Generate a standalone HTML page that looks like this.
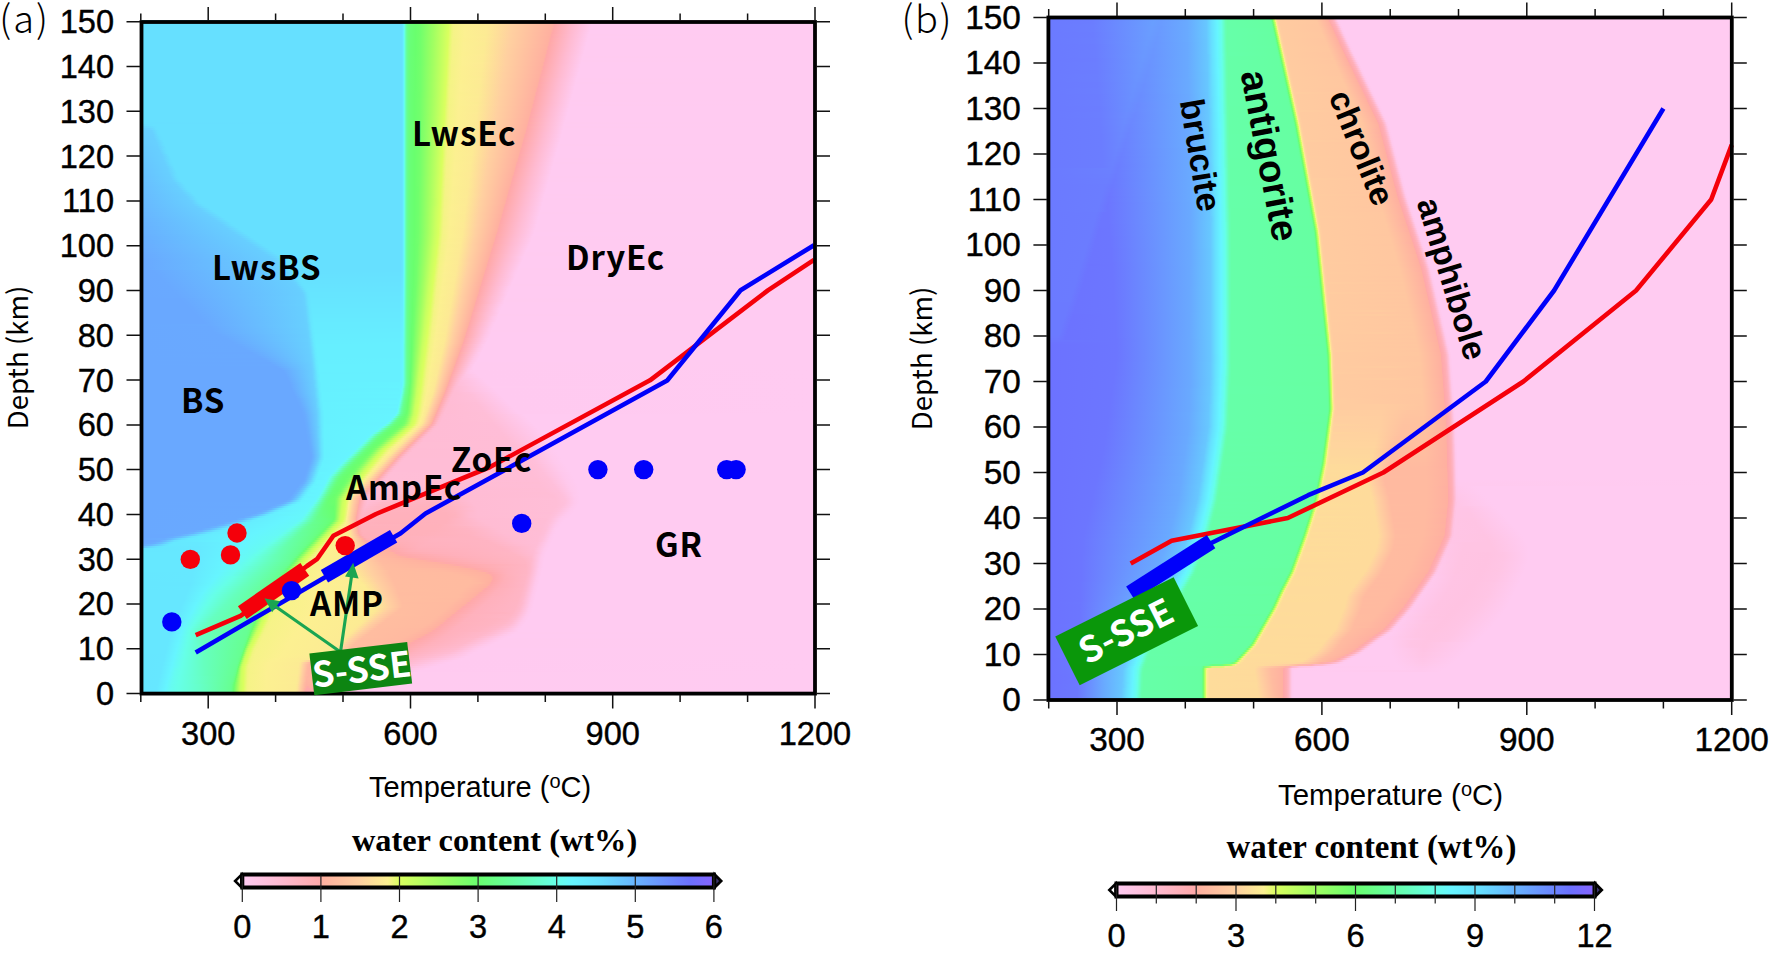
<!DOCTYPE html>
<html><head><meta charset="utf-8"><title>Water content phase diagrams</title>
<style>
html,body{margin:0;padding:0;background:#fff}
#w{position:relative;width:1770px;height:953px;overflow:hidden;background:#fff}
.f{position:absolute;overflow:hidden}
.f i{display:block;height:2px}
svg{position:absolute;left:0;top:0}
.tk{font:32.6px 'Liberation Sans','Noto Sans CJK JP',sans-serif;fill:#000;stroke:#000;stroke-width:.4px}
.tb{font-size:33.4px}
.lb{font:700 33px 'Noto Sans CJK JP','Liberation Sans',sans-serif;fill:#000;letter-spacing:.9px}
</style></head><body><div id="w">
<div class="f" style="left:140px;top:20px;width:676px;height:675px"><i style="background:linear-gradient(90deg,#66e0ff 0,#66e0ff 259.5px,#66e1ff 261.5px,#66e6ff 262.5px,#66f1ff 263.5px,#66ffe7 264.5px,#66ffc0 265.5px,#66ffa0 266.5px,#67ff8e 267.5px,#68ff83 268.5px,#69ff77 270.5px,#69ff6f 274.5px,#71ff6c 280.5px,#9fff62 293.5px,#d8ff5f 308.5px,#ddfe63 309.5px,#eaf877 311.5px,#f4f485 313.5px,#fcf091 325.5px,#fdeb94 347.5px,#ffd0a0 372.5px,#ffb0a0 413.5px,#ffa8a8 415.5px,#ffbad1 434.5px,#ffcbf1 452.5px,#ffcbf1 675.5px)"></i><i style="background:linear-gradient(90deg,#66e0ff 0,#66e0ff 259.5px,#66e1ff 261.5px,#66e6ff 262.5px,#66f1ff 263.5px,#66ffe7 264.5px,#66ffc0 265.5px,#66ffa0 266.5px,#67ff8e 267.5px,#68ff83 268.5px,#69ff77 270.5px,#69ff6e 275.5px,#71ff6c 280.5px,#9fff62 293.5px,#d8ff5f 308.5px,#ddfe64 309.5px,#ebf778 311.5px,#f4f485 313.5px,#fcf091 325.5px,#fdea94 347.5px,#ffd0a0 372.5px,#ffb1a0 412.5px,#ffa8a9 415.5px,#ffbbd1 434.5px,#ffcbf1 452.5px,#ffcbf1 675.5px)"></i><i style="background:linear-gradient(90deg,#66e0ff 0,#66e0ff 259.5px,#66e1ff 261.5px,#66e6ff 262.5px,#66f1ff 263.5px,#66ffe7 264.5px,#66ffc0 265.5px,#66ffa0 266.5px,#67ff8e 267.5px,#68ff83 268.5px,#69ff77 270.5px,#69ff6e 275.5px,#71ff6c 280.5px,#a0ff62 293.5px,#d8ff5f 308.5px,#defd65 309.5px,#f1f581 312.5px,#f4f386 313.5px,#fcf091 325.5px,#fdea94 347.5px,#ffd0a0 372.5px,#ffb0a0 412.5px,#ffa8a8 414.5px,#ffbad1 433.5px,#ffcbf1 451.5px,#ffcbf1 675.5px)"></i><i style="background:linear-gradient(90deg,#66e0ff 0,#66e0ff 259.5px,#66e1ff 261.5px,#66e6ff 262.5px,#66f1ff 263.5px,#66ffe7 264.5px,#66ffc0 265.5px,#66ffa0 266.5px,#67ff8e 267.5px,#68ff83 268.5px,#69ff77 270.5px,#69ff6e 275.5px,#71ff6c 280.5px,#a0ff62 293.5px,#d9ff5f 308.5px,#ecf77a 311.5px,#f5f386 313.5px,#fcf090 324.5px,#fceb93 346.5px,#ffd0a0 371.5px,#ffb1a0 411.5px,#ffa9a9 414.5px,#ffbbd2 433.5px,#ffcbf1 451.5px,#ffcbf1 675.5px)"></i><i style="background:linear-gradient(90deg,#66e0ff 0,#66e0ff 259.5px,#66e1ff 261.5px,#66e6ff 262.5px,#66f1ff 263.5px,#66ffe7 264.5px,#66ffc0 265.5px,#66ffa0 266.5px,#67ff8e 267.5px,#68ff83 268.5px,#69ff77 270.5px,#69ff6e 275.5px,#71ff6c 280.5px,#a0ff62 293.5px,#d9ff5f 308.5px,#edf77b 311.5px,#f5f386 313.5px,#fcf091 324.5px,#fdeb94 346.5px,#ffd0a0 371.5px,#ffb0a0 411.5px,#ffa8a8 413.5px,#ffbad1 432.5px,#ffcbf1 450.5px,#ffcbf1 675.5px)"></i><i style="background:linear-gradient(90deg,#66e0ff 0,#66e0ff 259.5px,#66e1ff 261.5px,#66e6ff 262.5px,#66f1ff 263.5px,#66ffe7 264.5px,#66ffc0 265.5px,#66ffa0 266.5px,#67ff8e 267.5px,#68ff83 268.5px,#69ff77 270.5px,#69ff6e 275.5px,#71ff6c 280.5px,#a0ff62 293.5px,#d9ff5f 308.5px,#edf67c 311.5px,#f5f387 313.5px,#fcf091 324.5px,#fdea94 346.5px,#ffd0a0 371.5px,#ffb1a0 410.5px,#ffa9a9 413.5px,#ffbad0 431.5px,#ffcbf1 450.5px,#ffcbf1 675.5px)"></i><i style="background:linear-gradient(90deg,#66e0ff 0,#66e0ff 259.5px,#66e1ff 261.5px,#66e6ff 262.5px,#66f1ff 263.5px,#66ffe7 264.5px,#66ffc0 265.5px,#66ffa0 266.5px,#67ff8e 267.5px,#68ff83 268.5px,#69ff77 270.5px,#69ff6e 275.5px,#71ff6c 280.5px,#a1ff62 293.5px,#daff5f 308.5px,#eef67c 311.5px,#f5f387 313.5px,#fcf091 324.5px,#fdea94 346.5px,#ffd0a0 370.5px,#ffb0a0 410.5px,#ffa8a8 412.5px,#ffbad1 431.5px,#ffcbf1 449.5px,#ffcbf1 675.5px)"></i><i style="background:linear-gradient(90deg,#66e0ff 0,#66e0ff 259.5px,#66e1ff 261.5px,#66e6ff 262.5px,#66f1ff 263.5px,#66ffe7 264.5px,#66ffc0 265.5px,#66ffa0 266.5px,#67ff8e 267.5px,#68ff83 268.5px,#69ff77 270.5px,#69ff6e 275.5px,#71ff6c 280.5px,#a1ff62 293.5px,#d7ff5f 307.5px,#daff60 308.5px,#eef67d 311.5px,#f5f387 313.5px,#fcf091 324.5px,#fceb93 345.5px,#ffd0a0 370.5px,#ffb1a0 409.5px,#ffa9a7 411.5px,#ffbad0 430.5px,#ffcbf0 448.5px,#ffcbf1 675.5px)"></i><i style="background:linear-gradient(90deg,#66e0ff 0,#66e0ff 259.5px,#66e1ff 261.5px,#66e6ff 262.5px,#66f1ff 263.5px,#66ffe7 264.5px,#66ffc0 265.5px,#66ffa0 266.5px,#67ff8e 267.5px,#68ff83 268.5px,#69ff77 270.5px,#69ff6e 275.5px,#72ff6c 280.5px,#a1ff62 293.5px,#d7ff5f 307.5px,#dbff61 308.5px,#eff67e 311.5px,#f5f387 313.5px,#fcf091 324.5px,#fdeb94 345.5px,#ffd0a0 370.5px,#ffb0a0 409.5px,#ffa8a9 411.5px,#ffbad1 430.5px,#ffcbf1 448.5px,#ffcbf1 675.5px)"></i><i style="background:linear-gradient(90deg,#66e0ff 0,#66e0ff 259.5px,#66e1ff 261.5px,#66e6ff 262.5px,#66f1ff 263.5px,#66ffe7 264.5px,#66ffc0 265.5px,#66ffa0 266.5px,#67ff8e 267.5px,#68ff83 268.5px,#69ff77 270.5px,#69ff6e 275.5px,#72ff6c 280.5px,#a1ff62 293.5px,#d7ff5f 307.5px,#dcfe62 308.5px,#eaf876 310.5px,#f3f484 312.5px,#fcf090 323.5px,#fdea94 345.5px,#ffd0a0 369.5px,#ffb1a0 408.5px,#ffa9a7 410.5px,#ffbad0 429.5px,#ffcbf0 447.5px,#ffcbf1 675.5px)"></i><i style="background:linear-gradient(90deg,#66e0ff 0,#66e0ff 259.5px,#66e1ff 261.5px,#66e6ff 262.5px,#66f1ff 263.5px,#66ffe7 264.5px,#66ffc0 265.5px,#66ffa0 266.5px,#67ff8e 267.5px,#68ff83 268.5px,#69ff77 270.5px,#69ff6e 275.5px,#72ff6c 280.5px,#a1ff62 293.5px,#d8ff5f 307.5px,#dcfe63 308.5px,#eaf877 310.5px,#f4f485 312.5px,#fcf090 323.5px,#fdea94 345.5px,#ffd0a0 369.5px,#ffb0a0 408.5px,#ffa8a9 410.5px,#ffbbd1 429.5px,#ffcbf1 447.5px,#ffcbf1 675.5px)"></i><i style="background:linear-gradient(90deg,#66e0ff 0,#66e0ff 259.5px,#66e1ff 261.5px,#66e6ff 262.5px,#66f1ff 263.5px,#66ffe7 264.5px,#66ffc0 265.5px,#66ffa0 266.5px,#67ff8e 267.5px,#68ff83 268.5px,#69ff77 270.5px,#69ff6e 275.5px,#72ff6c 280.5px,#a2ff62 293.5px,#d8ff5f 307.5px,#ddfe64 308.5px,#ebf878 310.5px,#f4f485 312.5px,#fcf091 323.5px,#fceb93 344.5px,#ffd0a0 369.5px,#ffb1a0 407.5px,#ffa9a7 409.5px,#ffbad0 428.5px,#ffcbf1 446.5px,#ffcbf1 675.5px)"></i><i style="background:linear-gradient(90deg,#66e0ff 0,#66e0ff 259.5px,#66e1ff 261.5px,#66e6ff 262.5px,#66f1ff 263.5px,#66ffe7 264.5px,#66ffc0 265.5px,#66ffa0 266.5px,#67ff8e 267.5px,#68ff83 268.5px,#69ff77 270.5px,#69ff6e 275.5px,#72ff6c 280.5px,#a2ff62 293.5px,#d8ff5f 307.5px,#defd65 308.5px,#f1f581 311.5px,#f4f386 312.5px,#fcf091 323.5px,#fceb93 344.5px,#ffd0a0 368.5px,#ffb0a0 407.5px,#ffa8a9 409.5px,#ffbbd1 428.5px,#ffcbf1 446.5px,#ffcbf1 675.5px)"></i><i style="background:linear-gradient(90deg,#66e0ff 0,#66e0ff 259.5px,#66e1ff 261.5px,#66e6ff 262.5px,#66f1ff 263.5px,#66ffe7 264.5px,#66ffc0 265.5px,#66ffa0 266.5px,#67ff8e 267.5px,#68ff83 268.5px,#69ff76 270.5px,#69ff6e 275.5px,#72ff6c 280.5px,#9eff62 292.5px,#d9ff5f 307.5px,#ecf77a 310.5px,#f5f386 312.5px,#fcf091 323.5px,#fdea94 344.5px,#ffd0a0 368.5px,#ffb1a0 406.5px,#ffa8a8 408.5px,#ffbad0 427.5px,#ffcbf1 445.5px,#ffcbf1 675.5px)"></i><i style="background:linear-gradient(90deg,#66e0ff 0,#66e0ff 259.5px,#66e1ff 261.5px,#66e6ff 262.5px,#66f1ff 263.5px,#66ffe7 264.5px,#66ffc0 265.5px,#66ffa0 266.5px,#67ff8e 267.5px,#68ff83 268.5px,#69ff76 270.5px,#69ff6e 275.5px,#72ff6c 280.5px,#9fff62 292.5px,#d9ff5f 307.5px,#edf77b 310.5px,#f5f386 312.5px,#fcf091 323.5px,#fdea94 344.5px,#ffcfa0 368.5px,#ffb0a0 406.5px,#ffa8a9 408.5px,#ffbbd1 427.5px,#ffcbf1 445.5px,#ffcbf1 675.5px)"></i><i style="background:linear-gradient(90deg,#66e0ff 0,#66e0ff 259.5px,#66e1ff 261.5px,#66e6ff 262.5px,#66f1ff 263.5px,#66ffe7 264.5px,#66ffc0 265.5px,#66ffa0 266.5px,#67ff8e 267.5px,#68ff83 268.5px,#69ff76 270.5px,#69ff6e 275.5px,#72ff6c 280.5px,#9fff62 292.5px,#d9ff5f 307.5px,#edf67c 310.5px,#f5f387 312.5px,#fcf091 323.5px,#fceb93 343.5px,#ffd0a0 367.5px,#ffb1a0 405.5px,#ffa8a8 407.5px,#ffbad0 426.5px,#ffcbf1 444.5px,#ffcbf1 675.5px)"></i><i style="background:linear-gradient(90deg,#66e0ff 0,#66e0ff 259.5px,#66e1ff 261.5px,#66e6ff 262.5px,#66f1ff 263.5px,#66ffe7 264.5px,#66ffc0 265.5px,#66ffa0 266.5px,#67ff8e 267.5px,#68ff83 268.5px,#69ff76 270.5px,#69ff6e 275.5px,#72ff6c 280.5px,#9fff62 292.5px,#daff5f 307.5px,#eef67c 310.5px,#f5f387 312.5px,#fcf090 322.5px,#fceb93 343.5px,#ffd0a0 367.5px,#ffb0a0 405.5px,#ffa8a9 407.5px,#ffbbd2 426.5px,#ffcbf1 444.5px,#ffcbf1 675.5px)"></i><i style="background:linear-gradient(90deg,#66e0ff 0,#66e0ff 259.5px,#66e1ff 261.5px,#66e6ff 262.5px,#66f1ff 263.5px,#66ffe7 264.5px,#66ffc0 265.5px,#66ffa0 266.5px,#67ff8e 267.5px,#68ff83 268.5px,#69ff76 270.5px,#69ff6e 275.5px,#72ff6c 280.5px,#9fff62 292.5px,#d6ff5f 306.5px,#daff5f 307.5px,#eef67d 310.5px,#f5f387 312.5px,#fcf090 322.5px,#fdeb94 343.5px,#ffd0a0 366.5px,#ffb1a0 404.5px,#ffa8a8 406.5px,#ffbad1 425.5px,#ffcbf1 443.5px,#ffcbf1 675.5px)"></i><i style="background:linear-gradient(90deg,#66e0ff 0,#66e0ff 259.5px,#66e1ff 261.5px,#66e6ff 262.5px,#66f1ff 263.5px,#66ffe7 264.5px,#66ffc0 265.5px,#66ffa0 266.5px,#67ff8e 267.5px,#68ff83 268.5px,#69ff76 270.5px,#6aff6e 275.5px,#72ff6c 280.5px,#9fff62 292.5px,#d7ff5f 306.5px,#dbff60 307.5px,#eff67e 310.5px,#f5f387 312.5px,#fcf091 322.5px,#fdea94 343.5px,#ffd0a0 366.5px,#ffb0a0 404.5px,#ffa8a9 406.5px,#ffbad0 424.5px,#ffcbf0 442.5px,#ffcbf1 675.5px)"></i><i style="background:linear-gradient(90deg,#66e0ff 0,#66e0ff 259.5px,#66e1ff 261.5px,#66e6ff 262.5px,#66f1ff 263.5px,#66ffe7 264.5px,#66ffc0 265.5px,#66ffa0 266.5px,#67ff8e 267.5px,#68ff83 268.5px,#69ff76 270.5px,#6aff6e 275.5px,#72ff6c 280.5px,#a0ff62 292.5px,#d7ff5f 306.5px,#dcfe61 307.5px,#eff67e 310.5px,#f6f387 312.5px,#fcf091 322.5px,#fdea94 343.5px,#ffd0a0 366.5px,#ffb1a0 403.5px,#ffa8a8 405.5px,#ffbad1 424.5px,#ffcbf1 442.5px,#ffcbf1 675.5px)"></i><i style="background:linear-gradient(90deg,#66e0ff 0,#66e0ff 259.5px,#66e1ff 261.5px,#66e6ff 262.5px,#66f1ff 263.5px,#66ffe7 264.5px,#66ffc0 265.5px,#66ffa0 266.5px,#67ff8e 267.5px,#68ff83 268.5px,#69ff76 270.5px,#6aff6e 275.5px,#72ff6c 280.5px,#a0ff62 292.5px,#d8ff5f 306.5px,#dcfe62 307.5px,#eaf877 309.5px,#f4f485 311.5px,#fcf091 322.5px,#fceb93 342.5px,#ffd0a0 365.5px,#ffb0a0 403.5px,#ffa8a9 405.5px,#ffbad0 423.5px,#ffcbf0 441.5px,#ffcbf1 675.5px)"></i><i style="background:linear-gradient(90deg,#66e0ff 0,#66e0ff 259.5px,#66e1ff 261.5px,#66e6ff 262.5px,#66f1ff 263.5px,#66ffe7 264.5px,#66ffc0 265.5px,#66ffa0 266.5px,#67ff8e 267.5px,#68ff83 268.5px,#69ff76 270.5px,#6aff6e 275.5px,#72ff6c 280.5px,#a0ff62 292.5px,#d8ff5f 306.5px,#ddfe63 307.5px,#ebf878 309.5px,#f4f485 311.5px,#fcf091 322.5px,#fdeb94 342.5px,#ffd0a0 365.5px,#ffb0a0 402.5px,#ffa8a8 404.5px,#ffbad1 423.5px,#ffcbf1 441.5px,#ffcbf1 675.5px)"></i><i style="background:linear-gradient(90deg,#66e0ff 0,#66e0ff 259.5px,#66e1ff 261.5px,#66e6ff 262.5px,#66f1ff 263.5px,#66ffe7 264.5px,#66ffc0 265.5px,#66ffa0 266.5px,#67ff8e 267.5px,#68ff83 268.5px,#69ff76 270.5px,#6aff6e 275.5px,#72ff6c 280.5px,#a0ff62 292.5px,#d8ff5f 306.5px,#defd65 307.5px,#f1f581 310.5px,#f4f386 311.5px,#fcf091 322.5px,#fdea94 342.5px,#ffd0a0 365.5px,#ffb0a0 402.5px,#ffa9a9 404.5px,#ffbad0 422.5px,#ffcbf1 440.5px,#ffcbf1 675.5px)"></i><i style="background:linear-gradient(90deg,#66e0ff 0,#66e0ff 259.5px,#66e1ff 261.5px,#66e6ff 262.5px,#66f1ff 263.5px,#66ffe7 264.5px,#66ffc0 265.5px,#66ffa0 266.5px,#67ff8e 267.5px,#68ff83 268.5px,#69ff76 270.5px,#6aff6e 275.5px,#73ff6c 280.5px,#a1ff62 292.5px,#d9ff5f 306.5px,#ecf77a 309.5px,#f4f386 311.5px,#fcf090 321.5px,#fdea94 342.5px,#ffd0a0 364.5px,#ffb0a0 401.5px,#ffa8a8 403.5px,#ffbbd1 422.5px,#ffcbf1 440.5px,#ffcbf1 675.5px)"></i><i style="background:linear-gradient(90deg,#66e0ff 0,#66e0ff 259.5px,#66e1ff 261.5px,#66e6ff 262.5px,#66f1ff 263.5px,#66ffe7 264.5px,#66ffc0 265.5px,#66ffa0 266.5px,#67ff8e 267.5px,#68ff83 268.5px,#69ff76 270.5px,#6aff6e 275.5px,#73ff6c 280.5px,#a1ff62 292.5px,#d9ff5f 306.5px,#edf77a 309.5px,#f5f386 311.5px,#fcf090 321.5px,#fceb93 341.5px,#ffd0a0 364.5px,#ffb1a0 400.5px,#ffb0a0 401.5px,#ffa9a9 403.5px,#ffbad0 421.5px,#ffcbf1 439.5px,#ffcbf1 675.5px)"></i><i style="background:linear-gradient(90deg,#66e0ff 0,#66e0ff 259.5px,#66e1ff 261.5px,#66e6ff 262.5px,#66f1ff 263.5px,#66ffe7 264.5px,#66ffc0 265.5px,#66ffa0 266.5px,#67ff8e 267.5px,#68ff83 268.5px,#69ff76 270.5px,#6aff6e 275.5px,#73ff6c 280.5px,#a1ff62 292.5px,#d9ff5f 306.5px,#edf67b 309.5px,#f5f387 311.5px,#fcf091 321.5px,#fdeb94 341.5px,#ffd0a0 364.5px,#ffb0a0 400.5px,#ffa8a8 402.5px,#ffbbd1 421.5px,#ffcbf1 439.5px,#ffcbf1 675.5px)"></i><i style="background:linear-gradient(90deg,#66e0ff 0,#66e0ff 259.5px,#66e1ff 261.5px,#66e6ff 262.5px,#66f1ff 263.5px,#66ffe7 264.5px,#66ffc0 265.5px,#66ffa0 266.5px,#67ff8e 267.5px,#68ff83 268.5px,#69ff76 270.5px,#6aff6e 275.5px,#73ff6c 280.5px,#a1ff62 292.5px,#daff5f 306.5px,#eef67c 309.5px,#f5f387 311.5px,#fcf091 321.5px,#fdea94 341.5px,#ffd0a0 363.5px,#ffb1a0 399.5px,#ffa9a9 402.5px,#ffbad0 420.5px,#ffcbf1 438.5px,#ffcbf1 675.5px)"></i><i style="background:linear-gradient(90deg,#66e0ff 0,#66e0ff 259.5px,#66e1ff 261.5px,#66e6ff 262.5px,#66f1ff 263.5px,#66ffe7 264.5px,#66ffc0 265.5px,#66ffa0 266.5px,#67ff8e 267.5px,#68ff83 268.5px,#69ff76 270.5px,#6aff6e 275.5px,#73ff6c 280.5px,#a2ff62 292.5px,#d6ff5f 305.5px,#daff5f 306.5px,#eef67d 309.5px,#f5f387 311.5px,#fcf091 321.5px,#fdea94 341.5px,#ffd0a0 363.5px,#ffb0a0 399.5px,#ffa8a9 401.5px,#ffbbd1 420.5px,#ffcbf1 438.5px,#ffcbf1 675.5px)"></i><i style="background:linear-gradient(90deg,#66e0ff 0,#66e0ff 259.5px,#66e1ff 261.5px,#66e6ff 262.5px,#66f1ff 263.5px,#66ffe7 264.5px,#66ffc0 265.5px,#66ffa0 266.5px,#67ff8e 267.5px,#68ff83 268.5px,#69ff76 270.5px,#6aff6e 275.5px,#73ff6c 280.5px,#a2ff62 292.5px,#d7ff5f 305.5px,#dbff60 306.5px,#eff67e 309.5px,#f5f387 311.5px,#fcf091 321.5px,#fceb93 340.5px,#ffd0a0 363.5px,#ffb1a0 398.5px,#ffafa1 399.5px,#ffa9a7 400.5px,#ffbad0 419.5px,#ffcbf1 437.5px,#ffcbf1 675.5px)"></i><i style="background:linear-gradient(90deg,#66e0ff 0,#66e0ff 259.5px,#66e1ff 261.5px,#66e6ff 262.5px,#66f1ff 263.5px,#66ffe7 264.5px,#66ffc0 265.5px,#66ffa0 266.5px,#67ff8e 267.5px,#68ff83 268.5px,#69ff76 270.5px,#6aff6e 275.5px,#73ff6c 280.5px,#a2ff62 292.5px,#d7ff5f 305.5px,#dcfe61 306.5px,#eff67e 309.5px,#f6f388 311.5px,#fcf091 321.5px,#fdeb94 340.5px,#ffd0a0 362.5px,#ffb0a0 398.5px,#ffa8a9 400.5px,#ffbad0 418.5px,#ffcbf0 436.5px,#ffcbf1 675.5px)"></i><i style="background:linear-gradient(90deg,#66e0ff 0,#66e0ff 259.5px,#66e1ff 261.5px,#66e6ff 262.5px,#66f1ff 263.5px,#66ffe7 264.5px,#66ffc0 265.5px,#66ffa0 266.5px,#67ff8e 267.5px,#68ff83 268.5px,#69ff76 270.5px,#6aff6e 275.5px,#73ff6c 280.5px,#9eff62 291.5px,#d7ff5f 305.5px,#dcfe62 306.5px,#eaf877 308.5px,#f4f485 310.5px,#fcf090 320.5px,#fdea94 340.5px,#ffd0a0 362.5px,#ffb1a0 397.5px,#ffafa1 398.5px,#ffa9a7 399.5px,#ffbad1 418.5px,#ffcbf1 436.5px,#ffcbf1 675.5px)"></i><i style="background:linear-gradient(90deg,#66e0ff 0,#66e0ff 259.5px,#66e1ff 261.5px,#66e6ff 262.5px,#66f1ff 263.5px,#66ffe7 264.5px,#66ffc0 265.5px,#66ffa0 266.5px,#67ff8e 267.5px,#68ff83 268.5px,#69ff76 270.5px,#6aff6e 275.5px,#73ff6c 280.5px,#9fff62 291.5px,#d8ff5f 305.5px,#ddfe63 306.5px,#ebf878 308.5px,#f4f485 310.5px,#fcf090 320.5px,#fdea94 340.5px,#ffd0a0 362.5px,#ffb0a0 397.5px,#ffa8a9 399.5px,#ffbad0 417.5px,#ffcbf0 435.5px,#ffcbf1 675.5px)"></i><i style="background:linear-gradient(90deg,#66e0ff 0,#66e0ff 259.5px,#66e1ff 261.5px,#66e6ff 262.5px,#66f1ff 263.5px,#66ffe7 264.5px,#66ffc0 265.5px,#66ffa0 266.5px,#67ff8e 267.5px,#68ff83 268.5px,#69ff76 270.5px,#6aff6e 275.5px,#73ff6c 280.5px,#9fff62 291.5px,#d8ff5f 305.5px,#f4f386 310.5px,#fcf091 320.5px,#fceb93 339.5px,#ffd0a0 361.5px,#ffb1a0 396.5px,#ffafa1 397.5px,#ffa9a8 398.5px,#ffbad1 417.5px,#ffcbf1 435.5px,#ffcbf1 675.5px)"></i><i style="background:linear-gradient(90deg,#66e0ff 0,#66e0ff 259.5px,#66e1ff 261.5px,#66e6ff 262.5px,#66f1ff 263.5px,#66ffe7 264.5px,#66ffc0 265.5px,#66ffa0 266.5px,#67ff8e 267.5px,#68ff83 268.5px,#69ff76 270.5px,#6aff6e 275.5px,#73ff6c 280.5px,#9fff62 291.5px,#d9ff5f 305.5px,#ecf779 308.5px,#f4f386 310.5px,#fcf091 320.5px,#fceb93 339.5px,#ffd0a0 361.5px,#ffb0a0 396.5px,#ffa8a9 398.5px,#ffbad0 416.5px,#ffcbf1 434.5px,#ffcbf1 675.5px)"></i><i style="background:linear-gradient(90deg,#66e0ff 0,#66e0ff 259.5px,#66e1ff 261.5px,#66e6ff 262.5px,#66f1ff 263.5px,#66ffe7 264.5px,#66ffc0 265.5px,#66ffa0 266.5px,#67ff8e 267.5px,#68ff83 268.5px,#69ff76 270.5px,#6aff6e 275.5px,#73ff6c 280.5px,#9fff62 291.5px,#d9ff5f 305.5px,#edf77a 308.5px,#f5f386 310.5px,#fcf091 320.5px,#fdea94 339.5px,#ffd0a0 361.5px,#ffb1a0 395.5px,#ffa8a8 397.5px,#ffbad1 416.5px,#ffcbf1 434.5px,#ffcbf1 675.5px)"></i><i style="background:linear-gradient(90deg,#66e0ff 0,#66e0ff 259.5px,#66e1ff 261.5px,#66e6ff 262.5px,#66f1ff 263.5px,#66ffe7 264.5px,#66ffc0 265.5px,#66ffa0 266.5px,#67ff8e 267.5px,#68ff83 268.5px,#69ff76 270.5px,#6aff6e 275.5px,#73ff6c 280.5px,#a0ff62 291.5px,#d9ff5f 305.5px,#edf77b 308.5px,#f5f387 310.5px,#fcf091 320.5px,#fdea94 339.5px,#ffd0a0 360.5px,#ffb0a0 395.5px,#ffa8a9 397.5px,#ffbad0 415.5px,#ffcbf1 433.5px,#ffcbf1 675.5px)"></i><i style="background:linear-gradient(90deg,#66e0ff 0,#66e0ff 259.5px,#66e1ff 261.5px,#66e6ff 262.5px,#66f1ff 263.5px,#66ffe7 264.5px,#66ffc0 265.5px,#66ffa0 266.5px,#67ff8e 267.5px,#68ff83 268.5px,#69ff76 270.5px,#69ff6f 274.5px,#70ff6c 279.5px,#a0ff62 291.5px,#daff5f 305.5px,#eef67c 308.5px,#f5f387 310.5px,#fbf090 319.5px,#fdea94 339.5px,#ffd0a0 360.5px,#ffb1a0 394.5px,#ffa8a8 396.5px,#ffbbd1 415.5px,#ffcbf1 433.5px,#ffcbf1 675.5px)"></i><i style="background:linear-gradient(90deg,#66e0ff 0,#66e0ff 259.5px,#66e1ff 261.5px,#66e6ff 262.5px,#66f1ff 263.5px,#66ffe7 264.5px,#66ffc0 265.5px,#66ffa0 266.5px,#67ff8e 267.5px,#68ff83 268.5px,#69ff76 270.5px,#69ff6f 274.5px,#70ff6c 279.5px,#a0ff62 291.5px,#daff5f 305.5px,#eef67d 308.5px,#f5f387 310.5px,#fcf090 319.5px,#fceb93 338.5px,#ffd0a0 360.5px,#ffb0a0 394.5px,#ffa8a9 396.5px,#ffbad0 414.5px,#ffcbf1 432.5px,#ffcbf1 675.5px)"></i><i style="background:linear-gradient(90deg,#66e0ff 0,#66e0ff 259.5px,#66e1ff 261.5px,#66e6ff 262.5px,#66f1ff 263.5px,#66ffe7 264.5px,#66ffc0 265.5px,#66ffa0 266.5px,#67ff8e 267.5px,#68ff83 268.5px,#69ff76 270.5px,#69ff6f 274.5px,#70ff6c 279.5px,#a0ff62 291.5px,#d7ff5f 304.5px,#dbff60 305.5px,#eff67d 308.5px,#f5f387 310.5px,#fcf091 319.5px,#fdeb94 338.5px,#ffd0a0 359.5px,#ffb1a0 393.5px,#ffa8a8 395.5px,#ffbbd1 414.5px,#ffcbf1 432.5px,#ffcbf1 675.5px)"></i><i style="background:linear-gradient(90deg,#66e0ff 0,#66e0ff 259.5px,#66e1ff 261.5px,#66e6ff 262.5px,#66f1ff 263.5px,#66ffe7 264.5px,#66ffc0 265.5px,#66ffa0 266.5px,#67ff8e 267.5px,#68ff83 268.5px,#69ff76 270.5px,#69ff6f 274.5px,#71ff6c 279.5px,#a1ff62 291.5px,#d7ff5f 304.5px,#dbfe61 305.5px,#e9f875 307.5px,#f3f484 309.5px,#fcf091 319.5px,#fdea94 338.5px,#ffd0a0 359.5px,#ffb0a0 393.5px,#ffa8a9 395.5px,#ffbad0 413.5px,#ffcbf1 431.5px,#ffcbf1 675.5px)"></i><i style="background:linear-gradient(90deg,#66e0ff 0,#66e0ff 259.5px,#66e1ff 261.5px,#66e6ff 262.5px,#66f1ff 263.5px,#66ffe7 264.5px,#66ffc0 265.5px,#66ffa0 266.5px,#67ff8e 267.5px,#68ff83 268.5px,#69ff76 270.5px,#69ff6e 274.5px,#71ff6c 279.5px,#a1ff62 291.5px,#d7ff5f 304.5px,#dcfe62 305.5px,#eaf876 307.5px,#f4f485 309.5px,#fcf091 319.5px,#fdea94 338.5px,#ffcfa0 359.5px,#ffb1a0 392.5px,#ffa8a8 394.5px,#ffbbd1 413.5px,#ffcbf0 430.5px,#ffcbf1 675.5px)"></i><i style="background:linear-gradient(90deg,#66e0ff 0,#66e0ff 259.5px,#66e1ff 261.5px,#66e6ff 262.5px,#66f1ff 263.5px,#66ffe7 264.5px,#66ffc0 265.5px,#66ffa0 266.5px,#67ff8e 267.5px,#68ff83 268.5px,#69ff76 270.5px,#69ff6e 274.5px,#71ff6c 279.5px,#a1ff62 291.5px,#d8ff5f 304.5px,#ddfe63 305.5px,#ebf877 307.5px,#f4f485 309.5px,#fcf091 319.5px,#fceb93 337.5px,#ffd0a0 358.5px,#ffb0a0 392.5px,#ffa9a9 394.5px,#ffbad0 412.5px,#ffcbf1 430.5px,#ffcbf1 675.5px)"></i><i style="background:linear-gradient(90deg,#66e0ff 0,#66e0ff 259.5px,#66e1ff 261.5px,#66e6ff 262.5px,#66f1ff 263.5px,#66ffe7 264.5px,#66ffc0 265.5px,#66ffa0 266.5px,#67ff8e 267.5px,#68ff83 268.5px,#69ff76 270.5px,#69ff6e 274.5px,#71ff6c 279.5px,#a1ff62 291.5px,#d8ff5f 304.5px,#ddfd64 305.5px,#ebf778 307.5px,#f4f385 309.5px,#fcf091 319.5px,#fdeb94 337.5px,#ffd0a0 358.5px,#ffb1a0 391.5px,#ffa8a8 393.5px,#ffbacf 411.5px,#ffcbf0 429.5px,#ffcbf1 675.5px)"></i><i style="background:linear-gradient(90deg,#66e0ff 0,#66e0ff 259.5px,#66e1ff 261.5px,#66e6ff 262.5px,#66f1ff 263.5px,#66ffe7 264.5px,#66ffc0 265.5px,#66ffa0 266.5px,#67ff8e 267.5px,#68ff83 268.5px,#69ff76 270.5px,#69ff6e 274.5px,#71ff6c 279.5px,#a2ff62 291.5px,#d8ff5f 304.5px,#f1f581 308.5px,#f4f386 309.5px,#fcf090 318.5px,#fdea94 337.5px,#ffcfa0 358.5px,#ffb0a0 391.5px,#ffa9a9 393.5px,#ffbad1 411.5px,#ffcbf1 429.5px,#ffcbf1 675.5px)"></i><i style="background:linear-gradient(90deg,#66e0ff 0,#66e0ff 259.5px,#66e1ff 261.5px,#66e6ff 262.5px,#66f1ff 263.5px,#66ffe7 264.5px,#66ffc0 265.5px,#66ffa0 266.5px,#67ff8e 267.5px,#68ff83 268.5px,#69ff76 270.5px,#69ff6e 274.5px,#71ff6c 279.5px,#a2ff62 291.5px,#d9ff5f 304.5px,#ecf77a 307.5px,#f5f386 309.5px,#fcf090 318.5px,#fdea94 337.5px,#ffd0a0 357.5px,#ffb1a0 390.5px,#ffa8a8 392.5px,#ffbad0 410.5px,#ffcbf1 428.5px,#ffcbf1 675.5px)"></i><i style="background:linear-gradient(90deg,#66e0ff 0,#66e0ff 259.5px,#66e1ff 261.5px,#66e6ff 262.5px,#66f1ff 263.5px,#66ffe7 264.5px,#66ffc0 265.5px,#66ffa0 266.5px,#67ff8e 267.5px,#68ff83 268.5px,#69ff76 270.5px,#69ff6e 274.5px,#71ff6c 279.5px,#a2ff62 291.5px,#d9ff5f 304.5px,#edf77b 307.5px,#f5f387 309.5px,#fcf091 318.5px,#fceb93 336.5px,#ffd0a0 357.5px,#ffb0a0 390.5px,#ffa9a7 391.5px,#ffa9a9 392.5px,#ffbad1 410.5px,#ffcbf1 428.5px,#ffcbf1 675.5px)"></i><i style="background:linear-gradient(90deg,#66e0ff 0,#66e0ff 259.5px,#66e1ff 261.5px,#66e6ff 262.5px,#66f1ff 263.5px,#66ffe7 264.5px,#66ffc0 265.5px,#66ffa0 266.5px,#67ff8e 267.5px,#68ff83 268.5px,#69ff76 270.5px,#69ff6e 274.5px,#71ff6c 279.5px,#a2ff62 291.5px,#daff5f 304.5px,#eef67c 307.5px,#f5f387 309.5px,#fcf091 318.5px,#fdeb94 336.5px,#ffcfa0 357.5px,#ffb1a0 389.5px,#ffa8a9 391.5px,#ffbad0 409.5px,#ffcbf1 427.5px,#ffcbf1 675.5px)"></i><i style="background:linear-gradient(90deg,#66e0ff 0,#66e0ff 259.5px,#66e1ff 261.5px,#66e6ff 262.5px,#66f1ff 263.5px,#66ffe7 264.5px,#66ffc0 265.5px,#66ffa0 266.5px,#67ff8e 267.5px,#68ff83 268.5px,#69ff76 270.5px,#69ff6e 274.5px,#71ff6c 279.5px,#9eff62 290.5px,#daff5f 304.5px,#eef67d 307.5px,#f5f387 309.5px,#fcf091 318.5px,#fdea94 336.5px,#ffd0a0 356.5px,#ffb1a0 388.5px,#ffb0a0 389.5px,#ffa9a7 390.5px,#ffbad1 409.5px,#ffcbf1 427.5px,#ffcbf1 675.5px)"></i><i style="background:linear-gradient(90deg,#66e0ff 0,#66e0ff 259.5px,#66e1ff 261.5px,#66e6ff 262.5px,#66f1ff 263.5px,#66ffe7 264.5px,#66ffc0 265.5px,#66ffa0 266.5px,#67ff8e 267.5px,#68ff83 268.5px,#69ff76 270.5px,#69ff6e 274.5px,#71ff6c 279.5px,#9fff62 290.5px,#d7ff5f 303.5px,#dbff60 304.5px,#eff67d 307.5px,#f5f387 309.5px,#fcf091 318.5px,#fdea94 336.5px,#ffd0a0 356.5px,#ffb1a0 388.5px,#ffa8a9 390.5px,#ffbad0 408.5px,#ffcbf1 426.5px,#ffcbf1 675.5px)"></i><i style="background:linear-gradient(90deg,#66e0ff 0,#66e0ff 259.5px,#66e1ff 261.5px,#66e6ff 262.5px,#66f1ff 263.5px,#66ffe7 264.5px,#66ffc0 265.5px,#66ffa0 266.5px,#67ff8e 267.5px,#68ff83 268.5px,#69ff76 270.5px,#69ff6e 274.5px,#71ff6c 279.5px,#9fff62 290.5px,#d7ff5f 303.5px,#dbfe61 304.5px,#eff67e 307.5px,#f6f388 309.5px,#fcf091 318.5px,#fdea94 336.5px,#ffd0a0 355.5px,#ffb1a0 387.5px,#ffb0a1 388.5px,#ffa9a7 389.5px,#ffbbd1 408.5px,#ffcbf1 426.5px,#ffcbf1 675.5px)"></i><i style="background:linear-gradient(90deg,#66e0ff 0,#66e0ff 259.5px,#66e1ff 261.5px,#66e6ff 262.5px,#66f1ff 263.5px,#66ffe7 264.5px,#66ffc0 265.5px,#66ffa0 266.5px,#67ff8e 267.5px,#68ff83 268.5px,#69ff76 270.5px,#69ff6e 274.5px,#71ff6c 279.5px,#9fff62 290.5px,#d7ff5f 303.5px,#dcfe62 304.5px,#eaf876 306.5px,#f4f485 308.5px,#fcf090 317.5px,#fdeb94 335.5px,#ffd0a0 355.5px,#ffb0a0 387.5px,#ffa8a9 389.5px,#ffbad0 407.5px,#ffcbf1 425.5px,#ffcbf1 675.5px)"></i><i style="background:linear-gradient(90deg,#66dfff 0,#66e0ff 259.5px,#66e1ff 261.5px,#66e6ff 262.5px,#66f1ff 263.5px,#66ffe7 264.5px,#66ffc0 265.5px,#66ffa0 266.5px,#67ff8e 267.5px,#68ff83 268.5px,#69ff76 270.5px,#69ff6e 274.5px,#71ff6c 279.5px,#9fff62 290.5px,#d8ff5f 303.5px,#ddfe63 304.5px,#eaf877 306.5px,#f4f485 308.5px,#fcf090 317.5px,#fdea94 335.5px,#ffd0a0 355.5px,#ffb1a0 386.5px,#ffafa1 387.5px,#ffa9a7 388.5px,#ffbbd1 407.5px,#ffcbf0 424.5px,#ffcbf1 675.5px)"></i><i style="background:linear-gradient(90deg,#66d9ff 0,#66e0ff 13.5px,#66e0ff 259.5px,#66e1ff 261.5px,#66e6ff 262.5px,#66f1ff 263.5px,#66ffe7 264.5px,#66ffc0 265.5px,#66ffa0 266.5px,#67ff8e 267.5px,#68ff83 268.5px,#69ff76 270.5px,#6aff6e 275.5px,#71ff6c 279.5px,#a0ff62 290.5px,#d8ff5f 303.5px,#ddfe64 304.5px,#ebf778 306.5px,#f4f385 308.5px,#fcf091 317.5px,#fdea94 335.5px,#ffd0a0 354.5px,#ffb0a0 386.5px,#ffa8a9 388.5px,#ffbad0 406.5px,#ffcbf1 424.5px,#ffcbf1 675.5px)"></i><i style="background:linear-gradient(90deg,#67d1ff 0,#66e0ff 17.5px,#66e0ff 259.5px,#66e1ff 261.5px,#66e6ff 262.5px,#66f1ff 263.5px,#66ffe7 264.5px,#66ffc0 265.5px,#66ffa0 266.5px,#67ff8e 267.5px,#68ff83 268.5px,#69ff76 270.5px,#6aff6e 275.5px,#72ff6c 279.5px,#a0ff62 290.5px,#d8ff5f 303.5px,#f1f581 307.5px,#f4f386 308.5px,#fcf091 317.5px,#fdea94 335.5px,#ffd0a0 354.5px,#ffb1a0 385.5px,#ffafa1 386.5px,#ffa9a8 387.5px,#ffbbd1 406.5px,#ffcbf0 423.5px,#ffcbf1 675.5px)"></i><i style="background:linear-gradient(90deg,#67cfff 0,#67d2ff 9.5px,#66dfff 16.5px,#66e0ff 19.5px,#66e0ff 259.5px,#66e1ff 261.5px,#66e6ff 262.5px,#66f1ff 263.5px,#66ffe7 264.5px,#66ffc0 265.5px,#66ffa0 266.5px,#67ff8e 267.5px,#68ff83 268.5px,#69ff76 270.5px,#69ff6e 274.5px,#72ff6c 279.5px,#a0ff62 290.5px,#d9ff5f 303.5px,#ecf77a 306.5px,#f5f386 308.5px,#fcf091 317.5px,#fceb93 334.5px,#ffd0a0 354.5px,#ffb0a0 385.5px,#ffa8a9 387.5px,#ffbad0 405.5px,#ffcbf1 423.5px,#ffcbf1 675.5px)"></i><i style="background:linear-gradient(90deg,#67cfff 0,#67d0ff 11.5px,#66deff 17.5px,#66e0ff 20.5px,#66e0ff 259.5px,#66e1ff 261.5px,#66e6ff 262.5px,#66f1ff 263.5px,#66ffe7 264.5px,#66ffc0 265.5px,#66ffa0 266.5px,#67ff8e 267.5px,#68ff83 268.5px,#69ff76 270.5px,#69ff6e 274.5px,#72ff6c 279.5px,#a0ff62 290.5px,#d9ff5f 303.5px,#edf77b 306.5px,#f5f387 308.5px,#fcf091 317.5px,#fdea94 334.5px,#ffd0a0 353.5px,#ffb1a0 384.5px,#ffafa1 385.5px,#ffa8a8 386.5px,#ffbacf 404.5px,#ffcbf1 422.5px,#ffcbf1 675.5px)"></i><i style="background:linear-gradient(90deg,#67ceff 0,#67d0ff 12.5px,#6df 17.5px,#66e0ff 20.5px,#66e0ff 259.5px,#66e1ff 261.5px,#66e6ff 262.5px,#66f1ff 263.5px,#66ffe7 264.5px,#66ffc0 265.5px,#66ffa0 266.5px,#67ff8e 267.5px,#68ff83 268.5px,#69ff76 270.5px,#69ff6e 274.5px,#72ff6c 279.5px,#a1ff62 290.5px,#d9ff5f 303.5px,#eef67c 306.5px,#f5f387 308.5px,#fbf090 316.5px,#fdea94 334.5px,#ffd0a0 353.5px,#ffb0a0 384.5px,#ffa9a9 386.5px,#ffbad1 404.5px,#ffcbf1 422.5px,#ffcbf1 675.5px)"></i><i style="background:linear-gradient(90deg,#67cdff 0,#67d0ff 13.5px,#6df 18.5px,#66e0ff 21.5px,#66e0ff 259.5px,#66e1ff 261.5px,#66e6ff 262.5px,#66f1ff 263.5px,#66ffe7 264.5px,#66ffc0 265.5px,#66ffa0 266.5px,#67ff8e 267.5px,#68ff83 268.5px,#69ff76 270.5px,#69ff6e 274.5px,#72ff6c 279.5px,#a1ff62 290.5px,#daff5f 303.5px,#eef67c 306.5px,#f5f387 308.5px,#fcf090 316.5px,#fdea94 334.5px,#ffd0a0 353.5px,#ffb1a0 383.5px,#ffa8a8 385.5px,#ffbad0 403.5px,#ffcbf1 421.5px,#ffcbf1 675.5px)"></i><i style="background:linear-gradient(90deg,#67cdff 0,#67cfff 13.5px,#6df 19.5px,#66e0ff 22.5px,#66e0ff 259.5px,#66e1ff 261.5px,#66e6ff 262.5px,#66f1ff 263.5px,#66ffe7 264.5px,#66ffc0 265.5px,#66ffa0 266.5px,#67ff8e 267.5px,#68ff83 268.5px,#69ff76 270.5px,#69ff6e 274.5px,#72ff6c 279.5px,#a1ff62 290.5px,#d7ff5f 302.5px,#daff60 303.5px,#eff67d 306.5px,#f5f387 308.5px,#fcf090 316.5px,#fceb93 333.5px,#ffd0a0 352.5px,#ffb0a0 383.5px,#ffaaa6 384.5px,#ffa9a9 385.5px,#ffbad1 403.5px,#ffcbf1 421.5px,#ffcbf1 675.5px)"></i><i style="background:linear-gradient(90deg,#67ccff 0,#67cfff 14.5px,#66deff 20.5px,#66e0ff 23.5px,#66e0ff 259.5px,#66e1ff 261.5px,#66e6ff 262.5px,#66f1ff 263.5px,#66ffe7 264.5px,#66ffc0 265.5px,#66ffa0 266.5px,#67ff8e 267.5px,#68ff83 268.5px,#69ff76 270.5px,#69ff6e 274.5px,#72ff6c 279.5px,#a2ff62 290.5px,#d7ff5f 302.5px,#dbff61 303.5px,#e9f875 305.5px,#f3f484 307.5px,#fcf091 316.5px,#fdea94 333.5px,#ffd0a0 352.5px,#ffb1a0 382.5px,#ffa8a9 384.5px,#ffbad0 402.5px,#ffcbf1 420.5px,#ffcbf1 675.5px)"></i><i style="background:linear-gradient(90deg,#67cbff 0,#67d0ff 15.5px,#66e0ff 23.5px,#66e0ff 259.5px,#66e1ff 261.5px,#66e6ff 262.5px,#66f1ff 263.5px,#66ffe7 264.5px,#66ffc0 265.5px,#66ffa0 266.5px,#67ff8e 267.5px,#68ff83 268.5px,#69ff76 270.5px,#69ff6e 274.5px,#72ff6c 279.5px,#a2ff62 290.5px,#d7ff5f 302.5px,#dcfe62 303.5px,#eaf876 305.5px,#f4f485 307.5px,#fcf091 316.5px,#fdea94 333.5px,#ffcfa0 352.5px,#ffb1a0 381.5px,#ffb0a1 382.5px,#ffa9a7 383.5px,#ffbbd1 402.5px,#ffcbf1 420.5px,#ffcbf1 675.5px)"></i><i style="background:linear-gradient(90deg,#67cbff 0,#67d0ff 16.5px,#66e0ff 24.5px,#66e0ff 259.5px,#66e1ff 261.5px,#66e6ff 262.5px,#66f1ff 263.5px,#66ffe7 264.5px,#66ffc0 265.5px,#66ffa0 266.5px,#67ff8e 267.5px,#68ff83 268.5px,#69ff76 270.5px,#69ff6e 274.5px,#72ff6c 279.5px,#a2ff62 290.5px,#d8ff5f 302.5px,#ddfe63 303.5px,#eaf877 305.5px,#f4f485 307.5px,#fcf091 316.5px,#fdea94 333.5px,#ffd0a0 351.5px,#ffb0a0 381.5px,#ffa8a9 383.5px,#ffbad0 401.5px,#ffcbf1 419.5px,#ffcbf1 675.5px)"></i><i style="background:linear-gradient(90deg,#67caff 0,#67d0ff 17.5px,#66dcff 22.5px,#66e0ff 25.5px,#66e0ff 259.5px,#66e1ff 261.5px,#66e6ff 262.5px,#66f1ff 263.5px,#66ffe7 264.5px,#66ffc0 265.5px,#66ffa0 266.5px,#67ff8e 267.5px,#68ff83 268.5px,#69ff76 270.5px,#69ff6e 274.5px,#72ff6c 279.5px,#a2ff62 290.5px,#d8ff5f 302.5px,#ddfe64 303.5px,#ebf878 305.5px,#f4f385 307.5px,#fcf091 316.5px,#fceb93 332.5px,#ffd0a0 351.5px,#ffb1a0 380.5px,#ffafa1 381.5px,#ffa8a8 382.5px,#ffbbd1 401.5px,#ffcbf0 418.5px,#ffcbf1 675.5px)"></i><i style="background:linear-gradient(90deg,#67c9ff 0,#67cfff 17.5px,#66e0ff 26.5px,#66e0ff 259.5px,#66e1ff 261.5px,#66e6ff 262.5px,#66f1ff 263.5px,#66ffe7 264.5px,#66ffc0 265.5px,#66ffa0 266.5px,#67ff8e 267.5px,#68ff83 268.5px,#69ff76 270.5px,#69ff6e 274.5px,#72ff6c 279.5px,#9eff62 289.5px,#d8ff5f 302.5px,#defd65 303.5px,#f1f581 306.5px,#f4f386 307.5px,#fbf090 315.5px,#fdeb94 332.5px,#ffcfa0 351.5px,#ffb0a0 380.5px,#ffa9a9 382.5px,#ffbad1 400.5px,#ffcbf1 418.5px,#ffcbf1 675.5px)"></i><i style="background:linear-gradient(90deg,#67c9ff 0,#67cfff 18.5px,#6df 24.5px,#66e0ff 27.5px,#66e0ff 259.5px,#66e1ff 261.5px,#66e6ff 262.5px,#66f1ff 263.5px,#66ffe7 264.5px,#66ffc0 265.5px,#66ffa0 266.5px,#67ff8e 267.5px,#68ff83 268.5px,#69ff76 270.5px,#69ff6e 274.5px,#72ff6c 279.5px,#9eff62 289.5px,#d9ff5f 302.5px,#ecf77a 305.5px,#f5f386 307.5px,#fcf090 315.5px,#fdea94 332.5px,#ffd0a0 350.5px,#ffb1a0 379.5px,#ffa8a8 381.5px,#ffbad0 399.5px,#ffcbf1 417.5px,#ffcbf1 675.5px)"></i><i style="background:linear-gradient(90deg,#67c8ff 0,#67cfff 19.5px,#6df 25.5px,#66e0ff 28.5px,#66e0ff 259.5px,#66e1ff 261.5px,#66e6ff 262.5px,#66f1ff 263.5px,#66ffe7 264.5px,#66ffc0 265.5px,#66ffa0 266.5px,#67ff8e 267.5px,#68ff83 268.5px,#69ff76 270.5px,#69ff6e 274.5px,#72ff6c 279.5px,#9fff62 289.5px,#d9ff5f 302.5px,#edf77b 305.5px,#f5f387 307.5px,#fcf090 315.5px,#fdea94 332.5px,#ffd0a0 350.5px,#ffb0a0 379.5px,#ffa9a7 380.5px,#ffa9a9 381.5px,#ffbad1 399.5px,#ffcbf1 417.5px,#ffcbf1 675.5px)"></i><i style="background:linear-gradient(90deg,#67c7ff 0,#67cfff 20.5px,#66deff 26.5px,#66e0ff 29.5px,#66e0ff 259.5px,#66e1ff 261.5px,#66e6ff 262.5px,#66f1ff 263.5px,#66ffe7 264.5px,#66ffc0 265.5px,#66ffa0 266.5px,#67ff8e 267.5px,#68ff83 268.5px,#69ff76 270.5px,#69ff6e 274.5px,#72ff6c 279.5px,#9fff62 289.5px,#d9ff5f 302.5px,#edf67c 305.5px,#f5f387 307.5px,#fcf091 315.5px,#fdea94 332.5px,#ffd0a0 349.5px,#ffb1a0 378.5px,#ffa8a9 380.5px,#ffbad0 398.5px,#ffcbf1 416.5px,#ffcbf1 675.5px)"></i><i style="background:linear-gradient(90deg,#67c7ff 0,#67cfff 21.5px,#66e0ff 29.5px,#66e0ff 259.5px,#66e1ff 261.5px,#66e6ff 262.5px,#66f1ff 263.5px,#66ffe7 264.5px,#66ffc0 265.5px,#66ffa0 266.5px,#67ff8e 267.5px,#68ff83 268.5px,#69ff76 270.5px,#69ff6e 274.5px,#73ff6c 279.5px,#9fff62 289.5px,#daff5f 302.5px,#eef67c 305.5px,#f5f387 307.5px,#fcf091 315.5px,#fdeb94 331.5px,#ffd0a0 349.5px,#ffb1a0 377.5px,#ffb0a0 378.5px,#ffa9a7 379.5px,#ffbbd1 398.5px,#ffcbf1 416.5px,#ffcbf1 675.5px)"></i><i style="background:linear-gradient(90deg,#67c6ff 0,#67cfff 22.5px,#66e0ff 30.5px,#66e0ff 259.5px,#66e1ff 261.5px,#66e6ff 262.5px,#66f1ff 263.5px,#66ffe7 264.5px,#66ffc0 265.5px,#66ffa0 266.5px,#67ff8e 267.5px,#68ff83 268.5px,#69ff76 270.5px,#69ff6e 274.5px,#73ff6c 279.5px,#a0ff62 289.5px,#d6ff5f 301.5px,#daff5f 302.5px,#eef67d 305.5px,#f5f387 307.5px,#fcf091 315.5px,#fdea94 331.5px,#ffd0a0 349.5px,#ffb1a0 377.5px,#ffa8a9 379.5px,#ffbad0 397.5px,#ffcbf1 415.5px,#ffcbf1 675.5px)"></i><i style="background:linear-gradient(90deg,#67c5ff 0,#67cfff 22.5px,#66e0ff 31.5px,#66e0ff 259.5px,#66e1ff 261.5px,#66e6ff 262.5px,#66f1ff 263.5px,#66ffe7 264.5px,#66ffc0 265.5px,#66ffa0 266.5px,#67ff8e 267.5px,#68ff83 268.5px,#69ff76 270.5px,#69ff6e 274.5px,#73ff6c 279.5px,#a0ff62 289.5px,#d7ff5f 301.5px,#dbff60 302.5px,#e9f875 304.5px,#f3f484 306.5px,#fcf091 315.5px,#fdea94 331.5px,#ffd0a0 348.5px,#ffb1a0 376.5px,#ffafa1 377.5px,#ffa8a8 378.5px,#ffbbd1 397.5px,#ffcbf0 414.5px,#ffcbf1 675.5px)"></i><i style="background:linear-gradient(90deg,#67c5ff 0,#67cfff 23.5px,#6df 29.5px,#66e0ff 32.5px,#66e0ff 259.5px,#66e1ff 261.5px,#66e6ff 262.5px,#66f1ff 263.5px,#66ffe7 264.5px,#66ffc0 265.5px,#66ffa0 266.5px,#67ff8e 267.5px,#68ff83 268.5px,#69ff76 270.5px,#69ff6e 274.5px,#73ff6c 279.5px,#a0ff62 289.5px,#d7ff5f 301.5px,#dcfe61 302.5px,#eaf876 304.5px,#f4f485 306.5px,#fbf090 314.5px,#fdea94 331.5px,#ffd0a0 348.5px,#ffb0a0 376.5px,#ffa9a9 378.5px,#ffbad0 396.5px,#ffcbf1 414.5px,#ffcbf1 675.5px)"></i><i style="background:linear-gradient(90deg,#67c4ff 0,#67cfff 24.5px,#6df 30.5px,#66e0ff 33.5px,#66e0ff 259.5px,#66e1ff 261.5px,#66e6ff 262.5px,#66f1ff 263.5px,#66ffe7 264.5px,#66ffc0 265.5px,#66ffa0 266.5px,#67ff8e 267.5px,#68ff83 268.5px,#69ff76 270.5px,#69ff6e 274.5px,#73ff6c 279.5px,#a0ff62 289.5px,#d8ff5f 301.5px,#dcfe62 302.5px,#eaf877 304.5px,#f4f485 306.5px,#fcf090 314.5px,#fdeb94 330.5px,#ffcfa0 348.5px,#ffb1a0 375.5px,#ffa8a8 377.5px,#ffbad0 395.5px,#ffcbf0 413.5px,#ffcbf1 675.5px)"></i><i style="background:linear-gradient(90deg,#67c3ff 0,#67cfff 25.5px,#6df 31.5px,#66e0ff 34.5px,#66e0ff 259.5px,#66e1ff 261.5px,#66e6ff 262.5px,#66f1ff 263.5px,#66ffe7 264.5px,#66ffc0 265.5px,#66ffa0 266.5px,#67ff8e 267.5px,#68ff83 268.5px,#69ff76 270.5px,#69ff6e 274.5px,#73ff6c 279.5px,#a1ff62 289.5px,#d8ff5f 301.5px,#ddfe64 302.5px,#ebf878 304.5px,#f4f385 306.5px,#fcf091 314.5px,#fdea94 330.5px,#ffd0a0 347.5px,#ffb0a0 375.5px,#ffa9a7 376.5px,#ffa9aa 377.5px,#ffbad1 395.5px,#ffcbf1 413.5px,#ffcbf1 675.5px)"></i><i style="background:linear-gradient(90deg,#67c3ff 0,#67cfff 26.5px,#66e0ff 34.5px,#66e0ff 259.5px,#66e1ff 261.5px,#66e6ff 262.5px,#66f1ff 263.5px,#66ffe7 264.5px,#66ffc0 265.5px,#66ffa0 266.5px,#67ff8e 267.5px,#68ff83 268.5px,#69ff76 270.5px,#69ff6e 274.5px,#73ff6c 279.5px,#a1ff62 289.5px,#d8ff5f 301.5px,#defd65 302.5px,#f1f581 305.5px,#f4f386 306.5px,#fcf091 314.5px,#fdea94 330.5px,#ffd0a0 347.5px,#ffb1a0 374.5px,#ffa8a9 376.5px,#ffbad0 394.5px,#ffcbf1 412.5px,#ffcbf1 675.5px)"></i><i style="background:linear-gradient(90deg,#67c2ff 0,#67cfff 27.5px,#66e0ff 35.5px,#66e0ff 259.5px,#66e1ff 261.5px,#66e6ff 262.5px,#66f1ff 263.5px,#66ffe7 264.5px,#66ffc0 265.5px,#66ffa0 266.5px,#67ff8e 267.5px,#68ff83 268.5px,#69ff76 270.5px,#69ff6e 274.5px,#73ff6c 279.5px,#a1ff62 289.5px,#d9ff5f 301.5px,#ecf77a 304.5px,#f5f386 306.5px,#fcf091 314.5px,#fdea94 330.5px,#ffcfa0 347.5px,#ffb0a0 374.5px,#ffa9a7 375.5px,#ffbbd1 394.5px,#ffcbf1 412.5px,#ffcbf1 675.5px)"></i><i style="background:linear-gradient(90deg,#67c1ff 0,#67cfff 27.5px,#66e0ff 36.5px,#66e0ff 259.5px,#66e1ff 261.5px,#66e6ff 262.5px,#66f1ff 263.5px,#66ffe7 264.5px,#66ffc0 265.5px,#66ffa0 266.5px,#67ff8e 267.5px,#68ff83 268.5px,#69ff76 270.5px,#69ff6e 274.5px,#73ff6c 279.5px,#a2ff62 289.5px,#d9ff5f 301.5px,#edf77b 304.5px,#f5f387 306.5px,#fcf091 314.5px,#fceb93 329.5px,#ffd0a0 346.5px,#ffb1a0 373.5px,#ffa8a9 375.5px,#ffbad0 393.5px,#ffcbf1 411.5px,#ffcbf1 675.5px)"></i><i style="background:linear-gradient(90deg,#67c1ff 0,#67cfff 28.5px,#66e0ff 37.5px,#66e0ff 259.5px,#66e1ff 261.5px,#66e6ff 262.5px,#66f1ff 263.5px,#66ffe7 264.5px,#66ffc0 265.5px,#66ffa0 266.5px,#67ff8e 267.5px,#68ff83 268.5px,#69ff76 270.5px,#69ff6e 274.5px,#73ff6c 279.5px,#a2ff62 289.5px,#d9ff5f 301.5px,#edf67b 304.5px,#f5f387 306.5px,#fbf090 313.5px,#fdea94 329.5px,#ffd0a0 346.5px,#ffb1a0 372.5px,#ffafa1 373.5px,#ffa8a8 374.5px,#ffbbd1 393.5px,#ffcbf1 411.5px,#ffcbf1 675.5px)"></i><i style="background:linear-gradient(90deg,#67c0ff 0,#67cfff 29.5px,#6df 35.5px,#66e0ff 38.5px,#66e0ff 259.5px,#66e1ff 261.5px,#66e6ff 262.5px,#66f1ff 263.5px,#66ffe7 264.5px,#66ffc0 265.5px,#66ffa0 266.5px,#67ff8e 267.5px,#68ff83 268.5px,#69ff76 270.5px,#69ff6e 274.5px,#73ff6c 279.5px,#a2ff62 289.5px,#daff5f 301.5px,#f3f483 305.5px,#f7f289 307.5px,#fbf090 313.5px,#fdea94 329.5px,#ffd1a0 345.5px,#ffb0a0 372.5px,#ffa9a9 374.5px,#ffbad0 392.5px,#ffcbf1 410.5px,#ffcbf1 675.5px)"></i><i style="background:linear-gradient(90deg,#67bfff 0,#67cfff 30.5px,#6df 36.5px,#66e0ff 39.5px,#66e0ff 259.5px,#66e1ff 261.5px,#66e6ff 262.5px,#66f1ff 263.5px,#66ffe7 264.5px,#66ffc0 265.5px,#66ffa0 266.5px,#67ff8e 267.5px,#68ff83 268.5px,#69ff76 270.5px,#69ff6e 274.5px,#74ff6c 279.5px,#a3ff62 289.5px,#d6ff5f 300.5px,#daff5f 301.5px,#eef67d 304.5px,#f6f387 306.5px,#fcf090 313.5px,#fdea94 329.5px,#ffd0a0 345.5px,#ffb1a0 371.5px,#ffa8a8 373.5px,#ffbad0 391.5px,#ffcbf0 409.5px,#ffcbf1 675.5px)"></i><i style="background:linear-gradient(90deg,#68bfff 0,#67cfff 31.5px,#6df 37.5px,#66e0ff 40.5px,#66e0ff 259.5px,#66e1ff 261.5px,#66e6ff 262.5px,#66f1ff 263.5px,#66ffe7 264.5px,#66ffc0 265.5px,#66ffa0 266.5px,#67ff8e 267.5px,#68ff83 268.5px,#69ff76 270.5px,#69ff6e 274.5px,#74ff6c 279.5px,#a3ff62 289.5px,#d7ff5f 300.5px,#dbff60 301.5px,#f3f484 305.5px,#fcf091 313.5px,#fceb93 328.5px,#ffd0a0 345.5px,#ffb0a0 371.5px,#ffa9a7 372.5px,#ffa9aa 373.5px,#ffbad1 391.5px,#ffcbf1 409.5px,#ffcbf1 675.5px)"></i><i style="background:linear-gradient(90deg,#68beff 0,#67cfff 32.5px,#66deff 39.5px,#66e0ff 42.5px,#66e0ff 259.5px,#66e1ff 261.5px,#66e6ff 262.5px,#66f1ff 263.5px,#66ffe7 264.5px,#66ffc0 265.5px,#66ffa0 266.5px,#67ff8e 267.5px,#68ff83 268.5px,#69ff76 270.5px,#69ff6e 274.5px,#74ff6c 279.5px,#9eff62 288.5px,#d7ff5f 300.5px,#dcfe61 301.5px,#e9f876 303.5px,#f4f485 305.5px,#fcf091 313.5px,#fdea94 328.5px,#ffd0a0 344.5px,#ffb1a0 370.5px,#ffa8a9 372.5px,#ffbad0 390.5px,#ffcbf0 408.5px,#ffcbf1 675.5px)"></i><i style="background:linear-gradient(90deg,#68bdff 0,#67cfff 34.5px,#66e0ff 43.5px,#66e0ff 259.5px,#66e1ff 261.5px,#66e6ff 262.5px,#66f1ff 263.5px,#66ffe7 264.5px,#66ffc0 265.5px,#66ffa0 266.5px,#67ff8e 267.5px,#68ff83 268.5px,#69ff76 270.5px,#69ff6e 274.5px,#74ff6c 279.5px,#9eff62 288.5px,#d7ff5f 300.5px,#dcfe62 301.5px,#eaf877 303.5px,#f4f485 305.5px,#fcf091 313.5px,#fdea94 328.5px,#ffd0a0 344.5px,#ffb0a0 370.5px,#ffa9a7 371.5px,#ffbad1 390.5px,#ffcbf1 408.5px,#ffcbf1 675.5px)"></i><i style="background:linear-gradient(90deg,#68bdff 0,#67ceff 35.5px,#66e0ff 45.5px,#66e0ff 259.5px,#66e1ff 261.5px,#66e6ff 262.5px,#66f1ff 263.5px,#66ffe7 264.5px,#66ffc0 265.5px,#66ffa0 266.5px,#67ff8e 267.5px,#68ff83 268.5px,#69ff76 270.5px,#69ff6e 274.5px,#74ff6c 279.5px,#9fff62 288.5px,#d8ff5f 300.5px,#ddfe63 301.5px,#ebf878 303.5px,#f4f385 305.5px,#fcf091 313.5px,#fdea94 328.5px,#ffcfa0 344.5px,#ffb1a0 369.5px,#ffa8a9 371.5px,#ffbad0 389.5px,#ffcbf1 407.5px,#ffcbf1 675.5px)"></i><i style="background:linear-gradient(90deg,#68bcff 0,#67ceff 37.5px,#6df 44.5px,#66e0ff 47.5px,#66e0ff 259.5px,#66e1ff 261.5px,#66e6ff 262.5px,#66f1ff 263.5px,#66ffe7 264.5px,#66ffc0 265.5px,#66ffa0 266.5px,#67ff8e 267.5px,#68ff83 268.5px,#69ff76 270.5px,#69ff6e 274.5px,#70ff6c 278.5px,#9fff62 288.5px,#d8ff5f 300.5px,#f4f386 305.5px,#fbf090 312.5px,#fdea94 328.5px,#ffd0a0 343.5px,#ffb1a0 368.5px,#ffafa1 369.5px,#ffa8a8 370.5px,#ffbbd1 389.5px,#ffcbf1 407.5px,#ffcbf1 675.5px)"></i><i style="background:linear-gradient(90deg,#68bcff 0,#67cfff 39.5px,#66deff 46.5px,#66e0ff 49.5px,#66e0ff 259.5px,#66e1ff 261.5px,#66e6ff 262.5px,#66f1ff 263.5px,#66ffe7 264.5px,#66ffc0 265.5px,#66ffa0 266.5px,#67ff8e 267.5px,#68ff83 268.5px,#69ff76 270.5px,#69ff6e 274.5px,#70ff6c 278.5px,#9fff62 288.5px,#d9ff5f 300.5px,#f1f581 304.5px,#f5f386 305.5px,#fbf090 312.5px,#fdea94 327.5px,#ffd0a0 343.5px,#ffb0a0 368.5px,#ffa9a9 370.5px,#ffbad0 388.5px,#ffcbf1 406.5px,#ffcbf1 675.5px)"></i><i style="background:linear-gradient(90deg,#68bbff 0,#67cfff 41.5px,#66deff 48.5px,#66e0ff 51.5px,#66e0ff 259.5px,#66e1ff 261.5px,#66e6ff 262.5px,#66f1ff 263.5px,#66ffe7 264.5px,#66ffc0 265.5px,#66ffa0 266.5px,#67ff8e 267.5px,#68ff83 268.5px,#69ff76 270.5px,#69ff6e 274.5px,#70ff6c 278.5px,#a0ff62 288.5px,#c9ff60 296.5px,#d9ff5f 300.5px,#edf77a 303.5px,#f5f387 305.5px,#fcf090 312.5px,#fdea94 327.5px,#ffcfa0 343.5px,#ffb1a0 367.5px,#ffa8a9 369.5px,#ffbbd1 388.5px,#ffcbf1 406.5px,#ffcbf1 675.5px)"></i><i style="background:linear-gradient(90deg,#68bbff 0,#67ceff 42.5px,#66e0ff 52.5px,#66e0ff 259.5px,#66e1ff 261.5px,#66e6ff 262.5px,#66f1ff 263.5px,#66ffe7 264.5px,#66ffc0 265.5px,#66ffa0 266.5px,#67ff8e 267.5px,#68ff83 268.5px,#69ff76 270.5px,#69ff6e 274.5px,#71ff6c 278.5px,#a0ff62 288.5px,#c9ff60 296.5px,#d9ff5f 300.5px,#edf77b 303.5px,#f5f387 305.5px,#fcf091 312.5px,#fdea94 327.5px,#ffd0a0 342.5px,#ffb0a0 367.5px,#ffa9a7 368.5px,#ffa9aa 369.5px,#ffbad1 387.5px,#ffcbf1 405.5px,#ffcbf1 675.5px)"></i><i style="background:linear-gradient(90deg,#68baff 0,#67ceff 44.5px,#66e0ff 54.5px,#66e0ff 259.5px,#66e1ff 261.5px,#66e6ff 262.5px,#66f1ff 263.5px,#66ffe7 264.5px,#66ffc0 265.5px,#66ffa0 266.5px,#67ff8e 267.5px,#68ff83 268.5px,#69ff76 270.5px,#69ff6e 274.5px,#71ff6c 278.5px,#a0ff62 288.5px,#c9ff60 296.5px,#daff5f 300.5px,#f3f483 304.5px,#f7f289 306.5px,#fcf091 312.5px,#fdea94 327.5px,#ffd0a0 342.5px,#ffb1a0 366.5px,#ffa8a9 368.5px,#ffbad0 386.5px,#ffcbf0 404.5px,#ffcbf1 675.5px)"></i><i style="background:linear-gradient(90deg,#68baff 0,#67ceff 46.5px,#66e0ff 56.5px,#66e0ff 259.5px,#66e1ff 261.5px,#66e6ff 262.5px,#66f1ff 263.5px,#66ffe7 264.5px,#66ffc0 265.5px,#66ffa0 266.5px,#67ff8e 267.5px,#68ff83 268.5px,#69ff76 270.5px,#69ff6e 274.5px,#71ff6c 278.5px,#a1ff62 288.5px,#caff60 296.5px,#daff5f 300.5px,#f3f484 304.5px,#fcf091 312.5px,#fdeb94 326.5px,#ffd1a0 341.5px,#ffb0a0 366.5px,#ffa9a7 367.5px,#ffbad1 386.5px,#ffcbf1 404.5px,#ffcbf1 675.5px)"></i><i style="background:linear-gradient(90deg,#68b9ff 0,#67cfff 48.5px,#6df 55.5px,#66e0ff 58.5px,#66e0ff 259.5px,#66e1ff 261.5px,#66e6ff 262.5px,#66f1ff 263.5px,#66ffe7 264.5px,#66ffc0 265.5px,#66ffa0 266.5px,#67ff8e 267.5px,#68ff83 268.5px,#69ff76 270.5px,#69ff6e 274.5px,#71ff6c 278.5px,#a1ff62 288.5px,#d7ff5f 299.5px,#dbff60 300.5px,#f3f484 304.5px,#fcf091 312.5px,#fdea94 326.5px,#ffd0a0 341.5px,#ffb1a0 365.5px,#ffa8a9 367.5px,#ffbad0 385.5px,#ffcbf0 403.5px,#ffcbf1 675.5px)"></i><i style="background:linear-gradient(90deg,#68b8ff 0,#67ceff 49.5px,#67d1ff 52.5px,#66deff 57.5px,#66e0ff 60.5px,#66e0ff 259.5px,#66e1ff 261.5px,#66e6ff 262.5px,#66f1ff 263.5px,#66ffe7 264.5px,#66ffc0 265.5px,#66ffa0 266.5px,#67ff8e 267.5px,#68ff83 268.5px,#69ff76 270.5px,#69ff6e 274.5px,#71ff6c 278.5px,#a1ff62 288.5px,#d7ff5f 299.5px,#dbfe61 300.5px,#e9f876 302.5px,#f3f484 304.5px,#fbf090 311.5px,#fdea94 326.5px,#ffcfa0 341.5px,#ffb1a0 364.5px,#ffafa1 365.5px,#ffa8a8 366.5px,#ffbbd1 385.5px,#ffcbf1 403.5px,#ffcbf1 675.5px)"></i><i style="background:linear-gradient(90deg,#68b8ff 0,#67ceff 51.5px,#66deff 59.5px,#66e0ff 62.5px,#66e0ff 259.5px,#66e1ff 261.5px,#66e6ff 262.5px,#66f1ff 263.5px,#66ffe7 264.5px,#66ffc0 265.5px,#66ffa0 266.5px,#67ff8e 267.5px,#68ff83 268.5px,#69ff76 270.5px,#69ff6e 274.5px,#71ff6c 278.5px,#a2ff62 288.5px,#d7ff5f 299.5px,#dcfe62 300.5px,#eaf876 302.5px,#f4f485 304.5px,#fbf090 311.5px,#fdea94 326.5px,#ffd0a0 340.5px,#ffb1a0 364.5px,#ffa9a9 366.5px,#ffbad0 384.5px,#ffcbf1 402.5px,#ffcbf1 675.5px)"></i><i style="background:linear-gradient(90deg,#68b7ff 0,#67ceff 53.5px,#66deff 62.5px,#66e0ff 65.5px,#66e0ff 259.5px,#66e1ff 261.5px,#66e6ff 262.5px,#66f1ff 263.5px,#66ffe7 264.5px,#66ffc0 265.5px,#66ffa0 266.5px,#67ff8e 267.5px,#68ff83 268.5px,#69ff76 270.5px,#69ff6e 274.5px,#71ff6c 278.5px,#a2ff62 288.5px,#d8ff5f 299.5px,#ddfe63 300.5px,#ebf877 302.5px,#f4f385 304.5px,#fcf090 311.5px,#fdeb94 325.5px,#ffd0a0 340.5px,#ffb1a0 363.5px,#ffaea2 364.5px,#ffa8a9 365.5px,#ffbbd1 384.5px,#ffcbf1 402.5px,#ffcbf1 675.5px)"></i><i style="background:linear-gradient(90deg,#68b7ff 0,#67ceff 56.5px,#6df 64.5px,#66e0ff 68.5px,#66e0ff 259.5px,#66e1ff 261.5px,#66e6ff 262.5px,#66f1ff 263.5px,#66ffe7 264.5px,#66ffc0 265.5px,#66ffa0 266.5px,#67ff8e 267.5px,#68ff83 268.5px,#69ff76 270.5px,#69ff6e 274.5px,#71ff6c 278.5px,#a2ff62 288.5px,#c7ff60 295.5px,#d8ff5f 299.5px,#defd64 300.5px,#ebf778 302.5px,#f4f386 304.5px,#fcf091 311.5px,#fdea94 325.5px,#ffcfa0 340.5px,#ffb0a0 363.5px,#ffa9a7 364.5px,#ffa9aa 365.5px,#ffbad1 383.5px,#ffcbf1 401.5px,#ffcbf1 675.5px)"></i><i style="background:linear-gradient(90deg,#68b6ff 0,#67ceff 59.5px,#66e0ff 70.5px,#66e0ff 259.5px,#66e1ff 261.5px,#66e6ff 262.5px,#66f1ff 263.5px,#66ffe7 264.5px,#66ffc0 265.5px,#66ffa0 266.5px,#67ff8e 267.5px,#68ff83 268.5px,#69ff76 270.5px,#69ff6e 274.5px,#71ff6c 278.5px,#a3ff62 288.5px,#c8ff60 295.5px,#d9ff5f 299.5px,#f1f581 303.5px,#f5f386 304.5px,#fcf091 311.5px,#fdea94 325.5px,#ffd0a0 339.5px,#ffb1a0 362.5px,#ffa8a9 364.5px,#ffbad0 382.5px,#ffcbf1 401.5px,#ffcbf1 675.5px)"></i><i style="background:linear-gradient(90deg,#68b6ff 0,#67ceff 61.5px,#66e0ff 73.5px,#66e0ff 259.5px,#66e1ff 261.5px,#66e6ff 262.5px,#66f1ff 263.5px,#66ffe7 264.5px,#66ffc0 265.5px,#66ffa0 266.5px,#67ff8e 267.5px,#68ff83 268.5px,#69ff76 270.5px,#69ff6e 274.5px,#71ff6c 278.5px,#a3ff62 288.5px,#c8ff60 295.5px,#d9ff5f 299.5px,#edf77a 302.5px,#f5f387 304.5px,#fcf091 311.5px,#fdea94 325.5px,#ffd0a0 339.5px,#ffb0a0 362.5px,#ffa9a7 363.5px,#ffbad1 382.5px,#ffcbf1 400.5px,#ffcbf1 675.5px)"></i><i style="background:linear-gradient(90deg,#68b5ff 0,#67ceff 64.5px,#66e0ff 76.5px,#66e0ff 259.5px,#66e1ff 261.5px,#66e6ff 262.5px,#66f1ff 263.5px,#66ffe7 264.5px,#66ffc0 265.5px,#66ffa0 266.5px,#67ff8e 267.5px,#68ff83 268.5px,#69ff76 270.5px,#69ff6e 274.5px,#71ff6c 278.5px,#9eff62 287.5px,#c9ff60 295.5px,#d9ff5f 299.5px,#edf77b 302.5px,#f5f387 304.5px,#fbf090 310.5px,#fdeb94 324.5px,#ffcfa0 339.5px,#ffb1a0 361.5px,#ffa9a9 363.5px,#ffbad0 381.5px,#ffcbf0 399.5px,#ffcbf1 675.5px)"></i><i style="background:linear-gradient(90deg,#68b5ff 0,#67ceff 67.5px,#66e0ff 79.5px,#66e0ff 259.5px,#66e1ff 261.5px,#66e6ff 262.5px,#66f1ff 263.5px,#66ffe7 264.5px,#66ffc0 265.5px,#66ffa0 266.5px,#67ff8e 267.5px,#68ff83 268.5px,#69ff76 270.5px,#69ff6e 274.5px,#71ff6c 278.5px,#9eff62 287.5px,#c9ff60 295.5px,#daff5f 299.5px,#f3f483 303.5px,#f7f289 305.5px,#fbf090 310.5px,#fdea94 324.5px,#ffd0a0 338.5px,#ffb1a0 360.5px,#ffafa1 361.5px,#ffa8a8 362.5px,#ffbbd1 381.5px,#ffcbf1 399.5px,#ffcbf1 675.5px)"></i><i style="background:linear-gradient(90deg,#68b4ff 0,#67ceff 70.5px,#66e0ff 82.5px,#66e0ff 259.5px,#66e1ff 261.5px,#66e6ff 262.5px,#66f1ff 263.5px,#66ffe7 264.5px,#66ffc0 265.5px,#66ffa0 266.5px,#67ff8e 267.5px,#68ff83 268.5px,#69ff76 270.5px,#69ff6e 274.5px,#72ff6c 278.5px,#9fff62 287.5px,#caff60 295.5px,#daff5f 299.5px,#f3f484 303.5px,#fbf090 310.5px,#fdea94 324.5px,#ffd0a0 338.5px,#ffb1a0 360.5px,#ffa9a9 362.5px,#ffbad0 380.5px,#ffcbf1 398.5px,#ffcbf1 675.5px)"></i><i style="background:linear-gradient(90deg,#68b3ff 0,#67ceff 73.5px,#66e0ff 85.5px,#66e0ff 259.5px,#66e1ff 261.5px,#66e6ff 262.5px,#66f1ff 263.5px,#66ffe7 264.5px,#66ffc0 265.5px,#66ffa0 266.5px,#67ff8e 267.5px,#68ff83 268.5px,#69ff76 270.5px,#69ff6e 274.5px,#72ff6c 278.5px,#9fff62 287.5px,#caff60 295.5px,#d7ff5f 298.5px,#dbff60 299.5px,#f3f484 303.5px,#fcf090 310.5px,#fdea94 324.5px,#ffd1a0 337.5px,#ffb1a0 359.5px,#ffafa1 360.5px,#ffa8a9 361.5px,#ffbbd1 380.5px,#ffcbf1 398.5px,#ffcbf1 675.5px)"></i><i style="background:linear-gradient(90deg,#68b3ff 0,#67ceff 76.5px,#66e0ff 88.5px,#66e0ff 259.5px,#66e1ff 261.5px,#66e6ff 262.5px,#66f1ff 263.5px,#66ffe7 264.5px,#66ffc0 265.5px,#66ffa0 266.5px,#67ff8e 267.5px,#68ff83 268.5px,#69ff76 270.5px,#69ff6e 274.5px,#72ff6c 278.5px,#9fff62 287.5px,#caff60 295.5px,#d7ff5f 298.5px,#dbfe61 299.5px,#e9f875 301.5px,#f3f484 303.5px,#fcf091 310.5px,#fceb93 323.5px,#ffd0a0 337.5px,#ffb0a0 359.5px,#ffa9a7 360.5px,#ffa9aa 361.5px,#ffbad0 379.5px,#ffcbf1 397.5px,#ffcbf1 675.5px)"></i><i style="background:linear-gradient(90deg,#68b2ff 0,#67ceff 79.5px,#66e0ff 91.5px,#66e0ff 259.5px,#66e1ff 261.5px,#66e6ff 262.5px,#66f1ff 263.5px,#66ffe7 264.5px,#66ffc0 265.5px,#66ffa0 266.5px,#67ff8e 267.5px,#68ff83 268.5px,#69ff76 270.5px,#69ff6e 274.5px,#72ff6c 278.5px,#9fff62 287.5px,#cbff60 295.5px,#d7ff5f 298.5px,#dcfe62 299.5px,#eaf876 301.5px,#f4f485 303.5px,#fcf091 310.5px,#fdea94 323.5px,#ffcfa0 337.5px,#ffb1a0 358.5px,#ffa8a9 360.5px,#ffbad0 378.5px,#ffcbf1 397.5px,#ffcbf1 675.5px)"></i><i style="background:linear-gradient(90deg,#68b2ff 0,#67ceff 82.5px,#66deff 91.5px,#66e0ff 94.5px,#66e0ff 259.5px,#66e1ff 261.5px,#66e6ff 262.5px,#66f1ff 263.5px,#66ffe7 264.5px,#66ffc0 265.5px,#66ffa0 266.5px,#67ff8e 267.5px,#68ff83 268.5px,#69ff76 270.5px,#69ff6e 274.5px,#72ff6c 278.5px,#a0ff62 287.5px,#cbff60 295.5px,#d8ff5f 298.5px,#ddfe63 299.5px,#eaf877 301.5px,#f4f485 303.5px,#fcf091 310.5px,#fdea94 323.5px,#ffd1a0 336.5px,#ffb0a0 358.5px,#ffa9a8 359.5px,#ffbad1 378.5px,#ffcbf1 396.5px,#ffcbf1 675.5px)"></i><i style="background:linear-gradient(90deg,#68b1ff 0,#67ceff 84.5px,#66e0ff 96.5px,#66e0ff 259.5px,#66e1ff 261.5px,#66e6ff 262.5px,#66f1ff 263.5px,#66ffe7 264.5px,#66ffc0 265.5px,#66ffa0 266.5px,#67ff8e 267.5px,#68ff83 268.5px,#69ff76 270.5px,#69ff6e 274.5px,#72ff6c 278.5px,#a0ff62 287.5px,#c7ff60 294.5px,#d8ff5f 298.5px,#ddfe64 299.5px,#ebf778 301.5px,#f4f386 303.5px,#fbf090 309.5px,#fdea94 323.5px,#ffd0a0 336.5px,#ffb1a0 357.5px,#ffa9a9 359.5px,#ffbad0 377.5px,#ffcbf1 396.5px,#ffcbf1 675.5px)"></i><i style="background:linear-gradient(90deg,#68b1ff 0,#67ceff 87.5px,#66e0ff 99.5px,#66e0ff 259.5px,#66e1ff 261.5px,#66e6ff 262.5px,#66f1ff 263.5px,#66ffe7 264.5px,#66ffc0 265.5px,#66ffa0 266.5px,#67ff8e 267.5px,#68ff83 268.5px,#69ff76 270.5px,#69ff6e 274.5px,#72ff6c 278.5px,#a0ff62 287.5px,#c7ff60 294.5px,#d8ff5f 298.5px,#f1f581 302.5px,#f5f386 303.5px,#fbf090 309.5px,#fde994 323.5px,#ffcfa0 336.5px,#ffb2a0 356.5px,#ffafa1 357.5px,#ffa8a8 358.5px,#ffbbd1 377.5px,#ffcbf1 395.5px,#ffcbf1 675.5px)"></i><i style="background:linear-gradient(90deg,#68b0ff 0,#67ceff 90.5px,#66e0ff 102.5px,#66e0ff 259.5px,#66e1ff 261.5px,#66e6ff 262.5px,#66f1ff 263.5px,#66ffe7 264.5px,#66ffc0 265.5px,#66ffa0 266.5px,#67ff8e 267.5px,#68ff83 268.5px,#69ff76 270.5px,#69ff6e 274.5px,#72ff6c 278.5px,#a1ff62 287.5px,#c8ff60 294.5px,#d9ff5f 298.5px,#ecf77a 301.5px,#f5f387 303.5px,#fcf090 309.5px,#fdea94 322.5px,#ffd0a0 335.5px,#ffb1a0 356.5px,#ffa9a9 358.5px,#ffbad0 376.5px,#ffcbf0 394.5px,#ffcbf1 675.5px)"></i><i style="background:linear-gradient(90deg,#68b0ff 0,#67ceff 93.5px,#66e0ff 105.5px,#66e0ff 259.5px,#66e1ff 261.5px,#66e6ff 262.5px,#66f1ff 263.5px,#66ffe7 264.5px,#66ffc0 265.5px,#66ffa0 266.5px,#67ff8e 267.5px,#68ff83 268.5px,#69ff76 270.5px,#69ff6e 274.5px,#72ff6c 278.5px,#a1ff62 287.5px,#c8ff60 294.5px,#d9ff5f 298.5px,#edf77b 301.5px,#f5f387 303.5px,#fcf090 309.5px,#fdea94 322.5px,#ffd0a0 335.5px,#ffb1a0 355.5px,#ffafa1 356.5px,#ffa8a9 357.5px,#ffbbd1 376.5px,#ffcbf1 394.5px,#ffcbf1 675.5px)"></i><i style="background:linear-gradient(90deg,#68afff 0,#67ceff 96.5px,#66e0ff 108.5px,#66e0ff 259.5px,#66e1ff 261.5px,#66e6ff 262.5px,#66f1ff 263.5px,#66ffe7 264.5px,#66ffc0 265.5px,#66ffa0 266.5px,#67ff8e 267.5px,#68ff83 268.5px,#69ff76 270.5px,#69ff6e 274.5px,#73ff6c 278.5px,#a2ff62 287.5px,#c9ff60 294.5px,#daff5f 298.5px,#f3f483 302.5px,#fcf091 309.5px,#fdea94 322.5px,#ffcfa0 335.5px,#ffb0a0 355.5px,#ffa9a7 356.5px,#ffbad1 375.5px,#ffcbf1 393.5px,#ffcbf1 675.5px)"></i><i style="background:linear-gradient(90deg,#68aeff 0,#67ceff 99.5px,#66e0ff 111.5px,#66e0ff 259.5px,#66e1ff 261.5px,#66e6ff 262.5px,#66f1ff 263.5px,#66ffe7 264.5px,#66ffc0 265.5px,#66ffa0 266.5px,#67ff8e 267.5px,#68ff83 268.5px,#69ff76 270.5px,#69ff6e 274.5px,#73ff6c 278.5px,#a3ff62 287.5px,#caff60 294.5px,#d7ff5f 297.5px,#dbff61 298.5px,#e9f875 300.5px,#f3f484 302.5px,#fcf091 309.5px,#fdeb94 321.5px,#ffd0a0 334.5px,#ffb1a0 354.5px,#ffa8a9 356.5px,#ffbad0 374.5px,#ffcbf0 392.5px,#ffcbf1 675.5px)"></i><i style="background:linear-gradient(90deg,#68aeff 0,#67ceff 102.5px,#66e0ff 114.5px,#66e0ff 259.5px,#66e1ff 261.5px,#66e6ff 262.5px,#66f1ff 263.5px,#66ffe7 264.5px,#66ffc0 265.5px,#66ffa0 266.5px,#67ff8e 267.5px,#68ff83 268.5px,#69ff76 270.5px,#6aff6e 274.5px,#73ff6c 278.5px,#9eff62 286.5px,#cbff60 294.5px,#d8ff5f 297.5px,#ddfe63 298.5px,#eaf877 300.5px,#f4f385 302.5px,#fbf090 308.5px,#fdea94 321.5px,#ffcfa0 334.5px,#ffb0a0 354.5px,#ffa8a8 355.5px,#ffbad0 373.5px,#ffcbf0 391.5px,#ffcbf1 675.5px)"></i><i style="background:linear-gradient(90deg,#68adff 0,#67ceff 105.5px,#66e0ff 117.5px,#66e0ff 259.5px,#66e1ff 261.5px,#66e6ff 262.5px,#66f1ff 263.5px,#66ffe7 264.5px,#66ffc0 265.5px,#66ffa0 266.5px,#67ff8e 267.5px,#68ff83 268.5px,#69ff76 270.5px,#6aff6e 274.5px,#74ff6c 278.5px,#9fff62 286.5px,#c7ff60 293.5px,#d9ff5f 297.5px,#f1f581 301.5px,#f5f386 302.5px,#fcf090 308.5px,#fdea94 321.5px,#ffd0a0 333.5px,#ffb1a0 353.5px,#ffa9aa 355.5px,#ffbbd1 373.5px,#ffcbf1 391.5px,#ffcbf1 675.5px)"></i><i style="background:linear-gradient(90deg,#68adff 0,#67ceff 108.5px,#66e0ff 120.5px,#66e0ff 259.5px,#66e1ff 261.5px,#66e6ff 262.5px,#66f1ff 263.5px,#66ffe7 264.5px,#66ffc0 265.5px,#66ffa0 266.5px,#67ff8e 267.5px,#68ff83 268.5px,#69ff76 270.5px,#6aff6e 274.5px,#74ff6c 278.5px,#a0ff62 286.5px,#c8ff60 293.5px,#d9ff5f 297.5px,#f2f483 301.5px,#f7f28a 303.5px,#fcf091 308.5px,#fdeb94 320.5px,#ffcfa0 333.5px,#ffb1a0 352.5px,#ffaea2 353.5px,#ffa8a9 354.5px,#ffbad1 372.5px,#ffcbf1 390.5px,#ffcbf1 675.5px)"></i><i style="background:linear-gradient(90deg,#69acff 0,#67ceff 111.5px,#66e0ff 123.5px,#66e0ff 259.5px,#66e1ff 261.5px,#66e6ff 262.5px,#66f1ff 263.5px,#66ffe7 264.5px,#66ffc0 265.5px,#66ffa0 266.5px,#67ff8e 267.5px,#68ff83 268.5px,#69ff76 270.5px,#69ff6f 273.5px,#70ff6c 277.5px,#a1ff62 286.5px,#c9ff60 293.5px,#d7ff5f 296.5px,#daff60 297.5px,#f3f484 301.5px,#fbf090 307.5px,#fdea94 320.5px,#ffd0a0 332.5px,#ffb0a0 352.5px,#ffa9a7 353.5px,#ffbad0 371.5px,#ffcbf1 389.5px,#ffcbf1 675.5px)"></i><i style="background:linear-gradient(90deg,#69acff 0,#67ceff 114.5px,#66e0ff 126.5px,#66e0ff 259.5px,#66e1ff 261.5px,#66e6ff 262.5px,#66f1ff 263.5px,#66ffe7 264.5px,#66ffc0 265.5px,#66ffa0 266.5px,#67ff8e 267.5px,#68ff83 268.5px,#69ff76 270.5px,#6aff6e 274.5px,#71ff6c 277.5px,#a2ff62 286.5px,#cbff60 293.5px,#d7ff5f 296.5px,#dcfe62 297.5px,#eaf876 299.5px,#f4f485 301.5px,#fbf090 307.5px,#fdea94 320.5px,#ffd0a0 332.5px,#ffb1a0 351.5px,#ffa9a9 353.5px,#ffbad0 370.5px,#ffcbf1 388.5px,#ffcbf1 675.5px)"></i><i style="background:linear-gradient(90deg,#69abff 0,#67ceff 117.5px,#66e0ff 129.5px,#66e0ff 259.5px,#66e1ff 261.5px,#66e6ff 262.5px,#66f1ff 263.5px,#66ffe7 264.5px,#66ffc0 265.5px,#66ffa0 266.5px,#67ff8e 267.5px,#68ff83 268.5px,#69ff76 270.5px,#6aff6e 274.5px,#71ff6c 277.5px,#a3ff62 286.5px,#ccff60 293.5px,#d8ff5f 296.5px,#defd64 297.5px,#ebf778 299.5px,#f4f386 301.5px,#fcf091 307.5px,#fdeb94 319.5px,#ffd1a0 331.5px,#ffb2a0 350.5px,#ffafa1 351.5px,#ffa8a8 352.5px,#ffbbd1 370.5px,#ffcbf1 387.5px,#ffcbf1 675.5px)"></i><i style="background:linear-gradient(90deg,#69abff 0,#67ceff 120.5px,#66e0ff 132.5px,#66e0ff 259.5px,#66e1ff 261.5px,#66e6ff 262.5px,#66f1ff 263.5px,#66ffe7 264.5px,#66ffc0 265.5px,#66ffa0 266.5px,#67ff8e 267.5px,#68ff83 268.5px,#69ff76 270.5px,#6aff6e 274.5px,#72ff6c 277.5px,#9eff62 285.5px,#c8ff60 292.5px,#d9ff5f 296.5px,#edf77b 299.5px,#f5f387 301.5px,#fcf091 307.5px,#fdea94 319.5px,#ffd0a0 331.5px,#ffb1a0 350.5px,#ffaaa6 351.5px,#ffa9aa 352.5px,#ffbad1 369.5px,#ffcbf1 386.5px,#ffcbf1 675.5px)"></i><i style="background:linear-gradient(90deg,#69aaff 0,#67ceff 123.5px,#66e0ff 135.5px,#66e0ff 259.5px,#66e1ff 261.5px,#66e6ff 262.5px,#66f1ff 263.5px,#66ffe7 264.5px,#66ffc0 265.5px,#66ffa0 266.5px,#67ff8e 267.5px,#68ff83 268.5px,#69ff76 270.5px,#6aff6e 274.5px,#72ff6c 277.5px,#9fff62 285.5px,#c9ff60 292.5px,#daff5f 296.5px,#f3f483 300.5px,#fbf090 306.5px,#fde994 319.5px,#ffcfa0 331.5px,#ffb1a0 349.5px,#ffa8a9 351.5px,#ffbad0 368.5px,#ffcbf0 385.5px,#ffcbf1 675.5px)"></i><i style="background:linear-gradient(90deg,#69a9ff 0,#67ceff 126.5px,#66e0ff 138.5px,#66e0ff 259.5px,#66e1ff 261.5px,#66e6ff 262.5px,#66f1ff 263.5px,#66ffe7 264.5px,#66ffc0 265.5px,#66ffa0 266.5px,#67ff8e 267.5px,#68ff83 268.5px,#69ff76 270.5px,#6aff6e 274.5px,#72ff6c 277.5px,#a0ff62 285.5px,#caff60 292.5px,#d7ff5f 295.5px,#dbfe61 296.5px,#e9f875 298.5px,#f4f485 300.5px,#fbf090 306.5px,#fdea94 318.5px,#ffd0a0 330.5px,#ffb0a0 349.5px,#ffa9a8 350.5px,#ffbad0 367.5px,#ffcbf0 384.5px,#ffcbf1 675.5px)"></i><i style="background:linear-gradient(90deg,#69a9ff 0,#67ceff 129.5px,#66e0ff 141.5px,#66e0ff 259.5px,#66e1ff 261.5px,#66e6ff 262.5px,#66f1ff 263.5px,#66ffe7 264.5px,#66ffc0 265.5px,#66ffa0 266.5px,#67ff8e 267.5px,#68ff83 268.5px,#69ff76 270.5px,#6aff6e 274.5px,#73ff6c 277.5px,#a1ff62 285.5px,#cbff60 292.5px,#d8ff5f 295.5px,#ddfe63 296.5px,#ebf877 298.5px,#f4f386 300.5px,#fcf091 306.5px,#fdea94 318.5px,#ffcfa0 330.5px,#ffb1a0 348.5px,#ffa9a9 350.5px,#ffbbd1 367.5px,#ffc9ee 381.5px,#ffcbf1 384.5px,#ffcbf1 675.5px)"></i><i style="background:linear-gradient(90deg,#69a8ff 0,#67ceff 132.5px,#66e0ff 143.5px,#66e0ff 259.5px,#66e1ff 261.5px,#66e6ff 262.5px,#66f1ff 263.5px,#66ffe7 264.5px,#66ffc0 265.5px,#66ffa0 266.5px,#67ff8e 267.5px,#68ff83 268.5px,#69ff76 270.5px,#6aff6e 274.5px,#73ff6c 277.5px,#a2ff62 285.5px,#c7ff60 291.5px,#d9ff5f 295.5px,#ecf77a 298.5px,#f5f387 300.5px,#fcf091 306.5px,#fde994 318.5px,#ffd0a0 329.5px,#ffb2a0 347.5px,#ffafa1 348.5px,#ffa8a9 349.5px,#ffbad1 366.5px,#ffcbf1 383.5px,#ffcbf1 675.5px)"></i><i style="background:linear-gradient(90deg,#69a8ff 0,#67cfff 135.5px,#66e0ff 145.5px,#66e0ff 260.5px,#66e6ff 262.5px,#66f1ff 263.5px,#66ffe7 264.5px,#66ffc0 265.5px,#66ffa0 266.5px,#67ff8e 267.5px,#68ff83 268.5px,#69ff76 270.5px,#69ff6e 273.5px,#74ff6c 277.5px,#a3ff62 285.5px,#c8ff60 291.5px,#d9ff5f 295.5px,#f2f483 299.5px,#fbf090 305.5px,#fdea94 317.5px,#ffcfa0 329.5px,#ffb1a0 347.5px,#ffa9a7 348.5px,#ffbad0 365.5px,#ffcbf1 382.5px,#ffcbf1 675.5px)"></i><i style="background:linear-gradient(90deg,#69a8ff 0,#67ceff 136.5px,#66e0ff 147.5px,#66e0ff 260.5px,#66e6ff 262.5px,#66f1ff 263.5px,#66ffe7 264.5px,#66ffc0 265.5px,#66ffa0 266.5px,#67ff8e 267.5px,#68ff83 268.5px,#69ff76 270.5px,#69ff6e 273.5px,#74ff6c 277.5px,#9eff63 284.5px,#c9ff60 291.5px,#d7ff5f 294.5px,#daff60 295.5px,#f3f484 299.5px,#fcf090 305.5px,#fdea94 317.5px,#ffd1a0 328.5px,#ffb1a0 346.5px,#ffa9a9 348.5px,#ffbad0 364.5px,#ffcbf1 381.5px,#ffcbf1 675.5px)"></i><i style="background:linear-gradient(90deg,#69a8ff 0,#67cfff 138.5px,#66e0ff 148.5px,#66e0ff 260.5px,#66e6ff 262.5px,#66f1ff 263.5px,#66ffe7 264.5px,#66ffc0 265.5px,#66ffa0 266.5px,#67ff8e 267.5px,#68ff83 268.5px,#69ff76 270.5px,#69ff6e 273.5px,#75ff6b 277.5px,#9fff62 284.5px,#c5ff60 290.5px,#d7ff5f 294.5px,#dcfe62 295.5px,#eaf876 297.5px,#f4f485 299.5px,#fcf091 305.5px,#fde994 317.5px,#ffd0a0 328.5px,#ffb0a0 346.5px,#ffa8a8 347.5px,#ffbbd1 364.5px,#ffcbf1 380.5px,#ffcbf1 675.5px)"></i><i style="background:linear-gradient(90deg,#69a8ff 0,#67ceff 139.5px,#67d0ff 142.5px,#6df 147.5px,#66e0ff 150.5px,#66e0ff 260.5px,#66e6ff 262.5px,#66f1ff 263.5px,#66ffe7 264.5px,#66ffc0 265.5px,#66ffa0 266.5px,#67ff8e 267.5px,#68ff83 268.5px,#69ff76 270.5px,#69ff6e 273.5px,#71ff6c 276.5px,#a0ff62 284.5px,#c6ff60 290.5px,#d8ff5f 294.5px,#f5f386 299.5px,#fbf090 304.5px,#fdea94 316.5px,#ffd1a0 327.5px,#ffb1a0 345.5px,#ffa9aa 347.5px,#ffbad1 363.5px,#ffcbf1 379.5px,#ffcbf1 675.5px)"></i><i style="background:linear-gradient(90deg,#69a8ff 0,#67ceff 141.5px,#66e0ff 152.5px,#66e0ff 260.5px,#66e6ff 262.5px,#66f1ff 263.5px,#66ffe7 264.5px,#66ffc0 265.5px,#66ffa0 266.5px,#67ff8e 267.5px,#68ff83 268.5px,#69ff76 270.5px,#69ff6e 273.5px,#71ff6c 276.5px,#a1ff62 284.5px,#c7ff60 290.5px,#d9ff5f 294.5px,#f2f482 298.5px,#f7f28a 300.5px,#fbf090 304.5px,#fdea94 316.5px,#ffd0a0 327.5px,#ffb2a0 344.5px,#ffafa1 345.5px,#ffa8a9 346.5px,#ffbad0 362.5px,#ffcbf0 378.5px,#ffcbf1 675.5px)"></i><i style="background:linear-gradient(90deg,#69a8ff 0,#69a9ff 14.5px,#67cfff 143.5px,#66e0ff 153.5px,#66e0ff 260.5px,#66e6ff 262.5px,#66f1ff 263.5px,#66ffe7 264.5px,#66ffc0 265.5px,#66ffa0 266.5px,#67ff8e 267.5px,#68ff83 268.5px,#69ff76 270.5px,#69ff6e 273.5px,#72ff6c 276.5px,#a2ff62 284.5px,#c8ff60 290.5px,#daff5f 294.5px,#f3f484 298.5px,#fcf090 304.5px,#fde994 316.5px,#ffcfa0 327.5px,#ffb1a0 344.5px,#ffa9a7 345.5px,#ffbbd2 362.5px,#ffc9ee 375.5px,#ffcbf1 378.5px,#ffcbf1 675.5px)"></i><i style="background:linear-gradient(90deg,#69a8ff 0,#69a9ff 16.5px,#67ceff 144.5px,#67d1ff 147.5px,#66e0ff 154.5px,#66e1ff 260.5px,#66e7ff 262.5px,#66f1ff 263.5px,#66ffe7 264.5px,#66ffc0 265.5px,#66ffa0 266.5px,#67ff8d 267.5px,#68ff83 268.5px,#69ff76 270.5px,#69ff6e 273.5px,#72ff6c 276.5px,#a3ff62 284.5px,#caff60 290.5px,#d7ff5f 293.5px,#dbfe61 294.5px,#e9f875 296.5px,#f4f485 298.5px,#fcf091 304.5px,#fdea94 315.5px,#ffd0a0 326.5px,#ffb1a0 343.5px,#ffa9a9 345.5px,#ffbbd1 361.5px,#ffc9ee 374.5px,#ffcbf1 377.5px,#ffcbf1 675.5px)"></i><i style="background:linear-gradient(90deg,#69a8ff 0,#69a9ff 18.5px,#67cfff 146.5px,#66e1ff 156.5px,#66e1ff 260.5px,#66e7ff 262.5px,#66f2ff 263.5px,#66ffe6 264.5px,#66ffbf 265.5px,#66ffa0 266.5px,#67ff8d 267.5px,#68ff83 268.5px,#69ff76 270.5px,#69ff6e 273.5px,#72ff6c 276.5px,#9dff63 283.5px,#c5ff60 289.5px,#d8ff5f 293.5px,#ddfe63 294.5px,#ebf878 296.5px,#f4f386 298.5px,#fbf090 303.5px,#fdea94 315.5px,#ffcfa0 326.5px,#ffb0a0 343.5px,#ffa8a9 344.5px,#ffbad1 360.5px,#ffc9ed 373.5px,#ffcbf1 376.5px,#ffcbf1 675.5px)"></i><i style="background:linear-gradient(90deg,#69a8ff 0,#69a9ff 19.5px,#67ceff 147.5px,#67d1ff 150.5px,#66dfff 155.5px,#66e1ff 158.5px,#66e2ff 260.5px,#66e7ff 262.5px,#66f2ff 263.5px,#66ffe6 264.5px,#66ffbf 265.5px,#66ffa0 266.5px,#67ff8d 267.5px,#68ff83 268.5px,#69ff76 270.5px,#6aff6e 273.5px,#73ff6c 276.5px,#9eff62 283.5px,#c6ff60 289.5px,#d9ff5f 293.5px,#ecf77a 296.5px,#f5f387 298.5px,#fbf090 303.5px,#fde994 315.5px,#ffd0a0 325.5px,#ffb1a0 342.5px,#ffaaa6 343.5px,#ffa9aa 344.5px,#ffbad0 359.5px,#ffcbf1 375.5px,#ffcbf1 675.5px)"></i><i style="background:linear-gradient(90deg,#69a8ff 0,#69a9ff 21.5px,#67cfff 149.5px,#67d2ff 152.5px,#66deff 156.5px,#66e2ff 159.5px,#66e2ff 260.5px,#66e8ff 262.5px,#66f2ff 263.5px,#66ffe5 264.5px,#66ffbf 265.5px,#66ffa0 266.5px,#67ff8d 267.5px,#68ff83 268.5px,#69ff76 270.5px,#6aff6e 273.5px,#73ff6c 276.5px,#9fff62 283.5px,#c8ff60 289.5px,#daff5f 293.5px,#f3f483 297.5px,#fcf090 303.5px,#fdea94 314.5px,#ffcfa0 325.5px,#ffb2a0 341.5px,#ffaea2 342.5px,#ffa8a9 343.5px,#ffbbd2 359.5px,#ffcbf1 374.5px,#ffcbf1 675.5px)"></i><i style="background:linear-gradient(90deg,#69a8ff 0,#69a9ff 23.5px,#67ceff 150.5px,#67d1ff 153.5px,#66dfff 158.5px,#66e2ff 161.5px,#66e2ff 260.5px,#66e8ff 262.5px,#66f2ff 263.5px,#66ffe5 264.5px,#66ffbf 265.5px,#66ffa0 266.5px,#67ff8d 267.5px,#68ff83 268.5px,#69ff76 270.5px,#6aff6e 273.5px,#74ff6c 276.5px,#a0ff62 283.5px,#c9ff60 289.5px,#d7ff5f 292.5px,#dbff60 293.5px,#f3f484 297.5px,#fcf091 303.5px,#fdea94 314.5px,#ffd1a0 324.5px,#ffb1a0 341.5px,#ffa9a8 342.5px,#ffbbd1 358.5px,#ffcbf1 373.5px,#ffcbf1 675.5px)"></i><i style="background:linear-gradient(90deg,#69a8ff 0,#69a9ff 25.5px,#67ceff 152.5px,#67d1ff 155.5px,#66deff 159.5px,#66e2ff 162.5px,#66e3ff 260.5px,#66e8ff 262.5px,#66f3ff 263.5px,#66ffe4 264.5px,#66ffbe 265.5px,#66ffa0 266.5px,#67ff8d 267.5px,#68ff83 268.5px,#69ff76 270.5px,#6aff6e 273.5px,#74ff6b 276.5px,#a2ff62 283.5px,#caff60 289.5px,#d7ff5f 292.5px,#dcfe62 293.5px,#eaf877 295.5px,#f4f485 297.5px,#fbf090 302.5px,#fde994 314.5px,#ffd0a0 324.5px,#ffb1a0 340.5px,#ffa9aa 342.5px,#ffbad1 357.5px,#ffcbf1 372.5px,#ffcbf1 675.5px)"></i><i style="background:linear-gradient(90deg,#69a8ff 0,#69a9ff 27.5px,#67ceff 153.5px,#67d0ff 156.5px,#66e0ff 161.5px,#66e3ff 164.5px,#66e3ff 260.5px,#66e9ff 262.5px,#66f3ff 263.5px,#66ffe4 264.5px,#66ffbe 265.5px,#66ff9f 266.5px,#67ff8d 267.5px,#68ff83 268.5px,#69ff76 270.5px,#6aff6e 273.5px,#75ff6b 276.5px,#a3ff62 283.5px,#c5ff60 288.5px,#d8ff5f 292.5px,#f5f386 297.5px,#fbf090 302.5px,#fdea94 313.5px,#ffd1a0 323.5px,#ffb0a1 340.5px,#ffa8a9 341.5px,#ffbad0 356.5px,#ffcbf0 371.5px,#ffcbf1 675.5px)"></i><i style="background:linear-gradient(90deg,#69a8ff 0,#69a9ff 29.5px,#67ceff 155.5px,#67d1ff 158.5px,#66e1ff 163.5px,#66e3ff 166.5px,#66e4ff 260.5px,#66e9ff 262.5px,#66f3ff 263.5px,#66ffe3 264.5px,#66ffbe 265.5px,#66ff9f 266.5px,#67ff8d 267.5px,#68ff83 268.5px,#69ff76 270.5px,#6aff6e 273.5px,#70ff6c 275.5px,#9dff63 282.5px,#c7ff60 288.5px,#d9ff5f 292.5px,#f2f482 296.5px,#f7f28a 298.5px,#fcf091 302.5px,#fdea94 313.5px,#ffd0a0 323.5px,#ffb1a0 339.5px,#ffa9a7 340.5px,#ffbad0 355.5px,#ffc9ee 368.5px,#ffcbf1 371.5px,#ffcbf1 675.5px)"></i><i style="background:linear-gradient(90deg,#69a8ff 0,#69a9ff 31.5px,#67ceff 156.5px,#67d0ff 159.5px,#66e0ff 164.5px,#66e4ff 167.5px,#66e4ff 260.5px,#66eaff 262.5px,#66f4ff 263.5px,#66ffe3 264.5px,#66ffbe 265.5px,#66ff9f 266.5px,#67ff8d 267.5px,#68ff7c 269.5px,#69ff6f 272.5px,#71ff6c 275.5px,#9eff62 282.5px,#c8ff60 288.5px,#d6ff5f 291.5px,#daff5f 292.5px,#f3f484 296.5px,#fcf091 302.5px,#fde994 313.5px,#ffcfa0 323.5px,#ffb2a0 338.5px,#ffa9a9 340.5px,#ffbbd1 355.5px,#ffc9ed 367.5px,#ffcbf1 370.5px,#ffcbf1 675.5px)"></i><i style="background:linear-gradient(90deg,#69a8ff 0,#69a9ff 33.5px,#67ceff 158.5px,#67d1ff 161.5px,#66e2ff 166.5px,#66e4ff 169.5px,#66e4ff 260.5px,#66eaff 262.5px,#66f4ff 263.5px,#66ffe2 264.5px,#66ffbd 265.5px,#66ff9f 266.5px,#67ff8d 267.5px,#68ff7c 269.5px,#69ff6f 272.5px,#71ff6c 275.5px,#9fff62 282.5px,#c9ff60 288.5px,#d7ff5f 291.5px,#dbfe61 292.5px,#e9f876 294.5px,#f4f485 296.5px,#fbf090 301.5px,#fdea94 312.5px,#ffd0a0 322.5px,#ffb0a0 338.5px,#ffa8a8 339.5px,#ffbad1 354.5px,#ffc9ed 366.5px,#ffcbf1 369.5px,#ffcbf1 675.5px)"></i><i style="background:linear-gradient(90deg,#69a8ff 0,#69a9ff 35.5px,#67ceff 159.5px,#67d0ff 162.5px,#66e2ff 167.5px,#66e5ff 170.5px,#66e5ff 260.5px,#66eaff 262.5px,#66f4ff 263.5px,#66ffe2 264.5px,#66ffbd 265.5px,#66ff9f 266.5px,#67ff8d 267.5px,#68ff7c 269.5px,#69ff6f 272.5px,#72ff6c 275.5px,#a0ff62 282.5px,#c4ff60 287.5px,#d8ff5f 291.5px,#ddfe64 292.5px,#ebf878 294.5px,#f4f386 296.5px,#fbf090 301.5px,#fdea94 312.5px,#ffcfa0 322.5px,#ffb1a0 337.5px,#ffa9aa 339.5px,#ffbad0 353.5px,#ffc9ed 365.5px,#ffcbf1 368.5px,#ffcbf1 675.5px)"></i><i style="background:linear-gradient(90deg,#69a8ff 0,#69a9ff 37.5px,#67ceff 160.5px,#67d1ff 163.5px,#66e1ff 167.5px,#66e5ff 170.5px,#66e5ff 260.5px,#66ebff 262.5px,#66f5ff 263.5px,#66ffe1 264.5px,#66ffbd 265.5px,#66ff9f 266.5px,#67ff8d 267.5px,#68ff7c 269.5px,#69ff6f 272.5px,#72ff6c 275.5px,#a1ff62 282.5px,#c6ff60 287.5px,#d9ff5f 291.5px,#ecf77a 294.5px,#f5f387 296.5px,#fcf091 301.5px,#fde994 312.5px,#ffd0a0 321.5px,#ffb2a0 336.5px,#ffafa1 337.5px,#ffa8a9 338.5px,#ffbbd2 353.5px,#ffcbf1 367.5px,#ffcbf1 675.5px)"></i><i style="background:linear-gradient(90deg,#69a8ff 0,#69a9ff 39.5px,#67cfff 161.5px,#67d0ff 163.5px,#66e0ff 167.5px,#66e5ff 170.5px,#66e6ff 260.5px,#66ebff 262.5px,#66f5ff 263.5px,#66ffe1 264.5px,#66ffbc 265.5px,#66ff9f 266.5px,#67ff8d 267.5px,#68ff83 268.5px,#69ff76 270.5px,#6bff6e 273.5px,#73ff6c 275.5px,#a3ff62 282.5px,#c7ff60 287.5px,#daff5f 291.5px,#f3f483 295.5px,#fbf08f 300.5px,#fdea94 311.5px,#ffcfa0 321.5px,#ffb1a0 336.5px,#ffa9a7 337.5px,#ffbbd2 352.5px,#ffcbf1 366.5px,#ffcbf1 675.5px)"></i><i style="background:linear-gradient(90deg,#69a8ff 0,#69a8ff 40.5px,#67cfff 161.5px,#67d2ff 164.5px,#66e3ff 168.5px,#66e6ff 171.5px,#66e6ff 260.5px,#66ebff 262.5px,#66f5ff 263.5px,#66ffe1 264.5px,#66ffbc 265.5px,#66ff9f 266.5px,#67ff8d 267.5px,#68ff7c 269.5px,#69ff6f 272.5px,#74ff6c 275.5px,#9dff63 281.5px,#c8ff60 287.5px,#d7ff5f 290.5px,#dbff60 291.5px,#f3f484 295.5px,#fbf090 300.5px,#fde994 311.5px,#ffd1a0 320.5px,#ffb2a0 335.5px,#ffa9aa 337.5px,#ffbad1 351.5px,#ffcbf0 365.5px,#ffcbf1 675.5px)"></i><i style="background:linear-gradient(90deg,#69a8ff 0,#69a8ff 42.5px,#67ceff 161.5px,#67d2ff 164.5px,#66e2ff 168.5px,#66e6ff 171.5px,#66e6ff 259.5px,#66ecff 262.5px,#66f5fe 263.5px,#66ffe0 264.5px,#66ffbc 265.5px,#66ff9f 266.5px,#67ff8d 267.5px,#69ff76 270.5px,#69ff6f 272.5px,#74ff6c 275.5px,#9eff62 281.5px,#caff60 287.5px,#d8ff5f 290.5px,#dcfe62 291.5px,#eaf877 293.5px,#f4f385 295.5px,#fcf090 300.5px,#fde994 311.5px,#ffd0a0 320.5px,#ffb0a0 335.5px,#ffa8a9 336.5px,#ffbad0 350.5px,#ffcbf0 364.5px,#ffcbf1 675.5px)"></i><i style="background:linear-gradient(90deg,#69a8ff 0,#69a8ff 44.5px,#67ceff 161.5px,#67d1ff 164.5px,#66e2ff 168.5px,#66e6ff 171.5px,#66e7ff 259.5px,#66ecff 262.5px,#66f6fd 263.5px,#66ffe0 264.5px,#66ffbc 265.5px,#66ff9f 266.5px,#67ff8d 267.5px,#69ff76 270.5px,#69ff6e 272.5px,#75ff6b 275.5px,#9fff62 281.5px,#c4ff60 286.5px,#d8ff5f 290.5px,#f5f386 295.5px,#fcf091 300.5px,#fdea94 310.5px,#ffcfa0 320.5px,#ffb1a0 334.5px,#ffaaa6 335.5px,#ffa9aa 336.5px,#ffc5e6 358.5px,#ffcbf1 364.5px,#ffcbf1 675.5px)"></i><i style="background:linear-gradient(90deg,#69a8ff 0,#69a8ff 46.5px,#67cfff 162.5px,#67d1ff 164.5px,#66e1ff 168.5px,#66e7ff 171.5px,#66e7ff 259.5px,#66ecff 262.5px,#66f6fd 263.5px,#66ffdf 264.5px,#6fb 265.5px,#66ff9e 266.5px,#67ff8d 267.5px,#69ff76 270.5px,#69ff6e 272.5px,#75ff6b 275.5px,#a0ff62 281.5px,#c6ff60 286.5px,#d9ff5f 290.5px,#f2f483 294.5px,#fbf090 299.5px,#fde994 310.5px,#ffd0a0 319.5px,#ffb2a0 333.5px,#ffafa1 334.5px,#ffa9a9 335.5px,#ffbbd2 349.5px,#ffc9ed 360.5px,#ffcbf1 363.5px,#ffcbf1 675.5px)"></i><i style="background:linear-gradient(90deg,#69a8ff 0,#69a8ff 48.5px,#67ceff 162.5px,#67d2ff 165.5px,#66e4ff 169.5px,#66e7ff 172.5px,#66e7ff 259.5px,#66edff 262.5px,#66f6fc 263.5px,#66ffdf 264.5px,#6fb 265.5px,#67ff9e 266.5px,#67ff8d 267.5px,#68ff7c 269.5px,#69ff6e 272.5px,#70ff6c 274.5px,#a1ff62 281.5px,#c7ff60 286.5px,#d6ff5f 289.5px,#daff5f 290.5px,#f3f484 294.5px,#fbf090 299.5px,#fde994 310.5px,#ffcfa0 319.5px,#ffb1a0 333.5px,#ffa9a8 334.5px,#ffbbd1 348.5px,#ffc9ed 359.5px,#ffcbf1 362.5px,#ffcbf1 675.5px)"></i><i style="background:linear-gradient(90deg,#69a8ff 0,#69a8ff 50.5px,#67ceff 162.5px,#67d2ff 165.5px,#66e3ff 169.5px,#66e8ff 172.5px,#66e8ff 259.5px,#66edff 262.5px,#66f7fc 263.5px,#66ffde 264.5px,#6fb 265.5px,#67ff9e 266.5px,#67ff8d 267.5px,#68ff7c 269.5px,#69ff6e 272.5px,#71ff6c 274.5px,#a3ff62 281.5px,#c9ff60 286.5px,#d7ff5f 289.5px,#dcfe61 290.5px,#eaf876 292.5px,#f4f485 294.5px,#fcf090 299.5px,#fdea94 309.5px,#ffd0a0 318.5px,#ffb2a0 332.5px,#ffa9aa 334.5px,#ffbad0 347.5px,#ffc9ed 358.5px,#ffcbf1 361.5px,#ffcbf1 675.5px)"></i><i style="background:linear-gradient(90deg,#69a8ff 0,#69a8ff 52.5px,#67ceff 162.5px,#67d1ff 165.5px,#66e3ff 169.5px,#66e8ff 172.5px,#66e8ff 259.5px,#6ef 262.5px,#66f7fb 263.5px,#66ffde 264.5px,#6fb 265.5px,#67ff9e 266.5px,#67ff8d 267.5px,#68ff7c 269.5px,#69ff6e 272.5px,#71ff6c 274.5px,#9cff63 280.5px,#c3ff60 285.5px,#d8ff5f 289.5px,#ddfe64 290.5px,#ebf778 292.5px,#f5f386 294.5px,#fcf091 299.5px,#fde994 309.5px,#ffcfa0 318.5px,#ffb0a0 332.5px,#ffa8a9 333.5px,#ffbbd2 347.5px,#ffc9ec 357.5px,#ffcbf1 360.5px,#ffcbf1 675.5px)"></i><i style="background:linear-gradient(90deg,#69a8ff 0,#69a8ff 54.5px,#67ceff 162.5px,#67d1ff 165.5px,#66e2ff 169.5px,#66e8ff 172.5px,#66e9ff 259.5px,#6ef 262.5px,#66f7fa 263.5px,#6fd 264.5px,#66ffba 265.5px,#67ff9e 266.5px,#67ff8d 267.5px,#68ff7c 269.5px,#69ff6e 272.5px,#72ff6c 274.5px,#9dff63 280.5px,#c5ff60 285.5px,#d9ff5f 289.5px,#f2f582 293.5px,#fbf090 298.5px,#fde995 309.5px,#ffd1a0 317.5px,#ffb1a0 331.5px,#ffaaa7 332.5px,#ffbbd2 346.5px,#ffcbf1 359.5px,#ffcbf1 675.5px)"></i><i style="background:linear-gradient(90deg,#69a8ff 0,#69a8ff 56.5px,#67ceff 162.5px,#67d0ff 165.5px,#66e5ff 170.5px,#66e9ff 173.5px,#66e9ff 259.5px,#6ef 262.5px,#66f7fa 263.5px,#6fd 264.5px,#66ffba 265.5px,#67ff9e 266.5px,#67ff8d 267.5px,#68ff7c 269.5px,#6aff6e 272.5px,#72ff6c 274.5px,#9fff62 280.5px,#c6ff60 285.5px,#daff5f 289.5px,#f3f483 293.5px,#fbf090 298.5px,#fdea94 308.5px,#ffcfa0 317.5px,#ffb2a0 330.5px,#ffaea2 331.5px,#ffa9aa 332.5px,#ffbbd1 345.5px,#ffcbf0 358.5px,#ffcbf1 675.5px)"></i><i style="background:linear-gradient(90deg,#69a8ff 0,#69a8ff 58.5px,#67ceff 163.5px,#67d2ff 166.5px,#66e5ff 170.5px,#66e9ff 173.5px,#66e9ff 259.5px,#66efff 262.5px,#66f8f9 263.5px,#66ffdc 264.5px,#66ffba 265.5px,#67ff9e 266.5px,#67ff8d 267.5px,#68ff7c 269.5px,#6aff6e 272.5px,#73ff6c 274.5px,#a0ff62 280.5px,#c8ff60 285.5px,#d7ff5f 288.5px,#dbff60 289.5px,#f4f485 293.5px,#fcf091 298.5px,#fde994 308.5px,#ffd1a0 316.5px,#ffb1a0 330.5px,#ffa8a8 331.5px,#ffc7e9 353.5px,#ffcbf1 358.5px,#ffcbf1 675.5px)"></i><i style="background:linear-gradient(90deg,#69a8ff 0,#69a8ff 60.5px,#67ceff 163.5px,#67d1ff 166.5px,#66e4ff 170.5px,#66eaff 173.5px,#66eaff 259.5px,#66efff 262.5px,#66f8f9 263.5px,#66ffdc 264.5px,#66ffb9 265.5px,#67ff9e 266.5px,#67ff8d 267.5px,#68ff7c 269.5px,#6aff6e 272.5px,#74ff6c 274.5px,#a1ff62 280.5px,#c9ff60 285.5px,#d8ff5f 288.5px,#dcfe63 289.5px,#eaf877 291.5px,#f4f386 293.5px,#fcf091 298.5px,#fde895 308.5px,#ffd0a0 316.5px,#ffb2a0 329.5px,#ffa9aa 331.5px,#ffc6e8 352.5px,#ffcbf1 357.5px,#ffcbf1 675.5px)"></i><i style="background:linear-gradient(90deg,#69a8ff 0,#69a8ff 62.5px,#67ceff 163.5px,#67d1ff 166.5px,#66e4ff 170.5px,#66eaff 173.5px,#66eaff 259.5px,#66efff 262.5px,#66f8f8 263.5px,#66ffdb 264.5px,#66ffb9 265.5px,#67ff9e 266.5px,#67ff8d 267.5px,#68ff7c 269.5px,#6aff6e 272.5px,#74ff6c 274.5px,#a3ff62 280.5px,#c4ff60 284.5px,#d8ff5f 288.5px,#f5f387 293.5px,#fbf090 297.5px,#fdea94 307.5px,#ffcfa0 316.5px,#ffb0a1 329.5px,#ffa9a9 330.5px,#ffc5e5 350.5px,#ffcbf1 356.5px,#ffcbf1 675.5px)"></i><i style="background:linear-gradient(90deg,#69a8ff 0,#69a8ff 64.5px,#67ceff 163.5px,#67d0ff 166.5px,#66e6ff 171.5px,#66ebff 174.5px,#66ebff 259.5px,#66f0ff 262.5px,#66f8f7 263.5px,#66ffdb 264.5px,#66ffb9 265.5px,#67ff9e 266.5px,#67ff8d 267.5px,#68ff7c 269.5px,#6aff6e 272.5px,#75ff6b 274.5px,#9cff63 279.5px,#c5ff60 284.5px,#d9ff5f 288.5px,#f2f483 292.5px,#fbf090 297.5px,#fde994 307.5px,#ffd0a0 315.5px,#ffb1a0 328.5px,#ffa9a7 329.5px,#ffbbd1 342.5px,#ffc9ed 352.5px,#ffcbf1 355.5px,#ffcbf1 675.5px)"></i><i style="background:linear-gradient(90deg,#69a8ff 0,#69aaff 69.5px,#67cfff 165.5px,#67d2ff 167.5px,#66e6ff 171.5px,#66ebff 174.5px,#66ebff 259.5px,#66f0ff 262.5px,#66f9f7 263.5px,#66ffda 264.5px,#66ffb9 265.5px,#67ff9d 266.5px,#67ff8d 267.5px,#68ff7c 269.5px,#69ff71 271.5px,#6fff6d 273.5px,#9dff63 279.5px,#c7ff60 284.5px,#d6ff5f 287.5px,#daff5f 288.5px,#f3f484 292.5px,#fcf091 297.5px,#fde895 307.5px,#ffcfa0 315.5px,#ffb2a0 327.5px,#ffaea2 328.5px,#ffa9aa 329.5px,#ffbad0 341.5px,#ffc9ec 351.5px,#ffcbf1 354.5px,#ffcbf1 675.5px)"></i><i style="background:linear-gradient(90deg,#69a8ff 0,#69a9ff 70.5px,#67cfff 165.5px,#67d2ff 167.5px,#66e9ff 172.5px,#66ebff 174.5px,#66ebff 259.5px,#66f1ff 262.5px,#66f9f6 263.5px,#66ffda 264.5px,#66ffb8 265.5px,#67ff9d 266.5px,#67ff8d 267.5px,#68ff7c 269.5px,#69ff70 271.5px,#70ff6d 273.5px,#9eff62 279.5px,#c8ff60 284.5px,#d7ff5f 287.5px,#dcfe62 288.5px,#eaf876 290.5px,#f4f485 292.5px,#fbf18f 296.5px,#fdea94 306.5px,#ffd0a0 314.5px,#ffb1a0 327.5px,#ffa8a9 328.5px,#ffbbd3 341.5px,#ffc8ec 350.5px,#ffcbf1 353.5px,#ffcbf1 675.5px)"></i><i style="background:linear-gradient(90deg,#69a8ff 0,#69a9ff 72.5px,#67ceff 165.5px,#67d1ff 167.5px,#66e5ff 171.5px,#66ebff 174.5px,#66ecff 259.5px,#66f1ff 262.5px,#66f9f6 263.5px,#66ffd9 264.5px,#66ffb8 265.5px,#67ff9d 266.5px,#67ff8d 267.5px,#68ff7b 269.5px,#69ff70 271.5px,#70ff6c 273.5px,#a0ff62 279.5px,#caff60 284.5px,#d8ff5f 287.5px,#ddfe64 288.5px,#ebf778 290.5px,#f5f386 292.5px,#fbf090 296.5px,#fde994 306.5px,#ffcfa0 314.5px,#ffb2a0 326.5px,#ffaaa6 327.5px,#ffa9ab 328.5px,#ffbbd2 340.5px,#ffc8ec 349.5px,#ffcbf1 352.5px,#ffcbf1 675.5px)"></i><i style="background:linear-gradient(90deg,#69a8ff 0,#69a9ff 72.5px,#67cfff 166.5px,#67d3ff 168.5px,#66e8ff 172.5px,#66ecff 174.5px,#66ecff 259.5px,#66f1ff 262.5px,#66f9f5 263.5px,#66ffd9 264.5px,#66ffb8 265.5px,#67ff9d 266.5px,#67ff8d 267.5px,#68ff7b 269.5px,#69ff70 271.5px,#71ff6c 273.5px,#a1ff62 279.5px,#c4ff60 283.5px,#d9ff5f 287.5px,#f2f482 291.5px,#fbf090 296.5px,#fde895 306.5px,#ffd1a0 313.5px,#ffb3a0 325.5px,#ffafa1 326.5px,#ffa9aa 327.5px,#ffbbd1 339.5px,#ffc8eb 348.5px,#ffcbf0 351.5px,#ffcbf1 675.5px)"></i><i style="background:linear-gradient(90deg,#69a8ff 0,#69a9ff 75.5px,#67cfff 166.5px,#67d2ff 168.5px,#66e7ff 172.5px,#66ecff 175.5px,#66edff 259.5px,#66f2ff 262.5px,#66faf4 263.5px,#66ffd8 264.5px,#66ffb8 265.5px,#67ff9d 266.5px,#67ff8d 267.5px,#68ff7b 269.5px,#69ff70 271.5px,#71ff6c 273.5px,#a3ff62 279.5px,#c6ff60 283.5px,#daff5f 287.5px,#f3f484 291.5px,#fcf091 296.5px,#fdea94 305.5px,#ffcfa0 313.5px,#ffb1a0 325.5px,#ffa9a8 326.5px,#ffc6e8 346.5px,#ffcbf1 351.5px,#ffcbf1 675.5px)"></i><i style="background:linear-gradient(90deg,#69a8ff 0,#69a9ff 79.5px,#67ceff 166.5px,#67d2ff 168.5px,#66eaff 173.5px,#66edff 175.5px,#66edff 259.5px,#66f2ff 262.5px,#66faf4 263.5px,#66ffd8 264.5px,#66ffb7 265.5px,#67ff9d 266.5px,#67ff8d 267.5px,#68ff7b 269.5px,#69ff70 271.5px,#72ff6c 273.5px,#a4ff62 279.5px,#c7ff60 283.5px,#d7ff5f 286.5px,#dbff61 287.5px,#f4f485 291.5px,#fbf08f 295.5px,#fde994 305.5px,#ffd19f 312.5px,#ffb2a0 324.5px,#ffa9aa 326.5px,#ffc6e8 345.5px,#ffcbf1 350.5px,#ffcbf1 675.5px)"></i><i style="background:linear-gradient(90deg,#69a8ff 0,#69a9ff 83.5px,#67ceff 166.5px,#67d1ff 168.5px,#66e6ff 172.5px,#66edff 175.5px,#66edff 259.5px,#66f2ff 262.5px,#66faf3 263.5px,#66ffd7 264.5px,#66ffb7 265.5px,#67ff9d 266.5px,#67ff8d 267.5px,#68ff7b 269.5px,#69ff70 271.5px,#73ff6c 273.5px,#9dff63 278.5px,#c9ff60 283.5px,#d8ff5f 286.5px,#ddfe63 287.5px,#eaf877 289.5px,#f4f386 291.5px,#fbf090 295.5px,#fde895 305.5px,#ffd0a0 312.5px,#ffb0a0 324.5px,#ffa8a9 325.5px,#ffc6e7 344.5px,#ffcbf1 349.5px,#ffcbf1 675.5px)"></i><i style="background:linear-gradient(90deg,#69a8ff 0,#69a9ff 86.5px,#67cfff 167.5px,#67d4ff 169.5px,#66e9ff 173.5px,#66edff 175.5px,#6ef 259.5px,#66f3ff 262.5px,#66faf3 263.5px,#66ffd7 264.5px,#66ffb7 265.5px,#67ff9d 266.5px,#67ff8d 267.5px,#68ff7b 269.5px,#69ff6f 271.5px,#74ff6c 273.5px,#9eff62 278.5px,#c3ff60 282.5px,#d0ff60 284.5px,#d8ff5f 286.5px,#f1f581 290.5px,#f7f28a 292.5px,#fcf090 295.5px,#fdea94 304.5px,#ffcfa0 312.5px,#ffb2a0 323.5px,#ffaaa6 324.5px,#ffbbd1 336.5px,#ffc9ec 345.5px,#ffcbf1 348.5px,#ffcbf1 675.5px)"></i><i style="background:linear-gradient(90deg,#69a8ff 0,#69a9ff 90.5px,#67cfff 167.5px,#67d3ff 169.5px,#66e9ff 173.5px,#6ef 176.5px,#6ef 259.5px,#66f3ff 262.5px,#66fbf2 263.5px,#66ffd7 264.5px,#66ffb6 265.5px,#67ff9d 266.5px,#67ff8d 267.5px,#68ff7b 269.5px,#69ff6f 271.5px,#6eff6d 272.5px,#a0ff62 278.5px,#c4ff60 282.5px,#d9ff5f 286.5px,#f3f483 290.5px,#fbf18f 294.5px,#fde994 304.5px,#ffd0a0 311.5px,#ffb3a0 322.5px,#ffaea2 323.5px,#ffa9aa 324.5px,#ffc5e6 342.5px,#ffcbf1 347.5px,#ffcbf1 675.5px)"></i><i style="background:linear-gradient(90deg,#69a8ff 0,#69a9ff 93.5px,#67ceff 167.5px,#67d2ff 169.5px,#66ebff 174.5px,#6ef 176.5px,#66efff 259.5px,#66f3ff 262.5px,#66fbf1 263.5px,#66ffd6 264.5px,#66ffb6 265.5px,#67ff9d 266.5px,#67ff8d 267.5px,#68ff7b 269.5px,#69ff6f 271.5px,#6eff6d 272.5px,#a1ff62 278.5px,#c6ff60 282.5px,#d7ff5f 285.5px,#daff60 286.5px,#f3f484 290.5px,#fbf090 294.5px,#fdea94 303.5px,#ffcfa0 311.5px,#ffb1a0 322.5px,#ffa8a9 323.5px,#ffc5e6 341.5px,#ffcbf1 346.5px,#ffcbf1 675.5px)"></i><i style="background:linear-gradient(90deg,#69a8ff 0,#69a9ff 97.5px,#67ceff 167.5px,#67d1ff 169.5px,#66e7ff 173.5px,#66efff 176.5px,#66efff 259.5px,#66f4ff 262.5px,#66fbf1 263.5px,#66ffb6 265.5px,#67ff9c 266.5px,#67ff8d 267.5px,#68ff7b 269.5px,#69ff6f 271.5px,#6fff6d 272.5px,#a3ff62 278.5px,#c8ff60 282.5px,#d7ff5f 285.5px,#dcfe62 286.5px,#eaf877 288.5px,#f4f386 290.5px,#fbf090 294.5px,#fde994 303.5px,#ffd0a0 310.5px,#ffb1a0 321.5px,#ffaaa7 322.5px,#ffbcd3 334.5px,#ffc9ec 342.5px,#ffcbf1 345.5px,#ffcbf1 675.5px)"></i><i style="background:linear-gradient(90deg,#69a8ff 0,#69a9ff 101.5px,#67cfff 168.5px,#67d4ff 170.5px,#66eaff 174.5px,#66efff 176.5px,#66efff 259.5px,#66f4ff 262.5px,#66fbf1 263.5px,#66ffb6 265.5px,#67ff9c 266.5px,#67ff8d 267.5px,#68ff7b 269.5px,#69ff6e 271.5px,#6fff6d 272.5px,#9bff63 277.5px,#c2ff60 281.5px,#d0ff60 283.5px,#d8ff5f 285.5px,#f5f387 290.5px,#fcf091 294.5px,#fde895 303.5px,#ffd19f 309.5px,#ffb2a0 320.5px,#ffa9ab 322.5px,#ffc5e6 339.5px,#ffcbf1 344.5px,#ffcbf1 675.5px)"></i><i style="background:linear-gradient(90deg,#69a8ff 0,#69a9ff 104.5px,#67ceff 168.5px,#67d3ff 170.5px,#66e9ff 174.5px,#66efff 177.5px,#66efff 259.5px,#66f4ff 262.5px,#66fbf1 263.5px,#66ffb6 265.5px,#67ff9c 266.5px,#67ff8d 267.5px,#68ff7b 269.5px,#69ff6e 271.5px,#70ff6c 272.5px,#9dff63 277.5px,#c4ff60 281.5px,#d1ff5f 283.5px,#d9ff5f 285.5px,#f3f483 289.5px,#fbf08f 293.5px,#fde994 302.5px,#ffcfa0 309.5px,#ffafa1 320.5px,#ffa9aa 321.5px,#ffc6e6 338.5px,#ffcbf1 343.5px,#ffcbf1 675.5px)"></i><i style="background:linear-gradient(90deg,#69a8ff 0,#69a9ff 108.5px,#67ceff 168.5px,#67d2ff 170.5px,#66ecff 175.5px,#66efff 177.5px,#66efff 259.5px,#66f4ff 262.5px,#66fbf0 263.5px,#66ffb6 265.5px,#67ff9c 266.5px,#67ff8d 267.5px,#68ff7b 269.5px,#6aff6e 271.5px,#71ff6c 272.5px,#9fff62 277.5px,#c6ff60 281.5px,#d7ff5f 284.5px,#daff60 285.5px,#f3f484 289.5px,#fbf090 293.5px,#fde895 302.5px,#ffd1a0 308.5px,#ffb1a0 319.5px,#ffa8a9 320.5px,#ffc6e6 337.5px,#ffcbf1 342.5px,#ffcbf1 675.5px)"></i><i style="background:linear-gradient(90deg,#69a8ff 0,#69a8ff 111.5px,#67ceff 168.5px,#67d1ff 170.5px,#66e7ff 174.5px,#66efff 177.5px,#66efff 259.5px,#66f4ff 262.5px,#66fbf0 263.5px,#66ffb6 265.5px,#67ff9c 266.5px,#67ff8d 267.5px,#68ff7b 269.5px,#6aff6e 271.5px,#a1ff62 277.5px,#c7ff60 281.5px,#d7ff5f 284.5px,#dcfe62 285.5px,#eaf877 287.5px,#f4f386 289.5px,#fcf091 293.5px,#fdea94 301.5px,#ffcfa0 308.5px,#ffb2a0 318.5px,#ffaaa6 319.5px,#ffc4e3 335.5px,#ffc9ed 338.5px,#ffcbf1 341.5px,#ffcbf1 675.5px)"></i><i style="background:linear-gradient(90deg,#69a8ff 0,#69a9ff 115.5px,#67ceff 169.5px,#67d4ff 171.5px,#66eaff 175.5px,#66efff 177.5px,#66efff 259.5px,#66f4ff 262.5px,#66fbf0 263.5px,#66ffb6 265.5px,#67ff9c 266.5px,#67ff8d 267.5px,#69ff74 270.5px,#6bff6e 271.5px,#73ff6c 272.5px,#a3ff62 277.5px,#c9ff60 281.5px,#d8ff5f 284.5px,#defd65 285.5px,#f1f581 288.5px,#fbf18f 292.5px,#fde895 301.5px,#ffd1a0 307.5px,#ffb3a0 317.5px,#ffada3 318.5px,#ffa9ab 319.5px,#ffc6e7 335.5px,#ffcbf1 340.5px,#ffcbf1 675.5px)"></i><i style="background:linear-gradient(90deg,#69a8ff 0,#69a9ff 119.5px,#67ceff 169.5px,#67d3ff 171.5px,#66eaff 175.5px,#66efff 178.5px,#66efff 259.5px,#66f4ff 262.5px,#66fbf0 263.5px,#66ffb6 265.5px,#67ff9c 266.5px,#67ff8d 267.5px,#69ff74 270.5px,#6bff6e 271.5px,#74ff6c 272.5px,#a5ff62 277.5px,#cbff60 281.5px,#d9ff5f 284.5px,#f3f483 288.5px,#fbf090 292.5px,#fdea94 300.5px,#ffcfa0 307.5px,#ffb0a0 317.5px,#ffa9aa 318.5px,#ffc6e7 334.5px,#ffcbf1 339.5px,#ffcbf1 675.5px)"></i><i style="background:linear-gradient(90deg,#69a8ff 0,#69a8ff 122.5px,#67ceff 169.5px,#67d2ff 171.5px,#66ecff 176.5px,#66efff 178.5px,#66f0ff 259.5px,#66f4ff 262.5px,#66fcf0 263.5px,#66ffb6 265.5px,#67ff9c 266.5px,#67ff8d 267.5px,#69ff73 270.5px,#6cff6d 271.5px,#75ff6b 272.5px,#9cff63 276.5px,#c5ff60 280.5px,#d7ff5f 283.5px,#daff60 284.5px,#f4f485 288.5px,#fcf091 292.5px,#fde994 300.5px,#ffd0a0 306.5px,#ffb1a0 316.5px,#ffa9a8 317.5px,#ffc6e7 333.5px,#ffcbf1 338.5px,#ffcbf1 675.5px)"></i><i style="background:linear-gradient(90deg,#69a8ff 0,#69a9ff 126.5px,#67cfff 170.5px,#66d6ff 172.5px,#66e7ff 175.5px,#66efff 178.5px,#66f0ff 259.5px,#66f4ff 262.5px,#66fcf0 263.5px,#66ffb6 265.5px,#67ff9c 266.5px,#67ff8d 267.5px,#69ff73 270.5px,#6dff6d 271.5px,#76ff6b 272.5px,#9eff62 276.5px,#c7ff60 280.5px,#d7ff5f 283.5px,#dcfe62 284.5px,#eaf877 286.5px,#f4f386 288.5px,#fbf18f 291.5px,#fdea94 299.5px,#ffcfa0 306.5px,#ffb2a0 315.5px,#ffaba5 316.5px,#ffaaab 317.5px,#ffc6e7 332.5px,#ffcbf1 337.5px,#ffcbf1 675.5px)"></i><i style="background:linear-gradient(90deg,#69a8ff 0,#69a8ff 129.5px,#67ceff 170.5px,#67d4ff 172.5px,#66ebff 176.5px,#66efff 178.5px,#66f0ff 259.5px,#66f4ff 262.5px,#66fcf0 263.5px,#66ffb5 265.5px,#67ff9c 266.5px,#67ff8d 267.5px,#69ff73 270.5px,#6dff6d 271.5px,#a0ff62 276.5px,#c9ff60 280.5px,#d8ff5f 283.5px,#defd65 284.5px,#f1f581 287.5px,#fbf090 291.5px,#fde994 299.5px,#ffd0a0 305.5px,#ffb3a0 314.5px,#ffafa2 315.5px,#ffa9aa 316.5px,#ffc4e3 330.5px,#ffcbf0 335.5px,#ffcbf1 675.5px)"></i><i style="background:linear-gradient(90deg,#69a8ff 0,#69a9ff 133.5px,#67cdff 170.5px,#67d3ff 172.5px,#66eaff 176.5px,#66f0ff 179.5px,#66f0ff 259.5px,#66f5ff 262.5px,#66fcf0 263.5px,#66ffb5 265.5px,#67ff9c 266.5px,#67ff8d 267.5px,#69ff72 270.5px,#6eff6d 271.5px,#a2ff62 276.5px,#c2ff60 279.5px,#d1ff5f 281.5px,#d9ff5f 283.5px,#f3f483 287.5px,#fcf090 291.5px,#fde795 299.5px,#ffcea0 305.5px,#ffb1a0 314.5px,#ffa9a9 315.5px,#ffc6e7 330.5px,#ffcbf0 334.5px,#ffcbf1 675.5px)"></i><i style="background:linear-gradient(90deg,#69a8ff 0,#69a8ff 136.5px,#67cdff 170.5px,#67d2ff 172.5px,#66e9ff 176.5px,#66f0ff 179.5px,#66f0ff 259.5px,#66f5ff 262.5px,#66fcf0 263.5px,#66ffb5 265.5px,#67ff9c 266.5px,#67ff8c 267.5px,#69ff72 270.5px,#6fff6d 271.5px,#99ff63 275.5px,#c4ff60 279.5px,#d6ff5f 282.5px,#daff60 283.5px,#f4f485 287.5px,#fbf18f 290.5px,#fde994 298.5px,#ffd0a0 304.5px,#ffb2a0 313.5px,#ffa9a7 314.5px,#ffc4e3 328.5px,#ffcbf0 333.5px,#ffcbf1 675.5px)"></i><i style="background:linear-gradient(90deg,#69a8ff 0,#69a8ff 140.5px,#67ceff 171.5px,#66d6ff 173.5px,#66e8ff 176.5px,#66f0ff 179.5px,#66f0ff 259.5px,#66f5ff 262.5px,#66fcef 263.5px,#66ffb5 265.5px,#67ff9c 266.5px,#67ff8c 267.5px,#69ff71 270.5px,#70ff6d 271.5px,#9bff63 275.5px,#c6ff60 279.5px,#d7ff5f 282.5px,#dcfe62 283.5px,#eaf877 285.5px,#f4f386 287.5px,#fbf090 290.5px,#fde895 298.5px,#ffd29f 303.5px,#ffb3a0 312.5px,#ffaaab 314.5px,#ffc6e7 328.5px,#ffcbf0 333.5px,#ffcbf1 675.5px)"></i><i style="background:linear-gradient(90deg,#69a8ff 0,#69a8ff 143.5px,#67cdff 171.5px,#67d4ff 173.5px,#66ebff 177.5px,#66f0ff 179.5px,#66f0ff 259.5px,#66f5ff 262.5px,#66fcef 263.5px,#66ffb5 265.5px,#67ff9c 266.5px,#67ff8c 267.5px,#69ff71 270.5px,#71ff6c 271.5px,#9dff63 275.5px,#c9ff60 279.5px,#d8ff5f 282.5px,#defd65 283.5px,#f1f581 286.5px,#fcf090 290.5px,#fde994 297.5px,#ffcfa0 303.5px,#ffb0a1 312.5px,#ffa9aa 313.5px,#ffc6e7 327.5px,#ffc9ee 330.5px,#ffcaf0 334.5px,#ffcbf1 675.5px)"></i><i style="background:linear-gradient(90deg,#69a8ff 0,#69a8ff 144.5px,#67cdff 171.5px,#67d3ff 173.5px,#66eaff 177.5px,#66efff 179.5px,#66f0ff 259.5px,#66f5ff 262.5px,#66fcef 263.5px,#66ffb5 265.5px,#67ff9c 266.5px,#67ff8c 267.5px,#69ff70 270.5px,#9fff62 275.5px,#c2ff60 278.5px,#d1ff5f 280.5px,#d9ff5f 282.5px,#f3f483 286.5px,#faf18f 289.5px,#fde895 297.5px,#ffd19f 302.5px,#ffb1a0 311.5px,#ffa9a9 312.5px,#ffc6e6 326.5px,#ffc8ec 329.5px,#ffcaf0 336.5px,#ffcbf1 675.5px)"></i><i style="background:linear-gradient(90deg,#69a8ff 0,#69a8ff 145.5px,#67ceff 172.5px,#66e9ff 177.5px,#66f0ff 180.5px,#66f0ff 259.5px,#66f5ff 262.5px,#66fcef 263.5px,#66ffb5 265.5px,#67ff9c 266.5px,#67ff8c 267.5px,#69ff70 270.5px,#a1ff62 275.5px,#c4ff60 278.5px,#d6ff5f 281.5px,#daff60 282.5px,#f4f485 286.5px,#fbf08f 289.5px,#fdea94 296.5px,#ffcfa0 302.5px,#ffb2a0 310.5px,#ffaaa6 311.5px,#ffb9ce 319.5px,#ffc5e5 325.5px,#ffcaf0 338.5px,#ffcbf1 675.5px)"></i><i style="background:linear-gradient(90deg,#69a8ff 0,#69a8ff 146.5px,#67ceff 172.5px,#66e8ff 177.5px,#66f0ff 180.5px,#66f0ff 259.5px,#66f5ff 262.5px,#66fcef 263.5px,#66ffb5 265.5px,#67ff9c 266.5px,#67ff8c 267.5px,#69ff6f 270.5px,#a4ff62 275.5px,#c6ff60 278.5px,#d7ff5f 281.5px,#dcfe62 282.5px,#f5f386 286.5px,#fbf090 289.5px,#fde895 296.5px,#ffd1a0 301.5px,#ffb3a0 309.5px,#ffada3 310.5px,#ffaaab 311.5px,#ffbbd2 319.5px,#ffc3e1 323.5px,#ffc6e8 328.5px,#ffcaf0 340.5px,#ffcbf1 675.5px)"></i><i style="background:linear-gradient(90deg,#69a8ff 0,#69a8ff 147.5px,#67cdff 172.5px,#66ecff 178.5px,#66f0ff 180.5px,#66f0ff 259.5px,#66f5ff 262.5px,#66fcef 263.5px,#66ffb5 265.5px,#67ff9c 266.5px,#67ff8c 267.5px,#69ff6f 270.5px,#9aff63 274.5px,#beff60 277.5px,#cfff60 279.5px,#d8ff5f 281.5px,#defd65 282.5px,#f1f582 285.5px,#fcf091 289.5px,#fde795 296.5px,#ffcfa0 301.5px,#ffb1a0 309.5px,#ffa9aa 310.5px,#ffbbd2 318.5px,#ffc2e0 322.5px,#ffcaf0 343.5px,#ffcbf1 675.5px)"></i><i style="background:linear-gradient(90deg,#69a8ff 0,#69a8ff 148.5px,#67cdff 172.5px,#67d3ff 174.5px,#66ebff 178.5px,#66f0ff 180.5px,#66f0ff 259.5px,#66f5ff 262.5px,#66fcef 263.5px,#66ffb5 265.5px,#67ff9c 266.5px,#67ff8c 267.5px,#69ff6e 270.5px,#9cff63 274.5px,#c1ff60 277.5px,#d1ff5f 279.5px,#d9ff5f 281.5px,#f3f483 285.5px,#fbf18f 288.5px,#fde994 295.5px,#ffd0a0 300.5px,#ffb2a0 308.5px,#ffa8a9 309.5px,#ffbbd1 317.5px,#ffc0dc 320.5px,#ffcaf0 345.5px,#ffcbf1 675.5px)"></i><i style="background:linear-gradient(90deg,#69a8ff 0,#69a8ff 149.5px,#67ccff 172.5px,#67d2ff 174.5px,#66eaff 178.5px,#66f0ff 181.5px,#66f2ff 261.5px,#66f6fe 262.5px,#66fded 263.5px,#66ffb3 265.5px,#67ff9b 266.5px,#67ff8c 267.5px,#6bff6e 270.5px,#9eff62 274.5px,#c3ff60 277.5px,#d6ff5f 280.5px,#daff60 281.5px,#f4f485 285.5px,#fbf090 288.5px,#fde795 295.5px,#ffcea0 300.5px,#ffb3a0 307.5px,#ffaba5 308.5px,#ffaaad 309.5px,#ffbbd1 316.5px,#ffbfda 319.5px,#ffcaf0 347.5px,#ffcbf1 675.5px)"></i><i style="background:linear-gradient(90deg,#69a8ff 0,#69a8ff 150.5px,#67ceff 173.5px,#66e9ff 178.5px,#66f0ff 181.5px,#66f2ff 261.5px,#66f7fb 262.5px,#66ffe8 263.5px,#66ffad 265.5px,#67ff97 266.5px,#69ff75 269.5px,#6eff6d 270.5px,#a1ff62 274.5px,#c5ff60 277.5px,#d7ff5f 280.5px,#dcfe62 281.5px,#f5f386 285.5px,#fcf091 288.5px,#fde994 294.5px,#ffd0a0 299.5px,#ffb4a0 306.5px,#ffafa2 307.5px,#ffa9ab 308.5px,#ffbad0 315.5px,#ffbfd9 318.5px,#ffcaf0 349.5px,#ffcbf1 675.5px)"></i><i style="background:linear-gradient(90deg,#69a8ff 0,#69a8ff 150.5px,#67cdff 173.5px,#66e8ff 178.5px,#66f0ff 181.5px,#66f3ff 261.5px,#66f9f7 262.5px,#66ffe0 263.5px,#66ffa6 265.5px,#67ff93 266.5px,#69ff73 269.5px,#70ff6c 270.5px,#96ff64 273.5px,#c8ff60 277.5px,#d8ff5f 280.5px,#defd65 281.5px,#f2f582 284.5px,#fbf18f 287.5px,#fde795 294.5px,#ffcea0 299.5px,#ffb1a0 306.5px,#ffa9aa 307.5px,#ffbad0 314.5px,#ffbdd6 316.5px,#ffcbf0 352.5px,#ffcbf1 675.5px)"></i><i style="background:linear-gradient(90deg,#69a8ff 0,#69a8ff 151.5px,#67cdff 173.5px,#67d4ff 175.5px,#66ecff 179.5px,#66f0ff 181.5px,#66f1ff 258.5px,#66f5ff 261.5px,#66fbf0 262.5px,#66ff9f 265.5px,#67ff8e 266.5px,#69ff71 269.5px,#72ff6c 270.5px,#99ff64 273.5px,#c0ff60 276.5px,#d1ff5f 278.5px,#d9ff5f 280.5px,#f3f483 284.5px,#fbf090 287.5px,#fde994 293.5px,#ffd0a0 298.5px,#ffb3a0 305.5px,#ffa9a8 306.5px,#ffbacf 313.5px,#ffbdd5 315.5px,#ffcaf0 354.5px,#ffcbf1 675.5px)"></i><i style="background:linear-gradient(90deg,#69a8ff 0,#69a8ff 152.5px,#67ccff 173.5px,#67d3ff 175.5px,#66ebff 179.5px,#66f0ff 181.5px,#66f2ff 260.5px,#66f6fc 261.5px,#66feea 262.5px,#66ffb0 264.5px,#67ff99 265.5px,#68ff8b 266.5px,#69ff6e 269.5px,#9bff63 273.5px,#c2ff60 276.5px,#ccff60 277.5px,#d6ff5f 279.5px,#daff60 280.5px,#f4f485 284.5px,#fcf091 287.5px,#fde895 293.5px,#ffd29f 297.5px,#ffb4a0 304.5px,#ffaca4 305.5px,#ffaaad 306.5px,#ffb9cf 312.5px,#ffbcd5 314.5px,#ffcaf0 356.5px,#ffcbf1 675.5px)"></i><i style="background:linear-gradient(90deg,#69a8ff 0,#69a8ff 153.5px,#67ceff 174.5px,#66eaff 179.5px,#66f1ff 182.5px,#66f3ff 260.5px,#66f8f7 261.5px,#66ffe2 262.5px,#66ffa7 264.5px,#67ff94 265.5px,#69ff76 268.5px,#6bff6e 269.5px,#76ff6b 270.5px,#9dff63 273.5px,#c5ff60 276.5px,#d7ff5f 279.5px,#dcfe62 280.5px,#f0f580 283.5px,#faf18f 286.5px,#fde994 292.5px,#ffcfa0 297.5px,#ffafa1 304.5px,#ffaaab 305.5px,#ffb9ce 311.5px,#ffbcd4 313.5px,#ffbfdb 329.5px,#ffcaf0 358.5px,#ffcbf1 675.5px)"></i><i style="background:linear-gradient(90deg,#69a8ff 0,#69a8ff 154.5px,#67cdff 174.5px,#66e9ff 179.5px,#66f1ff 182.5px,#66f2ff 259.5px,#66f5fe 260.5px,#66fcf0 261.5px,#66ff9f 264.5px,#67ff8e 265.5px,#69ff73 268.5px,#6dff6d 269.5px,#79ff6b 270.5px,#a1ff62 273.5px,#c7ff60 276.5px,#d9ff5f 279.5px,#f2f482 283.5px,#fbf090 286.5px,#fde795 292.5px,#ffd0a0 296.5px,#ffb1a0 303.5px,#ffa9aa 304.5px,#ffb9ce 310.5px,#ffbcd4 312.5px,#ffbfda 331.5px,#ffcaf0 360.5px,#ffcbf1 675.5px)"></i><i style="background:linear-gradient(90deg,#69a8ff 0,#69a8ff 155.5px,#67ccff 174.5px,#66e8ff 179.5px,#66f1ff 182.5px,#66f3ff 259.5px,#66f7fa 260.5px,#66ffe7 261.5px,#66ffad 263.5px,#67ff98 264.5px,#68ff8a 265.5px,#69ff71 268.5px,#7cff6a 270.5px,#a4ff62 273.5px,#caff60 276.5px,#daff5f 279.5px,#eef67d 282.5px,#faf18e 285.5px,#fde895 291.5px,#ffd29f 295.5px,#ffb2a0 302.5px,#ffa9a9 303.5px,#ffb9cd 309.5px,#ffbcd4 311.5px,#ffbfda 332.5px,#ffcaf0 362.5px,#ffcbf1 675.5px)"></i><i style="background:linear-gradient(90deg,#69a8ff 0,#69a8ff 155.5px,#69acff 159.5px,#67ccff 174.5px,#67d3ff 176.5px,#66ecff 180.5px,#66f1ff 182.5px,#66f1ff 256.5px,#66f5ff 259.5px,#66faf3 260.5px,#66ffdc 261.5px,#66ffa4 263.5px,#67ff92 264.5px,#68ff86 265.5px,#69ff6e 268.5px,#7eff69 270.5px,#c3ff60 275.5px,#ccff60 276.5px,#d7ff5f 278.5px,#dcfe61 279.5px,#f0f57f 282.5px,#fbf08f 285.5px,#fde994 290.5px,#ffcea0 295.5px,#ffb3a0 301.5px,#ffaaa7 302.5px,#ffb9cd 308.5px,#ffbcd4 310.5px,#ffbfda 334.5px,#ffcaf0 364.5px,#ffcbf1 675.5px)"></i><i style="background:linear-gradient(90deg,#69a8ff 0,#69a8ff 156.5px,#69abff 159.5px,#67cbff 174.5px,#67d2ff 176.5px,#66ebff 180.5px,#66f0ff 182.5px,#66f3ff 258.5px,#66f7fc 259.5px,#66feea 260.5px,#66ffb3 262.5px,#67ff9c 263.5px,#67ff8d 264.5px,#68ff83 265.5px,#6bff6d 268.5px,#81ff69 270.5px,#9dff63 272.5px,#c6ff60 275.5px,#d8ff5f 278.5px,#defd65 279.5px,#f2f582 282.5px,#fcf091 285.5px,#fde695 290.5px,#ffcfa0 294.5px,#ffb4a0 300.5px,#ffaca4 301.5px,#ffabae 302.5px,#ffb8cc 307.5px,#ffbcd5 310.5px,#ffbfd9 335.5px,#ffcaf0 366.5px,#ffcbf1 675.5px)"></i><i style="background:linear-gradient(90deg,#69a8ff 0,#69a8ff 157.5px,#69abff 160.5px,#67cdff 175.5px,#66eaff 180.5px,#66f1ff 183.5px,#66f4ff 258.5px,#66f9f6 259.5px,#66ffe0 260.5px,#66ffa8 262.5px,#67ff95 263.5px,#68ff80 265.5px,#69ff71 267.5px,#6eff6d 268.5px,#84ff68 270.5px,#a1ff62 272.5px,#c9ff60 275.5px,#d9ff5f 278.5px,#f3f484 282.5px,#fbf18f 284.5px,#fde895 289.5px,#ffd1a0 293.5px,#ffb5a0 299.5px,#ffada4 300.5px,#ffaaad 301.5px,#ffb8cc 306.5px,#ffbcd5 309.5px,#ffbed8 336.5px,#ffcaf0 368.5px,#ffcbf1 675.5px)"></i><i style="background:linear-gradient(90deg,#69a8ff 0,#69a8ff 158.5px,#69acff 161.5px,#67ccff 175.5px,#66e9ff 180.5px,#66f1ff 183.5px,#66f2ff 257.5px,#66f6fd 258.5px,#66fcee 259.5px,#66ffa0 262.5px,#67ff8f 263.5px,#68ff85 264.5px,#69ff6f 267.5px,#70ff6d 268.5px,#87ff67 270.5px,#c1ff60 274.5px,#ccff60 275.5px,#d7ff5f 277.5px,#dbff60 278.5px,#eff67f 281.5px,#fcf091 284.5px,#fde994 288.5px,#ffd29f 292.5px,#ffafa1 299.5px,#ffaaac 300.5px,#ffb8cc 305.5px,#ffbcd4 308.5px,#ffbed8 338.5px,#ffcaf0 370.5px,#ffcbf1 675.5px)"></i><i style="background:linear-gradient(90deg,#69a8ff 0,#69a8ff 159.5px,#69acff 162.5px,#67cbff 175.5px,#66e8ff 180.5px,#66f1ff 183.5px,#66f4ff 257.5px,#66f8f8 258.5px,#66ffe5 259.5px,#66ffad 261.5px,#67ff98 262.5px,#68ff82 264.5px,#6aff6e 267.5px,#72ff6c 268.5px,#8bff67 270.5px,#c5ff60 274.5px,#ceff60 275.5px,#d8ff5f 277.5px,#ddfe64 278.5px,#f1f581 281.5px,#faf18e 283.5px,#fde696 288.5px,#ffcea0 292.5px,#ffb1a0 298.5px,#ffa9ab 299.5px,#ffb8cb 304.5px,#ffbcd4 307.5px,#ffbed8 340.5px,#ffcaf0 372.5px,#ffcbf1 675.5px)"></i><i style="background:linear-gradient(90deg,#69a8ff 0,#69a8ff 160.5px,#69acff 163.5px,#67cbff 175.5px,#67d3ff 177.5px,#66ebff 181.5px,#66f1ff 183.5px,#66f2ff 256.5px,#66f5fe 257.5px,#66fbf1 258.5px,#66ffa4 261.5px,#67ff93 262.5px,#68ff7f 264.5px,#6cff6d 267.5px,#74ff6c 268.5px,#9dff63 271.5px,#c8ff60 274.5px,#d9ff5f 277.5px,#f3f484 281.5px,#fbf090 283.5px,#fde795 287.5px,#ffcfa0 291.5px,#ffb2a0 297.5px,#ffa9aa 298.5px,#ffb8cb 303.5px,#ffbcd4 306.5px,#ffbed8 341.5px,#ffcaf0 374.5px,#ffcbf1 675.5px)"></i><i style="background:linear-gradient(90deg,#69a8ff 0,#69a8ff 161.5px,#68adff 164.5px,#67cdff 176.5px,#66eaff 181.5px,#66f1ff 184.5px,#66f3ff 256.5px,#66f7fa 257.5px,#66fee9 258.5px,#66ffb3 260.5px,#67ff9c 261.5px,#68ff83 263.5px,#69ff70 266.5px,#6dff6d 267.5px,#83ff68 269.5px,#bfff60 273.5px,#cbff60 274.5px,#d6ff5f 276.5px,#daff60 277.5px,#f5f386 281.5px,#fcf091 283.5px,#fde497 287.5px,#ffd1a0 290.5px,#ffb3a0 296.5px,#ffaaa8 297.5px,#ffb7ca 302.5px,#ffbcd4 305.5px,#ffbed8 343.5px,#ffcaf0 376.5px,#ffcbf1 675.5px)"></i><i style="background:linear-gradient(90deg,#69a8ff 0,#69a8ff 161.5px,#69abff 164.5px,#67ccff 176.5px,#66e9ff 181.5px,#66f1ff 184.5px,#66f3ff 255.5px,#66f6fd 256.5px,#66fbf1 257.5px,#66ffdb 258.5px,#66ffa7 260.5px,#67ff94 261.5px,#68ff80 263.5px,#69ff6e 266.5px,#70ff6d 267.5px,#87ff68 269.5px,#c3ff60 273.5px,#cdff60 274.5px,#d8ff5f 276.5px,#ddfe63 277.5px,#f1f581 280.5px,#fbf08f 282.5px,#fde596 286.5px,#ffd29f 289.5px,#ffb4a0 295.5px,#ffaca5 296.5px,#ffabae 297.5px,#ffb7ca 301.5px,#ffbcd4 304.5px,#ffbed7 344.5px,#ffcaf0 378.5px,#ffcbf1 675.5px)"></i><i style="background:linear-gradient(90deg,#69a8ff 0,#69a8ff 162.5px,#69acff 165.5px,#67cbff 176.5px,#66e9ff 181.5px,#66f1ff 184.5px,#66f4ff 254.5px,#66f8f9 255.5px,#66fdeb 256.5px,#66ffa6 259.5px,#67ff95 260.5px,#68ff80 262.5px,#69ff6f 265.5px,#74ff6c 267.5px,#9dff63 270.5px,#c8ff60 273.5px,#d9ff5f 276.5px,#f4f485 280.5px,#fcf091 282.5px,#fde795 285.5px,#ffcea0 289.5px,#ffb5a0 294.5px,#ffaca4 295.5px,#ffaaad 296.5px,#ffbacf 301.5px,#ffbcd5 304.5px,#ffbed7 346.5px,#ffcbf1 384.5px,#ffcbf1 675.5px)"></i><i style="background:linear-gradient(90deg,#69a8ff 0,#69a8ff 162.5px,#69abff 165.5px,#67cbff 176.5px,#66e8ff 181.5px,#66f1ff 184.5px,#66f4ff 252.5px,#66f7fa 253.5px,#66fced 254.5px,#67ff9a 258.5px,#67ff8d 259.5px,#68ff7c 261.5px,#69ff6f 264.5px,#72ff6c 266.5px,#89ff67 268.5px,#c4ff60 272.5px,#cdff60 273.5px,#d8ff5f 275.5px,#ddfe63 276.5px,#f1f581 279.5px,#fbf090 281.5px,#fde895 284.5px,#ffcfa0 288.5px,#ffafa2 294.5px,#ffaaac 295.5px,#ffb9cf 300.5px,#ffbcd5 303.5px,#ffbed7 347.5px,#ffcbf1 386.5px,#ffcbf1 675.5px)"></i><i style="background:linear-gradient(90deg,#69a8ff 0,#69a8ff 163.5px,#68adff 166.5px,#67cbff 176.5px,#66e8ff 181.5px,#66f1ff 184.5px,#66f4ff 250.5px,#66f7fa 251.5px,#66fcee 252.5px,#67ff9d 256.5px,#67ff8f 257.5px,#68ff7d 259.5px,#69ff6e 263.5px,#71ff6c 265.5px,#85ff68 267.5px,#bfff60 271.5px,#caff60 272.5px,#d6ff5f 274.5px,#daff60 275.5px,#faf18e 280.5px,#fdea94 283.5px,#ffd1a0 287.5px,#ffb1a0 293.5px,#ffaaab 294.5px,#ffb9ce 299.5px,#ffbcd5 302.5px,#ffbed7 349.5px,#ffcbf1 388.5px,#ffcbf1 675.5px)"></i><i style="background:linear-gradient(90deg,#69a8ff 0,#69a8ff 163.5px,#69acff 166.5px,#67caff 176.5px,#66e8ff 181.5px,#66f1ff 184.5px,#66f4ff 248.5px,#66f7fa 249.5px,#66fcef 250.5px,#66ff9f 254.5px,#67ff91 255.5px,#68ff7e 257.5px,#69ff71 260.5px,#70ff6d 264.5px,#81ff69 266.5px,#c6ff60 271.5px,#d8ff5f 274.5px,#defd65 275.5px,#f3f483 278.5px,#fcf091 280.5px,#fde696 283.5px,#ffd39f 286.5px,#ffb2a0 292.5px,#ffa9aa 293.5px,#ffb9ce 298.5px,#ffbcd5 301.5px,#ffbed7 351.5px,#ffcbf1 390.5px,#ffcbf1 675.5px)"></i><i style="background:linear-gradient(90deg,#69a8ff 0,#69a8ff 164.5px,#68aeff 167.5px,#67caff 176.5px,#66e8ff 181.5px,#66f1ff 184.5px,#66f3ff 245.5px,#66f8f9 247.5px,#66fcee 248.5px,#66ffde 249.5px,#66ffa1 252.5px,#68ff88 254.5px,#68ff7a 256.5px,#6aff6e 261.5px,#76ff6b 264.5px,#8cff66 266.5px,#c3ff60 270.5px,#ccff60 271.5px,#d7ff5f 273.5px,#dcfe62 274.5px,#f1f580 277.5px,#fbf090 279.5px,#fde795 282.5px,#ffcda0 286.5px,#ffb3a0 291.5px,#ffa9aa 292.5px,#ffb9ce 297.5px,#ffbcd5 300.5px,#ffbdd7 352.5px,#ffcbf1 392.5px,#ffcbf1 675.5px)"></i><i style="background:linear-gradient(90deg,#69a8ff 0,#69a8ff 164.5px,#68adff 167.5px,#67caff 176.5px,#66e7ff 181.5px,#66f2ff 184.5px,#66f3ff 242.5px,#66f7fb 244.5px,#66faf3 245.5px,#66ffd6 247.5px,#66ff9f 250.5px,#68ff87 252.5px,#68ff79 254.5px,#6aff6e 259.5px,#73ff6c 262.5px,#84ff68 264.5px,#c4ff60 269.5px,#d8ff5f 272.5px,#ddfe64 273.5px,#f2f582 276.5px,#fbef90 278.5px,#fde596 281.5px,#ffd19f 284.5px,#ffb6a0 289.5px,#ffaaad 291.5px,#ffbacf 296.5px,#ffbcd5 299.5px,#ffbdd7 354.5px,#ffcbf1 394.5px,#ffcbf1 675.5px)"></i><i style="background:linear-gradient(90deg,#69a8ff 0,#69a8ff 164.5px,#69acff 167.5px,#67c9ff 176.5px,#67d2ff 178.5px,#66e7ff 181.5px,#66f2ff 184.5px,#66f4ff 240.5px,#66f9f5 242.5px,#66fdea 243.5px,#67ff98 248.5px,#68ff7c 251.5px,#69ff71 254.5px,#6bff6e 257.5px,#76ff6b 260.5px,#87ff67 262.5px,#c3ff60 267.5px,#d8ff5f 270.5px,#ddfd64 271.5px,#f1f581 274.5px,#fbf090 276.5px,#fde596 279.5px,#ffd19f 282.5px,#ffb6a0 287.5px,#ffaaad 289.5px,#ffbacf 294.5px,#ffbcd5 297.5px,#ffbdd7 356.5px,#ffcbf1 396.5px,#ffcbf1 675.5px)"></i><i style="background:linear-gradient(90deg,#69a8ff 0,#69a8ff 165.5px,#68aeff 168.5px,#67c9ff 176.5px,#66ecff 182.5px,#66f2ff 184.5px,#66f4ff 237.5px,#66f9f6 239.5px,#66fcec 240.5px,#67ff9d 245.5px,#68ff87 247.5px,#68ff7a 249.5px,#6aff6e 254.5px,#72ff6c 257.5px,#8bff66 260.5px,#c6ff60 265.5px,#d4ff5f 267.5px,#dffd66 269.5px,#f2f483 272.5px,#fbef91 274.5px,#fde497 277.5px,#ffd19f 280.5px,#ffb6a0 285.5px,#ffabae 287.5px,#ffbacf 292.5px,#ffbcd5 295.5px,#ffbdd7 358.5px,#ffcbf1 398.5px,#ffcbf1 675.5px)"></i><i style="background:linear-gradient(90deg,#69a8ff 0,#69a8ff 165.5px,#68adff 168.5px,#67c8ff 176.5px,#66ebff 182.5px,#66f1ff 184.5px,#66f4ff 234.5px,#66f8f8 236.5px,#66fcef 237.5px,#66fee2 238.5px,#66ffa2 242.5px,#68ff8b 244.5px,#68ff7c 246.5px,#69ff71 249.5px,#6bff6e 252.5px,#75ff6b 255.5px,#85ff68 257.5px,#beff60 262.5px,#d5ff5f 265.5px,#e0fc68 267.5px,#f3f484 270.5px,#fcef91 272.5px,#fde497 275.5px,#ffd19f 278.5px,#ffb5a0 283.5px,#ffabae 285.5px,#ffbacf 290.5px,#ffbcd5 293.5px,#ffbdd7 359.5px,#ffcbf1 400.5px,#ffcbf1 675.5px)"></i><i style="background:linear-gradient(90deg,#69a8ff 0,#69a8ff 165.5px,#69acff 168.5px,#67c8ff 176.5px,#66ebff 182.5px,#66f1ff 184.5px,#66f4ff 231.5px,#66f8f9 233.5px,#66fbf1 234.5px,#66ffd7 236.5px,#67ff9a 240.5px,#68ff86 242.5px,#68ff79 244.5px,#69ff70 247.5px,#6bff6d 250.5px,#77ff6b 253.5px,#89ff67 255.5px,#c1ff60 260.5px,#d6ff5f 263.5px,#dbfe62 264.5px,#f5f386 268.5px,#fcef92 270.5px,#fde397 273.5px,#ffd09f 276.5px,#ffb5a0 281.5px,#ffabaf 283.5px,#ffbad0 288.5px,#ffbcd5 291.5px,#ffbdd7 361.5px,#ffcbf1 401.5px,#ffcbf1 675.5px)"></i><i style="background:linear-gradient(90deg,#69a8ff 0,#69a8ff 166.5px,#68aeff 169.5px,#67c7ff 176.5px,#66ebff 182.5px,#66f1ff 184.5px,#66f4ff 229.5px,#66f6fc 230.5px,#66fdeb 232.5px,#66ff9f 237.5px,#68ff8a 239.5px,#68ff7c 241.5px,#69ff74 243.5px,#6aff6e 247.5px,#73ff6c 250.5px,#82ff68 252.5px,#c4ff60 258.5px,#d7ff5f 261.5px,#ddfe64 262.5px,#f6f388 266.5px,#fcee92 268.5px,#fde397 271.5px,#ffd09f 274.5px,#ffb5a0 279.5px,#ffabaf 281.5px,#ffb8cb 285.5px,#ffbbd3 287.5px,#ffbcd5 289.5px,#ffbdd7 363.5px,#ffcbf1 403.5px,#ffcbf1 675.5px)"></i><i style="background:linear-gradient(90deg,#69a8ff 0,#69a8ff 166.5px,#68adff 169.5px,#67c7ff 176.5px,#66ebff 182.5px,#66f1ff 184.5px,#66f4ff 227.5px,#66f9f5 229.5px,#66ffdb 231.5px,#67ff9d 235.5px,#68ff88 237.5px,#68ff7a 239.5px,#69ff73 241.5px,#6bff6e 245.5px,#76ff6b 248.5px,#86ff68 250.5px,#bdff60 255.5px,#d4ff5f 258.5px,#defd65 260.5px,#f2f582 263.5px,#fbf08f 265.5px,#fde397 269.5px,#ffcf9f 272.5px,#ffb4a0 277.5px,#ffaea6 278.5px,#ffabb0 279.5px,#ffb8cb 283.5px,#ffbbd3 285.5px,#ffbcd5 287.5px,#ffbdd6 364.5px,#ffcbf1 405.5px,#ffcbf1 675.5px)"></i><i style="background:linear-gradient(90deg,#69a8ff 0,#69a8ff 166.5px,#69acff 169.5px,#67c6ff 176.5px,#67d0ff 178.5px,#66e5ff 181.5px,#66f1ff 184.5px,#66f4ff 225.5px,#66faf5 227.5px,#66ffdb 229.5px,#67ff9c 233.5px,#68ff88 235.5px,#68ff7a 237.5px,#6aff6e 242.5px,#72ff6c 245.5px,#89ff67 248.5px,#c0ff60 253.5px,#d5ff5f 256.5px,#e1fc69 258.5px,#f3f484 261.5px,#fbf090 263.5px,#fde297 267.5px,#ffcfa0 270.5px,#ffb4a0 275.5px,#ffaea6 276.5px,#ffacb0 277.5px,#ffb8cc 281.5px,#ffbcd3 283.5px,#ffbcd5 285.5px,#ffbdd6 366.5px,#ffcbf1 406.5px,#ffcbf1 675.5px)"></i><i style="background:linear-gradient(90deg,#69a8ff 0,#69a8ff 167.5px,#68aeff 170.5px,#67caff 177.5px,#66e5ff 181.5px,#66f1ff 184.5px,#66f4ff 223.5px,#66faf5 225.5px,#66ffdb 227.5px,#67ff9c 231.5px,#68ff88 233.5px,#68ff7a 235.5px,#69ff73 237.5px,#6aff6e 240.5px,#73ff6c 243.5px,#82ff68 245.5px,#c3ff60 251.5px,#d7ff5f 254.5px,#dcfe63 255.5px,#eff67f 258.5px,#fcef91 261.5px,#fde298 265.5px,#ffcfa0 268.5px,#ffb3a0 273.5px,#ffada6 274.5px,#ffacb0 275.5px,#ffb8cc 279.5px,#ffbcd5 283.5px,#ffbdd6 368.5px,#ffcbf1 408.5px,#ffcbf1 675.5px)"></i><i style="background:linear-gradient(90deg,#69a8ff 0,#69a8ff 167.5px,#68adff 170.5px,#67c5ff 176.5px,#67cfff 178.5px,#66e4ff 181.5px,#66f1ff 184.5px,#66f4ff 221.5px,#66faf4 223.5px,#66ffdb 225.5px,#67ff9c 229.5px,#68ff88 231.5px,#68ff7a 233.5px,#69ff73 235.5px,#6aff6e 238.5px,#75ff6b 241.5px,#86ff68 243.5px,#bdff61 248.5px,#d3ff5f 251.5px,#defd65 253.5px,#f1f581 256.5px,#faf18e 258.5px,#fde795 262.5px,#ffcea0 266.5px,#ffb3a0 271.5px,#ffada7 272.5px,#ffacb1 273.5px,#ffb8cd 277.5px,#ffbdd5 281.5px,#ffbdd6 370.5px,#ffcbf1 410.5px,#ffcbf1 675.5px)"></i><i style="background:linear-gradient(90deg,#69a8ff 0,#69a8ff 168.5px,#68b0ff 171.5px,#67c9ff 177.5px,#66e4ff 181.5px,#66f1ff 184.5px,#66f4ff 219.5px,#66faf4 221.5px,#66ffda 223.5px,#67ff9c 227.5px,#68ff88 229.5px,#68ff7a 231.5px,#69ff72 233.5px,#6bff6e 236.5px,#77ff6b 239.5px,#89ff67 241.5px,#c0ff60 246.5px,#d5ff5f 249.5px,#e0fc68 251.5px,#f3f483 254.5px,#fbf08f 256.5px,#fde696 260.5px,#ffcea0 264.5px,#ffb2a1 269.5px,#ffada7 270.5px,#ffacb1 271.5px,#ffb9cd 275.5px,#ffbdd5 279.5px,#ffbdd6 371.5px,#ffbfdb 382.5px,#ffc9ed 402.5px,#ffcbf1 411.5px,#ffcbf1 675.5px)"></i><i style="background:linear-gradient(90deg,#69a8ff 0,#69a8ff 168.5px,#68aeff 171.5px,#67c4ff 176.5px,#67ceff 178.5px,#66e4ff 181.5px,#66f1ff 184.5px,#66f4ff 217.5px,#66faf4 219.5px,#66ffda 221.5px,#67ff9c 225.5px,#68ff88 227.5px,#68ff7a 229.5px,#6aff6e 233.5px,#73ff6c 236.5px,#82ff69 238.5px,#c3ff60 244.5px,#d7ff5f 247.5px,#dcfe63 248.5px,#eff67e 251.5px,#fbf090 254.5px,#fde696 258.5px,#ffcea0 262.5px,#ffb1a2 267.5px,#ffaca8 268.5px,#ffb9cd 273.5px,#ffbdd5 277.5px,#ffbdd6 373.5px,#ffbfdb 384.5px,#ffcbf1 412.5px,#ffcbf1 675.5px)"></i><i style="background:linear-gradient(90deg,#69a8ff 0,#69a8ff 168.5px,#68adff 171.5px,#67c3ff 176.5px,#67cdff 178.5px,#66e3ff 181.5px,#66f1ff 184.5px,#66f4ff 215.5px,#66faf4 217.5px,#66ffda 219.5px,#67ff9c 223.5px,#68ff88 225.5px,#68ff7a 227.5px,#6aff6e 231.5px,#74ff6c 234.5px,#84ff68 236.5px,#c6ff60 242.5px,#d8ff5f 245.5px,#f9f18d 251.5px,#fde696 256.5px,#ffcda0 260.5px,#ffb8a0 264.5px,#ffabaa 266.5px,#ffb9ce 271.5px,#ffbcd5 274.5px,#ffbdd6 375.5px,#ffc0db 386.5px,#ffc9ed 405.5px,#ffcbf1 414.5px,#ffcbf1 675.5px)"></i><i style="background:linear-gradient(90deg,#69a8ff 0,#69a8ff 169.5px,#68b0ff 172.5px,#67c7ff 177.5px,#66e3ff 181.5px,#66f1ff 184.5px,#66f5fe 213.5px,#66faf3 215.5px,#66ffda 217.5px,#67ff9c 221.5px,#68ff88 223.5px,#68ff7a 225.5px,#6aff6e 229.5px,#74ff6c 232.5px,#84ff68 234.5px,#c6ff60 240.5px,#d8ff5f 243.5px,#ddfe64 244.5px,#f1f580 247.5px,#f9f18d 249.5px,#fde596 254.5px,#ffcda0 258.5px,#ffb7a0 262.5px,#ffaaab 264.5px,#ffb9ce 269.5px,#ffbdd5 272.5px,#ffbdd6 376.5px,#ffbfda 387.5px,#ffc9ec 406.5px,#ffcbf1 415.5px,#ffcbf1 675.5px)"></i><i style="background:linear-gradient(90deg,#69a8ff 0,#69a8ff 169.5px,#69abff 171.5px,#68bdff 175.5px,#67ccff 178.5px,#66e2ff 181.5px,#66f1ff 184.5px,#66f4ff 210.5px,#66f7fb 212.5px,#66faf3 213.5px,#66ffd9 215.5px,#67ff9c 219.5px,#68ff88 221.5px,#68ff7a 223.5px,#69ff6e 227.5px,#72ff6c 230.5px,#82ff69 232.5px,#c4ff60 238.5px,#d7ff5f 241.5px,#dcfe62 242.5px,#eff67e 245.5px,#fcf090 248.5px,#fde596 252.5px,#ffcca0 256.5px,#ffb7a0 260.5px,#ffaaac 262.5px,#ffb9ce 267.5px,#ffbdd5 270.5px,#ffbdd6 378.5px,#ffbfdb 389.5px,#ffc9ed 408.5px,#ffcbf1 417.5px,#ffcbf1 675.5px)"></i><i style="background:linear-gradient(90deg,#69a8ff 0,#69a8ff 169.5px,#69aaff 171.5px,#68b2ff 173.5px,#67cbff 178.5px,#66e2ff 181.5px,#66f1ff 184.5px,#66f4ff 208.5px,#66f7fa 210.5px,#66fbf2 211.5px,#66ffd8 213.5px,#67ff9c 217.5px,#68ff88 219.5px,#68ff7a 221.5px,#69ff6e 225.5px,#71ff6c 228.5px,#80ff69 230.5px,#c1ff60 236.5px,#d5ff5f 239.5px,#dafe61 240.5px,#f3f484 244.5px,#fbf090 246.5px,#fde596 250.5px,#ffcca0 254.5px,#ffb7a0 258.5px,#ffaaac 260.5px,#ffb9cf 265.5px,#ffbdd5 268.5px,#ffbdd6 379.5px,#ffbfda 390.5px,#ffc9ec 409.5px,#ffcbf1 418.5px,#ffcbf1 675.5px)"></i><i style="background:linear-gradient(90deg,#69a8ff 0,#69a8ff 169.5px,#69aaff 171.5px,#68b2ff 173.5px,#67ccff 178.5px,#66e3ff 181.5px,#66f1ff 184.5px,#66f4ff 206.5px,#66f7f9 208.5px,#66fbf1 209.5px,#66fee6 210.5px,#67ff9c 215.5px,#68ff88 217.5px,#68ff7a 219.5px,#69ff72 221.5px,#6bff6e 224.5px,#76ff6b 227.5px,#88ff67 229.5px,#c8ff60 235.5px,#d8ff5f 238.5px,#f2f482 242.5px,#fbf08f 244.5px,#fde596 248.5px,#ffcca0 252.5px,#ffb7a0 256.5px,#ffaaac 258.5px,#ffb9cf 263.5px,#ffbdd5 266.5px,#ffbdd6 381.5px,#ffbfda 391.5px,#ffc9ed 411.5px,#ffcbf1 420.5px,#ffcbf1 675.5px)"></i><i style="background:linear-gradient(90deg,#69a8ff 0,#69a8ff 169.5px,#69abff 171.5px,#68b4ff 173.5px,#67c9ff 177.5px,#66e5ff 181.5px,#66f2ff 184.5px,#66f4ff 204.5px,#66f8f9 206.5px,#66fbf1 207.5px,#67ff9c 213.5px,#68ff88 215.5px,#68ff7a 217.5px,#69ff73 219.5px,#6aff6e 222.5px,#75ff6b 225.5px,#85ff68 227.5px,#c5ff60 233.5px,#d7ff5f 236.5px,#dcfe63 237.5px,#f0f580 240.5px,#faf18e 242.5px,#fde696 246.5px,#ffcda0 250.5px,#ffb1a2 255.5px,#ffabaa 256.5px,#ffb9ce 261.5px,#ffbdd6 264.5px,#ffbdd6 382.5px,#ffbfda 393.5px,#ffc9ed 412.5px,#ffcbf1 421.5px,#ffcbf1 675.5px)"></i><i style="background:linear-gradient(90deg,#69a8ff 0,#69a8ff 168.5px,#69aaff 170.5px,#68b2ff 172.5px,#67cdff 177.5px,#66e4ff 180.5px,#66f1ff 183.5px,#66f4ff 202.5px,#66f8f8 204.5px,#66fcf0 205.5px,#67ff9c 211.5px,#68ff88 213.5px,#68ff7a 215.5px,#69ff73 217.5px,#6aff6e 220.5px,#74ff6c 223.5px,#83ff68 225.5px,#c3ff60 231.5px,#d6ff5f 234.5px,#dbfe61 235.5px,#f4f385 239.5px,#fcef91 241.5px,#fde795 244.5px,#ffcea0 248.5px,#ffb3a0 253.5px,#ffada7 254.5px,#ffacb1 255.5px,#ffb9cd 259.5px,#ffbcd4 261.5px,#ffbdd6 263.5px,#ffbdd6 383.5px,#ffbfda 394.5px,#ffc9ec 413.5px,#ffcbf1 422.5px,#ffcbf1 675.5px)"></i><i style="background:linear-gradient(90deg,#69a8ff 0,#69a8ff 168.5px,#69acff 170.5px,#68b5ff 172.5px,#67cbff 176.5px,#66e2ff 179.5px,#66f1ff 182.5px,#66f4ff 200.5px,#66f6fd 201.5px,#66fcef 203.5px,#67ff9b 209.5px,#68ff88 211.5px,#68ff7a 213.5px,#6aff6e 218.5px,#72ff6c 221.5px,#81ff69 223.5px,#c0ff60 229.5px,#d5ff5f 232.5px,#d9ff60 233.5px,#dffd67 234.5px,#f3f483 237.5px,#fbf090 239.5px,#fde297 243.5px,#ffcfa0 246.5px,#ffb4a0 251.5px,#ffada6 252.5px,#ffacb0 253.5px,#ffb8cc 257.5px,#ffbcd4 259.5px,#ffbdd6 261.5px,#ffbdd6 384.5px,#ffbfda 395.5px,#ffc9ed 415.5px,#ffcbf1 424.5px,#ffcbf1 675.5px)"></i><i style="background:linear-gradient(90deg,#69a8ff 0,#69a8ff 167.5px,#69abff 169.5px,#68b4ff 171.5px,#67c9ff 175.5px,#66e6ff 179.5px,#66f2ff 182.5px,#66f4ff 198.5px,#66f6fd 199.5px,#66fcf0 201.5px,#67ff9c 207.5px,#68ff88 209.5px,#68ff7b 211.5px,#69ff71 214.5px,#71ff6c 219.5px,#88ff67 222.5px,#c6ff60 228.5px,#d8ff5f 231.5px,#ddfe63 232.5px,#f1f581 235.5px,#fbf08f 237.5px,#fde397 241.5px,#ffd09f 244.5px,#ffb5a0 249.5px,#ffabaf 251.5px,#ffbad0 256.5px,#ffbdd6 259.5px,#ffbdd6 386.5px,#ffbfda 397.5px,#ffc9ec 416.5px,#ffcbf1 425.5px,#ffcbf1 675.5px)"></i><i style="background:linear-gradient(90deg,#69a8ff 0,#69a8ff 166.5px,#69aaff 168.5px,#68b2ff 170.5px,#67c8ff 174.5px,#66e5ff 178.5px,#66f2ff 181.5px,#66f4ff 196.5px,#66f6fd 197.5px,#66fbf0 199.5px,#67ff9e 205.5px,#68ff89 207.5px,#68ff7b 209.5px,#69ff71 212.5px,#6bff6e 215.5px,#75ff6b 218.5px,#85ff68 220.5px,#c4ff60 226.5px,#d6ff5f 229.5px,#dbfe62 230.5px,#f5f386 234.5px,#fcef92 236.5px,#fde497 239.5px,#ffd19f 242.5px,#ffb5a0 247.5px,#ffabae 249.5px,#ffbad0 254.5px,#ffbdd6 257.5px,#ffbdd6 387.5px,#ffbfda 398.5px,#ffc9ed 418.5px,#ffcbf1 427.5px,#ffcbf1 675.5px)"></i><i style="background:linear-gradient(90deg,#69a8ff 0,#69a8ff 166.5px,#69acff 168.5px,#68b5ff 170.5px,#67ccff 174.5px,#66e3ff 177.5px,#66f1ff 180.5px,#66f4ff 194.5px,#66f8f9 196.5px,#66fbf1 197.5px,#66ffd9 199.5px,#66ffac 202.5px,#67ff94 204.5px,#68ff83 206.5px,#69ff77 208.5px,#6aff6e 213.5px,#73ff6c 216.5px,#82ff69 218.5px,#c0ff60 224.5px,#d5ff5f 227.5px,#d9ff60 228.5px,#dffd67 229.5px,#f3f484 232.5px,#fcef91 234.5px,#fde596 237.5px,#ffd29f 240.5px,#ffb6a0 245.5px,#ffaaad 247.5px,#ffb9cf 252.5px,#ffbdd6 255.5px,#ffbdd6 388.5px,#ffbfda 400.5px,#ffc9ed 419.5px,#ffcbf1 428.5px,#ffcbf1 675.5px)"></i><i style="background:linear-gradient(90deg,#69a8ff 0,#69a8ff 165.5px,#69abff 167.5px,#68b4ff 169.5px,#67caff 173.5px,#66e1ff 176.5px,#66f1ff 179.5px,#66f4ff 192.5px,#66f7fa 194.5px,#66fbf2 195.5px,#66ffda 197.5px,#66ffae 200.5px,#67ff96 202.5px,#68ff84 204.5px,#68ff78 206.5px,#6aff6e 211.5px,#71ff6c 214.5px,#7fff69 216.5px,#c6ff60 223.5px,#d7ff5f 226.5px,#ddfe63 227.5px,#f1f581 230.5px,#fbf090 232.5px,#fde696 235.5px,#ffd29f 238.5px,#ffb7a0 243.5px,#ffaaab 245.5px,#ffb9ce 250.5px,#ffbdd7 253.5px,#ffbdd6 390.5px,#ffbfda 401.5px,#ffc9ec 420.5px,#ffcbf1 429.5px,#ffcbf1 675.5px)"></i><i style="background:linear-gradient(90deg,#69a8ff 0,#69a8ff 164.5px,#69aaff 166.5px,#68b2ff 168.5px,#66f0ff 178.5px,#66f4ff 180.5px,#66f4ff 190.5px,#66f7fa 192.5px,#66faf3 193.5px,#66ffdc 195.5px,#66ffb0 198.5px,#67ff97 200.5px,#68ff85 202.5px,#68ff79 204.5px,#6aff6e 209.5px,#75ff6b 213.5px,#85ff68 215.5px,#c3ff60 221.5px,#d6ff5f 224.5px,#dbfe61 225.5px,#faf08e 230.5px,#fde696 233.5px,#ffcda0 237.5px,#ffb1a1 242.5px,#ffaba9 243.5px,#ffb9cd 248.5px,#ffbdd5 250.5px,#ffbed7 252.5px,#ffbdd6 391.5px,#ffbfda 403.5px,#ffc8ec 421.5px,#ffcbf1 431.5px,#ffcbf1 675.5px)"></i><i style="background:linear-gradient(90deg,#69a8ff 0,#69a8ff 164.5px,#69acff 166.5px,#68b6ff 168.5px,#67cdff 172.5px,#66e4ff 175.5px,#66f2ff 178.5px,#66f4ff 188.5px,#66f7fb 190.5px,#66faf4 191.5px,#6fd 193.5px,#67ff99 198.5px,#68ff86 200.5px,#68ff79 202.5px,#69ff6e 207.5px,#73ff6c 211.5px,#82ff68 213.5px,#c0ff60 219.5px,#d4ff5f 222.5px,#d9ff5f 223.5px,#dffd66 224.5px,#f9f18d 228.5px,#fcee92 229.5px,#fde298 232.5px,#ffcea0 235.5px,#ffb3a0 240.5px,#ffada6 241.5px,#ffacb0 242.5px,#ffb8cc 246.5px,#ffbcd5 248.5px,#ffbed7 250.5px,#ffbdd6 392.5px,#ffbfda 404.5px,#ffc8ec 422.5px,#ffcbf1 432.5px,#ffcbf1 675.5px)"></i><i style="background:linear-gradient(90deg,#69a8ff 0,#69a8ff 163.5px,#69abff 165.5px,#68b4ff 167.5px,#67cbff 171.5px,#66e2ff 174.5px,#66f1ff 177.5px,#66f5ff 187.5px,#66f6fd 188.5px,#66fdee 190.5px,#67ff9c 196.5px,#68ff88 198.5px,#68ff7b 200.5px,#69ff71 203.5px,#6aff6e 206.5px,#71ff6c 209.5px,#7fff69 211.5px,#c6ff60 218.5px,#d7ff5f 221.5px,#dcfe63 222.5px,#f7f28a 226.5px,#fcef91 227.5px,#fde397 230.5px,#ffcfa0 233.5px,#ffb4a0 238.5px,#ffada6 239.5px,#ffabaf 240.5px,#ffbad0 245.5px,#ffbed7 248.5px,#ffbdd6 394.5px,#ffbfda 406.5px,#ffc8ec 423.5px,#ffcbf1 433.5px,#ffcbf1 675.5px)"></i><i style="background:linear-gradient(90deg,#69a8ff 0,#69a8ff 162.5px,#69aaff 164.5px,#68b2ff 166.5px,#67c9ff 170.5px,#66e1ff 173.5px,#66f0ff 176.5px,#66f5ff 186.5px,#66f6fc 187.5px,#66feeb 189.5px,#67ff98 195.5px,#68ff86 197.5px,#68ff79 199.5px,#69ff6e 204.5px,#73ff6c 208.5px,#83ff68 210.5px,#c2ff60 216.5px,#d5ff5f 219.5px,#daff60 220.5px,#e0fc68 221.5px,#fbf08f 225.5px,#fde397 228.5px,#ffd09f 231.5px,#ffb5a0 236.5px,#ffabae 238.5px,#ffbacf 243.5px,#ffbed7 246.5px,#ffbdd5 395.5px,#ffbfda 408.5px,#ffc8ec 424.5px,#ffcbf1 434.5px,#ffcbf1 675.5px)"></i><i style="background:linear-gradient(90deg,#69a8ff 0,#69a8ff 161.5px,#69aaff 163.5px,#68b1ff 165.5px,#66f0ff 175.5px,#66f4ff 177.5px,#66f5ff 185.5px,#66f7fb 186.5px,#66feea 188.5px,#67ff97 194.5px,#68ff84 196.5px,#68ff78 198.5px,#69ff72 200.5px,#6bff6e 204.5px,#75ff6b 207.5px,#87ff68 209.5px,#c6ff60 215.5px,#d7ff5f 218.5px,#ddfe63 219.5px,#f9f18d 223.5px,#fcee92 224.5px,#ffd19f 229.5px,#ffb5a0 234.5px,#ffaaad 236.5px,#ffb9ce 241.5px,#ffbdd6 243.5px,#ffbed8 245.5px,#ffbcd5 269.5px,#ffbdd6 397.5px,#ffbfda 410.5px,#ffc9ec 426.5px,#ffcbf1 435.5px,#ffcbf1 675.5px)"></i><i style="background:linear-gradient(90deg,#69a8ff 0,#69a8ff 160.5px,#69abff 162.5px,#68b2ff 164.5px,#67caff 168.5px,#66e1ff 171.5px,#66f0ff 174.5px,#66f4ff 176.5px,#66f5ff 184.5px,#66f7fb 185.5px,#66fee9 187.5px,#66ffae 191.5px,#67ff95 193.5px,#68ff83 195.5px,#69ff77 197.5px,#6aff6e 202.5px,#72ff6c 205.5px,#80ff69 207.5px,#c2ff60 213.5px,#d5ff5f 216.5px,#daff60 217.5px,#e0fc68 218.5px,#fcef91 222.5px,#ffd29f 227.5px,#ffb6a0 232.5px,#ffaaac 234.5px,#ffbbd2 240.5px,#ffbed8 243.5px,#ffbcd4 271.5px,#ffbdd5 398.5px,#ffbfda 411.5px,#ffc9ec 427.5px,#ffcbf1 436.5px,#ffcbf1 675.5px)"></i><i style="background:linear-gradient(90deg,#69a8ff 0,#69a8ff 158.5px,#68b0ff 162.5px,#67c6ff 166.5px,#66e4ff 170.5px,#66f2ff 173.5px,#66f5fe 183.5px,#66f7fa 184.5px,#66fee8 186.5px,#66ffac 190.5px,#67ff94 192.5px,#68ff82 194.5px,#69ff77 196.5px,#6aff6e 201.5px,#73ff6c 204.5px,#84ff68 206.5px,#c6ff60 212.5px,#d8ff5f 215.5px,#ddfe63 216.5px,#faf08f 220.5px,#ffd29f 225.5px,#ffb7a0 230.5px,#ffafa3 231.5px,#ffa9ab 232.5px,#ffbbd1 238.5px,#ffbed8 241.5px,#ffbcd4 274.5px,#ffbdd6 400.5px,#ffbfda 413.5px,#ffc9ec 428.5px,#ffcbf1 437.5px,#ffcbf1 675.5px)"></i><i style="background:linear-gradient(90deg,#69a8ff 0,#69a8ff 157.5px,#68b3ff 161.5px,#67caff 165.5px,#66e1ff 168.5px,#66f0ff 171.5px,#66f4ff 173.5px,#66f5ff 181.5px,#66f7fa 183.5px,#66fbf2 184.5px,#66ffe7 185.5px,#67ff9d 190.5px,#68ff89 192.5px,#68ff7b 194.5px,#69ff73 196.5px,#6bff6e 200.5px,#76ff6b 203.5px,#88ff67 205.5px,#c1ff60 210.5px,#d6ff5f 213.5px,#daff61 214.5px,#e1fc69 215.5px,#f9f18c 218.5px,#fced93 219.5px,#ffcda0 224.5px,#ffb2a0 229.5px,#ffaca8 230.5px,#ffbad1 236.5px,#ffbed8 239.5px,#ffbbd3 275.5px,#ffbdd6 402.5px,#ffbfdb 415.5px,#ffc9ec 429.5px,#ffcbf1 438.5px,#ffcbf1 675.5px)"></i><i style="background:linear-gradient(90deg,#69a8ff 0,#69a8ff 155.5px,#68b1ff 159.5px,#67c7ff 163.5px,#66e4ff 167.5px,#66f2ff 170.5px,#66f5ff 180.5px,#66f7fa 182.5px,#66fbf1 183.5px,#66ffe5 184.5px,#67ff9c 189.5px,#68ff88 191.5px,#68ff7a 193.5px,#69ff73 195.5px,#6aff6e 198.5px,#72ff6c 201.5px,#82ff69 203.5px,#c6ff60 209.5px,#d8ff5f 212.5px,#ddfe64 213.5px,#fcee92 217.5px,#ffcea0 222.5px,#ffb3a0 227.5px,#ffada6 228.5px,#ffabb0 229.5px,#ffbad0 234.5px,#ffbed8 237.5px,#ffbbd1 276.5px,#ffbdd5 403.5px,#ffbfda 416.5px,#ffc9ec 430.5px,#ffcbf1 438.5px,#ffcbf1 675.5px)"></i><i style="background:linear-gradient(90deg,#69a8ff 0,#69a8ff 154.5px,#68b3ff 158.5px,#67caff 162.5px,#66e1ff 165.5px,#66f0ff 168.5px,#66f5ff 171.5px,#66f5ff 179.5px,#66f8f9 181.5px,#66fbf1 182.5px,#66ffe4 183.5px,#67ff9a 188.5px,#68ff87 190.5px,#68ff79 192.5px,#69ff72 194.5px,#6aff6e 197.5px,#74ff6c 200.5px,#86ff68 202.5px,#c1ff60 207.5px,#d6ff5f 210.5px,#dbfe61 211.5px,#e1fc6a 212.5px,#faef8f 215.5px,#fdea94 216.5px,#ffcfa0 220.5px,#ffb4a0 225.5px,#ffada6 226.5px,#ffabaf 227.5px,#ffb9cf 232.5px,#ffbed8 235.5px,#ffbad0 277.5px,#ffbcd5 325.5px,#ffbdd6 405.5px,#ffbfdb 418.5px,#ffc9ec 431.5px,#ffcbf1 439.5px,#ffcbf1 675.5px)"></i><i style="background:linear-gradient(90deg,#69a8ff 0,#69a8ff 152.5px,#68b1ff 156.5px,#67c7ff 160.5px,#66e4ff 164.5px,#66f2ff 167.5px,#66f5ff 178.5px,#66f8f8 180.5px,#66fcf0 181.5px,#66ffe3 182.5px,#67ff99 187.5px,#68ff86 189.5px,#68ff79 191.5px,#6bff6e 196.5px,#76ff6b 199.5px,#a3ff62 203.5px,#c6ff60 206.5px,#d8ff5f 209.5px,#defd65 210.5px,#f8f18c 213.5px,#fceb93 214.5px,#ffd09f 218.5px,#ffb5a0 223.5px,#ffabae 225.5px,#ffbbd2 231.5px,#ffbed8 234.5px,#ffb9cd 277.5px,#ffbcd5 326.5px,#ffbdd5 406.5px,#ffbfda 419.5px,#ffc9ed 433.5px,#ffcbf1 440.5px,#ffcbf1 675.5px)"></i><i style="background:linear-gradient(90deg,#69a8ff 0,#69a8ff 151.5px,#68b4ff 155.5px,#67caff 159.5px,#66e1ff 162.5px,#66f0ff 165.5px,#66f5ff 168.5px,#66f5ff 177.5px,#66f8f8 179.5px,#66fcef 180.5px,#67ff97 186.5px,#68ff85 188.5px,#68ff78 190.5px,#69ff6e 194.5px,#72ff6c 197.5px,#83ff68 199.5px,#c1ff60 204.5px,#d6ff5f 207.5px,#dbfe61 208.5px,#e2fb6b 209.5px,#f6f289 211.5px,#fced93 212.5px,#ffd19f 216.5px,#ffb6a0 221.5px,#ffaaad 223.5px,#ffbbd2 229.5px,#ffbed7 232.5px,#ffb8cb 267.5px,#ffb8cb 290.5px,#ffbcd4 327.5px,#ffbdd6 412.5px,#ffc0dc 422.5px,#ffc9ed 433.5px,#ffcbf1 439.5px,#ffcbf1 675.5px)"></i><i style="background:linear-gradient(90deg,#69a8ff 0,#69a8ff 149.5px,#68b1ff 153.5px,#67c7ff 157.5px,#66e4ff 161.5px,#66f2ff 164.5px,#66f5fe 176.5px,#66f9f7 178.5px,#66fded 179.5px,#67ff96 185.5px,#68ff83 187.5px,#69ff77 189.5px,#6aff6e 193.5px,#73ff6c 196.5px,#86ff68 198.5px,#c5ff60 203.5px,#d8ff5f 206.5px,#ddfe64 207.5px,#e6fa70 208.5px,#fbef90 210.5px,#ffd29f 214.5px,#ffb1a1 220.5px,#ffa9ab 221.5px,#ffbad1 227.5px,#ffbed7 230.5px,#ffb7c9 266.5px,#ffb6c8 290.5px,#ffbcd4 328.5px,#ffbdd6 413.5px,#ffc0dc 423.5px,#ffc9ed 434.5px,#ffcbf1 440.5px,#ffcbf1 675.5px)"></i><i style="background:linear-gradient(90deg,#69a8ff 0,#69a8ff 147.5px,#69acff 150.5px,#68b4ff 152.5px,#67cbff 156.5px,#66e2ff 159.5px,#66f1ff 162.5px,#66f5ff 165.5px,#66f5ff 174.5px,#66f7fa 176.5px,#66feea 178.5px,#66ffa0 183.5px,#68ff82 186.5px,#69ff73 189.5px,#6dff6d 194.5px,#71ff6c 195.5px,#83ff68 197.5px,#c5ff60 202.5px,#d7ff5f 205.5px,#dcfe63 206.5px,#edf77b 208.5px,#fbf08f 209.5px,#fde994 210.5px,#ffd29f 213.5px,#ffb1a0 219.5px,#ffaaac 220.5px,#ffbbd1 226.5px,#ffbdd6 228.5px,#ffb6c6 264.5px,#ffb5c5 290.5px,#ffbcd4 330.5px,#ffbed7 415.5px,#ffc0dc 424.5px,#ffc9ee 435.5px,#ffcbf1 440.5px,#ffcbf1 675.5px)"></i><i style="background:linear-gradient(90deg,#69a8ff 0,#69a8ff 143.5px,#69abff 146.5px,#68b3ff 149.5px,#66e3ff 157.5px,#66f2ff 161.5px,#66f5fe 173.5px,#66f8f8 175.5px,#66fcf0 176.5px,#67ff9e 182.5px,#68ff82 185.5px,#69ff74 188.5px,#6dff6d 194.5px,#7bff6a 196.5px,#a2ff62 199.5px,#c8ff60 202.5px,#d9ff5f 205.5px,#e7f972 207.5px,#fcee92 209.5px,#ffcfa0 213.5px,#ffb4a0 218.5px,#ffa9a8 219.5px,#ffbacf 225.5px,#ffbdd5 227.5px,#ffb5c4 262.5px,#ffb4c2 291.5px,#ffb5c4 303.5px,#ffbcd4 331.5px,#ffbed7 416.5px,#ffc1dd 425.5px,#ffc9ed 434.5px,#ffcbf1 439.5px,#ffcbf1 675.5px)"></i><i style="background:linear-gradient(90deg,#69a8ff 0,#69a9ff 139.5px,#69acff 142.5px,#68b5ff 145.5px,#66e2ff 153.5px,#66f0ff 157.5px,#66f4ff 161.5px,#66f5fe 171.5px,#66f7fa 173.5px,#66fdeb 175.5px,#67ff9d 181.5px,#68ff83 184.5px,#69ff76 187.5px,#6dff6d 194.5px,#7cff6a 196.5px,#c0ff60 201.5px,#cbff60 202.5px,#d6ff5f 204.5px,#daff5f 205.5px,#eaf877 207.5px,#f7f289 208.5px,#fceb93 209.5px,#ffcda0 213.5px,#ffb2a0 218.5px,#ffa9ab 219.5px,#ffb8cb 224.5px,#ffbcd4 227.5px,#ffb7c9 241.5px,#ffb4c2 260.5px,#ffb3c0 293.5px,#ffb4c3 305.5px,#ffbcd4 333.5px,#ffbed7 416.5px,#ffc0dc 424.5px,#ffc9ed 434.5px,#ffcbf1 439.5px,#ffcbf1 675.5px)"></i><i style="background:linear-gradient(90deg,#69a8ff 0,#69a9ff 134.5px,#68b3ff 140.5px,#67c1ff 143.5px,#66e5ff 149.5px,#66efff 152.5px,#66f4ff 156.5px,#66f6fd 170.5px,#66f8f7 172.5px,#66fcf0 173.5px,#66ffa7 179.5px,#67ff93 181.5px,#68ff84 183.5px,#68ff78 186.5px,#6cff6d 194.5px,#7dff6a 196.5px,#c3ff60 201.5px,#cdff60 202.5px,#d7ff5f 204.5px,#dcfe62 205.5px,#edf77b 207.5px,#faf18f 208.5px,#fde994 209.5px,#ffd19f 212.5px,#ffada3 218.5px,#ffaaae 219.5px,#ffb6c8 223.5px,#ffbbd2 226.5px,#ffb6c7 240.5px,#ffb3c1 256.5px,#ffb2be 294.5px,#ffb4c2 307.5px,#ffbcd4 334.5px,#ffbed7 416.5px,#ffc0dc 423.5px,#ffc9ed 433.5px,#ffcbf1 438.5px,#ffcbf1 675.5px)"></i><i style="background:linear-gradient(90deg,#69a8ff 0,#69a8ff 129.5px,#68b2ff 135.5px,#67c0ff 138.5px,#66e3ff 144.5px,#66f0ff 148.5px,#66f3ff 152.5px,#66f6fd 168.5px,#66f8f9 170.5px,#66fdec 172.5px,#66ffa5 178.5px,#68ff85 182.5px,#68ff7a 185.5px,#69ff6e 193.5px,#73ff6c 195.5px,#7fff69 196.5px,#c6ff60 201.5px,#d8ff5f 204.5px,#defd65 205.5px,#e6fa70 206.5px,#fcef91 208.5px,#ffcfa0 212.5px,#ffb3a0 217.5px,#ffa9a9 218.5px,#ffb7ca 223.5px,#ffbad0 225.5px,#ffb5c5 238.5px,#ffb3c0 252.5px,#ffb1bd 296.5px,#ffb3c0 308.5px,#ffbcd4 336.5px,#ffbed7 415.5px,#ffc0db 421.5px,#ffc9ed 432.5px,#ffcbf1 437.5px,#ffcbf1 675.5px)"></i><i style="background:linear-gradient(90deg,#69a8ff 0,#69a9ff 125.5px,#69acff 128.5px,#68b5ff 131.5px,#66e1ff 139.5px,#6ef 143.5px,#66f3ff 148.5px,#66f6fd 166.5px,#66f7fa 168.5px,#66fcf0 170.5px,#66ffa4 177.5px,#68ff86 181.5px,#68ff7c 184.5px,#69ff6f 193.5px,#74ff6c 195.5px,#9eff62 198.5px,#c9ff60 201.5px,#d9ff5f 204.5px,#e8f974 206.5px,#fced93 208.5px,#ffcda0 212.5px,#ffb1a0 217.5px,#ffaaac 218.5px,#ffb6c6 222.5px,#ffb9cd 224.5px,#ffb2bf 249.5px,#ffb1bc 297.5px,#ffb3c0 310.5px,#ffbad0 328.5px,#ffbcd4 337.5px,#ffbed7 413.5px,#ffc0db 419.5px,#ffc9ed 430.5px,#ffcbf1 436.5px,#ffcbf1 675.5px)"></i><i style="background:linear-gradient(90deg,#69a8ff 0,#69a9ff 120.5px,#68b4ff 126.5px,#66e4ff 135.5px,#66efff 139.5px,#66f6fc 165.5px,#66f8f8 167.5px,#66fdec 169.5px,#66ffa4 176.5px,#68ff88 180.5px,#68ff7f 183.5px,#69ff70 193.5px,#6cff6d 194.5px,#75ff6b 195.5px,#a1ff62 198.5px,#c0ff60 200.5px,#cbff60 201.5px,#d7ff5f 203.5px,#dbff60 204.5px,#ebf778 206.5px,#f8f28c 207.5px,#fdea94 208.5px,#ffd29f 211.5px,#ffb5a0 216.5px,#ffaaa6 217.5px,#ffb4c3 221.5px,#ffb8cb 224.5px,#ffb4c2 235.5px,#ffb2be 247.5px,#ffb1bc 299.5px,#ffb3bf 312.5px,#ffbcd4 337.5px,#ffbed7 412.5px,#ffc0dc 418.5px,#ffc9ee 429.5px,#ffcbf1 434.5px,#ffcbf1 675.5px)"></i><i style="background:linear-gradient(90deg,#69a8ff 0,#69a9ff 115.5px,#68b3ff 121.5px,#67c0ff 124.5px,#66e2ff 130.5px,#6ef 134.5px,#66f2ff 139.5px,#66f6fc 163.5px,#66f8f9 165.5px,#66fcf0 167.5px,#66ffa3 175.5px,#68ff89 179.5px,#68ff81 182.5px,#69ff71 193.5px,#6cff6d 194.5px,#77ff6b 195.5px,#a5ff62 198.5px,#c3ff60 200.5px,#cdff60 201.5px,#d8ff5f 203.5px,#ddfe63 204.5px,#e4fb6e 205.5px,#eef67c 206.5px,#fcf090 207.5px,#ffcfa0 211.5px,#ffb2a0 216.5px,#ffa9aa 217.5px,#ffb5c4 221.5px,#ffb7c9 223.5px,#ffb3c0 234.5px,#ffb1bd 246.5px,#ffb1bc 305.5px,#ffb3c0 315.5px,#ffbad0 330.5px,#ffbcd4 338.5px,#ffbdd7 410.5px,#ffc0dc 416.5px,#ffc9ee 427.5px,#ffcbf1 433.5px,#ffcbf1 675.5px)"></i><i style="background:linear-gradient(90deg,#69a8ff 0,#69a9ff 109.5px,#68b4ff 116.5px,#66e5ff 126.5px,#66efff 130.5px,#66f7fb 162.5px,#66f8f7 164.5px,#66fdec 166.5px,#66ffa3 174.5px,#68ff8b 178.5px,#68ff85 180.5px,#69ff71 193.5px,#6cff6d 194.5px,#78ff6b 195.5px,#a8ff62 198.5px,#c6ff60 200.5px,#cfff60 201.5px,#d9ff5f 203.5px,#e6f971 205.5px,#fcee92 207.5px,#ffcea0 211.5px,#ffafa1 216.5px,#ffaaad 217.5px,#ffb3c1 220.5px,#ffb6c6 222.5px,#ffb1bc 244.5px,#ffb1bc 306.5px,#ffb3bf 315.5px,#ffbad0 330.5px,#ffbcd4 338.5px,#ffbed7 409.5px,#ffc0db 414.5px,#ffc9ee 425.5px,#ffcbf1 431.5px,#ffcbf1 675.5px)"></i><i style="background:linear-gradient(90deg,#69a8ff 0,#69a9ff 103.5px,#68b5ff 110.5px,#66e4ff 120.5px,#6ef 125.5px,#66f5ff 148.5px,#66f7fb 160.5px,#66f8f8 162.5px,#66fcef 164.5px,#66ffa3 173.5px,#67ff8c 177.5px,#69ff71 193.5px,#6dff6d 194.5px,#7aff6a 195.5px,#bcff61 199.5px,#c9ff60 200.5px,#daff5f 203.5px,#e9f876 205.5px,#f6f388 206.5px,#fceb93 207.5px,#ffd29f 210.5px,#ffb4a0 215.5px,#ffa8a9 216.5px,#ffb4c2 220.5px,#ffb5c5 222.5px,#ffb1bc 242.5px,#ffb1bc 307.5px,#ffb3c0 316.5px,#ffbad0 330.5px,#ffbcd3 337.5px,#ffbed7 408.5px,#ffc0dc 413.5px,#ffc9ed 422.5px,#ffcbf1 429.5px,#ffcbf1 675.5px)"></i><i style="background:linear-gradient(90deg,#69a8ff 0,#69a9ff 96.5px,#68b5ff 103.5px,#66e5ff 114.5px,#66edff 118.5px,#66f5ff 145.5px,#66f7fa 159.5px,#66f9f6 161.5px,#66feeb 163.5px,#6fa 171.5px,#67ff8e 176.5px,#68ff78 191.5px,#69ff70 193.5px,#71ff6c 194.5px,#7fff69 195.5px,#a0ff62 197.5px,#c1ff60 199.5px,#ccff60 200.5px,#d7ff5f 202.5px,#dcfe62 203.5px,#edf77b 205.5px,#faf18e 206.5px,#fdea94 207.5px,#ffd1a0 210.5px,#ffb3a0 215.5px,#ffa9aa 216.5px,#ffb2be 219.5px,#ffb4c3 221.5px,#ffb1bb 241.5px,#ffb1bc 307.5px,#ffbbd3 338.5px,#ffbdd6 406.5px,#ffc0db 411.5px,#ffc9ed 420.5px,#ffcbf1 426.5px,#ffcbf1 675.5px)"></i><i style="background:linear-gradient(90deg,#69a8ff 0,#69a9ff 89.5px,#68b4ff 96.5px,#67c2ff 100.5px,#66e2ff 107.5px,#66edff 112.5px,#66f5ff 141.5px,#66f7fa 156.5px,#66faf4 159.5px,#66feea 161.5px,#66ffa6 170.5px,#67ff91 174.5px,#68ff8a 177.5px,#68ff7a 189.5px,#6aff70 192.5px,#73ff6c 193.5px,#80ff69 194.5px,#c0ff60 198.5px,#cbff60 199.5px,#d7ff5f 201.5px,#ddfe63 202.5px,#fcef91 206.5px,#ffd29f 210.5px,#ffb4a0 215.5px,#ffa8a9 216.5px,#ffb1bc 219.5px,#ffb3c0 221.5px,#ffb1bb 240.5px,#ffb1bc 306.5px,#ffbcd3 342.5px,#ffbdd6 405.5px,#ffc0db 410.5px,#ffc9ee 419.5px,#ffcbf1 424.5px,#ffcbf1 675.5px)"></i><i style="background:linear-gradient(90deg,#69a8ff 0,#69a9ff 82.5px,#68b6ff 90.5px,#66e3ff 101.5px,#66edff 106.5px,#66f5ff 137.5px,#66f7f9 153.5px,#66faf4 156.5px,#66fdec 158.5px,#66ffa6 168.5px,#67ff93 172.5px,#68ff7c 187.5px,#6aff70 190.5px,#71ff6c 191.5px,#7eff69 192.5px,#bcff61 196.5px,#c8ff60 197.5px,#d6ff5f 199.5px,#dbfe62 200.5px,#fbf18f 205.5px,#fde497 208.5px,#ffcea0 211.5px,#ffafa1 216.5px,#ffaaad 217.5px,#ffb0ba 219.5px,#ffb2bf 221.5px,#ffb0bb 240.5px,#ffb1bc 305.5px,#ffbcd3 346.5px,#ffbdd6 404.5px,#ffc0db 409.5px,#ffc9ed 417.5px,#ffcbf1 422.5px,#ffcbf1 675.5px)"></i><i style="background:linear-gradient(90deg,#69a8ff 0,#69a9ff 75.5px,#68b5ff 83.5px,#66e4ff 95.5px,#66edff 100.5px,#66f5ff 133.5px,#66f8f8 151.5px,#66fbf2 154.5px,#66fee8 156.5px,#66ffab 165.5px,#67ff97 169.5px,#67ff8f 172.5px,#68ff7d 185.5px,#69ff71 188.5px,#70ff6c 189.5px,#7dff6a 190.5px,#bbff61 194.5px,#c7ff60 195.5px,#d5ff5f 197.5px,#dbfe62 198.5px,#eef67c 201.5px,#fbf090 204.5px,#fde696 208.5px,#ffd0a0 211.5px,#ffb2a0 216.5px,#ffa9ab 217.5px,#ffafb7 219.5px,#ffb2bd 221.5px,#ffb1bb 300.5px,#ffbcd3 349.5px,#ffbdd6 402.5px,#ffbfd9 407.5px,#ffc8ec 415.5px,#ffcbf1 420.5px,#ffcbf1 675.5px)"></i><i style="background:linear-gradient(90deg,#69a8ff 0,#69a9ff 68.5px,#68b5ff 76.5px,#66e2ff 88.5px,#66ecff 93.5px,#66f5ff 129.5px,#66f8f8 148.5px,#66fbf2 151.5px,#66feea 153.5px,#66ffab 163.5px,#67ff98 167.5px,#68ff7f 183.5px,#69ff72 186.5px,#6fff6d 187.5px,#7cff6a 188.5px,#baff61 192.5px,#c6ff60 193.5px,#d5ff5f 195.5px,#dafe61 196.5px,#f2f483 200.5px,#fcf090 203.5px,#fde895 208.5px,#ffcca0 212.5px,#ffb5a0 216.5px,#ffaaa7 217.5px,#ffb0ba 220.5px,#ffb1bc 222.5px,#ffb1bb 298.5px,#ffb5c4 325.5px,#ffbcd3 353.5px,#ffbdd6 402.5px,#ffbfdb 407.5px,#ffc9ee 415.5px,#ffcbf1 419.5px,#ffcbf1 675.5px)"></i><i style="background:linear-gradient(90deg,#69a8ff 0,#69a9ff 61.5px,#68b5ff 69.5px,#66e3ff 82.5px,#66ecff 87.5px,#66f5ff 125.5px,#66f8f7 145.5px,#66feeb 150.5px,#6fa 161.5px,#67ff9d 164.5px,#67ff93 168.5px,#68ff80 181.5px,#69ff73 184.5px,#6eff6d 185.5px,#7bff6a 186.5px,#c5ff60 191.5px,#d4ff5f 193.5px,#d9ff60 194.5px,#e0fd67 195.5px,#f1f581 198.5px,#fcf091 202.5px,#fde994 208.5px,#ffcfa0 212.5px,#ffb1a0 217.5px,#ffaaac 218.5px,#ffafb8 220.5px,#ffb1bb 222.5px,#ffb1bb 296.5px,#ffb4c3 327.5px,#ffbcd3 357.5px,#ffbdd5 401.5px,#ffbfda 406.5px,#ffcaee 414.5px,#ffcbf1 418.5px,#ffcbf1 675.5px)"></i><i style="background:linear-gradient(90deg,#69a8ff 0,#69aaff 54.5px,#68b4ff 61.5px,#66e3ff 75.5px,#66ecff 81.5px,#66f5ff 120.5px,#66f9f6 143.5px,#66fee8 148.5px,#66ffaf 158.5px,#67ff9d 162.5px,#68ff81 179.5px,#69ff74 182.5px,#6eff6d 183.5px,#7aff6a 184.5px,#a9ff62 187.5px,#c4ff60 189.5px,#d4ff5f 191.5px,#d9ff60 192.5px,#f1f580 196.5px,#f7f28a 198.5px,#fcf091 201.5px,#fdea94 208.5px,#fde198 210.5px,#ffd1a0 212.5px,#ffb3a0 217.5px,#ffa9aa 218.5px,#ffb0b9 221.5px,#ffb1bb 223.5px,#ffb1bb 293.5px,#ffb4c3 330.5px,#ffbcd3 361.5px,#ffbdd5 400.5px,#ffbfda 405.5px,#ffc9ec 412.5px,#ffcbf1 416.5px,#ffcbf1 675.5px)"></i><i style="background:linear-gradient(90deg,#69a8ff 0,#69aaff 46.5px,#68b3ff 53.5px,#66e2ff 67.5px,#66ebff 73.5px,#66f5ff 116.5px,#66f9f6 140.5px,#66fee9 145.5px,#66ffaf 156.5px,#66ff9e 160.5px,#68ff83 177.5px,#69ff75 180.5px,#6eff6e 181.5px,#79ff6a 182.5px,#a7ff62 185.5px,#c3ff60 187.5px,#d8ff5f 190.5px,#f0f580 194.5px,#f6f289 196.5px,#fcf091 200.5px,#fceb93 208.5px,#fde397 210.5px,#ffcda0 213.5px,#ffada3 218.5px,#ffadb4 220.5px,#ffb0bb 223.5px,#ffb1bb 285.5px,#ffb4c2 331.5px,#ffbcd3 363.5px,#ffbdd6 400.5px,#ffbfda 404.5px,#ffc9ee 412.5px,#ffcbf1 416.5px,#ffcbf1 675.5px)"></i><i style="background:linear-gradient(90deg,#69a8ff 0,#69a8ff 32.5px,#69acff 40.5px,#68b9ff 47.5px,#66e4ff 60.5px,#66ebff 66.5px,#66f5ff 111.5px,#66f9f6 137.5px,#66feeb 142.5px,#66ffa3 157.5px,#68ff84 175.5px,#69ff76 178.5px,#6dff6f 179.5px,#79ff6b 180.5px,#a6ff62 183.5px,#c2ff60 185.5px,#d8ff5f 188.5px,#ddfe64 189.5px,#f0f57f 192.5px,#f6f388 194.5px,#fcf091 199.5px,#fde994 209.5px,#ffd0a0 213.5px,#ffb4a0 218.5px,#ffada5 219.5px,#ffabaf 220.5px,#ffafb8 222.5px,#ffb0ba 225.5px,#ffb1bb 280.5px,#ffb3c1 329.5px,#ffbbd3 366.5px,#ffbdd6 399.5px,#ffbfda 403.5px,#ffc8ec 410.5px,#ffcbf1 414.5px,#ffcbf1 675.5px)"></i><i style="background:linear-gradient(90deg,#69a8ff 0,#69a8ff 24.5px,#68adff 32.5px,#68bbff 39.5px,#66e2ff 51.5px,#66eaff 58.5px,#66f5ff 109.5px,#66faf4 135.5px,#66fee8 140.5px,#66ffa4 155.5px,#68ff85 173.5px,#69ff77 176.5px,#6dff6f 177.5px,#78ff6b 178.5px,#c1ff60 183.5px,#d7ff5f 186.5px,#ddfe63 187.5px,#eff67e 190.5px,#f7f28a 193.5px,#fcf091 198.5px,#fdea94 209.5px,#ffcfa0 214.5px,#ffb1a2 220.5px,#ffabaf 222.5px,#ffafb7 224.5px,#ffb0ba 227.5px,#ffb3c1 333.5px,#ffbbd2 368.5px,#ffbdd6 398.5px,#ffc0dc 403.5px,#ffc9ee 410.5px,#ffcbf1 414.5px,#ffcbf1 675.5px)"></i><i style="background:linear-gradient(90deg,#69a8ff 0,#69acff 24.5px,#68b9ff 30.5px,#66deff 41.5px,#66e8ff 48.5px,#66f5ff 107.5px,#66faf4 132.5px,#66fee9 137.5px,#66ffa5 153.5px,#68ff87 171.5px,#69ff78 174.5px,#6cff70 175.5px,#77ff6b 176.5px,#c0ff60 181.5px,#caff60 182.5px,#d7ff5f 184.5px,#dcfe63 185.5px,#eff67d 188.5px,#f7f28a 191.5px,#fcf091 197.5px,#fdea94 209.5px,#ffcea0 215.5px,#ffb2a0 222.5px,#ffaaad 224.5px,#ffaeb5 226.5px,#ffb0b9 229.5px,#ffafb7 243.5px,#ffb3c0 296.5px,#ffb3c1 337.5px,#ffbbd2 371.5px,#ffbdd6 397.5px,#ffc0db 402.5px,#ffc9ee 409.5px,#ffcbf1 413.5px,#ffcbf1 675.5px)"></i><i style="background:linear-gradient(90deg,#69a8ff 0,#69a8ff 14.5px,#69acff 19.5px,#68bcff 25.5px,#66e1ff 34.5px,#66e8ff 39.5px,#66f5ff 105.5px,#66faf4 129.5px,#66feea 134.5px,#66ffa9 150.5px,#68ff88 169.5px,#68ff79 172.5px,#6cff70 173.5px,#76ff6b 174.5px,#93ff65 176.5px,#bfff60 179.5px,#c9ff60 180.5px,#d6ff5f 182.5px,#dcfe62 183.5px,#f2f483 187.5px,#f7f289 189.5px,#fcf091 195.5px,#fdea94 209.5px,#ffcea0 216.5px,#ffb3a0 224.5px,#ffaaac 226.5px,#ffaeb6 229.5px,#ffafb8 231.5px,#ffaeb5 243.5px,#ffb3c0 291.5px,#ffb4c3 347.5px,#ffbbd2 373.5px,#ffbdd6 397.5px,#ffc0db 401.5px,#ffc9ed 408.5px,#ffcbf1 412.5px,#ffcbf1 675.5px)"></i><i style="background:linear-gradient(90deg,#69a8ff 0,#69aaff 10.5px,#68afff 15.5px,#67c0ff 21.5px,#66e1ff 29.5px,#66e8ff 33.5px,#66e9ff 58.5px,#66f5ff 103.5px,#66faf4 126.5px,#66ffe7 132.5px,#6fa 148.5px,#68ff89 167.5px,#68ff7a 170.5px,#6bff71 171.5px,#75ff6b 172.5px,#92ff65 174.5px,#bdff60 177.5px,#c8ff60 178.5px,#d6ff5f 180.5px,#dbfe62 181.5px,#edf67c 184.5px,#f6f389 187.5px,#fcf091 194.5px,#fdeb94 209.5px,#ffd19f 216.5px,#ffb3a0 226.5px,#ffa9aa 228.5px,#ffaeb5 232.5px,#ffadb2 243.5px,#ffb2bf 287.5px,#ffb4c3 351.5px,#ffbbd1 375.5px,#ffbdd7 397.5px,#ffc9ed 407.5px,#ffcbf1 411.5px,#ffcbf1 675.5px)"></i><i style="background:linear-gradient(90deg,#69a9ff 0,#68b8ff 11.5px,#66e2ff 25.5px,#66e8ff 29.5px,#66e9ff 57.5px,#66f5ff 101.5px,#66faf3 123.5px,#66fee8 129.5px,#66ffac 146.5px,#68ff8b 165.5px,#68ff7b 168.5px,#6bff71 169.5px,#74ff6c 170.5px,#91ff65 172.5px,#bcff61 175.5px,#c7ff60 176.5px,#d5ff5f 178.5px,#dafe61 179.5px,#f1f581 183.5px,#f7f28a 186.5px,#fcf091 193.5px,#fdeb94 209.5px,#ffd1a0 217.5px,#ffb4a0 228.5px,#ffaaad 231.5px,#ffacb2 234.5px,#ffabaf 244.5px,#ffb2be 283.5px,#ffb4c3 355.5px,#ffbad0 377.5px,#ffbdd6 396.5px,#ffc9ed 406.5px,#ffcbf1 410.5px,#ffcbf1 675.5px)"></i><i style="background:linear-gradient(90deg,#68b7ff 0,#67d4ff 9.5px,#66e2ff 17.5px,#66e7ff 24.5px,#66e8ff 57.5px,#66f5ff 99.5px,#66faf3 120.5px,#66fee9 126.5px,#66ffad 144.5px,#67ff8c 163.5px,#68ff7c 166.5px,#6aff72 167.5px,#73ff6c 168.5px,#90ff65 170.5px,#bbff61 173.5px,#d5ff5f 176.5px,#daff61 177.5px,#f1f581 181.5px,#f7f28a 184.5px,#fcf091 192.5px,#fceb93 209.5px,#ffd0a0 218.5px,#ffb2a0 231.5px,#ffa9ab 233.5px,#ffabae 235.5px,#ffaaac 245.5px,#ffb1bd 280.5px,#ffb4c3 359.5px,#ffbdd6 395.5px,#ffc9ed 405.5px,#ffcbf1 409.5px,#ffcbf1 675.5px)"></i><i style="background:linear-gradient(90deg,#66d9ff 0,#66e3ff 4.5px,#66e6ff 9.5px,#66e8ff 56.5px,#66f5ff 97.5px,#66faf2 118.5px,#66ffe7 124.5px,#66ffaf 142.5px,#67ff8d 161.5px,#68ff7d 164.5px,#6aff73 165.5px,#72ff6c 166.5px,#baff61 171.5px,#d4ff5f 174.5px,#d9ff60 175.5px,#dffd66 176.5px,#f0f580 179.5px,#f7f289 182.5px,#fcf091 191.5px,#fceb93 209.5px,#ffd0a0 219.5px,#ffb2a0 233.5px,#ffa9a9 236.5px,#ffaca5 243.5px,#ffa8a9 247.5px,#ffb0bb 278.5px,#ffb4c3 363.5px,#ffbdd5 394.5px,#ffc9ed 404.5px,#ffcbf1 408.5px,#ffcbf1 675.5px)"></i><i style="background:linear-gradient(90deg,#66e7ff 0,#66e8ff 56.5px,#66f5ff 95.5px,#66faf3 115.5px,#66ffe8 121.5px,#66ffb1 140.5px,#67ff8f 159.5px,#68ff7e 162.5px,#69ff73 163.5px,#71ff6c 164.5px,#b9ff61 169.5px,#d3ff5f 172.5px,#d8ff5f 173.5px,#defd65 174.5px,#f0f57f 177.5px,#f7f28a 181.5px,#fcf091 190.5px,#fceb93 209.5px,#ffd0a0 220.5px,#ffb3a0 235.5px,#ffb1a0 247.5px,#ffa8a9 252.5px,#ffaeb5 268.5px,#ffb0b9 281.5px,#ffb4c4 367.5px,#ffbcd4 393.5px,#ffc9ec 403.5px,#ffcbf1 407.5px,#ffcbf1 675.5px)"></i><i style="background:linear-gradient(90deg,#66e8ff 0,#66e8ff 55.5px,#66f5ff 93.5px,#66faf3 112.5px,#66feea 118.5px,#66ffb3 138.5px,#67ff90 157.5px,#68ff7f 160.5px,#69ff74 161.5px,#71ff6c 162.5px,#9cff63 165.5px,#c3ff60 168.5px,#d8ff5f 171.5px,#ddfd64 172.5px,#f0f67f 175.5px,#f5f387 177.5px,#f7f28a 179.5px,#fcf091 188.5px,#fceb93 209.5px,#ffd0a0 221.5px,#ffb5a0 236.5px,#ffb1a0 252.5px,#ffa8a9 256.5px,#ffacb1 268.5px,#ffafb9 293.5px,#ffb5c4 371.5px,#ffbbd3 392.5px,#ffbfda 396.5px,#ffc8ec 402.5px,#ffcbf1 406.5px,#ffcbf1 675.5px)"></i><i style="background:linear-gradient(90deg,#66e8ff 0,#66e8ff 55.5px,#66f5ff 92.5px,#66faf2 110.5px,#66ffe8 116.5px,#66ffb6 135.5px,#67ff91 155.5px,#68ff88 157.5px,#69ff75 159.5px,#70ff6d 160.5px,#9aff63 163.5px,#c2ff60 166.5px,#d7ff5f 169.5px,#ddfe64 170.5px,#eaf876 172.5px,#f3f483 174.5px,#f7f28a 178.5px,#fcf091 187.5px,#fceb93 209.5px,#ffcfa0 222.5px,#ffb8a0 236.5px,#ffb1a0 255.5px,#ffa9a9 260.5px,#ffb0bb 313.5px,#ffb5c4 375.5px,#ffbbd2 392.5px,#ffc8eb 401.5px,#ffcbf1 405.5px,#ffcbf1 675.5px)"></i><i style="background:linear-gradient(90deg,#66e8ff 0,#66e8ff 55.5px,#66f5ff 90.5px,#66faf3 107.5px,#66feea 113.5px,#66ffb8 133.5px,#67ff93 153.5px,#68ff8a 155.5px,#69ff77 157.5px,#6eff6e 158.5px,#98ff64 161.5px,#c1ff60 164.5px,#d7ff5f 167.5px,#dcfe63 168.5px,#f2f483 172.5px,#f7f28a 176.5px,#fcf091 186.5px,#fceb93 209.5px,#ffcfa0 223.5px,#ffbaa0 237.5px,#ffb1a0 259.5px,#ffa9a9 269.5px,#ffb0bb 324.5px,#ffb5c4 379.5px,#ffbacf 391.5px,#ffc9ec 401.5px,#ffcbf1 405.5px,#ffcbf1 675.5px)"></i><i style="background:linear-gradient(90deg,#66e8ff 0,#66e8ff 54.5px,#66f5ff 88.5px,#66faf3 105.5px,#66ffe7 112.5px,#66ffbd 130.5px,#67ff95 151.5px,#67ff8d 153.5px,#68ff7a 155.5px,#6cff70 156.5px,#95ff64 159.5px,#beff60 162.5px,#d6ff5f 165.5px,#dbfe61 166.5px,#edf67b 169.5px,#f4f386 171.5px,#fcf090 184.5px,#fceb93 209.5px,#ffcfa0 224.5px,#ffbba0 238.5px,#ffb1a0 270.5px,#ffa9a9 282.5px,#ffb0ba 331.5px,#ffb5c4 382.5px,#ffb9ce 391.5px,#ffc8eb 400.5px,#ffcbf1 404.5px,#ffcbf1 675.5px)"></i><i style="background:linear-gradient(90deg,#66e8ff 0,#66e8ff 54.5px,#66f5ff 87.5px,#66faf4 102.5px,#66ffe7 110.5px,#66ffbe 128.5px,#67ff96 149.5px,#67ff8f 151.5px,#68ff7e 153.5px,#6aff72 154.5px,#74ff6c 155.5px,#91ff65 157.5px,#bbff61 160.5px,#c6ff60 161.5px,#d4ff5f 163.5px,#d9ff60 164.5px,#f1f580 168.5px,#f5f387 170.5px,#fcf090 183.5px,#fceb93 210.5px,#ffcfa0 225.5px,#ffbba0 240.5px,#ffb1a0 283.5px,#ffa9a9 294.5px,#ffb0b9 336.5px,#ffb5c4 384.5px,#ffb9cd 391.5px,#ffc8ec 400.5px,#ffcbf1 404.5px,#ffcbf1 675.5px)"></i><i style="background:linear-gradient(90deg,#66e8ff 0,#66e8ff 54.5px,#66f5ff 85.5px,#66faf3 100.5px,#66ffe6 108.5px,#66ffbe 126.5px,#67ff94 148.5px,#68ff8b 150.5px,#69ff75 152.5px,#70ff6d 153.5px,#9bff63 156.5px,#c3ff60 159.5px,#d8ff5f 162.5px,#ddfe64 163.5px,#eff67f 166.5px,#f5f387 168.5px,#fcf091 183.5px,#fceb93 210.5px,#ffcfa0 226.5px,#ffbba0 242.5px,#ffb1a0 295.5px,#ffa9a9 306.5px,#ffafb8 341.5px,#ffb5c4 385.5px,#ffb8cb 390.5px,#ffc7ea 399.5px,#ffcbf1 403.5px,#ffcbf1 675.5px)"></i><i style="background:linear-gradient(90deg,#66e8ff 0,#66e8ff 54.5px,#66f5ff 84.5px,#66faf4 97.5px,#66ffe6 106.5px,#66ffbe 124.5px,#67ff95 146.5px,#67ff8d 148.5px,#68ff79 150.5px,#6dff6f 151.5px,#97ff64 154.5px,#c0ff60 157.5px,#d7ff5f 160.5px,#dcfe62 161.5px,#eef67d 164.5px,#f5f386 166.5px,#fcf091 182.5px,#fdeb94 211.5px,#ffcfa0 227.5px,#ffbca0 243.5px,#ffb1a0 307.5px,#ffa9a9 317.5px,#ffb4c3 385.5px,#ffb8cb 390.5px,#ffc8eb 399.5px,#ffcbf1 403.5px,#ffcbf1 675.5px)"></i><i style="background:linear-gradient(90deg,#66e8ff 0,#66e8ff 53.5px,#66f5fe 84.5px,#66fdee 100.5px,#66ffbe 122.5px,#67ff95 144.5px,#67ff8e 146.5px,#68ff7c 148.5px,#6bff71 149.5px,#93ff65 152.5px,#bdff61 155.5px,#d5ff5f 158.5px,#dafe61 159.5px,#edf77b 162.5px,#f5f387 165.5px,#fcf091 181.5px,#fceb93 211.5px,#ffcfa0 228.5px,#ffbca0 245.5px,#ffb1a0 317.5px,#ffa9a9 326.5px,#ffb2bd 366.5px,#ffb4c3 385.5px,#ffb8cb 390.5px,#ffc8ec 399.5px,#ffcbf1 403.5px,#ffcbf1 675.5px)"></i><i style="background:linear-gradient(90deg,#66e8ff 0,#66e8ff 53.5px,#66f5fe 82.5px,#66fbf2 95.5px,#66feea 100.5px,#66ffbe 120.5px,#67ff96 142.5px,#67ff90 144.5px,#68ff7f 146.5px,#69ff73 147.5px,#72ff6c 148.5px,#8fff66 150.5px,#c5ff60 154.5px,#d8ff5f 157.5px,#f0f57f 161.5px,#f5f387 163.5px,#fcf091 180.5px,#fceb93 211.5px,#ffcfa0 229.5px,#ffbca0 246.5px,#ffb8a0 297.5px,#ffb1a0 327.5px,#ffa9a9 336.5px,#ffb1bd 367.5px,#ffb5c4 386.5px,#ffb8cc 390.5px,#ffc8ea 398.5px,#ffcbf1 402.5px,#ffcbf1 675.5px)"></i><i style="background:linear-gradient(90deg,#66e8ff 0,#66e8ff 53.5px,#66f6fe 81.5px,#66fcef 95.5px,#66ffbe 118.5px,#67ff96 140.5px,#67ff8b 143.5px,#69ff77 145.5px,#6eff6d 146.5px,#99ff63 149.5px,#c2ff60 152.5px,#d7ff5f 155.5px,#ddfe63 156.5px,#eaf876 158.5px,#f3f483 160.5px,#f6f289 163.5px,#fcf091 179.5px,#fceb93 211.5px,#ffd0a0 230.5px,#ffbca0 249.5px,#ffb9a0 303.5px,#ffb1a0 336.5px,#ffa9a9 344.5px,#ffb1bc 367.5px,#ffb5c5 386.5px,#ffb9ce 390.5px,#ffc8ec 398.5px,#ffcbf1 402.5px,#ffcbf1 675.5px)"></i><i style="background:linear-gradient(90deg,#66e7ff 0,#66e8ff 52.5px,#66f5fe 79.5px,#66fcee 93.5px,#66ffbd 116.5px,#67ff95 139.5px,#67ff8d 141.5px,#68ff7a 143.5px,#6cff70 144.5px,#95ff64 147.5px,#bfff60 150.5px,#d6ff5f 153.5px,#dbfe62 154.5px,#eef67c 157.5px,#f4f386 159.5px,#fcf091 178.5px,#fceb93 213.5px,#ffd0a0 231.5px,#ffbca0 249.5px,#ffbaa0 310.5px,#ffb1a0 344.5px,#ffa8a9 349.5px,#ffb1bc 367.5px,#ffb5c5 386.5px,#ffb8cc 389.5px,#ffc7ea 397.5px,#ffcbf1 401.5px,#ffcbf1 675.5px)"></i><i style="background:linear-gradient(90deg,#66e7ff 0,#66e8ff 52.5px,#66f5ff 77.5px,#66fcee 91.5px,#66ffbd 114.5px,#67ff95 137.5px,#67ff8f 139.5px,#68ff7d 141.5px,#6aff72 142.5px,#74ff6c 143.5px,#91ff65 145.5px,#bcff61 148.5px,#c7ff60 149.5px,#d5ff5f 151.5px,#d9ff60 152.5px,#ecf77a 155.5px,#f5f387 158.5px,#fcf091 178.5px,#fceb93 214.5px,#ffd0a0 232.5px,#ffbca0 250.5px,#ffbaa0 317.5px,#ffb1a0 348.5px,#ffa8a9 352.5px,#ffb1bb 367.5px,#ffb6c6 386.5px,#ffb9ce 389.5px,#ffc8eb 397.5px,#ffcbf1 401.5px,#ffcbf1 675.5px)"></i><i style="background:linear-gradient(90deg,#66e7ff 0,#66e8ff 52.5px,#66f5fe 76.5px,#66ffe6 93.5px,#66ffbd 112.5px,#67ff96 135.5px,#68ff8a 138.5px,#69ff74 140.5px,#70ff6c 141.5px,#9cff63 144.5px,#c4ff60 147.5px,#d8ff5f 150.5px,#defd64 151.5px,#f0f57f 154.5px,#f5f386 156.5px,#fcf091 177.5px,#fceb93 216.5px,#ffd1a0 233.5px,#ffbca0 251.5px,#ffbaa0 325.5px,#ffb1a0 350.5px,#ffa8a9 353.5px,#ffb0b9 365.5px,#ffb5c6 385.5px,#ffbacf 389.5px,#ffc7ea 396.5px,#ffcbf1 400.5px,#ffcbf1 675.5px)"></i><i style="background:linear-gradient(90deg,#66e7ff 0,#66e8ff 51.5px,#66f5fe 74.5px,#66ffe6 91.5px,#66ffbd 110.5px,#67ff94 134.5px,#67ff8c 136.5px,#68ff78 138.5px,#6eff6e 139.5px,#98ff64 142.5px,#c1ff60 145.5px,#d7ff5f 148.5px,#dcfe63 149.5px,#eef67d 152.5px,#f4f386 154.5px,#fcf091 177.5px,#fdeb94 218.5px,#ffd0a0 235.5px,#ffbca0 252.5px,#ffbaa0 330.5px,#ffb0a0 351.5px,#ffa8a9 353.5px,#ffafb8 364.5px,#ffb6c6 385.5px,#ffb9ce 388.5px,#ffc8eb 396.5px,#ffcbf1 400.5px,#ffcbf1 675.5px)"></i><i style="background:linear-gradient(90deg,#66e7ff 0,#66e8ff 51.5px,#66f5ff 72.5px,#66ffe7 88.5px,#66ffbd 108.5px,#67ff95 132.5px,#67ff8e 134.5px,#68ff7c 136.5px,#6cff71 137.5px,#94ff65 140.5px,#beff60 143.5px,#d5ff5f 146.5px,#dafe61 147.5px,#f1f581 151.5px,#f5f387 153.5px,#fcf091 176.5px,#fceb93 219.5px,#ffd0a0 236.5px,#ffbca0 253.5px,#ffbba0 330.5px,#ffb1a0 350.5px,#ffa8a8 352.5px,#ffb0b9 364.5px,#ffb5c6 384.5px,#ffbad0 388.5px,#ffc7ea 395.5px,#ffcbf1 399.5px,#ffcbf1 675.5px)"></i><i style="background:linear-gradient(90deg,#66e7ff 0,#66e7ff 50.5px,#66f5fe 71.5px,#66ffe7 86.5px,#66ffbd 106.5px,#67ff95 130.5px,#67ff8f 132.5px,#68ff7f 134.5px,#6aff73 135.5px,#73ff6c 136.5px,#90ff66 138.5px,#baff61 141.5px,#c6ff60 142.5px,#d4ff5f 144.5px,#d9ff60 145.5px,#f0f580 149.5px,#f5f387 151.5px,#fcf091 176.5px,#fceb93 221.5px,#ffd1a0 237.5px,#ffbca0 254.5px,#ffbba0 329.5px,#ffb8a0 340.5px,#ffb0a0 349.5px,#ffa8a9 351.5px,#ffafb8 362.5px,#ffb6c7 384.5px,#ffb9ce 387.5px,#ffc8ec 395.5px,#ffcbf1 399.5px,#ffcbf1 675.5px)"></i><i style="background:linear-gradient(90deg,#66e7ff 0,#66e7ff 49.5px,#66f5fe 69.5px,#66ffe7 84.5px,#66ffbd 104.5px,#67ff94 129.5px,#68ff8b 131.5px,#69ff76 133.5px,#6fff6d 134.5px,#9aff63 137.5px,#c3ff60 140.5px,#d7ff5f 143.5px,#ddfe63 144.5px,#eff67e 147.5px,#f5f386 149.5px,#fcf091 175.5px,#fdeb94 223.5px,#ffd0a0 239.5px,#ffbca0 255.5px,#ffbba0 328.5px,#ffb1a0 347.5px,#ffa9aa 350.5px,#ffafb9 361.5px,#ffb5c6 383.5px,#ffbad0 387.5px,#ffc7ea 394.5px,#ffcbf1 398.5px,#ffcbf1 675.5px)"></i><i style="background:linear-gradient(90deg,#66e7ff 0,#66e8ff 49.5px,#66f5ff 67.5px,#66ffe6 82.5px,#66ffbd 102.5px,#67ff94 127.5px,#67ff8d 129.5px,#68ff7a 131.5px,#6dff6f 132.5px,#96ff64 135.5px,#c0ff60 138.5px,#d6ff5f 141.5px,#dbfe62 142.5px,#f2f482 146.5px,#f5f387 148.5px,#fcf091 175.5px,#fceb93 224.5px,#ffd0a0 240.5px,#ffbca0 256.5px,#ffbba0 326.5px,#ffb1a0 345.5px,#ffa9aa 348.5px,#ffafb8 359.5px,#ffb5c5 382.5px,#ffb9ce 386.5px,#ffc8ec 394.5px,#ffcbf1 398.5px,#ffcbf1 675.5px)"></i><i style="background:linear-gradient(90deg,#66e7ff 0,#66e8ff 48.5px,#66f5ff 65.5px,#66ffe6 80.5px,#66ffbd 100.5px,#67ff95 125.5px,#67ff8e 127.5px,#68ff7d 129.5px,#6bff72 130.5px,#75ff6b 131.5px,#92ff65 133.5px,#bcff61 136.5px,#d5ff5f 139.5px,#daff60 140.5px,#ecf77a 143.5px,#f5f387 146.5px,#fcf091 174.5px,#fceb93 226.5px,#ffd0a0 241.5px,#ffbca0 257.5px,#ffbba0 323.5px,#ffb1a0 342.5px,#ffa8a9 345.5px,#ffb0b9 358.5px,#ffb6c6 382.5px,#ffbad0 386.5px,#ffc7ea 393.5px,#ffcbf1 397.5px,#ffcbf1 675.5px)"></i><i style="background:linear-gradient(90deg,#66e7ff 0,#66e7ff 47.5px,#66f5fe 64.5px,#66ffe8 77.5px,#66ffbd 98.5px,#67ff93 124.5px,#68ff8a 126.5px,#69ff74 128.5px,#71ff6c 129.5px,#9cff63 132.5px,#c4ff60 135.5px,#d8ff5f 138.5px,#defd65 139.5px,#ebf878 141.5px,#f3f484 143.5px,#f6f388 147.5px,#fcf091 175.5px,#fceb93 226.5px,#fde895 230.5px,#ffd1a0 242.5px,#ffbda0 257.5px,#ffbba0 322.5px,#ffb1a0 340.5px,#ffa9a9 343.5px,#ffb0ba 356.5px,#ffb5c5 381.5px,#ffb9ce 385.5px,#ffc8ec 393.5px,#ffcbf1 397.5px,#ffcbf1 675.5px)"></i><i style="background:linear-gradient(90deg,#66e7ff 0,#66e7ff 46.5px,#66f5ff 62.5px,#66ffe8 75.5px,#66ffbd 96.5px,#67ff95 122.5px,#67ff8e 124.5px,#68ff7b 126.5px,#6bff6f 127.5px,#95ff64 130.5px,#c0ff60 133.5px,#caff60 134.5px,#d6ff5f 136.5px,#dbfe61 137.5px,#f2f482 141.5px,#f6f388 145.5px,#fcf091 174.5px,#fceb93 228.5px,#ffd1a0 243.5px,#ffbca0 258.5px,#ffbba0 319.5px,#ffb1a0 337.5px,#ffa9a8 340.5px,#ffb0ba 354.5px,#ffb5c5 380.5px,#ffb9cd 384.5px,#ffc7ea 392.5px,#ffcbf1 396.5px,#ffcbf1 675.5px)"></i><i style="background:linear-gradient(90deg,#66e7ff 0,#66e7ff 45.5px,#66f5fe 61.5px,#66ffe6 74.5px,#66ffbd 94.5px,#67ff95 121.5px,#67ff8e 123.5px,#68ff7b 125.5px,#6bff6e 126.5px,#96ff64 129.5px,#c1ff60 132.5px,#cbff60 133.5px,#d7ff5f 135.5px,#dbfe61 136.5px,#e9f875 138.5px,#f3f483 140.5px,#f6f388 143.5px,#fcf091 174.5px,#fceb93 229.5px,#ffd1a0 244.5px,#ffbca0 259.5px,#ffbba0 317.5px,#ffb1a0 335.5px,#ffa9a9 338.5px,#ffb0ba 352.5px,#ffb5c6 380.5px,#ffb9ce 384.5px,#ffc8ec 392.5px,#ffcbf1 396.5px,#ffcbf1 675.5px)"></i><i style="background:linear-gradient(90deg,#66e7ff 0,#66e7ff 44.5px,#66f5fe 60.5px,#66ffe8 72.5px,#66ffbe 92.5px,#67ff93 121.5px,#68ff88 123.5px,#68ff7d 124.5px,#6aff70 125.5px,#95ff65 128.5px,#c0ff60 131.5px,#cbff60 132.5px,#d6ff5f 134.5px,#dbfe61 135.5px,#f2f483 139.5px,#f6f388 142.5px,#fcf091 174.5px,#fceb93 230.5px,#ffd1a0 245.5px,#ffbda0 259.5px,#ffbba0 318.5px,#ffb2a0 332.5px,#ffa9aa 336.5px,#ffb1bc 352.5px,#ffb5c5 379.5px,#ffb9cd 383.5px,#ffc7ea 391.5px,#ffcbf1 395.5px,#ffcbf1 675.5px)"></i><i style="background:linear-gradient(90deg,#66e7ff 0,#66e7ff 44.5px,#66f5fe 59.5px,#66ffe7 71.5px,#66ffbe 90.5px,#67ff93 120.5px,#68ff8a 122.5px,#69ff71 124.5px,#74ff6c 125.5px,#a2ff62 128.5px,#bfff60 130.5px,#caff60 131.5px,#d6ff5f 133.5px,#daff60 134.5px,#f2f482 138.5px,#f6f388 141.5px,#fcf091 174.5px,#fceb93 231.5px,#fde994 234.5px,#ffd1a0 246.5px,#ffbda0 260.5px,#ffbaa0 316.5px,#ffb1a0 330.5px,#ffa9a9 333.5px,#ffb1bc 350.5px,#ffb5c5 378.5px,#ffb9cf 383.5px,#ffc8ec 391.5px,#ffcbf1 395.5px,#ffcbf1 675.5px)"></i><i style="background:linear-gradient(90deg,#66e7ff 0,#66e7ff 43.5px,#66f5fe 58.5px,#66ffe8 69.5px,#66ffbe 88.5px,#67ff93 119.5px,#67ff8b 121.5px,#69ff74 123.5px,#72ff6c 124.5px,#9fff62 127.5px,#bdff60 129.5px,#c8ff60 130.5px,#d6ff5f 132.5px,#daff60 133.5px,#f2f582 137.5px,#f6f388 140.5px,#fcf091 173.5px,#fceb93 233.5px,#ffd1a0 247.5px,#ffbda0 261.5px,#ffbba0 313.5px,#ffb0a0 328.5px,#ffa9aa 331.5px,#ffb1bd 348.5px,#ffb5c4 377.5px,#ffb8cb 381.5px,#ffc7ea 390.5px,#ffcbf1 394.5px,#ffcbf1 675.5px)"></i><i style="background:linear-gradient(90deg,#66e7ff 0,#66e7ff 42.5px,#66f5ff 56.5px,#66ffe7 68.5px,#66ffbf 86.5px,#67ff94 118.5px,#67ff8c 120.5px,#69ff76 122.5px,#6fff6d 123.5px,#9dff63 126.5px,#c7ff60 129.5px,#d9ff5f 132.5px,#f1f581 136.5px,#f6f388 139.5px,#fcf091 173.5px,#fceb93 234.5px,#ffd1a0 248.5px,#ffbca0 262.5px,#ffbaa0 311.5px,#ffb1a0 325.5px,#ffa8a9 328.5px,#ffb1bc 345.5px,#ffb5c5 377.5px,#ffb9cf 382.5px,#ffc8ec 390.5px,#ffcbf1 394.5px,#ffcbf1 675.5px)"></i><i style="background:linear-gradient(90deg,#66e7ff 0,#66e7ff 41.5px,#66f5ff 55.5px,#66ffe9 66.5px,#66ffbf 84.5px,#67ff94 117.5px,#67ff8e 119.5px,#68ff79 121.5px,#6dff6d 122.5px,#9bff63 125.5px,#c6ff60 128.5px,#d9ff5f 131.5px,#f1f581 135.5px,#f6f388 138.5px,#fcf091 173.5px,#fceb93 235.5px,#ffd0a0 249.5px,#ffbda0 262.5px,#ffbaa0 309.5px,#ffb0a0 323.5px,#ffa9aa 326.5px,#ffb1bd 343.5px,#ffb5c5 376.5px,#ffb9ce 381.5px,#ffc8ea 389.5px,#ffcbf1 393.5px,#ffcbf1 675.5px)"></i><i style="background:linear-gradient(90deg,#66e7ff 0,#66e7ff 40.5px,#66f5ff 54.5px,#66ffe8 65.5px,#66ffc0 82.5px,#67ff92 117.5px,#68ff87 119.5px,#68ff7b 120.5px,#6bff6e 121.5px,#99ff64 124.5px,#c5ff60 127.5px,#ceff60 128.5px,#d8ff5f 130.5px,#f1f580 134.5px,#f6f388 137.5px,#fcf091 173.5px,#fceb93 235.5px,#ffd1a0 249.5px,#ffbda0 262.5px,#ffbaa0 307.5px,#ffb1a0 320.5px,#ffa8a9 323.5px,#ffb1bd 341.5px,#ffb5c5 375.5px,#ffb9cd 380.5px,#ffc8ec 389.5px,#ffcbf1 393.5px,#ffcbf1 675.5px)"></i><i style="background:linear-gradient(90deg,#66e7ff 0,#66e7ff 40.5px,#66f5ff 53.5px,#66ffe7 64.5px,#66ffc0 80.5px,#67ff93 116.5px,#68ff89 118.5px,#68ff7e 119.5px,#6aff70 120.5px,#97ff64 123.5px,#c4ff60 126.5px,#cdff60 127.5px,#d8ff5f 129.5px,#ddfe64 130.5px,#f0f57f 133.5px,#f6f388 136.5px,#fcf091 172.5px,#fceb93 234.5px,#ffd0a0 248.5px,#ffbda0 260.5px,#ffbaa0 305.5px,#ffb1a0 318.5px,#ffa9aa 321.5px,#ffb1bd 339.5px,#ffb5c5 374.5px,#ffb8cd 379.5px,#ffc8eb 388.5px,#ffcbf1 392.5px,#ffcbf1 675.5px)"></i><i style="background:linear-gradient(90deg,#66e7ff 0,#66e7ff 39.5px,#66f5ff 52.5px,#66ffe8 62.5px,#66ffbf 79.5px,#67ff93 115.5px,#68ff8a 117.5px,#69ff72 119.5px,#95ff64 122.5px,#c2ff60 125.5px,#ccff60 126.5px,#d7ff5f 128.5px,#dcfe63 129.5px,#eaf877 131.5px,#f3f484 133.5px,#f6f388 136.5px,#fcf091 170.5px,#fceb93 231.5px,#fde795 235.5px,#ffcfa0 246.5px,#ffbda0 258.5px,#ffbaa0 303.5px,#ffb1a0 315.5px,#ffa8a9 318.5px,#ffb1bd 336.5px,#ffb5c5 373.5px,#ffbacf 379.5px,#ffc9ed 388.5px,#ffcbf1 392.5px,#ffcbf1 675.5px)"></i><i style="background:linear-gradient(90deg,#66e7ff 0,#66e7ff 38.5px,#66f5ff 51.5px,#66ffe8 61.5px,#66ffbf 77.5px,#67ff93 114.5px,#67ff8c 116.5px,#69ff74 118.5px,#72ff6c 119.5px,#92ff65 121.5px,#c1ff60 124.5px,#cbff60 125.5px,#d7ff5f 127.5px,#dcfe61 128.5px,#e9f876 130.5px,#f3f484 132.5px,#f6f388 135.5px,#fcf091 169.5px,#fceb93 229.5px,#fde795 233.5px,#ffd0a0 243.5px,#ffbda0 255.5px,#ffbaa0 300.5px,#ffb1a0 313.5px,#ffa9a9 316.5px,#ffb1bd 334.5px,#ffb3c1 364.5px,#ffb5c5 372.5px,#ffbad0 378.5px,#ffc9ec 387.5px,#ffcbf1 391.5px,#ffcbf1 675.5px)"></i><i style="background:linear-gradient(90deg,#66e7ff 0,#66e7ff 37.5px,#66f5fe 50.5px,#66ffe6 60.5px,#66ffc0 75.5px,#67ff93 113.5px,#67ff8d 115.5px,#69ff77 117.5px,#70ff6d 118.5px,#a0ff62 121.5px,#bfff60 123.5px,#caff60 124.5px,#d7ff5f 126.5px,#dbfe61 127.5px,#e9f975 129.5px,#f3f483 131.5px,#f6f388 134.5px,#fcf091 168.5px,#fceb93 227.5px,#fde695 231.5px,#ffcfa0 241.5px,#ffbea0 252.5px,#ffbaa0 298.5px,#ffb1a0 310.5px,#ffa9a8 313.5px,#ffaeb6 323.5px,#ffb2bd 332.5px,#ffb5c5 370.5px,#ffb9ce 376.5px,#ffc9ec 386.5px,#ffcbf1 390.5px,#ffcbf1 675.5px)"></i><i style="background:linear-gradient(90deg,#66e7ff 0,#66e7ff 36.5px,#66f5fe 49.5px,#66ffe8 58.5px,#66ffc0 73.5px,#67ff92 113.5px,#68ff86 115.5px,#68ff79 116.5px,#6dff6d 117.5px,#9eff63 120.5px,#beff60 122.5px,#c9ff60 123.5px,#d6ff5f 125.5px,#daff60 126.5px,#f2f483 130.5px,#f6f388 133.5px,#fcf091 166.5px,#fceb93 225.5px,#fde696 229.5px,#ffd1a0 238.5px,#ffbda0 250.5px,#ffbaa0 295.5px,#ffb1a0 308.5px,#ffa9a9 311.5px,#ffb1bd 329.5px,#ffb6c6 369.5px,#ffbacf 375.5px,#ffc9ed 385.5px,#ffcbf1 389.5px,#ffcbf1 675.5px)"></i><i style="background:linear-gradient(90deg,#66e7ff 0,#66e7ff 36.5px,#66f5fe 48.5px,#66ffe7 57.5px,#66ffc2 70.5px,#67ff94 111.5px,#67ff8f 113.5px,#68ff7c 115.5px,#6bff6e 116.5px,#9cff63 119.5px,#c8ff60 122.5px,#d6ff5f 124.5px,#daff60 125.5px,#f2f482 129.5px,#f6f388 132.5px,#fcf091 165.5px,#fceb93 223.5px,#fde696 227.5px,#ffd0a0 236.5px,#ffbda0 247.5px,#ffbaa0 293.5px,#ffb2a0 305.5px,#ffa9a8 308.5px,#ffb1bd 326.5px,#ffb4c2 358.5px,#ffb6c7 368.5px,#ffbcd3 375.5px,#ffc8eb 383.5px,#ffcbf1 388.5px,#ffcbf1 675.5px)"></i><i style="background:linear-gradient(90deg,#66e7ff 0,#66e7ff 35.5px,#66f5fe 47.5px,#66ffe9 55.5px,#66ffc1 69.5px,#67ff93 111.5px,#68ff89 113.5px,#68ff7e 114.5px,#6aff70 115.5px,#99ff63 118.5px,#c7ff60 121.5px,#d9ff5f 124.5px,#f1f581 128.5px,#f6f388 131.5px,#fcf091 164.5px,#fceb93 221.5px,#fde596 225.5px,#ffcfa0 234.5px,#ffbda0 245.5px,#ffbaa0 290.5px,#ffb1a0 303.5px,#ffa9a9 306.5px,#ffb1bd 324.5px,#ffb4c2 355.5px,#ffb6c8 366.5px,#ffbad0 372.5px,#ffc7ea 381.5px,#ffcbf1 386.5px,#ffcbf1 675.5px)"></i><i style="background:linear-gradient(90deg,#66e7ff 0,#66e7ff 34.5px,#66f4ff 45.5px,#66ffe8 54.5px,#66ffcb 63.5px,#66ffbf 68.5px,#67ff93 110.5px,#68ff8b 112.5px,#69ff72 114.5px,#75ff6b 115.5px,#97ff64 117.5px,#c6ff60 120.5px,#cfff60 121.5px,#d9ff5f 123.5px,#f1f581 127.5px,#f6f388 130.5px,#fcf091 162.5px,#fceb93 219.5px,#fde795 222.5px,#ffd0a0 231.5px,#ffbda0 242.5px,#ffbaa0 288.5px,#ffb0a0 301.5px,#ffa9aa 304.5px,#ffb2bd 322.5px,#ffb4c2 352.5px,#ffb7c8 364.5px,#ffbbd2 371.5px,#ffc8eb 380.5px,#ffcbf1 385.5px,#ffcbf1 675.5px)"></i><i style="background:linear-gradient(90deg,#66e7ff 0,#66e7ff 33.5px,#66f4ff 44.5px,#66ffe7 53.5px,#6fc 61.5px,#66ffc0 66.5px,#67ff93 109.5px,#67ff8c 111.5px,#69ff75 113.5px,#73ff6c 114.5px,#95ff64 116.5px,#c4ff60 119.5px,#ceff60 120.5px,#d8ff5f 122.5px,#f1f580 126.5px,#f6f388 129.5px,#fcf091 161.5px,#fceb93 216.5px,#fde795 220.5px,#ffcfa0 229.5px,#ffbda0 239.5px,#ffbaa0 285.5px,#ffb1a0 298.5px,#ffa9a9 301.5px,#ffb1bd 319.5px,#ffb4c2 348.5px,#ffb7c9 361.5px,#ffbbd3 369.5px,#ffc8ec 379.5px,#ffcbf1 383.5px,#ffcbf1 675.5px)"></i><i style="background:linear-gradient(90deg,#66e7ff 0,#66e7ff 32.5px,#66f5ff 43.5px,#66ffe9 51.5px,#66ffc2 63.5px,#67ff93 108.5px,#67ff8d 110.5px,#69ff77 112.5px,#70ff6c 113.5px,#a3ff62 116.5px,#c3ff60 118.5px,#cdff60 119.5px,#d8ff5f 121.5px,#ddfe64 122.5px,#f0f580 125.5px,#f6f388 128.5px,#fcf091 160.5px,#fceb93 214.5px,#fde696 218.5px,#ffd19f 226.5px,#ffbda0 237.5px,#ffbaa0 282.5px,#ffb1a0 295.5px,#ffa9aa 299.5px,#ffb1bd 316.5px,#ffb4c3 345.5px,#ffb7ca 358.5px,#ffbdd5 367.5px,#ffc9ed 378.5px,#ffcbf1 382.5px,#ffcbf1 675.5px)"></i><i style="background:linear-gradient(90deg,#66e7ff 0,#66e7ff 32.5px,#66f5ff 42.5px,#66ffe8 50.5px,#66ffcb 58.5px,#66ffc1 62.5px,#67ff93 107.5px,#67ff8e 109.5px,#68ff7a 111.5px,#6dff6d 112.5px,#a1ff62 115.5px,#c1ff60 117.5px,#ccff60 118.5px,#d8ff5f 120.5px,#ddfe63 121.5px,#eaf877 123.5px,#f3f484 125.5px,#f6f388 128.5px,#fcf091 158.5px,#fceb93 212.5px,#fde696 216.5px,#ffd0a0 224.5px,#ffbda0 234.5px,#ffb9a0 279.5px,#ffb0a0 293.5px,#ffa9a9 296.5px,#ffb1bd 314.5px,#ffb4c3 341.5px,#ffb7ca 354.5px,#ffbcd5 363.5px,#ffc9ed 376.5px,#ffcbf1 380.5px,#ffcbf1 675.5px)"></i><i style="background:linear-gradient(90deg,#66e7ff 0,#66e7ff 31.5px,#66f4ff 41.5px,#66ffe8 49.5px,#66ffcb 57.5px,#66ffc1 61.5px,#67ff92 107.5px,#68ff89 109.5px,#68ff7d 110.5px,#6bff6f 111.5px,#9fff62 114.5px,#c0ff60 116.5px,#ccff60 117.5px,#d7ff5f 119.5px,#dcfe63 120.5px,#eaf877 122.5px,#f3f484 124.5px,#f6f388 127.5px,#fcf091 157.5px,#fceb93 210.5px,#fde596 214.5px,#ffcfa0 222.5px,#ffbda0 231.5px,#ffb9a0 276.5px,#ffb0a1 290.5px,#ffa9a9 293.5px,#ffb1bd 311.5px,#ffb4c3 338.5px,#ffb7ca 350.5px,#ffcbf1 378.5px,#ffcbf1 675.5px)"></i><i style="background:linear-gradient(90deg,#66e7ff 0,#66e7ff 30.5px,#66f5fe 41.5px,#66ffe6 49.5px,#66ffca 57.5px,#66ffbf 62.5px,#67ff93 106.5px,#67ff8c 108.5px,#68ff81 109.5px,#69ff71 110.5px,#9eff63 113.5px,#c0ff60 115.5px,#ccff60 116.5px,#d8ff5f 118.5px,#ddfe63 119.5px,#eaf877 121.5px,#f3f484 123.5px,#f6f388 126.5px,#fcf091 155.5px,#fceb93 208.5px,#fde596 212.5px,#ffd0a0 219.5px,#ffbda0 229.5px,#ffb9a0 272.5px,#ffb1a0 286.5px,#ffa9a9 290.5px,#ffb1bc 308.5px,#ffb7ca 345.5px,#ffbcd4 354.5px,#ffc8ea 368.5px,#ffcbf0 375.5px,#ffcbf1 675.5px)"></i><i style="background:linear-gradient(90deg,#66e7ff 0,#66e7ff 29.5px,#66f5ff 40.5px,#66ffe8 48.5px,#66ffcb 57.5px,#66ffbf 62.5px,#67ff92 106.5px,#68ff85 108.5px,#69ff76 109.5px,#74ff6c 110.5px,#9cff63 112.5px,#c0ff60 114.5px,#ccff60 115.5px,#d8ff5f 117.5px,#ddfe64 118.5px,#f0f57f 121.5px,#f5f387 123.5px,#f6f388 125.5px,#fcf091 154.5px,#fceb93 206.5px,#fde795 209.5px,#ffcfa0 217.5px,#ffbda0 226.5px,#ffb9a0 268.5px,#ffb0a0 283.5px,#ffa9a8 286.5px,#ffb1bc 305.5px,#ffb7ca 341.5px,#ffbcd4 350.5px,#ffc8ea 364.5px,#ffcbf1 372.5px,#ffcbf1 675.5px)"></i><i style="background:linear-gradient(90deg,#66e7ff 0,#66e7ff 29.5px,#66f4ff 39.5px,#66ffe7 48.5px,#66ffc1 61.5px,#67ff92 105.5px,#68ff88 107.5px,#68ff7a 108.5px,#70ff6c 109.5px,#9aff63 111.5px,#c0ff60 113.5px,#ccff60 114.5px,#d8ff5f 116.5px,#ddfd64 117.5px,#f0f580 120.5px,#f6f388 123.5px,#fcf091 153.5px,#fceb93 204.5px,#fde795 207.5px,#ffd19f 214.5px,#ffbea0 223.5px,#ffb9a0 265.5px,#ffb1a0 279.5px,#ffa9a9 283.5px,#ffb1bd 303.5px,#ffb7ca 337.5px,#ffc8eb 360.5px,#ffcbf1 368.5px,#ffcbf1 675.5px)"></i><i style="background:linear-gradient(90deg,#66e7ff 0,#66e7ff 28.5px,#66f5ff 39.5px,#66ffe9 47.5px,#66ffc1 61.5px,#67ff93 104.5px,#68ff8b 106.5px,#68ff7e 107.5px,#6cff6e 108.5px,#98ff64 110.5px,#bfff60 112.5px,#ccff60 113.5px,#d8ff5f 115.5px,#defd65 116.5px,#f0f580 119.5px,#f6f388 122.5px,#fcf091 151.5px,#fceb93 201.5px,#fde696 205.5px,#ffd0a0 212.5px,#ffbda0 221.5px,#ffb9a0 261.5px,#ffb1a0 275.5px,#ffa8a9 279.5px,#ffb1bc 299.5px,#ffb8cb 333.5px,#ffc8eb 356.5px,#ffcbf0 363.5px,#ffcbf1 675.5px)"></i><i style="background:linear-gradient(90deg,#66e7ff 0,#66e7ff 28.5px,#66f4ff 38.5px,#66ffe8 47.5px,#66ffc1 61.5px,#67ff94 103.5px,#67ff8d 105.5px,#68ff82 106.5px,#6aff71 107.5px,#95ff64 109.5px,#bfff60 111.5px,#ccff60 112.5px,#d8ff5f 114.5px,#f1f580 118.5px,#f6f388 121.5px,#fcf091 150.5px,#fceb93 199.5px,#fde696 203.5px,#ffcea0 210.5px,#ffbda0 218.5px,#ffb9a0 258.5px,#ffb1a0 271.5px,#ffa9a9 275.5px,#ffb1bc 296.5px,#ffb8cb 329.5px,#ffc7ea 351.5px,#ffcbf0 359.5px,#ffcbf1 675.5px)"></i><i style="background:linear-gradient(90deg,#66e7ff 0,#66e7ff 27.5px,#66f5ff 38.5px,#66ffe6 47.5px,#66ffc0 62.5px,#67ff93 103.5px,#67ff8f 104.5px,#68ff86 105.5px,#69ff75 106.5px,#79ff6b 107.5px,#92ff65 108.5px,#beff60 110.5px,#ccff60 111.5px,#d8ff5f 113.5px,#f1f580 117.5px,#f6f388 120.5px,#fcf091 148.5px,#fceb93 198.5px,#fde696 201.5px,#ffd19f 207.5px,#ffbea0 215.5px,#ffb9a0 254.5px,#ffb1a0 267.5px,#ffa9aa 272.5px,#ffb1bc 292.5px,#ffb8cb 325.5px,#ffc7ea 347.5px,#ffcbf0 355.5px,#ffcbf1 675.5px)"></i><i style="background:linear-gradient(90deg,#66e7ff 0,#66e7ff 27.5px,#66f5ff 37.5px,#66ffe8 46.5px,#66ffc0 62.5px,#67ff93 102.5px,#68ff89 104.5px,#68ff7a 105.5px,#74ff6c 106.5px,#a8ff62 108.5px,#beff60 109.5px,#ccff60 110.5px,#d9ff5f 112.5px,#f1f581 116.5px,#f6f388 119.5px,#fcf091 147.5px,#fceb93 196.5px,#fde795 199.5px,#ffd19f 205.5px,#ffbda0 213.5px,#ffb9a0 251.5px,#ffb1a0 264.5px,#ffa9aa 268.5px,#ffb1bc 288.5px,#ffb8cc 321.5px,#ffc8ea 343.5px,#ffcbf0 351.5px,#ffcbf1 675.5px)"></i><i style="background:linear-gradient(90deg,#66e7ff 0,#66e7ff 26.5px,#66f5fe 37.5px,#66ffe7 46.5px,#66ffc0 62.5px,#67ff94 101.5px,#67ff8c 103.5px,#68ff7f 104.5px,#6fff6d 105.5px,#a6ff62 107.5px,#bdff60 108.5px,#ccff60 109.5px,#d9ff5f 111.5px,#f1f581 115.5px,#f6f388 118.5px,#fcf091 146.5px,#fceb93 195.5px,#fde596 198.5px,#ffcfa0 204.5px,#ffbda0 211.5px,#ffb8a0 248.5px,#ffb1a0 260.5px,#ffa9a9 264.5px,#ffb2bd 285.5px,#ffb9cd 318.5px,#ffc8eb 339.5px,#ffcbf0 347.5px,#ffcbf1 675.5px)"></i><i style="background:linear-gradient(90deg,#66e7ff 0,#66e7ff 26.5px,#66f5ff 36.5px,#66ffe8 45.5px,#66ffc0 62.5px,#67ff94 100.5px,#67ff8e 102.5px,#68ff83 103.5px,#6bff70 104.5px,#a3ff62 106.5px,#bcff61 107.5px,#ccff60 108.5px,#d9ff5f 110.5px,#f1f581 114.5px,#f6f388 117.5px,#fcf091 145.5px,#fceb93 193.5px,#fde795 196.5px,#ffd0a0 202.5px,#ffbda0 209.5px,#ffb8a0 244.5px,#ffb1a0 256.5px,#ffa9a9 260.5px,#ffb2be 281.5px,#ffbad0 316.5px,#ffc8eb 335.5px,#ffcbf1 343.5px,#ffcbf1 675.5px)"></i><i style="background:linear-gradient(90deg,#66e7ff 0,#66e7ff 25.5px,#66f5fe 36.5px,#66ffe7 45.5px,#66ffc0 62.5px,#67ff93 100.5px,#67ff90 101.5px,#68ff88 102.5px,#69ff75 103.5px,#7eff69 104.5px,#b8ff61 106.5px,#caff60 107.5px,#d8ff5f 109.5px,#f1f581 113.5px,#f6f388 116.5px,#fcf091 144.5px,#fceb93 192.5px,#fde596 195.5px,#ffd19f 200.5px,#ffbea0 207.5px,#ffb8a0 241.5px,#ffb1a0 252.5px,#ffa9a9 256.5px,#ffb2be 277.5px,#ffbbd2 313.5px,#ffc8eb 331.5px,#ffcbf0 338.5px,#ffcbf1 675.5px)"></i><i style="background:linear-gradient(90deg,#66e7ff 0,#66e7ff 25.5px,#66f5ff 35.5px,#66ffe9 44.5px,#66ffbe 63.5px,#67ff94 99.5px,#67ff8b 101.5px,#68ff7c 102.5px,#74ff6c 103.5px,#b1ff61 105.5px,#c6ff60 106.5px,#d2ff5f 107.5px,#d7ff5f 108.5px,#ddfe63 109.5px,#f0f57f 112.5px,#f6f388 115.5px,#fcf091 143.5px,#fceb93 190.5px,#fde795 193.5px,#ffcea0 199.5px,#ffbea0 205.5px,#ffbaa0 232.5px,#ffb1a0 248.5px,#ffa9a9 252.5px,#ffb2bf 273.5px,#ffbcd4 309.5px,#ffc8eb 327.5px,#ffcbf0 334.5px,#ffcbf1 675.5px)"></i><i style="background:linear-gradient(90deg,#66e6ff 0,#66e7ff 24.5px,#66f4ff 34.5px,#66ffe8 44.5px,#66ffbf 63.5px,#67ff93 99.5px,#67ff8e 100.5px,#68ff83 101.5px,#6cff6e 102.5px,#89ff67 103.5px,#a8ff62 104.5px,#c1ff60 105.5px,#cfff60 106.5px,#d6ff5f 107.5px,#dbff60 108.5px,#f3f483 112.5px,#f6f388 114.5px,#fcf091 141.5px,#fdea94 189.5px,#fde496 192.5px,#ffcfa0 197.5px,#ffbea0 203.5px,#ffb9a0 229.5px,#ffb1a0 244.5px,#ffa9a9 248.5px,#ffb2bf 268.5px,#ffbcd4 301.5px,#ffcbf0 330.5px,#ffcbf1 675.5px)"></i><i style="background:linear-gradient(90deg,#66e6ff 0,#66e7ff 24.5px,#66f5ff 34.5px,#66ffe7 44.5px,#66ffbf 63.5px,#67ff94 98.5px,#67ff90 99.5px,#68ff88 100.5px,#69ff75 101.5px,#7fff69 102.5px,#bbff61 104.5px,#ccff60 105.5px,#d9ff5f 107.5px,#f2f582 111.5px,#f6f388 114.5px,#fcf091 140.5px,#fdea94 180.5px,#fee099 188.5px,#ffcda0 194.5px,#ffbea0 201.5px,#ffb9a0 225.5px,#ffb1a0 240.5px,#ffa9a9 244.5px,#ffb3c1 265.5px,#ffbcd4 294.5px,#ffcbf0 326.5px,#ffcbf1 675.5px)"></i><i style="background:linear-gradient(90deg,#66e6ff 0,#66e7ff 23.5px,#66f4ff 33.5px,#66ffe8 43.5px,#66ffbf 63.5px,#67ff94 97.5px,#67ff8c 99.5px,#68ff7c 100.5px,#75ff6b 101.5px,#b3ff61 103.5px,#c8ff60 104.5px,#d2ff5f 105.5px,#d8ff5f 106.5px,#ddfd64 107.5px,#f0f580 110.5px,#f6f388 113.5px,#fcf091 136.5px,#fdea94 167.5px,#fde297 174.5px,#ffcba0 185.5px,#ffc1a0 192.5px,#ffbca0 199.5px,#ffb8a0 223.5px,#ffb1a0 236.5px,#ffa9a9 240.5px,#ffb4c3 263.5px,#ffcbf0 321.5px,#ffcbf1 675.5px)"></i><i style="background:linear-gradient(90deg,#66e6ff 0,#66e7ff 23.5px,#66f5fe 33.5px,#66ffe7 43.5px,#66ffbf 63.5px,#67ff93 97.5px,#67ff8e 98.5px,#68ff83 99.5px,#6dff6e 100.5px,#aaff61 102.5px,#c2ff60 103.5px,#d0ff60 104.5px,#d6ff5f 105.5px,#dbfe61 106.5px,#e9f875 108.5px,#f3f484 110.5px,#f6f389 113.5px,#fcf091 131.5px,#fcec93 159.5px,#fde596 163.5px,#ffcb9f 171.5px,#ffc1a0 178.5px,#ffb9a0 216.5px,#ffb1a0 231.5px,#ffa9aa 236.5px,#ffb5c6 261.5px,#ffc7ea 303.5px,#ffcaf0 314.5px,#ffcbf1 675.5px)"></i><i style="background:linear-gradient(90deg,#66e6ff 0,#66e7ff 22.5px,#66f5ff 32.5px,#66ffe8 42.5px,#66ffbf 63.5px,#67ff94 96.5px,#67ff91 97.5px,#68ff88 98.5px,#69ff74 99.5px,#80ff69 100.5px,#a1ff62 101.5px,#bcff61 102.5px,#cdff60 103.5px,#d5ff5f 104.5px,#daff5f 105.5px,#f2f482 109.5px,#f6f388 111.5px,#fcf091 128.5px,#fceb93 158.5px,#fde696 160.5px,#ffcf9f 164.5px,#ffbca0 168.5px,#ffb7a0 171.5px,#ffbca0 183.5px,#ffbba0 204.5px,#ffb0a1 228.5px,#ffa9aa 232.5px,#ffb5c5 256.5px,#ffc7e9 295.5px,#ffcaf0 307.5px,#ffcbf1 675.5px)"></i><i style="background:linear-gradient(90deg,#66e6ff 0,#66e7ff 22.5px,#66f5fe 32.5px,#66ffe8 42.5px,#66ffbf 63.5px,#67ff94 95.5px,#67ff8c 97.5px,#68ff7c 98.5px,#76ff6b 99.5px,#b5ff61 101.5px,#c9ff60 102.5px,#d8ff5f 104.5px,#f1f581 108.5px,#f6f387 110.5px,#fcf091 127.5px,#fceb93 158.5px,#fde497 160.5px,#ffcfa0 163.5px,#ffbaa0 167.5px,#ffb4a0 169.5px,#ffbba0 179.5px,#ffbca0 193.5px,#ffb9a0 209.5px,#ffb1a0 223.5px,#ffa9aa 228.5px,#ffc5e6 284.5px,#ffcaf0 300.5px,#ffcbf1 675.5px)"></i><i style="background:linear-gradient(90deg,#66e6ff 0,#66e7ff 21.5px,#66f5ff 31.5px,#66ffe9 41.5px,#66ffbf 63.5px,#67ff93 95.5px,#67ff8f 96.5px,#68ff84 97.5px,#6bff6f 98.5px,#89ff67 99.5px,#a9ff62 100.5px,#c2ff60 101.5px,#d0ff60 102.5px,#d6ff5f 103.5px,#dbff60 104.5px,#e9f875 106.5px,#f3f484 108.5px,#f6f388 110.5px,#fcf091 127.5px,#fdea94 158.5px,#fde297 160.5px,#ffcea0 163.5px,#ffb8a0 167.5px,#ffb4a0 169.5px,#ffbba0 178.5px,#ffbca0 189.5px,#ffb9a0 205.5px,#ffb1a0 219.5px,#ffa9aa 224.5px,#ffc5e5 276.5px,#ffcaf0 293.5px,#ffcbf1 675.5px)"></i><i style="background:linear-gradient(90deg,#66e6ff 0,#66e7ff 21.5px,#66f6fe 31.5px,#66fbf2 35.5px,#66ffe8 41.5px,#66ffbe 64.5px,#67ff94 94.5px,#68ff8a 96.5px,#68ff7a 97.5px,#78ff6b 98.5px,#96ff64 99.5px,#b3ff61 100.5px,#c7ff60 101.5px,#d7ff5f 103.5px,#ddfe63 104.5px,#f0f57f 107.5px,#f6f388 110.5px,#fcf091 127.5px,#fceb93 157.5px,#fde696 159.5px,#ffd29f 162.5px,#ffb7a0 167.5px,#ffb4a0 169.5px,#ffbaa0 177.5px,#ffbba0 187.5px,#ffb9a0 202.5px,#ffb1a0 215.5px,#ffa9aa 220.5px,#ffc6e7 272.5px,#ffcaf0 286.5px,#ffcbf1 675.5px)"></i><i style="background:linear-gradient(90deg,#66e6ff 0,#66e7ff 20.5px,#66f5ff 30.5px,#66fbf1 35.5px,#66ffe7 41.5px,#66ffbe 64.5px,#67ff95 93.5px,#67ff8e 95.5px,#68ff83 96.5px,#6aff6f 97.5px,#a0ff62 99.5px,#b9ff61 100.5px,#caff60 101.5px,#d8ff5f 103.5px,#ddfe64 104.5px,#f0f580 107.5px,#f6f388 110.5px,#fcf091 127.5px,#fceb93 157.5px,#fde596 159.5px,#ffd0a0 162.5px,#ffbaa0 166.5px,#ffb4a0 168.5px,#ffbaa0 176.5px,#ffbba0 185.5px,#ffb1a0 211.5px,#ffa8a9 215.5px,#ffc6e8 267.5px,#ffcaf0 279.5px,#ffcbf1 675.5px)"></i><i style="background:linear-gradient(90deg,#66e6ff 0,#66e7ff 20.5px,#66f4ff 29.5px,#66fbf2 34.5px,#66ffe8 40.5px,#66ffbe 64.5px,#67ff94 93.5px,#68ff89 95.5px,#68ff79 96.5px,#74ff6c 97.5px,#bdff60 100.5px,#ccff60 101.5px,#d8ff5f 103.5px,#defd64 104.5px,#f1f580 107.5px,#f5f387 109.5px,#fcf091 126.5px,#fceb93 157.5px,#fde497 159.5px,#ffcea0 162.5px,#ffb8a0 166.5px,#ffb4a0 168.5px,#ffbba0 183.5px,#ffb1a0 207.5px,#ffa9a9 211.5px,#ffc7e8 262.5px,#ffcbf0 273.5px,#ffcbf1 675.5px)"></i><i style="background:linear-gradient(90deg,#66e6ff 0,#66e7ff 19.5px,#66f5ff 29.5px,#66fbf1 34.5px,#66ffe7 40.5px,#66ffbc 65.5px,#67ff95 92.5px,#67ff8d 94.5px,#68ff82 95.5px,#6aff70 96.5px,#96ff64 98.5px,#c0ff60 100.5px,#cdff60 101.5px,#d8ff5f 103.5px,#f1f581 107.5px,#f6f388 109.5px,#fcf091 126.5px,#fdea94 157.5px,#fde297 159.5px,#ffcda0 162.5px,#ffbca0 165.5px,#ffb4a0 168.5px,#ffbaa0 181.5px,#ffb1a0 203.5px,#ffa9a9 207.5px,#ffc7e9 257.5px,#ffcbf0 268.5px,#ffcbf1 675.5px)"></i><i style="background:linear-gradient(90deg,#66e6ff 0,#66e7ff 19.5px,#66f4ff 28.5px,#66fbf2 33.5px,#66ffe8 39.5px,#67ff93 92.5px,#68ff87 94.5px,#68ff79 95.5px,#72ff6c 96.5px,#9cff63 98.5px,#c3ff60 100.5px,#ceff60 101.5px,#d9ff5f 103.5px,#f1f581 107.5px,#f6f388 109.5px,#fcf091 126.5px,#fceb93 156.5px,#fde695 158.5px,#ffd19f 161.5px,#ffbaa0 165.5px,#ffb4a0 167.5px,#ffb9a0 179.5px,#ffb1a0 198.5px,#ffa9aa 203.5px,#ffc6e8 251.5px,#ffcbf0 262.5px,#ffcbf1 675.5px)"></i><i style="background:linear-gradient(90deg,#66e6ff 0,#66e7ff 18.5px,#66f5fe 28.5px,#66fbf1 33.5px,#66ffe8 39.5px,#67ff94 91.5px,#67ff8c 93.5px,#68ff80 94.5px,#69ff70 95.5px,#a2ff62 98.5px,#c5ff60 100.5px,#cfff60 101.5px,#d9ff5f 103.5px,#f2f582 107.5px,#f6f388 109.5px,#fcf091 126.5px,#fceb93 156.5px,#fde596 158.5px,#ffcfa0 161.5px,#ffb5a0 166.5px,#ffb7a0 183.5px,#ffb1a0 194.5px,#ffa9a9 198.5px,#ffb5c4 221.5px,#ffc6e8 246.5px,#ffcbf0 257.5px,#ffcbf1 675.5px)"></i><i style="background:linear-gradient(90deg,#66e6ff 0,#66e7ff 18.5px,#66f5ff 27.5px,#66fbf1 32.5px,#66ffe7 39.5px,#67ff95 90.5px,#67ff8f 92.5px,#68ff86 93.5px,#68ff78 94.5px,#70ff6c 95.5px,#a7ff62 98.5px,#c7ff60 100.5px,#d0ff60 101.5px,#d9ff5f 103.5px,#f2f482 107.5px,#f6f388 109.5px,#fcf091 126.5px,#fceb93 156.5px,#fde497 158.5px,#ffcea0 161.5px,#ffb3a0 166.5px,#ffb7a0 176.5px,#ffb1a0 189.5px,#ffa9aa 194.5px,#ffb4c2 215.5px,#ffc6e8 241.5px,#ffcbf0 252.5px,#ffcbf1 675.5px)"></i><i style="background:linear-gradient(90deg,#66e6ff 0,#66e7ff 17.5px,#66f5fe 27.5px,#66fbf2 31.5px,#66ffe8 38.5px,#67ff94 90.5px,#68ff8a 92.5px,#69ff70 94.5px,#9aff63 97.5px,#c8ff60 100.5px,#daff5f 103.5px,#f2f483 107.5px,#f6f388 109.5px,#fcf091 126.5px,#fcec93 155.5px,#fde895 157.5px,#ffd39f 160.5px,#ffbaa0 164.5px,#ffb2a0 166.5px,#ffb5a0 174.5px,#ffb1a0 184.5px,#ffa9a9 189.5px,#ffb3c1 210.5px,#ffc7e8 236.5px,#ffcbf0 247.5px,#ffcbf1 675.5px)"></i><i style="background:linear-gradient(90deg,#66e6ff 0,#66e7ff 17.5px,#66f5ff 26.5px,#66fbf1 31.5px,#66ffe7 38.5px,#66ffca 58.5px,#67ff95 89.5px,#67ff8e 91.5px,#68ff78 93.5px,#6eff6d 94.5px,#9eff62 97.5px,#c9ff60 100.5px,#daff5f 103.5px,#eef67c 106.5px,#f2f483 107.5px,#f6f388 109.5px,#fcf091 126.5px,#fceb93 155.5px,#fde695 157.5px,#ffd0a0 160.5px,#ffb8a0 164.5px,#ffb1a0 166.5px,#ffb1a0 179.5px,#ffa9a9 184.5px,#ffb3c0 205.5px,#ffc7e8 231.5px,#ffcbf0 242.5px,#ffcbf1 675.5px)"></i><i style="background:linear-gradient(90deg,#66e6ff 0,#66e7ff 16.5px,#66f5fe 26.5px,#66fbf0 31.5px,#66ffe8 37.5px,#66ffc8 59.5px,#67ff94 89.5px,#67ff8c 91.5px,#69ff75 93.5px,#72ff6c 94.5px,#a0ff62 97.5px,#bfff60 99.5px,#caff60 100.5px,#daff5f 103.5px,#eef67d 106.5px,#f3f483 107.5px,#f6f388 109.5px,#fcf091 126.5px,#fceb93 155.5px,#fde596 157.5px,#ffcea0 160.5px,#ffb2a0 165.5px,#ffaaa6 167.5px,#ffb1a0 170.5px,#ffb0a1 174.5px,#ffa8a9 179.5px,#ffacb0 187.5px,#ffb3c1 201.5px,#ffc6e7 225.5px,#ffcbf0 236.5px,#ffcbf1 675.5px)"></i><i style="background:linear-gradient(90deg,#66e6ff 0,#66e7ff 16.5px,#66f5ff 25.5px,#66fbf2 30.5px,#66ffe8 37.5px,#66ffc8 59.5px,#67ff94 89.5px,#67ff8b 91.5px,#69ff72 93.5px,#74ff6c 94.5px,#a2ff62 97.5px,#c0ff60 99.5px,#cbff60 100.5px,#d6ff5f 102.5px,#dbff60 103.5px,#e9f974 105.5px,#f3f484 107.5px,#f6f388 109.5px,#fcf091 125.5px,#fceb93 155.5px,#fde497 157.5px,#ffcda0 160.5px,#ffb4a0 164.5px,#ffa9a9 166.5px,#ffa9aa 174.5px,#ffafb7 190.5px,#ffc5e6 219.5px,#ffcbf0 231.5px,#ffcbf1 675.5px)"></i><i style="background:linear-gradient(90deg,#66e6ff 0,#66e6ff 15.5px,#66f5ff 25.5px,#66fbf1 30.5px,#66ffe8 37.5px,#66ffc8 59.5px,#67ff94 89.5px,#68ff8a 91.5px,#69ff70 93.5px,#a4ff62 97.5px,#c1ff60 99.5px,#cbff60 100.5px,#d7ff5f 102.5px,#dbff60 103.5px,#e9f875 105.5px,#f3f484 107.5px,#f6f388 109.5px,#fcf091 125.5px,#fdeb94 155.5px,#fde298 157.5px,#ffd29f 159.5px,#ffb2a0 164.5px,#ffa9a9 165.5px,#ffb1bb 190.5px,#ffc5e5 213.5px,#ffcbf0 226.5px,#ffcbf1 675.5px)"></i><i style="background:linear-gradient(90deg,#66e6ff 0,#66e7ff 15.5px,#66f6fe 25.5px,#66fbf0 30.5px,#66ffe7 37.5px,#66ffc8 59.5px,#67ff95 88.5px,#67ff8f 90.5px,#68ff7c 92.5px,#69ff6e 93.5px,#96ff64 96.5px,#c2ff60 99.5px,#ccff60 100.5px,#d7ff5f 102.5px,#dbfe61 103.5px,#eff67e 106.5px,#f6f388 109.5px,#fcf091 125.5px,#fdea94 155.5px,#fde098 157.5px,#ffd0a0 159.5px,#ffb6a0 163.5px,#ffaea2 164.5px,#ffaaac 165.5px,#ffb2bf 190.5px,#ffb6c6 195.5px,#ffc4e4 208.5px,#ffcbf0 221.5px,#ffcbf1 675.5px)"></i><i style="background:linear-gradient(90deg,#66e6ff 0,#66e7ff 15.5px,#66f4ff 24.5px,#66fbf2 29.5px,#66ffe8 36.5px,#66ffc8 59.5px,#67ff95 88.5px,#67ff8f 90.5px,#68ff7b 92.5px,#6bff6e 93.5px,#a6ff62 97.5px,#c2ff60 99.5px,#ccff60 100.5px,#d7ff5f 102.5px,#dcfe62 103.5px,#eff67e 106.5px,#f6f388 109.5px,#fcf091 125.5px,#fceb93 154.5px,#fedf99 157.5px,#ffcea0 159.5px,#ffb4a0 163.5px,#ffa8a8 164.5px,#ffacb0 166.5px,#ffadb3 174.5px,#ffb3c2 191.5px,#ffc5e5 206.5px,#ffcbf0 218.5px,#ffcbf1 675.5px)"></i></div>
<div class="f" style="left:1047px;top:16px;width:686px;height:685px"><i style="background:linear-gradient(90deg,#6b7aff 0,#6b7eff 45.5px,#699fff 107.5px,#6a9cff 115.5px,#69a9ff 139.5px,#67c8ff 159.5px,#66e1ff 164.5px,#66f3ff 169.5px,#66f6fe 170.5px,#66fcee 173.5px,#66ffe6 174.5px,#66ffb2 178.5px,#66ffa8 180.5px,#66ffa2 221.5px,#66ffa0 222.5px,#67ff95 223.5px,#69ff76 224.5px,#8dff66 225.5px,#bcff61 226.5px,#e9f974 227.5px,#fde397 228.5px,#ffd49e 229.5px,#ffcba0 231.5px,#ffc6a0 268.5px,#ffb1a0 279.5px,#ffaaa6 280.5px,#ffadb3 283.5px,#ffb4c2 285.5px,#ffc6e7 288.5px,#ffc9ee 289.5px,#ffcbf1 291.5px,#ffcbf1 685.5px)"></i><i style="background:linear-gradient(90deg,#6b7aff 0,#6b7eff 45.5px,#699fff 107.5px,#6a9cff 115.5px,#69a9ff 139.5px,#67c7ff 159.5px,#66e0ff 164.5px,#66f3ff 169.5px,#66f6fe 170.5px,#66fcef 173.5px,#66ffe6 174.5px,#66ffb3 178.5px,#66ffa8 180.5px,#66ffa2 221.5px,#66ffa1 222.5px,#67ff9b 223.5px,#68ff85 224.5px,#7aff6a 225.5px,#a9ff62 226.5px,#d4ff5f 227.5px,#fdea94 228.5px,#fed99c 229.5px,#ffcfa0 230.5px,#ffcba0 232.5px,#ffc7a0 268.5px,#ffb1a0 280.5px,#ffaaa7 281.5px,#ffadb4 284.5px,#ffb5c4 286.5px,#ffc6e8 289.5px,#ffcaee 290.5px,#ffcbf1 292.5px,#ffcbf1 685.5px)"></i><i style="background:linear-gradient(90deg,#6b7aff 0,#6b7dff 45.5px,#699eff 106.5px,#6a9bff 114.5px,#69a9ff 139.5px,#67c7ff 159.5px,#66e0ff 164.5px,#66f2ff 169.5px,#66f5fe 170.5px,#66fcef 173.5px,#66ffe7 174.5px,#66ffb3 178.5px,#66ffa8 180.5px,#66ffa2 222.5px,#66ff9f 223.5px,#67ff91 224.5px,#6aff71 225.5px,#95ff65 226.5px,#c3ff60 227.5px,#f2f482 228.5px,#fde098 229.5px,#ffd29f 230.5px,#ffcba0 232.5px,#ffc7a0 269.5px,#ffb1a0 281.5px,#ffa9a8 282.5px,#ffadb4 285.5px,#ffb5c5 287.5px,#ffc7e9 290.5px,#ffcaee 291.5px,#ffcbf1 293.5px,#ffcbf1 685.5px)"></i><i style="background:linear-gradient(90deg,#6b7aff 0,#6b7dff 45.5px,#699eff 105.5px,#6a9bff 114.5px,#69aaff 140.5px,#67c7ff 159.5px,#66e0ff 164.5px,#66f2ff 169.5px,#66f5fe 170.5px,#66fcef 173.5px,#66ffe7 174.5px,#66ffb3 178.5px,#66ffa8 180.5px,#66ffa2 222.5px,#66ffa1 223.5px,#67ff99 224.5px,#68ff81 225.5px,#7fff69 226.5px,#afff61 227.5px,#d9fe62 228.5px,#fde895 229.5px,#fed89c 230.5px,#ffcea0 231.5px,#ffcba0 233.5px,#ffc7a0 270.5px,#ffb1a0 282.5px,#ffa9a8 283.5px,#ffb1bb 287.5px,#ffc7e9 291.5px,#ffcaef 292.5px,#ffcbf1 294.5px,#ffcbf1 685.5px)"></i><i style="background:linear-gradient(90deg,#6b7aff 0,#6b7eff 46.5px,#699eff 105.5px,#6a9bff 113.5px,#69aaff 140.5px,#67c7ff 159.5px,#66e0ff 164.5px,#66f5fe 170.5px,#66ffe7 174.5px,#66ffb4 178.5px,#66ffa8 180.5px,#66ffa2 223.5px,#66ff9f 224.5px,#67ff8f 225.5px,#6cff6e 226.5px,#9aff63 227.5px,#c7ff60 228.5px,#f7f28a 229.5px,#fede99 230.5px,#ffd19f 231.5px,#ffcba0 233.5px,#ffc6a0 271.5px,#ffb0a0 283.5px,#ffa8a9 284.5px,#ffaeb5 287.5px,#ffb1bc 288.5px,#ffc7ea 292.5px,#ffcbf1 294.5px,#ffcbf1 685.5px)"></i><i style="background:linear-gradient(90deg,#6b7aff 0,#6b7eff 46.5px,#6a9dff 104.5px,#6a9aff 113.5px,#69aaff 140.5px,#67c7ff 159.5px,#66e0ff 164.5px,#66f5ff 170.5px,#66ffe8 174.5px,#66ffb4 178.5px,#66ffa8 180.5px,#66ffa2 223.5px,#66ffa1 224.5px,#67ff97 225.5px,#68ff7d 226.5px,#84ff68 227.5px,#b4ff61 228.5px,#defd66 229.5px,#fde696 230.5px,#fed69d 231.5px,#ffcea0 232.5px,#ffcba0 234.5px,#ffc6a0 272.5px,#ffb0a1 284.5px,#ffa9a9 285.5px,#ffaeb5 288.5px,#ffb1bc 289.5px,#ffc7ea 293.5px,#ffcbf1 295.5px,#ffcbf1 685.5px)"></i><i style="background:linear-gradient(90deg,#6b7aff 0,#6b7eff 46.5px,#6a9dff 104.5px,#6a9aff 112.5px,#69aaff 140.5px,#67c7ff 159.5px,#66e0ff 164.5px,#66f5ff 170.5px,#66ffe8 174.5px,#66ffb5 178.5px,#66ffa9 180.5px,#66ffa3 223.5px,#67ff9e 225.5px,#67ff8c 226.5px,#70ff6c 227.5px,#9fff63 228.5px,#ccff60 229.5px,#faef8f 230.5px,#fedc9a 231.5px,#ffd0a0 232.5px,#ffcba0 234.5px,#ffc6a0 273.5px,#ffafa1 285.5px,#ffa9a9 286.5px,#ffaeb6 289.5px,#ffb2bd 290.5px,#ffc8eb 294.5px,#ffcbf1 296.5px,#ffcbf1 685.5px)"></i><i style="background:linear-gradient(90deg,#6b7aff 0,#6b7eff 46.5px,#6a9cff 103.5px,#6a9aff 112.5px,#69aaff 140.5px,#67c7ff 159.5px,#66e0ff 164.5px,#66f5ff 170.5px,#66ffe9 174.5px,#66ffb5 178.5px,#66ffa9 180.5px,#66ffa2 224.5px,#66ffa0 225.5px,#67ff96 226.5px,#68ff79 227.5px,#8aff67 228.5px,#b8ff61 229.5px,#e4fb6e 230.5px,#fde497 231.5px,#ffd59e 232.5px,#ffcda0 233.5px,#ffcba0 235.5px,#ffc6a0 274.5px,#ffb2a0 285.5px,#ffafa2 286.5px,#ffa9aa 287.5px,#ffacb1 289.5px,#ffb2be 291.5px,#ffc8eb 295.5px,#ffcbf1 297.5px,#ffcbf1 685.5px)"></i><i style="background:linear-gradient(90deg,#6b7aff 0,#6b7dff 46.5px,#6a9cff 102.5px,#6a99ff 111.5px,#69aaff 140.5px,#67c7ff 159.5px,#66dfff 164.5px,#66f5ff 170.5px,#66ffe9 174.5px,#66ffb5 178.5px,#66ffa9 180.5px,#66ffa3 224.5px,#67ff9c 226.5px,#68ff89 227.5px,#75ff6b 228.5px,#a4ff62 229.5px,#d0ff60 230.5px,#fced93 231.5px,#fedb9b 232.5px,#ffcfa0 233.5px,#ffcba0 235.5px,#ffc7a0 274.5px,#ffb2a0 286.5px,#ffaea2 287.5px,#ffa9aa 288.5px,#ffacb1 290.5px,#ffb2be 292.5px,#ffc4e3 295.5px,#ffc8ec 296.5px,#ffcbf1 298.5px,#ffcbf1 685.5px)"></i><i style="background:linear-gradient(90deg,#6b7aff 0,#6b7dff 46.5px,#6a9cff 102.5px,#6a99ff 110.5px,#69aaff 140.5px,#67c7ff 159.5px,#66dfff 164.5px,#66f5ff 170.5px,#66fee9 174.5px,#66ffb6 178.5px,#66ffad 179.5px,#66ffa9 180.5px,#66ffa2 225.5px,#66ffa0 226.5px,#67ff94 227.5px,#69ff75 228.5px,#8fff66 229.5px,#bdff60 230.5px,#ebf878 231.5px,#fde297 232.5px,#ffd49e 233.5px,#ffcda0 234.5px,#ffcba0 236.5px,#ffc7a0 275.5px,#ffb2a0 287.5px,#ffa9aa 289.5px,#ffacb2 291.5px,#ffb2bf 293.5px,#ffc4e4 296.5px,#ffc8ec 297.5px,#ffcbf1 299.5px,#ffcbf1 685.5px)"></i><i style="background:linear-gradient(90deg,#6b7aff 0,#6b7dff 46.5px,#6a9bff 101.5px,#6a98ff 110.5px,#69aaff 140.5px,#67c7ff 159.5px,#66dfff 164.5px,#66f5ff 170.5px,#66feea 174.5px,#66ffb6 178.5px,#66ffad 179.5px,#66ffa9 180.5px,#66ffa2 225.5px,#66ffa1 226.5px,#67ff9b 227.5px,#68ff85 228.5px,#7aff6a 229.5px,#a9ff62 230.5px,#d4ff5f 231.5px,#fdea94 232.5px,#fed99c 233.5px,#ffcfa0 234.5px,#ffcba0 236.5px,#ffc7a0 276.5px,#ffb2a0 288.5px,#ffa9aa 290.5px,#ffacb2 292.5px,#ffb3c0 294.5px,#ffc5e5 297.5px,#ffc9ec 298.5px,#ffcbf1 300.5px,#ffcbf1 685.5px)"></i><i style="background:linear-gradient(90deg,#6b7aff 0,#6b7eff 47.5px,#6a9bff 101.5px,#6a98ff 109.5px,#69aaff 140.5px,#67c6ff 159.5px,#66dfff 164.5px,#66f5ff 170.5px,#66feea 174.5px,#66ffb6 178.5px,#66ffad 179.5px,#66ffa9 180.5px,#66ffa2 226.5px,#66ff9f 227.5px,#67ff92 228.5px,#6aff71 229.5px,#94ff65 230.5px,#c2ff60 231.5px,#f1f581 232.5px,#fde098 233.5px,#ffd29f 234.5px,#ffcba0 236.5px,#ffc6a0 277.5px,#ffb2a0 289.5px,#ffa9ab 291.5px,#ffadb2 293.5px,#ffb3c1 295.5px,#ffc5e5 298.5px,#ffc9ed 299.5px,#ffcbf1 301.5px,#ffcbf1 685.5px)"></i><i style="background:linear-gradient(90deg,#6b7aff 0,#6b7eff 47.5px,#6a9aff 100.5px,#6a98ff 109.5px,#69aaff 140.5px,#67c6ff 159.5px,#66deff 164.5px,#66f5ff 170.5px,#66feea 174.5px,#66ffb7 178.5px,#66ffad 179.5px,#66ffa9 180.5px,#66ffa2 226.5px,#66ffa1 227.5px,#67ff99 228.5px,#68ff82 229.5px,#7fff69 230.5px,#aeff61 231.5px,#d8fe61 232.5px,#fde895 233.5px,#fed89c 234.5px,#ffcea0 235.5px,#ffcba0 237.5px,#ffc6a0 278.5px,#ffb2a0 290.5px,#ffa9ab 292.5px,#ffadb3 294.5px,#ffb3c1 296.5px,#ffc5e6 299.5px,#ffc9ed 300.5px,#ffcbf1 302.5px,#ffcbf1 685.5px)"></i><i style="background:linear-gradient(90deg,#6b7aff 0,#6b7eff 47.5px,#6a9aff 99.5px,#6a97ff 108.5px,#69a9ff 140.5px,#67c6ff 159.5px,#66deff 164.5px,#66f4ff 170.5px,#66feeb 174.5px,#66ffb7 178.5px,#66ffad 179.5px,#66ffa9 180.5px,#66ffa2 227.5px,#66ff9f 228.5px,#67ff8f 229.5px,#6cff6e 230.5px,#99ff63 231.5px,#c7ff60 232.5px,#f7f289 233.5px,#fede99 234.5px,#ffd19f 235.5px,#ffcba0 237.5px,#ffc6a0 279.5px,#ffb1a0 291.5px,#ffaba6 292.5px,#ffa9ab 293.5px,#ffadb3 295.5px,#ffb4c2 297.5px,#ffc6e6 300.5px,#ffc9ed 301.5px,#ffcbf1 303.5px,#ffcbf1 685.5px)"></i><i style="background:linear-gradient(90deg,#6b7aff 0,#6b7dff 47.5px,#6a9aff 99.5px,#6a97ff 107.5px,#69a9ff 140.5px,#67c6ff 159.5px,#66e2ff 165.5px,#66f4ff 170.5px,#66feeb 174.5px,#66ffb8 178.5px,#66ffae 179.5px,#66ffa9 180.5px,#66ffa2 227.5px,#66ffa1 228.5px,#67ff98 229.5px,#68ff7e 230.5px,#84ff68 231.5px,#b3ff61 232.5px,#ddfd66 233.5px,#fde696 234.5px,#fed69d 235.5px,#ffcea0 236.5px,#ffcba0 238.5px,#ffc6a0 280.5px,#ffb1a0 292.5px,#ffaaa6 293.5px,#ffadb3 296.5px,#ffb4c3 298.5px,#ffc6e7 301.5px,#ffc9ee 302.5px,#ffcbf1 304.5px,#ffcbf1 685.5px)"></i><i style="background:linear-gradient(90deg,#6b7aff 0,#6b7dff 47.5px,#6a99ff 98.5px,#6a97ff 107.5px,#69a9ff 140.5px,#67c6ff 159.5px,#66e2ff 165.5px,#66f4ff 170.5px,#66feeb 174.5px,#66ffb8 178.5px,#66ffae 179.5px,#66ffa9 180.5px,#66ffa3 227.5px,#67ff9e 229.5px,#67ff8c 230.5px,#70ff6d 231.5px,#9eff63 232.5px,#cbff60 233.5px,#faef8f 234.5px,#fedd9a 235.5px,#ffd0a0 236.5px,#ffcba0 238.5px,#ffc7a0 280.5px,#ffb1a0 293.5px,#ffaaa7 294.5px,#ffadb4 297.5px,#ffb4c4 299.5px,#ffc6e8 302.5px,#ffc9ee 303.5px,#ffcbf1 305.5px,#ffcbf1 685.5px)"></i><i style="background:linear-gradient(90deg,#6b7aff 0,#6b7dff 47.5px,#6a99ff 98.5px,#6a96ff 106.5px,#69a9ff 140.5px,#67c6ff 159.5px,#66e2ff 165.5px,#66f4ff 170.5px,#66fdec 174.5px,#66ffb9 178.5px,#66ffae 179.5px,#66ffa9 180.5px,#66ffa2 228.5px,#66ffa0 229.5px,#67ff96 230.5px,#68ff79 231.5px,#89ff67 232.5px,#b8ff61 233.5px,#e3fb6c 234.5px,#fde496 235.5px,#ffd59e 236.5px,#ffcda0 237.5px,#ffcba0 239.5px,#ffc7a0 281.5px,#ffb1a0 294.5px,#ffa9a8 295.5px,#ffadb4 298.5px,#ffb5c4 300.5px,#ffc7e8 303.5px,#ffcaee 304.5px,#ffcbf1 306.5px,#ffcbf1 685.5px)"></i><i style="background:linear-gradient(90deg,#6b7aff 0,#6b7eff 48.5px,#6a98ff 97.5px,#6a96ff 106.5px,#69a9ff 140.5px,#67c6ff 159.5px,#66e2ff 165.5px,#66f4ff 170.5px,#66fdec 174.5px,#66ffb9 178.5px,#66ffaf 179.5px,#66ffa9 180.5px,#66ffa2 228.5px,#67ff9d 230.5px,#68ff89 231.5px,#74ff6c 232.5px,#a3ff62 233.5px,#cfff60 234.5px,#fced92 235.5px,#fedb9b 236.5px,#ffcfa0 237.5px,#ffcba0 239.5px,#ffc7a0 282.5px,#ffb1a0 295.5px,#ffa9a8 296.5px,#ffb0bb 300.5px,#ffc7e9 304.5px,#ffcaee 305.5px,#ffcbf1 307.5px,#ffcbf1 685.5px)"></i><i style="background:linear-gradient(90deg,#6b7aff 0,#6b7eff 48.5px,#6a98ff 97.5px,#6a96ff 106.5px,#69a9ff 140.5px,#67c6ff 159.5px,#66e2ff 165.5px,#66f4ff 170.5px,#66fdec 174.5px,#66ffba 178.5px,#6fa 180.5px,#66ffa2 229.5px,#66ffa0 230.5px,#67ff94 231.5px,#69ff75 232.5px,#8eff66 233.5px,#bdff61 234.5px,#eaf877 235.5px,#fde297 236.5px,#ffd49e 237.5px,#ffcda0 238.5px,#ffcba0 240.5px,#ffc6a0 283.5px,#ffb1a0 296.5px,#ffa9a8 297.5px,#ffb1bb 301.5px,#ffc7e9 305.5px,#ffcaef 306.5px,#ffcbf1 308.5px,#ffcbf1 685.5px)"></i><i style="background:linear-gradient(90deg,#6b7aff 0,#6b7eff 48.5px,#6a98ff 96.5px,#6a95ff 105.5px,#69a9ff 140.5px,#67c6ff 159.5px,#67ccff 161.5px,#66e2ff 165.5px,#66f4ff 170.5px,#66fdec 174.5px,#66ffe2 175.5px,#66ffba 178.5px,#6fa 180.5px,#66ffa2 229.5px,#66ffa1 230.5px,#67ff9b 231.5px,#68ff86 232.5px,#79ff6a 233.5px,#a8ff62 234.5px,#d3ff5f 235.5px,#fdeb94 236.5px,#fed99c 237.5px,#ffcfa0 238.5px,#ffcba0 240.5px,#ffc6a0 284.5px,#ffb1a0 297.5px,#ffa9a9 298.5px,#ffb1bb 302.5px,#ffc7e9 306.5px,#ffcaef 307.5px,#ffcbf1 309.5px,#ffcbf1 685.5px)"></i><i style="background:linear-gradient(90deg,#6b7aff 0,#6b7eff 48.5px,#6a98ff 96.5px,#6a95ff 105.5px,#69a9ff 140.5px,#67c6ff 159.5px,#67ccff 161.5px,#66e2ff 165.5px,#66f4ff 170.5px,#66fded 174.5px,#66ffb0 179.5px,#66ffa8 181.5px,#66ffa2 230.5px,#66ff9f 231.5px,#67ff92 232.5px,#6aff71 233.5px,#93ff65 234.5px,#c2ff60 235.5px,#f1f580 236.5px,#fde098 237.5px,#ffd39f 238.5px,#ffcba0 240.5px,#ffc6a0 285.5px,#ffb0a0 298.5px,#ffa8a9 299.5px,#ffb1bb 303.5px,#ffc7e9 307.5px,#ffcaef 308.5px,#ffcbf1 310.5px,#ffcbf1 685.5px)"></i><i style="background:linear-gradient(90deg,#6b7aff 0,#6b7dff 48.5px,#6a97ff 95.5px,#6a95ff 104.5px,#69a9ff 140.5px,#67c6ff 159.5px,#67ccff 161.5px,#66e1ff 165.5px,#66f3ff 170.5px,#66fded 174.5px,#66ffb0 179.5px,#66ffa8 181.5px,#66ffa2 230.5px,#66ffa1 231.5px,#67ff9a 232.5px,#68ff82 233.5px,#7eff69 234.5px,#adff61 235.5px,#d8ff60 236.5px,#fde994 237.5px,#fed89c 238.5px,#ffcea0 239.5px,#ffcba0 241.5px,#ffc7a0 285.5px,#ffb0a0 299.5px,#ffa8a9 300.5px,#ffaeb5 303.5px,#ffb1bc 304.5px,#ffc7ea 308.5px,#ffcbf1 310.5px,#ffcbf1 685.5px)"></i><i style="background:linear-gradient(90deg,#6b7aff 0,#6b7dff 48.5px,#6a97ff 95.5px,#6a94ff 103.5px,#69a9ff 140.5px,#67c8ff 160.5px,#66e1ff 165.5px,#66f3ff 170.5px,#66fded 174.5px,#66ffe4 175.5px,#66ffb1 179.5px,#66ffa8 181.5px,#66ffa2 231.5px,#66ff9f 232.5px,#67ff8f 233.5px,#6cff6f 234.5px,#99ff64 235.5px,#c6ff60 236.5px,#f6f289 237.5px,#fedf99 238.5px,#ffd19f 239.5px,#ffcba0 241.5px,#ffc6a0 287.5px,#ffb0a1 300.5px,#ffa8a9 301.5px,#ffaeb5 304.5px,#ffb1bc 305.5px,#ffc7ea 309.5px,#ffcbf1 311.5px,#ffcbf1 685.5px)"></i><i style="background:linear-gradient(90deg,#6b7aff 0,#6b7eff 49.5px,#6a96ff 94.5px,#6a94ff 103.5px,#69a9ff 140.5px,#67c8ff 160.5px,#66e1ff 165.5px,#66f3ff 170.5px,#66fded 174.5px,#66ffe4 175.5px,#66ffb1 179.5px,#66ffa8 181.5px,#66ffa2 231.5px,#66ffa1 232.5px,#67ff98 233.5px,#68ff7e 234.5px,#83ff68 235.5px,#b2ff61 236.5px,#ddfd65 237.5px,#fde695 238.5px,#fed79d 239.5px,#ffcea0 240.5px,#ffcba0 242.5px,#ffc6a0 288.5px,#ffb0a1 301.5px,#ffa9a9 302.5px,#ffaeb5 305.5px,#ffb1bc 306.5px,#ffc7ea 310.5px,#ffcbf1 312.5px,#ffcbf1 685.5px)"></i><i style="background:linear-gradient(90deg,#6b7aff 0,#6b7eff 49.5px,#6a96ff 93.5px,#6a93ff 102.5px,#69a9ff 140.5px,#67c8ff 160.5px,#66e1ff 165.5px,#66f3ff 170.5px,#66fdee 174.5px,#66ffe4 175.5px,#66ffb1 179.5px,#66ffa8 181.5px,#66ffa2 231.5px,#67ff9e 233.5px,#67ff8d 234.5px,#6fff6d 235.5px,#9eff63 236.5px,#cbff60 237.5px,#faf08e 238.5px,#fedd9a 239.5px,#ffd0a0 240.5px,#ffcba0 242.5px,#ffc7a0 288.5px,#ffafa1 302.5px,#ffa9a9 303.5px,#ffaeb5 306.5px,#ffb1bd 307.5px,#ffc7ea 311.5px,#ffcbf1 313.5px,#ffcbf1 685.5px)"></i><i style="background:linear-gradient(90deg,#6b7aff 0,#6b7eff 49.5px,#6a96ff 93.5px,#6a93ff 102.5px,#69a9ff 140.5px,#67c8ff 160.5px,#66e1ff 165.5px,#66f3ff 170.5px,#66fcee 174.5px,#66ffe5 175.5px,#66ffb2 179.5px,#66ffa8 181.5px,#66ffa2 232.5px,#66ffa0 233.5px,#67ff96 234.5px,#68ff7a 235.5px,#89ff67 236.5px,#b7ff61 237.5px,#e2fb6b 238.5px,#fde596 239.5px,#ffd59e 240.5px,#ffcda0 241.5px,#ffcba0 243.5px,#ffc7a0 289.5px,#ffb2a0 302.5px,#ffafa1 303.5px,#ffa9a9 304.5px,#ffacb1 306.5px,#ffb1bd 308.5px,#ffc8ea 312.5px,#ffcbf1 314.5px,#ffcbf1 685.5px)"></i><i style="background:linear-gradient(90deg,#6b7aff 0,#6b7eff 49.5px,#6a95ff 92.5px,#6a93ff 101.5px,#69a9ff 140.5px,#67c8ff 160.5px,#66e1ff 165.5px,#66f3ff 170.5px,#66f6fd 171.5px,#66fcee 174.5px,#66ffe5 175.5px,#66ffb2 179.5px,#66ffa8 181.5px,#66ffa2 232.5px,#67ff9d 234.5px,#68ff8a 235.5px,#74ff6c 236.5px,#a3ff62 237.5px,#cfff60 238.5px,#fced92 239.5px,#fedb9b 240.5px,#ffcfa0 241.5px,#ffcba0 243.5px,#ffc7a0 290.5px,#ffb2a0 303.5px,#ffafa2 304.5px,#ffa9a9 305.5px,#ffacb1 307.5px,#ffb2bd 309.5px,#ffc8eb 313.5px,#ffcbf1 315.5px,#ffcbf1 685.5px)"></i><i style="background:linear-gradient(90deg,#6b7aff 0,#6b7dff 49.5px,#6a95ff 92.5px,#6a92ff 100.5px,#69a9ff 140.5px,#67c8ff 160.5px,#66e1ff 165.5px,#66f3ff 170.5px,#66f6fe 171.5px,#66fcee 174.5px,#66ffe6 175.5px,#66ffb2 179.5px,#66ffa8 181.5px,#66ffa2 233.5px,#66ffa0 234.5px,#67ff94 235.5px,#69ff75 236.5px,#8eff66 237.5px,#bcff61 238.5px,#e9f876 239.5px,#fde397 240.5px,#ffd49e 241.5px,#ffcda0 242.5px,#ffcba0 244.5px,#ffc6a0 291.5px,#ffb2a0 304.5px,#ffafa2 305.5px,#ffa9aa 306.5px,#ffacb1 308.5px,#ffb2bd 310.5px,#ffc8eb 314.5px,#ffcbf1 316.5px,#ffcbf1 685.5px)"></i><i style="background:linear-gradient(90deg,#6b7aff 0,#6b7dff 49.5px,#6a94ff 91.5px,#6a92ff 100.5px,#69a9ff 140.5px,#67c7ff 160.5px,#66e1ff 165.5px,#66f3ff 170.5px,#66f6fe 171.5px,#66fcef 174.5px,#66ffe6 175.5px,#66ffb3 179.5px,#66ffa8 181.5px,#66ffa2 233.5px,#67ff9b 235.5px,#68ff86 236.5px,#79ff6b 237.5px,#a8ff62 238.5px,#d3ff5f 239.5px,#fceb93 240.5px,#feda9b 241.5px,#ffcfa0 242.5px,#ffcba0 244.5px,#ffc6a0 292.5px,#ffb2a0 305.5px,#ffaea2 306.5px,#ffa9aa 307.5px,#ffacb1 309.5px,#ffb2be 311.5px,#ffc8eb 315.5px,#ffcbf1 317.5px,#ffcbf1 685.5px)"></i><i style="background:linear-gradient(90deg,#6b7aff 0,#6b7eff 50.5px,#6a94ff 90.5px,#6a91ff 99.5px,#69a9ff 140.5px,#67c7ff 160.5px,#66e0ff 165.5px,#66f2ff 170.5px,#66f5fe 171.5px,#66fcef 174.5px,#66ffe7 175.5px,#66ffb3 179.5px,#66ffa8 181.5px,#66ffa2 234.5px,#66ff9f 235.5px,#67ff92 236.5px,#69ff72 237.5px,#93ff65 238.5px,#c1ff60 239.5px,#f0f57f 240.5px,#fde198 241.5px,#ffd39f 242.5px,#ffcda0 243.5px,#ffcba0 245.5px,#ffc6a0 293.5px,#ffb2a0 306.5px,#ffaea2 307.5px,#ffa9aa 308.5px,#ffacb1 310.5px,#ffb2be 312.5px,#ffc4e3 315.5px,#ffc8eb 316.5px,#ffcbf1 318.5px,#ffcbf1 685.5px)"></i><i style="background:linear-gradient(90deg,#6b7aff 0,#6b7eff 50.5px,#6a94ff 90.5px,#6a91ff 99.5px,#69a9ff 140.5px,#67c7ff 160.5px,#66e0ff 165.5px,#66f2ff 170.5px,#66f5fe 171.5px,#66fcef 174.5px,#66ffe7 175.5px,#66ffb3 179.5px,#66ffa8 181.5px,#66ffa2 234.5px,#66ffa1 235.5px,#67ff9a 236.5px,#68ff82 237.5px,#7eff69 238.5px,#adff61 239.5px,#d7ff60 240.5px,#fde994 241.5px,#fed89c 242.5px,#ffcea0 243.5px,#ffcba0 245.5px,#ffc7a0 293.5px,#ffb2a0 307.5px,#ffa9aa 309.5px,#ffacb1 311.5px,#ffb2be 313.5px,#ffc4e3 316.5px,#ffc8eb 317.5px,#ffcbf1 319.5px,#ffcbf1 685.5px)"></i><i style="background:linear-gradient(90deg,#6b7aff 0,#6b7eff 50.5px,#6a93ff 89.5px,#6a91ff 98.5px,#69aaff 141.5px,#67c7ff 160.5px,#66e0ff 165.5px,#66f5fe 171.5px,#66ffe7 175.5px,#66ffb4 179.5px,#66ffa8 181.5px,#66ffa2 235.5px,#66ff9f 236.5px,#67ff90 237.5px,#6cff6f 238.5px,#98ff64 239.5px,#c6ff60 240.5px,#f6f288 241.5px,#fedf99 242.5px,#ffd19f 243.5px,#ffcba0 245.5px,#ffc7a0 294.5px,#ffb2a0 308.5px,#ffa9aa 310.5px,#ffacb1 312.5px,#ffb2bf 314.5px,#ffc4e3 317.5px,#ffc8ec 318.5px,#ffcbf1 320.5px,#ffcbf1 685.5px)"></i><i style="background:linear-gradient(90deg,#6b7aff 0,#6b7eff 50.5px,#6a93ff 89.5px,#6a91ff 98.5px,#69aaff 141.5px,#67c7ff 160.5px,#66e0ff 165.5px,#66f5ff 171.5px,#66ffe8 175.5px,#66ffb4 179.5px,#66ffa9 181.5px,#66ffa2 235.5px,#66ffa1 236.5px,#67ff98 237.5px,#68ff7e 238.5px,#83ff68 239.5px,#b2ff61 240.5px,#dcfd65 241.5px,#fde795 242.5px,#fed79d 243.5px,#ffcea0 244.5px,#ffcba0 246.5px,#ffc7a0 295.5px,#ffb2a0 309.5px,#ffa9aa 311.5px,#ffacb2 313.5px,#ffb2bf 315.5px,#ffc4e4 318.5px,#ffc8ec 319.5px,#ffcbf1 321.5px,#ffcbf1 685.5px)"></i><i style="background:linear-gradient(90deg,#6b7aff 0,#6b7dff 50.5px,#6a92ff 88.5px,#6a90ff 97.5px,#69aaff 141.5px,#67c7ff 160.5px,#66e0ff 165.5px,#66f5ff 171.5px,#66ffe8 175.5px,#66ffb5 179.5px,#66ffa9 181.5px,#66ffa2 235.5px,#67ff9e 237.5px,#67ff8d 238.5px,#6fff6d 239.5px,#9dff63 240.5px,#caff60 241.5px,#f9f08e 242.5px,#fedd9a 243.5px,#ffd0a0 244.5px,#ffcba0 246.5px,#ffc7a0 296.5px,#ffb2a0 310.5px,#ffa9aa 312.5px,#ffacb2 314.5px,#ffb2bf 316.5px,#ffc4e4 319.5px,#ffc8ec 320.5px,#ffcbf1 322.5px,#ffcbf1 685.5px)"></i><i style="background:linear-gradient(90deg,#6b7aff 0,#6b7dff 50.5px,#6a92ff 87.5px,#6a8fff 96.5px,#69aaff 141.5px,#67c7ff 160.5px,#66e0ff 165.5px,#66f5ff 171.5px,#66ffe9 175.5px,#66ffb5 179.5px,#66ffa9 181.5px,#66ffa2 236.5px,#66ffa0 237.5px,#67ff96 238.5px,#68ff7a 239.5px,#88ff67 240.5px,#b7ff61 241.5px,#e2fc6a 242.5px,#fde596 243.5px,#fed59d 244.5px,#ffcda0 245.5px,#ffcba0 247.5px,#ffc7a0 297.5px,#ffb2a0 311.5px,#ffa9aa 313.5px,#ffacb2 315.5px,#ffb3bf 317.5px,#ffc4e4 320.5px,#ffc9ec 321.5px,#ffcbf1 323.5px,#ffcbf1 685.5px)"></i><i style="background:linear-gradient(90deg,#6b7aff 0,#6b7dff 50.5px,#6a92ff 87.5px,#6a8fff 96.5px,#69aaff 141.5px,#67c7ff 160.5px,#66dfff 165.5px,#66f5ff 171.5px,#66ffe9 175.5px,#66ffb5 179.5px,#66ffa9 181.5px,#66ffa2 236.5px,#67ff9d 238.5px,#68ff8a 239.5px,#73ff6c 240.5px,#a2ff62 241.5px,#cfff60 242.5px,#fced92 243.5px,#fedb9b 244.5px,#ffd0a0 245.5px,#ffcba0 247.5px,#ffc7a0 298.5px,#ffb2a0 312.5px,#ffa9aa 314.5px,#ffacb2 316.5px,#ffb3c0 318.5px,#ffc5e5 321.5px,#ffc9ec 322.5px,#ffcbf1 324.5px,#ffcbf1 685.5px)"></i><i style="background:linear-gradient(90deg,#6b7aff 0,#6b7eff 51.5px,#6a91ff 86.5px,#6a8fff 95.5px,#69aaff 141.5px,#67c7ff 160.5px,#66dfff 165.5px,#66f5ff 171.5px,#66fee9 175.5px,#66ffb6 179.5px,#66ffac 180.5px,#66ffa9 181.5px,#66ffa2 237.5px,#66ffa0 238.5px,#67ff94 239.5px,#69ff76 240.5px,#8dff66 241.5px,#bcff61 242.5px,#e9f975 243.5px,#fde397 244.5px,#ffd49e 245.5px,#ffcda0 246.5px,#ffcba0 248.5px,#ffc6a0 299.5px,#ffb2a0 313.5px,#ffa9aa 315.5px,#ffadb2 317.5px,#ffb3c0 319.5px,#ffc5e5 322.5px,#ffc9ed 323.5px,#ffcbf1 325.5px,#ffcbf1 685.5px)"></i><i style="background:linear-gradient(90deg,#6b7aff 0,#6b7eff 51.5px,#6a91ff 86.5px,#6a8fff 95.5px,#69aaff 141.5px,#67c7ff 160.5px,#66dfff 165.5px,#66f5ff 171.5px,#66feea 175.5px,#66ffb6 179.5px,#66ffad 180.5px,#66ffa9 181.5px,#66ffa2 237.5px,#67ff9b 239.5px,#68ff87 240.5px,#78ff6b 241.5px,#a7ff62 242.5px,#d3ff5f 243.5px,#fceb93 244.5px,#feda9b 245.5px,#ffcfa0 246.5px,#ffcba0 248.5px,#ffc6a0 300.5px,#ffb1a0 314.5px,#ffa9ab 316.5px,#ffadb2 318.5px,#ffb3c0 320.5px,#ffc5e5 323.5px,#ffc9ed 324.5px,#ffcbf1 326.5px,#ffcbf1 685.5px)"></i><i style="background:linear-gradient(90deg,#6b7aff 0,#6b7eff 51.5px,#6a90ff 85.5px,#6a8eff 94.5px,#69aaff 141.5px,#67c6ff 160.5px,#66dfff 165.5px,#66f5ff 171.5px,#66feea 175.5px,#66ffb6 179.5px,#66ffad 180.5px,#66ffa9 181.5px,#66ffa2 238.5px,#66ff9f 239.5px,#67ff92 240.5px,#69ff72 241.5px,#92ff65 242.5px,#c1ff60 243.5px,#eff67e 244.5px,#fde198 245.5px,#ffd39f 246.5px,#ffcda0 247.5px,#ffc7a0 300.5px,#ffb1a0 315.5px,#ffa9ab 317.5px,#ffadb2 319.5px,#ffb3c1 321.5px,#ffc5e5 324.5px,#ffc9ed 325.5px,#ffcbf1 327.5px,#ffcbf1 685.5px)"></i><i style="background:linear-gradient(90deg,#6b7aff 0,#6b7dff 51.5px,#6a90ff 85.5px,#6a8dff 93.5px,#69a9ff 141.5px,#67c6ff 160.5px,#66dfff 165.5px,#66f5ff 171.5px,#66feea 175.5px,#66ffb7 179.5px,#66ffad 180.5px,#66ffa9 181.5px,#66ffa2 238.5px,#66ffa1 239.5px,#67ff9a 240.5px,#68ff83 241.5px,#7dff6a 242.5px,#acff61 243.5px,#d6ff5f 244.5px,#fde994 245.5px,#fed89c 246.5px,#ffcea0 247.5px,#ffcba0 249.5px,#ffc7a0 301.5px,#ffb1a0 316.5px,#ffa9ab 318.5px,#ffadb2 320.5px,#ffb3c1 322.5px,#ffc5e6 325.5px,#ffc9ed 326.5px,#ffcbf1 328.5px,#ffcbf1 685.5px)"></i><i style="background:linear-gradient(90deg,#6b7aff 0,#6b7dff 51.5px,#6a90ff 84.5px,#6a8dff 93.5px,#69a9ff 141.5px,#67c6ff 160.5px,#66deff 165.5px,#66f4ff 171.5px,#66feeb 175.5px,#66ffb7 179.5px,#66ffad 180.5px,#66ffa9 181.5px,#66ffa2 239.5px,#66ff9f 240.5px,#67ff90 241.5px,#6cff6f 242.5px,#98ff64 243.5px,#c5ff60 244.5px,#f6f388 245.5px,#fedf99 246.5px,#ffd29f 247.5px,#ffcca0 248.5px,#ffcba0 250.5px,#ffc7a0 302.5px,#ffb1a0 317.5px,#ffa9ab 319.5px,#ffadb3 321.5px,#ffb3c2 323.5px,#ffc5e6 326.5px,#ffc9ed 327.5px,#ffcbf1 329.5px,#ffcbf1 685.5px)"></i><i style="background:linear-gradient(90deg,#6b7aff 0,#6b7dff 51.5px,#6a8fff 83.5px,#6a8dff 92.5px,#69a9ff 141.5px,#67c6ff 160.5px,#66e2ff 166.5px,#66f4ff 171.5px,#66feeb 175.5px,#66ffb8 179.5px,#66ffae 180.5px,#66ffa9 181.5px,#66ffa2 239.5px,#66ffa1 240.5px,#67ff98 241.5px,#68ff7f 242.5px,#82ff68 243.5px,#b1ff61 244.5px,#dcfd64 245.5px,#fde795 246.5px,#fed79d 247.5px,#ffcea0 248.5px,#ffcba0 250.5px,#ffc7a0 303.5px,#ffb1a0 318.5px,#ffa9ab 320.5px,#ffadb3 322.5px,#ffb4c2 324.5px,#ffc5e6 327.5px,#ffc9ed 328.5px,#ffcbf1 330.5px,#ffcbf1 685.5px)"></i><i style="background:linear-gradient(90deg,#6b7aff 0,#6b7eff 52.5px,#6a8fff 83.5px,#6a8dff 92.5px,#69a9ff 141.5px,#67c6ff 160.5px,#66e2ff 166.5px,#66f4ff 171.5px,#66feeb 175.5px,#66ffb8 179.5px,#66ffae 180.5px,#66ffa9 181.5px,#66ffa2 239.5px,#67ff9e 241.5px,#67ff8d 242.5px,#6eff6d 243.5px,#9dff63 244.5px,#caff60 245.5px,#f9f08d 246.5px,#fedd9a 247.5px,#ffd1a0 248.5px,#ffcba0 250.5px,#ffc7a0 304.5px,#ffb1a0 319.5px,#ffaaa6 320.5px,#ffa9ab 321.5px,#ffadb3 323.5px,#ffb4c2 325.5px,#ffc6e6 328.5px,#ffc9ed 329.5px,#ffcbf1 331.5px,#ffcbf1 685.5px)"></i><i style="background:linear-gradient(90deg,#6b7aff 0,#6b7eff 52.5px,#6a8eff 82.5px,#6b8cff 91.5px,#69a9ff 141.5px,#67c6ff 160.5px,#66e2ff 166.5px,#66f4ff 171.5px,#66fdec 175.5px,#66ffb9 179.5px,#66ffae 180.5px,#66ffa9 181.5px,#66ffa2 240.5px,#66ffa0 241.5px,#67ff96 242.5px,#68ff7b 243.5px,#88ff67 244.5px,#b6ff61 245.5px,#e1fc69 246.5px,#fde596 247.5px,#fed69d 248.5px,#ffcda0 249.5px,#ffcba0 251.5px,#ffc7a0 305.5px,#ffb1a0 320.5px,#ffaaa6 321.5px,#ffadb3 324.5px,#ffb4c3 326.5px,#ffc6e7 329.5px,#ffc9ed 330.5px,#ffcbf1 332.5px,#ffcbf1 685.5px)"></i><i style="background:linear-gradient(90deg,#6b7aff 0,#6b7eff 52.5px,#6a8eff 82.5px,#6b8bff 90.5px,#69a9ff 141.5px,#67c6ff 160.5px,#66e2ff 166.5px,#66f4ff 171.5px,#66fdec 175.5px,#66ffb9 179.5px,#66ffaf 180.5px,#66ffa9 181.5px,#66ffa2 240.5px,#67ff9d 242.5px,#68ff8a 243.5px,#73ff6c 244.5px,#a2ff62 245.5px,#ceff60 246.5px,#fcee92 247.5px,#fedc9b 248.5px,#ffd0a0 249.5px,#ffcba0 251.5px,#ffc7a0 306.5px,#ffb1a0 321.5px,#ffaaa6 322.5px,#ffadb3 325.5px,#ffb4c3 327.5px,#ffc6e7 330.5px,#ffc9ee 331.5px,#ffcbf1 333.5px,#ffcbf1 685.5px)"></i><i style="background:linear-gradient(90deg,#6b7aff 0,#6b7dff 52.5px,#6a8eff 81.5px,#6b8bff 90.5px,#69a9ff 141.5px,#67c6ff 160.5px,#66e2ff 166.5px,#66f4ff 171.5px,#66fdec 175.5px,#66ffaf 180.5px,#66ffa8 182.5px,#66ffa2 241.5px,#66ffa0 242.5px,#67ff94 243.5px,#69ff76 244.5px,#8dff66 245.5px,#bbff61 246.5px,#e8f974 247.5px,#fde397 248.5px,#ffd49e 249.5px,#ffcda0 250.5px,#ffcba0 252.5px,#ffc7a0 307.5px,#ffb1a0 322.5px,#ffaaa7 323.5px,#ffadb3 326.5px,#ffb4c3 328.5px,#ffc6e7 331.5px,#ffc9ee 332.5px,#ffcbf1 334.5px,#ffcbf1 685.5px)"></i><i style="background:linear-gradient(90deg,#6b7aff 0,#6b7dff 52.5px,#6a8dff 80.5px,#6b8bff 89.5px,#69a9ff 141.5px,#67c6ff 160.5px,#67ccff 162.5px,#66e2ff 166.5px,#66f4ff 171.5px,#66fdec 175.5px,#66ffaf 180.5px,#66ffa8 182.5px,#66ffa2 241.5px,#67ff9c 243.5px,#68ff87 244.5px,#78ff6b 245.5px,#a7ff62 246.5px,#d2ff5f 247.5px,#fceb93 248.5px,#feda9b 249.5px,#ffcfa0 250.5px,#ffcba0 252.5px,#ffc6a0 308.5px,#ffb1a0 323.5px,#ffaaa7 324.5px,#ffadb3 327.5px,#ffb4c4 329.5px,#ffc6e8 332.5px,#ffc9ee 333.5px,#ffcbf1 335.5px,#ffcbf1 685.5px)"></i><i style="background:linear-gradient(90deg,#6b7aff 0,#6b7dff 52.5px,#6a8dff 80.5px,#6b8bff 89.5px,#69a9ff 141.5px,#67c6ff 160.5px,#67ccff 162.5px,#66e2ff 166.5px,#66f4ff 171.5px,#66fded 175.5px,#66ffb0 180.5px,#66ffa8 182.5px,#66ffa2 242.5px,#66ffa0 243.5px,#67ff92 244.5px,#69ff72 245.5px,#92ff65 246.5px,#c0ff60 247.5px,#eff67d 248.5px,#fde198 249.5px,#ffd39f 250.5px,#ffcda0 251.5px,#ffc7a0 308.5px,#ffb1a0 324.5px,#ffa9a7 325.5px,#ffadb4 328.5px,#ffb5c4 330.5px,#ffc6e8 333.5px,#ffc9ee 334.5px,#ffcbf1 336.5px,#ffcbf1 685.5px)"></i><i style="background:linear-gradient(90deg,#6b7aff 0,#6b7eff 53.5px,#6b8cff 79.5px,#6b8aff 88.5px,#69a9ff 141.5px,#67c6ff 160.5px,#67ccff 162.5px,#66e1ff 166.5px,#66f3ff 171.5px,#66fded 175.5px,#66ffb0 180.5px,#66ffa8 182.5px,#66ffa2 242.5px,#66ffa1 243.5px,#67ff9a 244.5px,#68ff83 245.5px,#7dff6a 246.5px,#acff61 247.5px,#d6ff5f 248.5px,#fde994 249.5px,#fed89c 250.5px,#ffcea0 251.5px,#ffcba0 253.5px,#ffc7a0 309.5px,#ffb1a0 325.5px,#ffa9a8 326.5px,#ffadb4 329.5px,#ffb5c4 331.5px,#ffc6e8 334.5px,#ffcaee 335.5px,#ffcbf1 337.5px,#ffcbf1 685.5px)"></i><i style="background:linear-gradient(90deg,#6b7aff 0,#6b7eff 53.5px,#6b8cff 79.5px,#6b89ff 87.5px,#69a9ff 141.5px,#67c8ff 161.5px,#66e1ff 166.5px,#66f3ff 171.5px,#66fded 175.5px,#66ffe4 176.5px,#66ffb0 180.5px,#66ffa8 182.5px,#66ffa2 242.5px,#66ff9f 244.5px,#67ff90 245.5px,#6bff70 246.5px,#97ff64 247.5px,#c5ff60 248.5px,#f5f387 249.5px,#fedf99 250.5px,#ffd29f 251.5px,#ffcca0 252.5px,#ffcba0 254.5px,#ffc7a0 310.5px,#ffb1a0 326.5px,#ffa9a8 327.5px,#ffadb4 330.5px,#ffb5c5 332.5px,#ffc7e8 335.5px,#ffcaee 336.5px,#ffcbf1 338.5px,#ffcbf1 685.5px)"></i><i style="background:linear-gradient(90deg,#6b7aff 0,#6b7eff 53.5px,#6b8cff 78.5px,#6b89ff 87.5px,#69a9ff 141.5px,#67c8ff 161.5px,#66e1ff 166.5px,#66f3ff 171.5px,#66fded 175.5px,#66ffe4 176.5px,#66ffb1 180.5px,#66ffa8 182.5px,#66ffa2 243.5px,#66ffa1 244.5px,#67ff98 245.5px,#68ff7f 246.5px,#82ff69 247.5px,#b1ff61 248.5px,#dbfe64 249.5px,#fde795 250.5px,#fed79d 251.5px,#ffcea0 252.5px,#ffcba0 254.5px,#ffc7a0 311.5px,#ffb1a0 327.5px,#ffa9a8 328.5px,#ffb0bb 332.5px,#ffc7e9 336.5px,#ffcaee 337.5px,#ffcbf1 339.5px,#ffcbf1 685.5px)"></i><i style="background:linear-gradient(90deg,#6b7aff 0,#6b7dff 52.5px,#6b8bff 78.5px,#6b88ff 85.5px,#69a9ff 141.5px,#67c8ff 161.5px,#66e1ff 166.5px,#66f3ff 171.5px,#66fdee 175.5px,#66ffe4 176.5px,#66ffb1 180.5px,#66ffa8 182.5px,#66ffa2 243.5px,#67ff9e 245.5px,#67ff8e 246.5px,#6eff6d 247.5px,#9cff63 248.5px,#c9ff60 249.5px,#f9f08d 250.5px,#fedd9a 251.5px,#ffd1a0 252.5px,#ffcba0 254.5px,#ffc7a0 312.5px,#ffb1a0 328.5px,#ffa9a8 329.5px,#ffb0bb 333.5px,#ffc7e9 337.5px,#ffcaef 338.5px,#ffcbf1 340.5px,#ffcbf1 685.5px)"></i><i style="background:linear-gradient(90deg,#6b7aff 0,#6b7dff 52.5px,#6b8bff 77.5px,#6b88ff 85.5px,#69a9ff 141.5px,#67c8ff 161.5px,#66e1ff 166.5px,#66f3ff 171.5px,#66fcee 175.5px,#66ffe5 176.5px,#66ffb2 180.5px,#66ffa8 182.5px,#66ffa2 244.5px,#66ffa0 245.5px,#67ff97 246.5px,#68ff7b 247.5px,#87ff67 248.5px,#b6ff61 249.5px,#e1fc69 250.5px,#fde596 251.5px,#fed69d 252.5px,#ffcea0 253.5px,#ffcba0 255.5px,#ffc7a0 313.5px,#ffb0a0 329.5px,#ffa8a9 330.5px,#ffb1bb 334.5px,#ffc7e9 338.5px,#ffcaef 339.5px,#ffcbf1 341.5px,#ffcbf1 685.5px)"></i><i style="background:linear-gradient(90deg,#6b7aff 0,#6b7dff 52.5px,#6b8bff 77.5px,#6b88ff 84.5px,#69a9ff 141.5px,#67c8ff 161.5px,#66e1ff 166.5px,#66f3ff 171.5px,#66f6fd 172.5px,#66fcee 175.5px,#66ffe5 176.5px,#66ffb2 180.5px,#66ffa8 182.5px,#66ffa2 244.5px,#67ff9d 246.5px,#68ff8a 247.5px,#73ff6c 248.5px,#a2ff62 249.5px,#ceff60 250.5px,#fcee92 251.5px,#fedc9b 252.5px,#ffd0a0 253.5px,#ffcba0 255.5px,#ffc7a0 314.5px,#ffb0a0 330.5px,#ffa8a9 331.5px,#ffaeb5 334.5px,#ffb1bc 335.5px,#ffc7ea 339.5px,#ffcbf1 341.5px,#ffcbf1 685.5px)"></i><i style="background:linear-gradient(90deg,#6b7aff 0,#6b7dff 52.5px,#6b8aff 76.5px,#6b87ff 83.5px,#69a9ff 141.5px,#67c8ff 161.5px,#66e1ff 166.5px,#66f3ff 171.5px,#66f6fe 172.5px,#66fcee 175.5px,#66ffe6 176.5px,#66ffb2 180.5px,#66ffa8 182.5px,#66ffa2 245.5px,#66ffa0 246.5px,#67ff94 247.5px,#69ff75 248.5px,#8fff66 249.5px,#bdff60 250.5px,#ebf878 251.5px,#fde298 252.5px,#ffd49e 253.5px,#ffcda0 254.5px,#ffcba0 256.5px,#ffc6a0 315.5px,#ffb2a0 330.5px,#ffaea2 331.5px,#ffa9aa 332.5px,#ffacb1 334.5px,#ffb2be 336.5px,#ffc4e4 339.5px,#ffc9ec 340.5px,#ffcbf1 342.5px,#ffcbf1 685.5px)"></i><i style="background:linear-gradient(90deg,#6b7aff 0,#6b7dff 53.5px,#6b89ff 75.5px,#6b87ff 83.5px,#69a9ff 141.5px,#67c7ff 161.5px,#66e1ff 166.5px,#66f3ff 171.5px,#66f6fe 172.5px,#66fcef 175.5px,#66ffe6 176.5px,#66ffb3 180.5px,#66ffa8 182.5px,#66ffa2 245.5px,#66ffa1 246.5px,#67ff9a 247.5px,#68ff83 248.5px,#7dff6a 249.5px,#adff61 250.5px,#d7ff5f 251.5px,#fde994 252.5px,#fed89c 253.5px,#ffcea0 254.5px,#ffcba0 256.5px,#ffc7a0 315.5px,#ffb1a0 331.5px,#ffa9a8 332.5px,#ffadb3 335.5px,#ffb4c4 337.5px,#ffc6e8 340.5px,#ffcaee 341.5px,#ffcbf1 343.5px,#ffcbf1 685.5px)"></i><i style="background:linear-gradient(90deg,#6b7aff 0,#6b7dff 53.5px,#6b89ff 75.5px,#6b86ff 82.5px,#69a9ff 141.5px,#67c7ff 161.5px,#66e0ff 166.5px,#66f2ff 171.5px,#66f5fe 172.5px,#66fcef 175.5px,#66ffe7 176.5px,#66ffb3 180.5px,#66ffa8 182.5px,#66ffa2 245.5px,#66ff9f 247.5px,#67ff8f 248.5px,#6dff6d 249.5px,#9bff63 250.5px,#c9ff60 251.5px,#f9f18d 252.5px,#fedd9a 253.5px,#ffd1a0 254.5px,#ffcba0 256.5px,#ffc7a0 315.5px,#ffafa2 332.5px,#ffa9aa 333.5px,#ffaeb6 336.5px,#ffb2be 337.5px,#ffc4e3 340.5px,#ffc8ec 341.5px,#ffcbf1 343.5px,#ffcbf1 685.5px)"></i><i style="background:linear-gradient(90deg,#6b7aff 0,#6b7dff 53.5px,#6b89ff 74.5px,#6b86ff 82.5px,#69a9ff 141.5px,#67c7ff 161.5px,#66e0ff 166.5px,#66f2ff 171.5px,#66f5fe 172.5px,#66fcef 175.5px,#66ffe7 176.5px,#66ffb3 180.5px,#66ffa8 182.5px,#66ffa2 246.5px,#66ffa0 247.5px,#67ff96 248.5px,#68ff79 249.5px,#8aff67 250.5px,#b9ff61 251.5px,#e4fa6e 252.5px,#fde497 253.5px,#ffd59e 254.5px,#ffcda0 255.5px,#ffcba0 257.5px,#ffc7a0 316.5px,#ffb1a0 332.5px,#ffa9a7 333.5px,#ffadb3 336.5px,#ffb4c3 338.5px,#ffc6e8 341.5px,#ffcaee 342.5px,#ffcbf1 344.5px,#ffcbf1 685.5px)"></i><i style="background:linear-gradient(90deg,#6b7aff 0,#6b7dff 53.5px,#6b88ff 74.5px,#6b85ff 81.5px,#69a9ff 141.5px,#67c7ff 161.5px,#66e0ff 166.5px,#66f2ff 171.5px,#66f5fe 172.5px,#66fcef 175.5px,#66ffe7 176.5px,#66ffb4 180.5px,#66ffa8 182.5px,#66ffa2 246.5px,#67ff9b 248.5px,#68ff86 249.5px,#79ff6b 250.5px,#a8ff62 251.5px,#d3ff5f 252.5px,#fceb93 253.5px,#feda9c 254.5px,#ffcfa0 255.5px,#ffcba0 257.5px,#ffc7a0 316.5px,#ffafa1 333.5px,#ffa9aa 334.5px,#ffaeb6 337.5px,#ffb2bd 338.5px,#ffc8ec 342.5px,#ffcbf1 344.5px,#ffcbf1 685.5px)"></i><i style="background:linear-gradient(90deg,#6b7aff 0,#6b7dff 54.5px,#6b88ff 74.5px,#6b85ff 80.5px,#69a9ff 141.5px,#67c7ff 161.5px,#66e0ff 166.5px,#66f5ff 172.5px,#66ffe8 176.5px,#66ffb4 180.5px,#66ffa9 182.5px,#66ffa2 247.5px,#66ff9f 248.5px,#67ff91 249.5px,#6bff70 250.5px,#97ff64 251.5px,#c5ff60 252.5px,#f5f386 253.5px,#fedf99 254.5px,#ffd29f 255.5px,#ffcca0 256.5px,#ffcba0 258.5px,#ffc7a0 317.5px,#ffb1a0 333.5px,#ffa9a7 334.5px,#ffadb3 337.5px,#ffb4c2 339.5px,#ffc6e7 342.5px,#ffc9ee 343.5px,#ffcbf1 345.5px,#ffcbf1 685.5px)"></i><i style="background:linear-gradient(90deg,#6b7aff 0,#6b7dff 54.5px,#6b88ff 73.5px,#6b85ff 80.5px,#69a9ff 141.5px,#67c7ff 161.5px,#66e0ff 166.5px,#66f5ff 172.5px,#66ffe8 176.5px,#66ffb4 180.5px,#66ffa9 182.5px,#66ffa2 247.5px,#66ffa1 248.5px,#67ff97 249.5px,#68ff7d 250.5px,#85ff68 251.5px,#b4ff61 252.5px,#defd66 253.5px,#fde696 254.5px,#fed69d 255.5px,#ffcea0 256.5px,#ffcba0 258.5px,#ffc7a0 317.5px,#ffafa1 334.5px,#ffa9a9 335.5px,#ffaeb5 338.5px,#ffb1bd 339.5px,#ffc8eb 343.5px,#ffcbf1 345.5px,#ffcbf1 685.5px)"></i><i style="background:linear-gradient(90deg,#6b7aff 0,#6b7dff 54.5px,#6b87ff 72.5px,#6b84ff 79.5px,#69a9ff 141.5px,#67c7ff 161.5px,#66e0ff 166.5px,#66f5ff 172.5px,#66ffe9 176.5px,#66ffb5 180.5px,#66ffa9 182.5px,#66ffa2 247.5px,#67ff9d 249.5px,#68ff8a 250.5px,#74ff6c 251.5px,#a3ff62 252.5px,#cfff60 253.5px,#fced92 254.5px,#fedb9b 255.5px,#ffcfa0 256.5px,#ffcba0 258.5px,#ffc6a0 318.5px,#ffb1a0 334.5px,#ffaaa6 335.5px,#ffadb3 338.5px,#ffb4c2 340.5px,#ffc6e7 343.5px,#ffc9ee 344.5px,#ffcbf1 346.5px,#ffcbf1 685.5px)"></i><i style="background:linear-gradient(90deg,#6b7aff 0,#6b7dff 54.5px,#6b87ff 72.5px,#6b84ff 79.5px,#69aaff 142.5px,#67c7ff 161.5px,#66dfff 166.5px,#66f5ff 172.5px,#66ffe9 176.5px,#66ffb5 180.5px,#66ffa9 182.5px,#66ffa2 248.5px,#66ffa0 249.5px,#67ff93 250.5px,#69ff72 251.5px,#92ff65 252.5px,#c0ff60 253.5px,#eff67d 254.5px,#fde198 255.5px,#ffd39f 256.5px,#ffcda0 257.5px,#ffc7a0 318.5px,#ffb0a1 335.5px,#ffa9a9 336.5px,#ffaeb5 339.5px,#ffb1bc 340.5px,#ffc8eb 344.5px,#ffcbf1 346.5px,#ffcbf1 685.5px)"></i><i style="background:linear-gradient(90deg,#6b7aff 0,#6b7dff 54.5px,#6b86ff 71.5px,#6b83ff 78.5px,#69aaff 142.5px,#67c7ff 161.5px,#66dfff 166.5px,#66f5ff 172.5px,#66fee9 176.5px,#66ffb6 180.5px,#66ffac 181.5px,#66ffa9 182.5px,#66ffa2 248.5px,#66ffa1 249.5px,#67ff99 250.5px,#68ff81 251.5px,#80ff69 252.5px,#b0ff61 253.5px,#dafe62 254.5px,#fde895 255.5px,#fed79d 256.5px,#ffcea0 257.5px,#ffcba0 259.5px,#ffc6a0 319.5px,#ffb1a0 335.5px,#ffaaa6 336.5px,#ffadb2 339.5px,#ffb3c1 341.5px,#ffc6e6 344.5px,#ffc9ee 345.5px,#ffcbf1 347.5px,#ffcbf1 685.5px)"></i><i style="background:linear-gradient(90deg,#6b7aff 0,#6b7dff 54.5px,#6b86ff 71.5px,#6b83ff 77.5px,#69aaff 142.5px,#67c7ff 161.5px,#66dfff 166.5px,#66f5ff 172.5px,#66feea 176.5px,#66ffb6 180.5px,#66ffad 181.5px,#66ffa9 182.5px,#66ffa2 248.5px,#67ff9e 250.5px,#67ff8d 251.5px,#70ff6d 252.5px,#9eff63 253.5px,#ccff60 254.5px,#fbef90 255.5px,#fedd9a 256.5px,#ffd0a0 257.5px,#ffcba0 259.5px,#ffc7a0 319.5px,#ffb0a0 336.5px,#ffa8a9 337.5px,#ffaeb5 340.5px,#ffb1bc 341.5px,#ffc8eb 345.5px,#ffcbf1 347.5px,#ffcbf1 685.5px)"></i><i style="background:linear-gradient(90deg,#6b7aff 0,#6b7dff 54.5px,#6b86ff 70.5px,#6b83ff 77.5px,#69aaff 142.5px,#67c6ff 161.5px,#66dfff 166.5px,#66f5ff 172.5px,#66feea 176.5px,#66ffb6 180.5px,#66ffad 181.5px,#66ffa9 182.5px,#66ffa2 249.5px,#66ffa0 250.5px,#67ff94 251.5px,#69ff76 252.5px,#8dff66 253.5px,#bcff61 254.5px,#e8f974 255.5px,#fde397 256.5px,#ffd49e 257.5px,#ffcda0 258.5px,#ffcba0 260.5px,#ffc7a0 319.5px,#ffb1a0 336.5px,#ffa9ab 338.5px,#ffadb2 340.5px,#ffb3c1 342.5px,#ffc5e6 345.5px,#ffc9ed 346.5px,#ffcbf1 348.5px,#ffcbf1 685.5px)"></i><i style="background:linear-gradient(90deg,#6b7aff 0,#6b7dff 54.5px,#6b85ff 69.5px,#6b82ff 76.5px,#69a9ff 142.5px,#67c6ff 161.5px,#66dfff 166.5px,#66f5ff 172.5px,#66feea 176.5px,#66ffb7 180.5px,#66ffad 181.5px,#66ffa9 182.5px,#66ffa2 249.5px,#66ffa1 250.5px,#67ff9b 251.5px,#68ff84 252.5px,#7bff6a 253.5px,#abff61 254.5px,#d5ff5f 255.5px,#fdea94 256.5px,#fed99c 257.5px,#ffcfa0 258.5px,#ffcba0 260.5px,#ffc7a0 320.5px,#ffb0a0 337.5px,#ffa8a9 338.5px,#ffaeb4 341.5px,#ffb1bb 342.5px,#ffc7ea 346.5px,#ffcbf1 348.5px,#ffcbf1 685.5px)"></i><i style="background:linear-gradient(90deg,#6b7aff 0,#6b7dff 55.5px,#6b85ff 69.5px,#6b82ff 76.5px,#69a9ff 142.5px,#67c6ff 161.5px,#66deff 166.5px,#66f4ff 172.5px,#66feeb 176.5px,#66ffb7 180.5px,#66ffad 181.5px,#66ffa9 182.5px,#66ffa2 249.5px,#66ff9f 251.5px,#67ff8f 252.5px,#6cff6e 253.5px,#9aff63 254.5px,#c7ff60 255.5px,#f8f28b 256.5px,#fede99 257.5px,#ffd1a0 258.5px,#ffcca0 259.5px,#ffcba0 261.5px,#ffc7a0 320.5px,#ffb1a0 337.5px,#ffa9ab 339.5px,#ffadb2 341.5px,#ffb3c0 343.5px,#ffc5e5 346.5px,#ffc9ed 347.5px,#ffcbf1 349.5px,#ffcbf1 685.5px)"></i><i style="background:linear-gradient(90deg,#6b7aff 0,#6b7dff 55.5px,#6b84ff 68.5px,#6b81ff 75.5px,#69a9ff 142.5px,#67c6ff 161.5px,#66e2ff 167.5px,#66f4ff 172.5px,#66feeb 176.5px,#66ffb8 180.5px,#66ffae 181.5px,#66ffa9 182.5px,#66ffa2 250.5px,#66ffa0 251.5px,#67ff96 252.5px,#68ff7a 253.5px,#88ff67 254.5px,#b7ff61 255.5px,#e2fb6b 256.5px,#fde596 257.5px,#ffd59e 258.5px,#ffcda0 259.5px,#ffcba0 261.5px,#ffc7a0 321.5px,#ffb0a0 338.5px,#ffa8a9 339.5px,#ffaeb4 342.5px,#ffb1bb 343.5px,#ffc7ea 347.5px,#ffcbf1 349.5px,#ffcbf1 685.5px)"></i><i style="background:linear-gradient(90deg,#6b7aff 0,#6b7dff 55.5px,#6b84ff 68.5px,#6b81ff 74.5px,#69a9ff 142.5px,#67c6ff 161.5px,#66e2ff 167.5px,#66f4ff 172.5px,#66feeb 176.5px,#66ffb8 180.5px,#66ffae 181.5px,#66ffa9 182.5px,#66ffa2 250.5px,#67ff9c 252.5px,#68ff88 253.5px,#77ff6b 254.5px,#a6ff62 255.5px,#d2ff5f 256.5px,#fcec93 257.5px,#feda9b 258.5px,#ffcfa0 259.5px,#ffcba0 261.5px,#ffc7a0 321.5px,#ffb1a0 338.5px,#ffa9aa 340.5px,#ffacb2 342.5px,#ffb3c0 344.5px,#ffc5e5 347.5px,#ffc9ed 348.5px,#ffcbf1 350.5px,#ffcbf1 685.5px)"></i><i style="background:linear-gradient(90deg,#6b7aff 0,#6b7dff 55.5px,#6b83ff 67.5px,#6b80ff 74.5px,#69a9ff 142.5px,#67c6ff 161.5px,#66e2ff 167.5px,#66f4ff 172.5px,#66fdec 176.5px,#66ffb9 180.5px,#66ffae 181.5px,#66ffa9 182.5px,#66ffa2 251.5px,#66ff9f 252.5px,#67ff91 253.5px,#6aff70 254.5px,#95ff64 255.5px,#c3ff60 256.5px,#f3f483 257.5px,#fee099 258.5px,#ffd29f 259.5px,#ffcca0 260.5px,#ffc7a0 321.5px,#ffb0a0 339.5px,#ffa8a9 340.5px,#ffadb4 343.5px,#ffb5c5 345.5px,#ffc7e9 348.5px,#ffcbf1 350.5px,#ffcbf1 685.5px)"></i><i style="background:linear-gradient(90deg,#6b7aff 0,#6b7dff 55.5px,#6b83ff 67.5px,#6b80ff 73.5px,#69a9ff 142.5px,#67c6ff 161.5px,#66e2ff 167.5px,#66f4ff 172.5px,#66fdec 176.5px,#66ffaf 181.5px,#66ffa8 183.5px,#66ffa2 251.5px,#66ffa1 252.5px,#67ff98 253.5px,#68ff7e 254.5px,#83ff68 255.5px,#b2ff61 256.5px,#ddfd64 257.5px,#fde795 258.5px,#fed79d 259.5px,#ffcea0 260.5px,#ffcba0 262.5px,#ffc7a0 322.5px,#ffb1a0 339.5px,#ffa9aa 341.5px,#ffacb2 343.5px,#ffb2bf 345.5px,#ffc4e4 348.5px,#ffc9ed 349.5px,#ffcbf1 351.5px,#ffcbf1 685.5px)"></i><i style="background:linear-gradient(90deg,#6b7aff 0,#6b7dff 55.5px,#6b82ff 66.5px,#6b80ff 73.5px,#69a9ff 142.5px,#67c6ff 161.5px,#66e2ff 167.5px,#66f4ff 172.5px,#66fdec 176.5px,#66ffaf 181.5px,#66ffa8 183.5px,#66ffa2 251.5px,#67ff9d 253.5px,#68ff8b 254.5px,#72ff6c 255.5px,#a1ff62 256.5px,#ceff60 257.5px,#fcee92 258.5px,#fedc9b 259.5px,#ffd0a0 260.5px,#ffcba0 262.5px,#ffc7a0 322.5px,#ffb1a0 340.5px,#ffa8a8 341.5px,#ffadb4 344.5px,#ffb5c4 346.5px,#ffc7e9 349.5px,#ffcbf1 351.5px,#ffcbf1 685.5px)"></i><i style="background:linear-gradient(90deg,#6b7aff 0,#6b7dff 55.5px,#6b82ff 65.5px,#6b7fff 72.5px,#69a9ff 142.5px,#67c6ff 161.5px,#67cdff 163.5px,#66e2ff 167.5px,#66f4ff 172.5px,#66fdec 176.5px,#66ffaf 181.5px,#66ffa8 183.5px,#66ffa2 252.5px,#66ffa0 253.5px,#67ff93 254.5px,#69ff74 255.5px,#90ff65 256.5px,#beff60 257.5px,#ecf77a 258.5px,#fde298 259.5px,#ffd39e 260.5px,#ffcda0 261.5px,#ffcba0 263.5px,#ffc7a0 323.5px,#ffb2a0 340.5px,#ffa9aa 342.5px,#ffacb1 344.5px,#ffb2be 346.5px,#ffc4e4 349.5px,#ffc9ec 350.5px,#ffcbf1 352.5px,#ffcbf1 685.5px)"></i><i style="background:linear-gradient(90deg,#6b7aff 0,#6b7dff 55.5px,#6b82ff 65.5px,#6b7eff 71.5px,#69a9ff 142.5px,#67c6ff 161.5px,#67ccff 163.5px,#66e2ff 167.5px,#66f4ff 172.5px,#66fded 176.5px,#66ffb0 181.5px,#66ffa8 183.5px,#66ffa2 252.5px,#66ffa1 253.5px,#67ff9a 254.5px,#68ff82 255.5px,#7eff69 256.5px,#aeff61 257.5px,#d8ff60 258.5px,#fde895 259.5px,#fed89c 260.5px,#ffcea0 261.5px,#ffcba0 263.5px,#ffc7a0 323.5px,#ffb1a0 341.5px,#ffa8a8 342.5px,#ffadb4 345.5px,#ffb5c4 347.5px,#ffc7e8 350.5px,#ffcbf1 352.5px,#ffcbf1 685.5px)"></i><i style="background:linear-gradient(90deg,#6b7aff 0,#6b7dff 56.5px,#6b81ff 64.5px,#6b7eff 71.5px,#69a9ff 142.5px,#67c6ff 161.5px,#67ccff 163.5px,#66e1ff 167.5px,#66f3ff 172.5px,#66fded 176.5px,#66ffb0 181.5px,#66ffa8 183.5px,#66ffa2 252.5px,#67ff9e 254.5px,#67ff8e 255.5px,#6eff6d 256.5px,#9dff63 257.5px,#caff60 258.5px,#faf08e 259.5px,#fedd9a 260.5px,#ffd0a0 261.5px,#ffcba0 263.5px,#ffc7a0 324.5px,#ffb2a0 341.5px,#ffaea2 342.5px,#ffa9aa 343.5px,#ffacb1 345.5px,#ffb2be 347.5px,#ffc4e3 350.5px,#ffc8ec 351.5px,#ffcbf1 353.5px,#ffcbf1 685.5px)"></i><i style="background:linear-gradient(90deg,#6b7aff 0,#6b81ff 64.5px,#6b7eff 70.5px,#69a9ff 142.5px,#67c8ff 162.5px,#66e1ff 167.5px,#66f3ff 172.5px,#66fded 176.5px,#66ffe4 177.5px,#66ffb0 181.5px,#66ffa8 183.5px,#66ffa2 253.5px,#66ffa0 254.5px,#67ff95 255.5px,#68ff78 256.5px,#8bff67 257.5px,#baff61 258.5px,#e6fa71 259.5px,#fde497 260.5px,#ffd59e 261.5px,#ffcda0 262.5px,#ffcba0 264.5px,#ffc7a0 324.5px,#ffb1a0 342.5px,#ffa9a8 343.5px,#ffadb3 346.5px,#ffb4c3 348.5px,#ffc6e8 351.5px,#ffcaee 352.5px,#ffcbf1 354.5px,#ffcbf1 685.5px)"></i><i style="background:linear-gradient(90deg,#6b7aff 0,#6b80ff 63.5px,#6b7dff 70.5px,#69a9ff 142.5px,#67c8ff 162.5px,#66e1ff 167.5px,#66f3ff 172.5px,#66fded 176.5px,#66ffe4 177.5px,#66ffb1 181.5px,#66ffa8 183.5px,#66ffa2 253.5px,#66ffa1 254.5px,#67ff9b 255.5px,#68ff86 256.5px,#7aff6a 257.5px,#a9ff62 258.5px,#d4ff5f 259.5px,#fdea94 260.5px,#fed99c 261.5px,#ffcfa0 262.5px,#ffcba0 264.5px,#ffc7a0 325.5px,#ffafa2 343.5px,#ffa9aa 344.5px,#ffaeb6 347.5px,#ffb2bd 348.5px,#ffc4e3 351.5px,#ffc8ec 352.5px,#ffcbf1 354.5px,#ffcbf1 685.5px)"></i><i style="background:linear-gradient(90deg,#6b7aff 0,#6b80ff 63.5px,#6b7dff 69.5px,#69a9ff 142.5px,#67c8ff 162.5px,#66e1ff 167.5px,#66f3ff 172.5px,#66fdee 176.5px,#66ffe4 177.5px,#66ffb1 181.5px,#66ffa8 183.5px,#66ffa2 253.5px,#66ff9f 255.5px,#67ff90 256.5px,#6bff6f 257.5px,#98ff64 258.5px,#c6ff60 259.5px,#f6f389 260.5px,#fedf99 261.5px,#ffd19f 262.5px,#ffcca0 263.5px,#ffcba0 265.5px,#ffc7a0 325.5px,#ffb1a0 343.5px,#ffa9a7 344.5px,#ffadb3 347.5px,#ffb4c3 349.5px,#ffc6e8 352.5px,#ffc9ee 353.5px,#ffcbf1 355.5px,#ffcbf1 685.5px)"></i><i style="background:linear-gradient(90deg,#6b7aff 0,#6b7fff 62.5px,#6b7cff 68.5px,#69a9ff 142.5px,#67c8ff 162.5px,#66e1ff 167.5px,#66f3ff 172.5px,#66fcee 176.5px,#66ffe5 177.5px,#66ffb2 181.5px,#66ffa8 183.5px,#66ffa2 254.5px,#66ffa1 255.5px,#67ff97 256.5px,#68ff7c 257.5px,#86ff68 258.5px,#b5ff61 259.5px,#e0fd67 260.5px,#fde596 261.5px,#fed69d 262.5px,#ffcea0 263.5px,#ffcba0 265.5px,#ffc6a0 326.5px,#ffb2a0 343.5px,#ffafa1 344.5px,#ffa9aa 345.5px,#ffacb1 347.5px,#ffb1bd 349.5px,#ffc8eb 353.5px,#ffcbf1 355.5px,#ffcbf1 685.5px)"></i><i style="background:linear-gradient(90deg,#6b7aff 0,#6b7fff 61.5px,#6b7cff 68.5px,#69a9ff 142.5px,#67c8ff 162.5px,#66e1ff 167.5px,#66f3ff 172.5px,#66f6fd 173.5px,#66fcee 176.5px,#66ffe5 177.5px,#66ffb2 181.5px,#66ffa8 183.5px,#66ffa2 254.5px,#67ff9d 256.5px,#68ff89 257.5px,#75ff6b 258.5px,#a4ff62 259.5px,#d0ff5f 260.5px,#fcec93 261.5px,#fedb9b 262.5px,#ffcfa0 263.5px,#ffcba0 265.5px,#ffc7a0 326.5px,#ffb1a0 344.5px,#ffa9a7 345.5px,#ffadb3 348.5px,#ffb4c2 350.5px,#ffc6e7 353.5px,#ffc9ee 354.5px,#ffcbf1 356.5px,#ffcbf1 685.5px)"></i><i style="background:linear-gradient(90deg,#6b7aff 0,#6b7eff 61.5px,#6b7bff 67.5px,#69a9ff 142.5px,#67c8ff 162.5px,#66e1ff 167.5px,#66f3ff 172.5px,#66f6fe 173.5px,#66fcee 176.5px,#66ffe6 177.5px,#66ffb2 181.5px,#66ffa8 183.5px,#66ffa2 255.5px,#66ffa0 256.5px,#67ff92 257.5px,#69ff71 258.5px,#93ff65 259.5px,#c1ff60 260.5px,#f0f580 261.5px,#fde198 262.5px,#ffd39f 263.5px,#ffcda0 264.5px,#ffc7a0 326.5px,#ffafa1 345.5px,#ffa9a9 346.5px,#ffaeb5 349.5px,#ffb1bc 350.5px,#ffc8eb 354.5px,#ffcbf1 356.5px,#ffcbf1 685.5px)"></i><i style="background:linear-gradient(90deg,#6b7aff 0,#6b7eff 60.5px,#6b7bff 67.5px,#69a9ff 142.5px,#67c8ff 162.5px,#66e1ff 167.5px,#66f3ff 172.5px,#66f6fe 173.5px,#66fcef 176.5px,#66ffe6 177.5px,#66ffb3 181.5px,#66ffa8 183.5px,#66ffa2 255.5px,#66ffa1 256.5px,#67ff99 257.5px,#68ff80 258.5px,#81ff69 259.5px,#b1ff61 260.5px,#dbfe63 261.5px,#fde795 262.5px,#fed79d 263.5px,#ffcea0 264.5px,#ffcba0 266.5px,#ffc7a0 327.5px,#ffb1a0 345.5px,#ffaaa6 346.5px,#ffadb3 349.5px,#ffb3c1 351.5px,#ffc6e7 354.5px,#ffc9ee 355.5px,#ffcbf1 357.5px,#ffcbf1 685.5px)"></i><i style="background:linear-gradient(90deg,#6b7aff 0,#6b7eff 59.5px,#6b7bff 66.5px,#69a9ff 142.5px,#67c7ff 162.5px,#66e0ff 167.5px,#66f2ff 172.5px,#66f5fe 173.5px,#66fcef 176.5px,#66ffe6 177.5px,#66ffb3 181.5px,#66ffa8 183.5px,#66ffa2 255.5px,#67ff9e 257.5px,#67ff8c 258.5px,#71ff6c 259.5px,#a0ff62 260.5px,#ccff60 261.5px,#fbef91 262.5px,#fedc9a 263.5px,#ffd0a0 264.5px,#ffcba0 266.5px,#ffc7a0 327.5px,#ffb0a1 346.5px,#ffa9a9 347.5px,#ffaeb5 350.5px,#ffb1bc 351.5px,#ffc8eb 355.5px,#ffcbf1 357.5px,#ffcbf1 685.5px)"></i><i style="background:linear-gradient(90deg,#6b7aff 0,#6b7dff 58.5px,#6b7aff 65.5px,#69a9ff 142.5px,#67c7ff 162.5px,#66e0ff 167.5px,#66f2ff 172.5px,#66f5fe 173.5px,#66fcef 176.5px,#66ffe7 177.5px,#66ffb3 181.5px,#66ffa8 183.5px,#66ffa2 256.5px,#66ffa0 257.5px,#67ff94 258.5px,#69ff75 259.5px,#8eff66 260.5px,#bdff61 261.5px,#eaf876 262.5px,#fde297 263.5px,#ffd49e 264.5px,#ffcda0 265.5px,#ffcba0 267.5px,#ffc7a0 328.5px,#ffb1a0 346.5px,#ffaaa6 347.5px,#ffadb2 350.5px,#ffb3c1 352.5px,#ffc5e6 355.5px,#ffc9ee 356.5px,#ffcbf1 358.5px,#ffcbf1 685.5px)"></i><i style="background:linear-gradient(90deg,#6b7aff 0,#6b7dff 56.5px,#6b7aff 65.5px,#69a9ff 142.5px,#67c7ff 162.5px,#66e0ff 167.5px,#66f2ff 172.5px,#66f5fe 173.5px,#66fcef 176.5px,#66ffe7 177.5px,#66ffb4 181.5px,#66ffa9 183.5px,#66ffa2 256.5px,#66ffa1 257.5px,#67ff9a 258.5px,#68ff83 259.5px,#7dff6a 260.5px,#acff61 261.5px,#d6ff5f 262.5px,#fde994 263.5px,#fed89c 264.5px,#ffcea0 265.5px,#ffcba0 267.5px,#ffc7a0 328.5px,#ffb0a0 347.5px,#ffa8a9 348.5px,#ffaeb5 351.5px,#ffb1bc 352.5px,#ffc8ea 356.5px,#ffcbf1 358.5px,#ffcbf1 685.5px)"></i><i style="background:linear-gradient(90deg,#6b7aff 0,#6b7dff 56.5px,#6c79ff 64.5px,#69a9ff 142.5px,#67c7ff 162.5px,#66e0ff 167.5px,#66f5ff 173.5px,#66ffe8 177.5px,#66ffb4 181.5px,#66ffa9 183.5px,#66ffa2 256.5px,#66ff9f 258.5px,#67ff8f 259.5px,#6dff6d 260.5px,#9bff63 261.5px,#c8ff60 262.5px,#f8f18c 263.5px,#fede9a 264.5px,#ffd1a0 265.5px,#ffcba0 267.5px,#ffc7a0 329.5px,#ffb1a0 347.5px,#ffa9ab 349.5px,#ffadb2 351.5px,#ffb3c0 353.5px,#ffc5e6 356.5px,#ffc9ed 357.5px,#ffcbf1 359.5px,#ffcbf1 685.5px)"></i><i style="background:linear-gradient(90deg,#6b7aff 0,#6b7dff 55.5px,#6c79ff 64.5px,#69a9ff 142.5px,#67c7ff 162.5px,#66e0ff 167.5px,#66f5ff 173.5px,#66ffe8 177.5px,#66ffb4 181.5px,#66ffa9 183.5px,#66ffa2 257.5px,#66ffa0 258.5px,#67ff96 259.5px,#68ff79 260.5px,#89ff67 261.5px,#b8ff61 262.5px,#e3fb6d 263.5px,#fde497 264.5px,#ffd59e 265.5px,#ffcda0 266.5px,#ffcba0 268.5px,#ffc7a0 329.5px,#ffb0a0 348.5px,#ffa8a9 349.5px,#ffaeb4 352.5px,#ffb1bb 353.5px,#ffc7ea 357.5px,#ffcbf1 359.5px,#ffcbf1 685.5px)"></i><i style="background:linear-gradient(90deg,#6b7aff 0,#6b7dff 55.5px,#6c78ff 63.5px,#69a9ff 142.5px,#67c7ff 162.5px,#66e0ff 167.5px,#66f5ff 173.5px,#66ffe8 177.5px,#66ffb5 181.5px,#66ffa9 183.5px,#66ffa2 257.5px,#67ff9c 259.5px,#68ff87 260.5px,#78ff6b 261.5px,#a7ff62 262.5px,#d3ff5f 263.5px,#fceb93 264.5px,#feda9b 265.5px,#ffcfa0 266.5px,#ffcba0 268.5px,#ffc6a0 330.5px,#ffb1a0 348.5px,#ffa9aa 350.5px,#ffacb2 352.5px,#ffb3c0 354.5px,#ffc5e5 357.5px,#ffc9ed 358.5px,#ffcbf1 360.5px,#ffcbf1 685.5px)"></i><i style="background:linear-gradient(90deg,#6b7aff 0,#6b7dff 54.5px,#6c78ff 62.5px,#69a9ff 142.5px,#67c7ff 162.5px,#66dfff 167.5px,#66f5ff 173.5px,#66ffe9 177.5px,#66ffb5 181.5px,#66ffa9 183.5px,#66ffa2 257.5px,#66ff9f 259.5px,#67ff91 260.5px,#6aff70 261.5px,#96ff64 262.5px,#c4ff60 263.5px,#f4f485 264.5px,#fedf99 265.5px,#ffd29f 266.5px,#ffcca0 267.5px,#ffc7a0 330.5px,#ffb0a0 349.5px,#ffa8a9 350.5px,#ffadb4 353.5px,#ffb5c5 355.5px,#ffc7e9 358.5px,#ffcbf1 360.5px,#ffcbf1 685.5px)"></i><i style="background:linear-gradient(90deg,#6b7aff 0,#6b7dff 54.5px,#6c77ff 62.5px,#69a9ff 142.5px,#67c7ff 162.5px,#66dfff 167.5px,#66f5ff 173.5px,#66fee9 177.5px,#66ffb6 181.5px,#66ffac 182.5px,#66ffa9 183.5px,#66ffa2 258.5px,#66ffa1 259.5px,#67ff98 260.5px,#68ff7d 261.5px,#84ff68 262.5px,#b3ff61 263.5px,#defd66 264.5px,#fde696 265.5px,#fed69d 266.5px,#ffcea0 267.5px,#ffcba0 269.5px,#ffc6a0 331.5px,#ffb1a0 349.5px,#ffa9aa 351.5px,#ffacb1 353.5px,#ffb2bf 355.5px,#ffc4e4 358.5px,#ffc9ec 359.5px,#ffcbf1 361.5px,#ffcbf1 685.5px)"></i><i style="background:linear-gradient(90deg,#6b7aff 0,#6b7dff 53.5px,#6c77ff 61.5px,#69a9ff 142.5px,#67c7ff 162.5px,#66dfff 167.5px,#66f5ff 173.5px,#66feea 177.5px,#66ffb6 181.5px,#66ffad 182.5px,#66ffa9 183.5px,#66ffa2 258.5px,#67ff9d 260.5px,#68ff8a 261.5px,#73ff6c 262.5px,#a2ff62 263.5px,#cfff60 264.5px,#fced92 265.5px,#fedb9b 266.5px,#ffcfa0 267.5px,#ffcba0 269.5px,#ffc7a0 331.5px,#ffb1a0 350.5px,#ffa9a7 351.5px,#ffadb3 354.5px,#ffb4c2 356.5px,#ffc6e7 359.5px,#ffc9ee 360.5px,#ffcbf1 362.5px,#ffcbf1 685.5px)"></i><i style="background:linear-gradient(90deg,#6b7aff 0,#6b7dff 53.5px,#6c77ff 61.5px,#69a9ff 142.5px,#67c6ff 162.5px,#66dfff 167.5px,#66f5ff 173.5px,#66feea 177.5px,#66ffb6 181.5px,#66ffad 182.5px,#66ffa9 183.5px,#66ffa2 259.5px,#66ffa0 260.5px,#67ff93 261.5px,#69ff73 262.5px,#91ff65 263.5px,#c0ff60 264.5px,#eef67c 265.5px,#fde198 266.5px,#ffd39f 267.5px,#ffcda0 268.5px,#ffcba0 270.5px,#ffc7a0 332.5px,#ffb0a0 351.5px,#ffa8a9 352.5px,#ffaeb5 355.5px,#ffb1bc 356.5px,#ffc7ea 360.5px,#ffcbf1 362.5px,#ffcbf1 685.5px)"></i><i style="background:linear-gradient(90deg,#6b7aff 0,#6b7dff 52.5px,#6c76ff 61.5px,#69a9ff 143.5px,#67c6ff 162.5px,#66dfff 167.5px,#66f5ff 173.5px,#66feea 177.5px,#66ffb7 181.5px,#66ffad 182.5px,#66ffa9 183.5px,#66ffa2 259.5px,#66ffa1 260.5px,#67ff99 261.5px,#68ff81 262.5px,#80ff69 263.5px,#afff61 264.5px,#d9fe61 265.5px,#fde895 266.5px,#fed89c 267.5px,#ffcea0 268.5px,#ffcba0 270.5px,#ffc7a0 332.5px,#ffb1a0 351.5px,#ffa9aa 353.5px,#ffacb2 355.5px,#ffb2bf 357.5px,#ffc4e4 360.5px,#ffc9ec 361.5px,#ffcbf1 363.5px,#ffcbf1 685.5px)"></i><i style="background:linear-gradient(90deg,#6b7aff 0,#6b7dff 51.5px,#6c76ff 60.5px,#69a9ff 143.5px,#67c6ff 162.5px,#66deff 167.5px,#66f4ff 173.5px,#66feeb 177.5px,#66ffb7 181.5px,#66ffad 182.5px,#66ffa9 183.5px,#66ffa2 259.5px,#67ff9e 261.5px,#67ff8d 262.5px,#6fff6d 263.5px,#9eff63 264.5px,#cbff60 265.5px,#faef8f 266.5px,#fedd9a 267.5px,#ffd0a0 268.5px,#ffcba0 270.5px,#ffc7a0 333.5px,#ffb1a0 352.5px,#ffa9a7 353.5px,#ffadb3 356.5px,#ffb4c3 358.5px,#ffc6e7 361.5px,#ffc9ee 362.5px,#ffcbf1 364.5px,#ffcbf1 685.5px)"></i><i style="background:linear-gradient(90deg,#6b7aff 0,#6b7dff 51.5px,#6c76ff 60.5px,#69a9ff 143.5px,#67c6ff 162.5px,#66e2ff 168.5px,#66f4ff 173.5px,#66feeb 177.5px,#66ffb7 181.5px,#66ffad 182.5px,#66ffa9 183.5px,#66ffa2 260.5px,#66ffa0 261.5px,#67ff95 262.5px,#69ff77 263.5px,#8cff66 264.5px,#bbff61 265.5px,#e7f973 266.5px,#fde397 267.5px,#ffd49e 268.5px,#ffcda0 269.5px,#ffcba0 271.5px,#ffc6a0 334.5px,#ffb0a1 353.5px,#ffa8a9 354.5px,#ffaeb5 357.5px,#ffb1bc 358.5px,#ffc8ea 362.5px,#ffcbf1 364.5px,#ffcbf1 685.5px)"></i><i style="background:linear-gradient(90deg,#6b7aff 0,#6b7dff 50.5px,#6c76ff 60.5px,#69a9ff 143.5px,#67c6ff 162.5px,#66e2ff 168.5px,#66f4ff 173.5px,#66feeb 177.5px,#66ffae 182.5px,#66ffa8 184.5px,#66ffa2 260.5px,#66ffa1 261.5px,#67ff9b 262.5px,#68ff85 263.5px,#7bff6a 264.5px,#aaff61 265.5px,#d5ff5f 266.5px,#fdea94 267.5px,#fed99c 268.5px,#ffcfa0 269.5px,#ffcba0 271.5px,#ffc7a0 334.5px,#ffb1a0 353.5px,#ffa9aa 355.5px,#ffacb2 357.5px,#ffb2bf 359.5px,#ffc4e4 362.5px,#ffc9ec 363.5px,#ffcbf1 365.5px,#ffcbf1 685.5px)"></i><i style="background:linear-gradient(90deg,#6b7aff 0,#6b7dff 50.5px,#6c76ff 61.5px,#69a9ff 143.5px,#67c6ff 162.5px,#66e2ff 168.5px,#66f4ff 173.5px,#66fdeb 177.5px,#66ffae 182.5px,#66ffa8 184.5px,#66ffa2 260.5px,#66ff9f 262.5px,#67ff90 263.5px,#6cff6e 264.5px,#99ff64 265.5px,#c7ff60 266.5px,#f7f28a 267.5px,#fede99 268.5px,#ffd19f 269.5px,#ffcca0 270.5px,#ffcba0 272.5px,#ffc6a0 335.5px,#ffb1a0 354.5px,#ffa9a7 355.5px,#ffadb3 358.5px,#ffb4c3 360.5px,#ffc6e8 363.5px,#ffc9ee 364.5px,#ffcbf1 366.5px,#ffcbf1 685.5px)"></i><i style="background:linear-gradient(90deg,#6b7aff 0,#6b7cff 49.5px,#6c76ff 56.5px,#6c76ff 61.5px,#69a9ff 143.5px,#67c6ff 162.5px,#66e2ff 168.5px,#66f4ff 173.5px,#66fdec 177.5px,#66ffaf 182.5px,#66ffa8 184.5px,#66ffa2 261.5px,#66ffa0 262.5px,#67ff96 263.5px,#68ff7b 264.5px,#87ff67 265.5px,#b6ff61 266.5px,#e1fc69 267.5px,#fde596 268.5px,#fed69d 269.5px,#ffcda0 270.5px,#ffcba0 272.5px,#ffc7a0 335.5px,#ffb0a1 355.5px,#ffa9a9 356.5px,#ffaeb5 359.5px,#ffb1bc 360.5px,#ffc8ea 364.5px,#ffcbf1 366.5px,#ffcbf1 685.5px)"></i><i style="background:linear-gradient(90deg,#6b7aff 0,#6b7cff 48.5px,#6c76ff 56.5px,#6c76ff 61.5px,#69a9ff 143.5px,#67c6ff 162.5px,#66e2ff 168.5px,#66f4ff 173.5px,#66fdec 177.5px,#66ffaf 182.5px,#66ffa8 184.5px,#66ffa2 261.5px,#67ff9c 263.5px,#68ff88 264.5px,#76ff6b 265.5px,#a5ff62 266.5px,#d1ff5f 267.5px,#fcec93 268.5px,#feda9b 269.5px,#ffcfa0 270.5px,#ffcba0 272.5px,#ffc7a0 336.5px,#ffb1a0 355.5px,#ffa9aa 357.5px,#ffacb2 359.5px,#ffb2bf 361.5px,#ffc5e4 364.5px,#ffc9ed 365.5px,#ffcbf1 367.5px,#ffcbf1 685.5px)"></i><i style="background:linear-gradient(90deg,#6b7aff 0,#6b7cff 48.5px,#6c76ff 55.5px,#6c76ff 61.5px,#69a9ff 143.5px,#67c6ff 162.5px,#67cdff 164.5px,#66e2ff 168.5px,#66f4ff 173.5px,#66fdec 177.5px,#66ffaf 182.5px,#66ffa8 184.5px,#66ffa2 261.5px,#66ff9f 263.5px,#67ff92 264.5px,#6aff71 265.5px,#94ff65 266.5px,#c2ff60 267.5px,#f2f582 268.5px,#fde098 269.5px,#ffd29f 270.5px,#ffcca0 271.5px,#ffc7a0 336.5px,#ffb1a0 356.5px,#ffa9a7 357.5px,#ffadb3 360.5px,#ffb4c3 362.5px,#ffc6e8 365.5px,#ffcaee 366.5px,#ffcbf1 368.5px,#ffcbf1 685.5px)"></i><i style="background:linear-gradient(90deg,#6b7aff 0,#6b7cff 47.5px,#6c76ff 54.5px,#6c76ff 61.5px,#69a9ff 143.5px,#67c6ff 162.5px,#67ccff 164.5px,#66e2ff 168.5px,#66f4ff 173.5px,#66fdec 177.5px,#66ffb0 182.5px,#66ffa8 184.5px,#66ffa2 262.5px,#66ffa1 263.5px,#67ff98 264.5px,#68ff7f 265.5px,#83ff68 266.5px,#b2ff61 267.5px,#dcfe64 268.5px,#fde795 269.5px,#fed79d 270.5px,#ffcea0 271.5px,#ffcba0 273.5px,#ffc7a0 337.5px,#ffafa1 357.5px,#ffa9a9 358.5px,#ffaeb5 361.5px,#ffb1bc 362.5px,#ffc8ea 366.5px,#ffcbf1 368.5px,#ffcbf1 685.5px)"></i><i style="background:linear-gradient(90deg,#6b7aff 0,#6b7cff 47.5px,#6c76ff 54.5px,#6c76ff 61.5px,#69a9ff 143.5px,#67c6ff 162.5px,#67ccff 164.5px,#66e1ff 168.5px,#66f3ff 173.5px,#66fded 177.5px,#66ffb0 182.5px,#66ffa8 184.5px,#66ffa2 262.5px,#67ff9d 264.5px,#67ff8b 265.5px,#72ff6c 266.5px,#a1ff62 267.5px,#cdff60 268.5px,#fcee92 269.5px,#fedc9a 270.5px,#ffd0a0 271.5px,#ffcba0 273.5px,#ffc7a0 337.5px,#ffb1a0 357.5px,#ffa9aa 359.5px,#ffacb2 361.5px,#ffb3bf 363.5px,#ffc5e5 366.5px,#ffc9ed 367.5px,#ffcbf1 369.5px,#ffcbf1 685.5px)"></i><i style="background:linear-gradient(90deg,#6b7aff 0,#6b7cff 46.5px,#6c76ff 53.5px,#6c76ff 61.5px,#69a9ff 143.5px,#67c8ff 163.5px,#66e1ff 168.5px,#66f3ff 173.5px,#66fded 177.5px,#66ffe4 178.5px,#66ffb0 182.5px,#66ffa8 184.5px,#66ffa2 263.5px,#66ffa0 264.5px,#67ff94 265.5px,#69ff74 266.5px,#8fff66 267.5px,#beff60 268.5px,#ebf779 269.5px,#fde298 270.5px,#ffd39e 271.5px,#ffcda0 272.5px,#ffcba0 274.5px,#ffc7a0 338.5px,#ffb1a0 358.5px,#ffa9a8 359.5px,#ffadb3 362.5px,#ffb4c3 364.5px,#ffc6e8 367.5px,#ffcaee 368.5px,#ffcbf1 370.5px,#ffcbf1 685.5px)"></i><i style="background:linear-gradient(90deg,#6b7aff 0,#6b7cff 45.5px,#6c76ff 53.5px,#6c76ff 62.5px,#69a9ff 143.5px,#67c8ff 163.5px,#66e1ff 168.5px,#66f3ff 173.5px,#66fded 177.5px,#66ffe4 178.5px,#66ffb1 182.5px,#66ffa8 184.5px,#66ffa2 263.5px,#66ffa1 264.5px,#67ff9a 265.5px,#68ff83 266.5px,#7eff69 267.5px,#adff61 268.5px,#d7ff5f 269.5px,#fde994 270.5px,#fed89c 271.5px,#ffcea0 272.5px,#ffcba0 274.5px,#ffc7a0 339.5px,#ffafa1 359.5px,#ffa9a9 360.5px,#ffaeb5 363.5px,#ffb1bc 364.5px,#ffc8eb 368.5px,#ffcbf1 370.5px,#ffcbf1 685.5px)"></i><i style="background:linear-gradient(90deg,#6b7aff 0,#6b7cff 45.5px,#6c76ff 52.5px,#6c76ff 62.5px,#69a9ff 143.5px,#67c8ff 163.5px,#66e1ff 168.5px,#66f3ff 173.5px,#66fded 177.5px,#66ffe4 178.5px,#66ffb1 182.5px,#66ffa8 184.5px,#66ffa2 263.5px,#66ff9e 265.5px,#67ff8e 266.5px,#6dff6d 267.5px,#9cff63 268.5px,#c9ff60 269.5px,#f9f08d 270.5px,#fedd9a 271.5px,#ffd1a0 272.5px,#ffcba0 274.5px,#ffc7a0 339.5px,#ffb1a0 359.5px,#ffa9aa 361.5px,#ffacb2 363.5px,#ffb3c0 365.5px,#ffc5e5 368.5px,#ffc9ed 369.5px,#ffcbf1 371.5px,#ffcbf1 685.5px)"></i><i style="background:linear-gradient(90deg,#6b7aff 0,#6b7cff 44.5px,#6c75ff 52.5px,#6c76ff 62.5px,#69a9ff 143.5px,#67c8ff 163.5px,#66e1ff 168.5px,#66f3ff 173.5px,#66fdee 177.5px,#66ffe5 178.5px,#66ffb1 182.5px,#66ffa8 184.5px,#66ffa2 264.5px,#66ffa0 265.5px,#67ff95 266.5px,#68ff78 267.5px,#8aff67 268.5px,#b9ff61 269.5px,#e5fa6f 270.5px,#fde497 271.5px,#ffd59e 272.5px,#ffcda0 273.5px,#ffcba0 275.5px,#ffc7a0 340.5px,#ffb1a0 360.5px,#ffa9a8 361.5px,#ffadb3 364.5px,#ffb4c3 366.5px,#ffc6e8 369.5px,#ffcaee 370.5px,#ffcbf1 372.5px,#ffcbf1 685.5px)"></i><i style="background:linear-gradient(90deg,#6b7aff 0,#6b7cff 44.5px,#6c75ff 51.5px,#6c76ff 62.5px,#69a9ff 143.5px,#67c8ff 163.5px,#66e1ff 168.5px,#66f3ff 173.5px,#66f6fd 174.5px,#66fcee 177.5px,#66ffe5 178.5px,#66ffb2 182.5px,#66ffa8 184.5px,#66ffa2 264.5px,#67ff9b 266.5px,#68ff86 267.5px,#79ff6a 268.5px,#a9ff62 269.5px,#d4ff5f 270.5px,#fdea94 271.5px,#fed99c 272.5px,#ffcfa0 273.5px,#ffcba0 275.5px,#ffc7a0 340.5px,#ffafa1 361.5px,#ffa9a9 362.5px,#ffaeb5 365.5px,#ffb1bc 366.5px,#ffc8eb 370.5px,#ffcbf1 372.5px,#ffcbf1 685.5px)"></i><i style="background:linear-gradient(90deg,#6b7aff 0,#6b7cff 43.5px,#6c75ff 51.5px,#6c76ff 62.5px,#69a9ff 143.5px,#67c8ff 163.5px,#66e1ff 168.5px,#66f3ff 173.5px,#66f6fd 174.5px,#66fcee 177.5px,#66ffe5 178.5px,#66ffb2 182.5px,#66ffa8 184.5px,#66ffa2 264.5px,#66ff9f 266.5px,#67ff8f 267.5px,#6dff6d 268.5px,#9bff63 269.5px,#c9ff60 270.5px,#faf08e 271.5px,#fedd9a 272.5px,#ffd0a0 273.5px,#ffcba0 275.5px,#ffc7a0 341.5px,#ffb1a0 361.5px,#ffa9aa 363.5px,#ffacb2 365.5px,#ffb3c0 367.5px,#ffc5e5 370.5px,#ffc9ed 371.5px,#ffcbf1 373.5px,#ffcbf1 685.5px)"></i><i style="background:linear-gradient(90deg,#6b7aff 0,#6b7cff 42.5px,#6c75ff 50.5px,#6c76ff 62.5px,#69a9ff 143.5px,#67c8ff 163.5px,#66e1ff 168.5px,#66f3ff 173.5px,#66f6fe 174.5px,#66fcee 177.5px,#66ffe6 178.5px,#66ffb2 182.5px,#66ffa8 184.5px,#66ffa2 265.5px,#66ffa0 266.5px,#67ff93 267.5px,#69ff73 268.5px,#91ff65 269.5px,#c0ff60 270.5px,#eef67c 271.5px,#fde198 272.5px,#ffd39f 273.5px,#ffcda0 274.5px,#ffcba0 276.5px,#ffc6a0 342.5px,#ffb1a0 362.5px,#ffa9a8 363.5px,#ffadb3 366.5px,#ffb4c4 368.5px,#ffc6e8 371.5px,#ffcaee 372.5px,#ffcbf1 374.5px,#ffcbf1 685.5px)"></i><i style="background:linear-gradient(90deg,#6b7aff 0,#6b7cff 42.5px,#6c75ff 50.5px,#6c76ff 63.5px,#69a9ff 143.5px,#67c8ff 163.5px,#66e1ff 168.5px,#66f3ff 173.5px,#66f6fe 174.5px,#66fcee 177.5px,#66ffe6 178.5px,#66ffb2 182.5px,#66ffa8 184.5px,#66ffa2 265.5px,#66ffa0 266.5px,#67ff97 267.5px,#68ff7b 268.5px,#87ff67 269.5px,#b6ff61 270.5px,#e1fc69 271.5px,#fde596 272.5px,#fed69d 273.5px,#ffcda0 274.5px,#ffcba0 276.5px,#ffc7a0 342.5px,#ffb2a0 362.5px,#ffafa1 363.5px,#ffa9a9 364.5px,#ffaeb5 367.5px,#ffb1bc 368.5px,#ffc8eb 372.5px,#ffcbf1 374.5px,#ffcbf1 685.5px)"></i><i style="background:linear-gradient(90deg,#6b7aff 0,#6b7cff 41.5px,#6c75ff 49.5px,#6c76ff 63.5px,#69a9ff 143.5px,#67c8ff 163.5px,#66e1ff 168.5px,#66f3ff 173.5px,#66f6fe 174.5px,#66fcee 177.5px,#66ffe6 178.5px,#66ffb2 182.5px,#66ffa8 184.5px,#66ffa2 265.5px,#66ffa1 266.5px,#67ff9a 267.5px,#68ff83 268.5px,#7dff6a 269.5px,#adff61 270.5px,#d7ff5f 271.5px,#fde994 272.5px,#fed89c 273.5px,#ffcea0 274.5px,#ffcba0 276.5px,#ffc7a0 343.5px,#ffb1a0 363.5px,#ffa9aa 365.5px,#ffacb2 367.5px,#ffb3c0 369.5px,#ffc5e5 372.5px,#ffc9ed 373.5px,#ffcbf1 375.5px,#ffcbf1 685.5px)"></i><i style="background:linear-gradient(90deg,#6b7aff 0,#6b7cff 41.5px,#6c75ff 48.5px,#6c76ff 63.5px,#69a9ff 143.5px,#67c8ff 163.5px,#66e1ff 168.5px,#66f3ff 173.5px,#66f6fe 174.5px,#66fcee 177.5px,#66ffe6 178.5px,#66ffb2 182.5px,#66ffa8 184.5px,#66ffa2 265.5px,#67ff9d 267.5px,#68ff8b 268.5px,#73ff6c 269.5px,#a3ff62 270.5px,#d0ff60 271.5px,#fced93 272.5px,#fedb9b 273.5px,#ffcfa0 274.5px,#ffcba0 276.5px,#ffc7a0 343.5px,#ffb1a0 364.5px,#ffa9a8 365.5px,#ffadb4 368.5px,#ffb5c4 370.5px,#ffc6e8 373.5px,#ffcaee 374.5px,#ffcbf1 376.5px,#ffcbf1 685.5px)"></i><i style="background:linear-gradient(90deg,#6b7aff 0,#6b7cff 40.5px,#6c75ff 48.5px,#6c76ff 63.5px,#69a9ff 143.5px,#67c8ff 163.5px,#66e1ff 168.5px,#66f3ff 173.5px,#66f6fe 174.5px,#66fcee 177.5px,#66ffe6 178.5px,#66ffb2 182.5px,#66ffa8 184.5px,#66ffa2 265.5px,#66ff9f 267.5px,#67ff90 268.5px,#6bff6e 269.5px,#99ff63 270.5px,#c7ff60 271.5px,#f9f18c 272.5px,#fede99 273.5px,#ffd1a0 274.5px,#ffcca0 275.5px,#ffcba0 277.5px,#ffc7a0 344.5px,#ffafa1 365.5px,#ffa9a9 366.5px,#ffaeb5 369.5px,#ffb1bd 370.5px,#ffc8eb 374.5px,#ffcbf1 376.5px,#ffcbf1 685.5px)"></i><i style="background:linear-gradient(90deg,#6b7aff 0,#6b7cff 39.5px,#6c75ff 47.5px,#6c76ff 63.5px,#69a9ff 143.5px,#67c8ff 163.5px,#66e1ff 168.5px,#66f3ff 173.5px,#66f6fe 174.5px,#66fcee 177.5px,#66ffe6 178.5px,#66ffb3 182.5px,#66ffa8 184.5px,#66ffa2 266.5px,#66ffa0 267.5px,#67ff94 268.5px,#69ff74 269.5px,#90ff66 270.5px,#beff60 271.5px,#ecf779 272.5px,#fde298 273.5px,#ffd39e 274.5px,#ffcda0 275.5px,#ffcba0 277.5px,#ffc6a0 345.5px,#ffb1a0 365.5px,#ffa9ab 367.5px,#ffadb2 369.5px,#ffb3c0 371.5px,#ffc5e5 374.5px,#ffc9ed 375.5px,#ffcbf1 377.5px,#ffcbf1 685.5px)"></i><i style="background:linear-gradient(90deg,#6b7aff 0,#6b7cff 39.5px,#6c75ff 47.5px,#6c76ff 63.5px,#69a9ff 143.5px,#67c8ff 163.5px,#66e1ff 168.5px,#66f3ff 173.5px,#66f6fe 174.5px,#66fcef 177.5px,#66ffe6 178.5px,#66ffb3 182.5px,#66ffa8 184.5px,#66ffa2 266.5px,#66ffa1 267.5px,#67ff97 268.5px,#68ff7c 269.5px,#86ff68 270.5px,#b5ff61 271.5px,#dffd66 272.5px,#fde696 273.5px,#fed69d 274.5px,#ffcea0 275.5px,#ffcba0 277.5px,#ffc7a0 345.5px,#ffb1a0 366.5px,#ffa8a8 367.5px,#ffadb4 370.5px,#ffb5c4 372.5px,#ffc7e8 375.5px,#ffcaee 376.5px,#ffcbf1 378.5px,#ffcbf1 685.5px)"></i><i style="background:linear-gradient(90deg,#6b7aff 0,#6b7cff 38.5px,#6c75ff 46.5px,#6c76ff 64.5px,#69a9ff 143.5px,#67c7ff 163.5px,#66e1ff 168.5px,#66f3ff 173.5px,#66f6fe 174.5px,#66fcef 177.5px,#66ffe6 178.5px,#66ffb3 182.5px,#66ffa8 184.5px,#66ffa2 266.5px,#66ffa1 267.5px,#67ff9b 268.5px,#68ff84 269.5px,#7cff6a 270.5px,#abff61 271.5px,#d6ff5f 272.5px,#fde994 273.5px,#fed99c 274.5px,#ffcea0 275.5px,#ffcba0 277.5px,#ffc7a0 345.5px,#ffb2a0 366.5px,#ffafa1 367.5px,#ffa9a9 368.5px,#ffaeb5 371.5px,#ffb1bd 372.5px,#ffc8eb 376.5px,#ffcbf1 378.5px,#ffcbf1 685.5px)"></i><i style="background:linear-gradient(90deg,#6b7aff 0,#6b7cff 38.5px,#6c75ff 46.5px,#6c76ff 64.5px,#69a9ff 143.5px,#67c7ff 163.5px,#66e0ff 168.5px,#66f3ff 173.5px,#66f6fe 174.5px,#66fcef 177.5px,#66ffe6 178.5px,#66ffb3 182.5px,#66ffa8 184.5px,#66ffa2 266.5px,#67ff9e 268.5px,#67ff8c 269.5px,#72ff6c 270.5px,#a2ff62 271.5px,#cfff60 272.5px,#fced92 273.5px,#fedb9b 274.5px,#ffcfa0 275.5px,#ffcba0 277.5px,#ffc7a0 346.5px,#ffb1a0 367.5px,#ffa9ab 369.5px,#ffadb2 371.5px,#ffb3c0 373.5px,#ffc5e5 376.5px,#ffc9ed 377.5px,#ffcbf1 379.5px,#ffcbf1 685.5px)"></i><i style="background:linear-gradient(90deg,#6b7aff 0,#6b7cff 37.5px,#6c75ff 45.5px,#6c76ff 64.5px,#69a9ff 143.5px,#67c7ff 163.5px,#66e0ff 168.5px,#66f3ff 173.5px,#66f5fe 174.5px,#66fcef 177.5px,#66ffe6 178.5px,#66ffb3 182.5px,#66ffa8 184.5px,#66ffa2 266.5px,#66ff9f 268.5px,#67ff91 269.5px,#6aff6e 270.5px,#98ff64 271.5px,#c6ff60 272.5px,#f7f289 273.5px,#fedf99 274.5px,#ffd19f 275.5px,#ffcca0 276.5px,#ffcba0 278.5px,#ffc7a0 347.5px,#ffb0a0 368.5px,#ffa8a8 369.5px,#ffadb4 372.5px,#ffb5c4 374.5px,#ffc7e9 377.5px,#ffcaef 378.5px,#ffcbf1 380.5px,#ffcbf1 685.5px)"></i><i style="background:linear-gradient(90deg,#6b7aff 0,#6b7cff 36.5px,#6c75ff 45.5px,#6c76ff 64.5px,#69a9ff 143.5px,#67c7ff 163.5px,#66e0ff 168.5px,#66f3ff 173.5px,#66f5fe 174.5px,#66fcef 177.5px,#66ffe6 178.5px,#66ffb3 182.5px,#66ffa8 184.5px,#66ffa2 267.5px,#66ffa0 268.5px,#67ff94 269.5px,#69ff75 270.5px,#8eff66 271.5px,#bdff61 272.5px,#eaf876 273.5px,#fde297 274.5px,#ffd49e 275.5px,#ffcda0 276.5px,#ffcba0 278.5px,#ffc7a0 347.5px,#ffb2a0 368.5px,#ffafa2 369.5px,#ffa9aa 370.5px,#ffacb1 372.5px,#ffb1bd 374.5px,#ffc8eb 378.5px,#ffcbf1 380.5px,#ffcbf1 685.5px)"></i><i style="background:linear-gradient(90deg,#6b7aff 0,#6b7cff 36.5px,#6c75ff 44.5px,#6c76ff 64.5px,#69a9ff 143.5px,#67c7ff 163.5px,#66e0ff 168.5px,#66f2ff 173.5px,#66f5fe 174.5px,#66fcef 177.5px,#66ffe6 178.5px,#66ffb3 182.5px,#66ffa8 184.5px,#66ffa2 267.5px,#66ffa1 268.5px,#67ff98 269.5px,#68ff7d 270.5px,#84ff68 271.5px,#b3ff61 272.5px,#ddfe63 273.5px,#fde696 274.5px,#fed69d 275.5px,#ffcea0 276.5px,#ffcba0 278.5px,#ffc7a0 348.5px,#ffb1a0 369.5px,#ffaaa6 370.5px,#ffa9ab 371.5px,#ffadb2 373.5px,#ffb3c0 375.5px,#ffc5e6 378.5px,#ffc9ed 379.5px,#ffcbf1 381.5px,#ffcbf1 685.5px)"></i><i style="background:linear-gradient(90deg,#6b7aff 0,#6b7cff 35.5px,#6c75ff 43.5px,#6c76ff 64.5px,#69a9ff 143.5px,#67c7ff 163.5px,#66e0ff 168.5px,#66f2ff 173.5px,#66f5fe 174.5px,#66fcef 177.5px,#66ffe7 178.5px,#66ffb3 182.5px,#66ffa8 184.5px,#66ffa2 267.5px,#66ffa1 268.5px,#67ff9b 269.5px,#68ff86 270.5px,#7aff6a 271.5px,#aaff61 272.5px,#d5ff5f 273.5px,#fdea94 274.5px,#fed99c 275.5px,#ffcfa0 276.5px,#ffcba0 278.5px,#ffc7a0 348.5px,#ffb0a0 370.5px,#ffa8a9 371.5px,#ffadb4 374.5px,#ffb5c4 376.5px,#ffc7e9 379.5px,#ffcbf1 381.5px,#ffcbf1 685.5px)"></i><i style="background:linear-gradient(90deg,#6b7aff 0,#6b7bff 35.5px,#6c75ff 43.5px,#6c76ff 64.5px,#69a9ff 143.5px,#67c7ff 163.5px,#66e0ff 168.5px,#66f2ff 173.5px,#66f5fe 174.5px,#66fcef 177.5px,#66ffe7 178.5px,#66ffb3 182.5px,#66ffa8 184.5px,#66ffa2 267.5px,#67ff9e 269.5px,#67ff8d 270.5px,#71ff6c 271.5px,#a0ff62 272.5px,#cdff60 273.5px,#fcee92 274.5px,#fedc9a 275.5px,#ffd0a0 276.5px,#ffcba0 278.5px,#ffc7a0 349.5px,#ffb1a0 370.5px,#ffaea2 371.5px,#ffa9aa 372.5px,#ffacb1 374.5px,#ffb2bd 376.5px,#ffc8eb 380.5px,#ffcbf1 382.5px,#ffcbf1 685.5px)"></i><i style="background:linear-gradient(90deg,#6b7aff 0,#6b7bff 34.5px,#6c75ff 42.5px,#6c76ff 65.5px,#69a9ff 143.5px,#67c7ff 163.5px,#66e0ff 168.5px,#66f2ff 173.5px,#66f5fe 174.5px,#66fcef 177.5px,#66ffe7 178.5px,#66ffb3 182.5px,#66ffa8 184.5px,#66ffa2 267.5px,#66ff9f 269.5px,#67ff91 270.5px,#6aff6f 271.5px,#96ff64 272.5px,#c5ff60 273.5px,#f5f386 274.5px,#fedf99 275.5px,#ffd29f 276.5px,#ffcca0 277.5px,#ffc7a0 350.5px,#ffb1a0 371.5px,#ffaaa6 372.5px,#ffadb2 375.5px,#ffb3c1 377.5px,#ffc5e6 380.5px,#ffc9ed 381.5px,#ffcbf1 383.5px,#ffcbf1 685.5px)"></i><i style="background:linear-gradient(90deg,#6b7aff 0,#6b7bff 33.5px,#6c74ff 42.5px,#6c76ff 65.5px,#69a9ff 143.5px,#67c7ff 163.5px,#66e0ff 168.5px,#66f2ff 173.5px,#66f5fe 174.5px,#66fcef 177.5px,#66ffe7 178.5px,#66ffb3 182.5px,#66ffa8 184.5px,#66ffa2 268.5px,#66ffa0 269.5px,#67ff95 270.5px,#69ff77 271.5px,#8cff66 272.5px,#bbff61 273.5px,#e8f973 274.5px,#fde397 275.5px,#ffd49e 276.5px,#ffcda0 277.5px,#ffcba0 279.5px,#ffc6a0 351.5px,#ffb0a0 372.5px,#ffa8a9 373.5px,#ffadb4 376.5px,#ffb5c5 378.5px,#ffc7e9 381.5px,#ffcbf1 383.5px,#ffcbf1 685.5px)"></i><i style="background:linear-gradient(90deg,#6b7aff 0,#6b7bff 33.5px,#6c75ff 41.5px,#6c76ff 65.5px,#69a8ff 142.5px,#67c7ff 163.5px,#66e0ff 168.5px,#66f2ff 173.5px,#66f5fe 174.5px,#66fcef 177.5px,#66ffe7 178.5px,#66ffb3 182.5px,#66ffa8 184.5px,#66ffa2 268.5px,#66ffa1 269.5px,#67ff98 270.5px,#68ff7f 271.5px,#82ff68 272.5px,#b2ff61 273.5px,#dbfe62 274.5px,#fde795 275.5px,#fed79d 276.5px,#ffcea0 277.5px,#ffcba0 279.5px,#ffc7a0 351.5px,#ffb1a0 372.5px,#ffaea2 373.5px,#ffa9aa 374.5px,#ffacb1 376.5px,#ffb2bd 378.5px,#ffc4e3 381.5px,#ffc8eb 382.5px,#ffcbf1 384.5px,#ffcbf1 685.5px)"></i><i style="background:linear-gradient(90deg,#6b7aff 0,#6b7bff 32.5px,#6c75ff 40.5px,#6c76ff 65.5px,#69a8ff 142.5px,#67c7ff 163.5px,#66e0ff 168.5px,#66f2ff 173.5px,#66f5fe 174.5px,#66fcef 177.5px,#66ffe7 178.5px,#66ffb3 182.5px,#66ffa8 184.5px,#66ffa2 268.5px,#67ff9c 270.5px,#68ff87 271.5px,#79ff6b 272.5px,#a8ff62 273.5px,#d4ff5f 274.5px,#fdeb94 275.5px,#fed99c 276.5px,#ffcfa0 277.5px,#ffcba0 279.5px,#ffc7a0 352.5px,#ffb1a0 373.5px,#ffa9a7 374.5px,#ffadb3 377.5px,#ffb4c2 379.5px,#ffc6e7 382.5px,#ffc9ee 383.5px,#ffcbf1 385.5px,#ffcbf1 685.5px)"></i><i style="background:linear-gradient(90deg,#6b7aff 0,#6b7bff 31.5px,#6c74ff 40.5px,#6c76ff 65.5px,#69a8ff 142.5px,#67c7ff 163.5px,#66e0ff 168.5px,#66f2ff 173.5px,#66f5fe 174.5px,#66fcef 177.5px,#66ffe7 178.5px,#66ffb4 182.5px,#66ffa9 184.5px,#66ffa2 268.5px,#66ff9e 270.5px,#67ff8e 271.5px,#6fff6d 272.5px,#9fff62 273.5px,#ccff60 274.5px,#fcef92 275.5px,#fedc9a 276.5px,#ffd0a0 277.5px,#ffcba0 279.5px,#ffc7a0 352.5px,#ffafa1 374.5px,#ffa9aa 375.5px,#ffaeb5 378.5px,#ffb1bd 379.5px,#ffc8ec 383.5px,#ffcbf1 385.5px,#ffcbf1 685.5px)"></i><i style="background:linear-gradient(90deg,#6b7aff 0,#6b7bff 31.5px,#6c74ff 39.5px,#6c76ff 65.5px,#69a8ff 142.5px,#67c7ff 163.5px,#66e0ff 168.5px,#66f2ff 173.5px,#66f5fe 174.5px,#66fcef 177.5px,#66ffe7 178.5px,#66ffb4 182.5px,#66ffa9 184.5px,#66ffa2 268.5px,#66ff9f 270.5px,#67ff92 271.5px,#69ff70 272.5px,#95ff64 273.5px,#c3ff60 274.5px,#f3f483 275.5px,#fee099 276.5px,#ffd29f 277.5px,#ffcca0 278.5px,#ffc7a0 352.5px,#ffb1a0 374.5px,#ffa9a8 375.5px,#ffadb3 378.5px,#ffb4c3 380.5px,#ffc6e8 383.5px,#ffcaee 384.5px,#ffcbf1 386.5px,#ffcbf1 685.5px)"></i><i style="background:linear-gradient(90deg,#6b7aff 0,#6b7bff 30.5px,#6c74ff 38.5px,#6c76ff 65.5px,#69a8ff 142.5px,#67c7ff 163.5px,#66e0ff 168.5px,#66f2ff 173.5px,#66f5fe 174.5px,#66fcef 177.5px,#66ffe7 178.5px,#66ffb4 182.5px,#66ffa9 184.5px,#66ffa2 269.5px,#66ffa0 270.5px,#67ff95 271.5px,#68ff78 272.5px,#8bff67 273.5px,#baff61 274.5px,#e6fa70 275.5px,#fde497 276.5px,#ffd59e 277.5px,#ffcda0 278.5px,#ffcba0 280.5px,#ffc7a0 353.5px,#ffb1a0 374.5px,#ffaea2 375.5px,#ffa9aa 376.5px,#ffacb1 378.5px,#ffb2be 380.5px,#ffc4e3 383.5px,#ffc8ec 384.5px,#ffcbf1 386.5px,#ffcbf1 685.5px)"></i><i style="background:linear-gradient(90deg,#6b7aff 0,#6b7bff 29.5px,#6c74ff 38.5px,#6c76ff 65.5px,#69a8ff 142.5px,#67c7ff 163.5px,#66e0ff 168.5px,#66f2ff 173.5px,#66f5fe 174.5px,#66fcef 177.5px,#66ffe7 178.5px,#66ffb4 182.5px,#66ffa9 184.5px,#66ffa1 270.5px,#67ff99 271.5px,#68ff80 272.5px,#81ff69 273.5px,#b0ff61 274.5px,#daff60 275.5px,#fde795 276.5px,#fed79d 277.5px,#ffcea0 278.5px,#ffcba0 280.5px,#ffc6a0 354.5px,#ffb1a0 375.5px,#ffa8a8 376.5px,#ffadb4 379.5px,#ffb5c4 381.5px,#ffc7e9 384.5px,#ffcbf1 386.5px,#ffcbf1 685.5px)"></i><i style="background:linear-gradient(90deg,#6b7aff 0,#6b7bff 29.5px,#6c74ff 37.5px,#6c76ff 65.5px,#69a8ff 142.5px,#67c7ff 163.5px,#66e0ff 168.5px,#66f2ff 173.5px,#66f5fe 174.5px,#66fcef 177.5px,#66ffe7 178.5px,#66ffb4 182.5px,#66ffa9 184.5px,#66ffa2 269.5px,#67ff9c 271.5px,#68ff88 272.5px,#77ff6b 273.5px,#a7ff62 274.5px,#d2ff5f 275.5px,#fceb93 276.5px,#feda9b 277.5px,#ffcfa0 278.5px,#ffcba0 280.5px,#ffc7a0 354.5px,#ffb1a0 375.5px,#ffa9aa 377.5px,#ffacb2 379.5px,#ffb2bf 381.5px,#ffc4e4 384.5px,#ffc9ed 385.5px,#ffcbf1 387.5px,#ffcbf1 685.5px)"></i><i style="background:linear-gradient(90deg,#6b7aff 0,#6b7bff 29.5px,#6c74ff 37.5px,#6c76ff 66.5px,#69a9ff 143.5px,#67c7ff 163.5px,#66e0ff 168.5px,#66f5fe 174.5px,#66ffe8 178.5px,#66ffb4 182.5px,#66ffa9 184.5px,#66ffa2 269.5px,#66ff9f 271.5px,#67ff8e 272.5px,#6eff6d 273.5px,#9dff63 274.5px,#cbff60 275.5px,#fbef90 276.5px,#fedd9a 277.5px,#ffd0a0 278.5px,#ffcba0 280.5px,#ffc6a0 355.5px,#ffb0a0 376.5px,#ffa8a9 377.5px,#ffadb4 380.5px,#ffb5c5 382.5px,#ffc7e9 385.5px,#ffcbf1 387.5px,#ffcbf1 685.5px)"></i><i style="background:linear-gradient(90deg,#6b7aff 0,#6b7bff 28.5px,#6c74ff 36.5px,#6c76ff 66.5px,#69a9ff 143.5px,#67c7ff 163.5px,#66e0ff 168.5px,#66f5fe 174.5px,#66ffe8 178.5px,#66ffb4 182.5px,#66ffa9 184.5px,#66ffa2 269.5px,#66ffa0 271.5px,#67ff92 272.5px,#69ff71 273.5px,#93ff65 274.5px,#c2ff60 275.5px,#f1f580 276.5px,#fde098 277.5px,#ffd29f 278.5px,#ffcda0 279.5px,#ffc7a0 355.5px,#ffb1a0 376.5px,#ffa9aa 378.5px,#ffacb2 380.5px,#ffb3c0 382.5px,#ffc5e5 385.5px,#ffc9ed 386.5px,#ffcbf1 388.5px,#ffcbf1 685.5px)"></i><i style="background:linear-gradient(90deg,#6b7aff 0,#6b7bff 27.5px,#6c74ff 36.5px,#6c76ff 66.5px,#69a9ff 143.5px,#67c7ff 163.5px,#66e0ff 168.5px,#66f5ff 174.5px,#66ffe8 178.5px,#66ffb4 182.5px,#66ffa9 184.5px,#66ffa2 270.5px,#66ffa0 271.5px,#67ff96 272.5px,#68ff79 273.5px,#89ff67 274.5px,#b8ff61 275.5px,#e4fb6d 276.5px,#fde497 277.5px,#ffd59e 278.5px,#ffcda0 279.5px,#ffcba0 281.5px,#ffc6a0 356.5px,#ffb0a0 377.5px,#ffa8a9 378.5px,#ffaeb4 381.5px,#ffb1bb 382.5px,#ffc7ea 386.5px,#ffcbf1 388.5px,#ffcbf1 685.5px)"></i><i style="background:linear-gradient(90deg,#6b7aff 0,#6b7bff 27.5px,#6c74ff 35.5px,#6c76ff 66.5px,#69a8ff 142.5px,#67c7ff 163.5px,#66e0ff 168.5px,#66f2ff 173.5px,#66f5ff 174.5px,#66ffe8 178.5px,#66ffb4 182.5px,#66ffa9 184.5px,#66ffa1 271.5px,#67ff99 272.5px,#68ff81 273.5px,#7fff69 274.5px,#afff61 275.5px,#d8ff5f 276.5px,#fde895 277.5px,#fed89c 278.5px,#ffcea0 279.5px,#ffcba0 281.5px,#ffc7a0 356.5px,#ffb1a0 377.5px,#ffaaa6 378.5px,#ffa9ab 379.5px,#ffadb2 381.5px,#ffb3c1 383.5px,#ffc5e6 386.5px,#ffc9ed 387.5px,#ffcbf1 389.5px,#ffcbf1 685.5px)"></i><i style="background:linear-gradient(90deg,#6b7aff 0,#6b7bff 26.5px,#6c74ff 34.5px,#6c76ff 66.5px,#69a8ff 142.5px,#67c7ff 163.5px,#66e0ff 168.5px,#66f2ff 173.5px,#66f5ff 174.5px,#66ffe8 178.5px,#66ffb4 182.5px,#66ffa9 184.5px,#66ffa2 270.5px,#67ff9d 272.5px,#68ff89 273.5px,#76ff6b 274.5px,#a5ff62 275.5px,#d1ff5f 276.5px,#fcec93 277.5px,#feda9b 278.5px,#ffcfa0 279.5px,#ffcba0 281.5px,#ffc7a0 356.5px,#ffb0a0 378.5px,#ffa9a9 379.5px,#ffaeb5 382.5px,#ffb1bc 383.5px,#ffc8eb 387.5px,#ffcbf1 389.5px,#ffcbf1 685.5px)"></i><i style="background:linear-gradient(90deg,#6b7aff 0,#6b7bff 25.5px,#6c74ff 34.5px,#6c76ff 66.5px,#69a9ff 143.5px,#67c7ff 163.5px,#66e0ff 168.5px,#66f5ff 174.5px,#66ffe8 178.5px,#66ffb4 182.5px,#66ffa9 184.5px,#66ffa2 270.5px,#66ff9f 272.5px,#67ff8f 273.5px,#6dff6d 274.5px,#9cff63 275.5px,#c9ff60 276.5px,#faf08f 277.5px,#fedd9a 278.5px,#ffd0a0 279.5px,#ffcca0 280.5px,#ffcba0 282.5px,#ffc6a0 357.5px,#ffb1a0 378.5px,#ffa9a7 379.5px,#ffadb3 382.5px,#ffb3c2 384.5px,#ffc6e7 387.5px,#ffc9ee 388.5px,#ffcbf1 390.5px,#ffcbf1 685.5px)"></i><i style="background:linear-gradient(90deg,#6b7aff 0,#6b7bff 25.5px,#6c74ff 33.5px,#6c76ff 66.5px,#69a9ff 143.5px,#67c7ff 163.5px,#66e0ff 168.5px,#66f5ff 174.5px,#66ffe8 178.5px,#66ffb4 182.5px,#66ffa9 184.5px,#66ffa2 270.5px,#66ffa0 272.5px,#67ff93 273.5px,#69ff72 274.5px,#92ff65 275.5px,#c0ff60 276.5px,#eff67d 277.5px,#fde198 278.5px,#ffd39f 279.5px,#ffcda0 280.5px,#ffc7a0 357.5px,#ffafa1 379.5px,#ffa9a9 380.5px,#ffaeb5 383.5px,#ffb1bd 384.5px,#ffc8eb 388.5px,#ffcbf1 390.5px,#ffcbf1 685.5px)"></i><i style="background:linear-gradient(90deg,#6b7aff 0,#6b7bff 24.5px,#6c74ff 32.5px,#6c76ff 66.5px,#69a9ff 143.5px,#67c7ff 163.5px,#66e0ff 168.5px,#66f5ff 174.5px,#66ffe8 178.5px,#66ffb4 182.5px,#66ffa9 184.5px,#66ffa2 271.5px,#66ffa0 272.5px,#67ff96 273.5px,#68ff7a 274.5px,#88ff67 275.5px,#b7ff61 276.5px,#e1fc6a 277.5px,#fde596 278.5px,#fed59d 279.5px,#ffcda0 280.5px,#ffcba0 282.5px,#ffc6a0 358.5px,#ffb1a0 379.5px,#ffa9a7 380.5px,#ffadb3 383.5px,#ffb4c3 385.5px,#ffc6e7 388.5px,#ffc9ee 389.5px,#ffcbf1 391.5px,#ffcbf1 685.5px)"></i><i style="background:linear-gradient(90deg,#6b7aff 0,#6b7bff 23.5px,#6c74ff 32.5px,#6c76ff 66.5px,#69a9ff 143.5px,#67c7ff 163.5px,#66e0ff 168.5px,#66f5ff 174.5px,#66ffe8 178.5px,#66ffb5 182.5px,#66ffa9 184.5px,#66ffa2 271.5px,#66ffa1 272.5px,#67ff9a 273.5px,#68ff83 274.5px,#7eff69 275.5px,#adff61 276.5px,#d7ff5f 277.5px,#fde994 278.5px,#fed89c 279.5px,#ffcea0 280.5px,#ffcba0 282.5px,#ffc7a0 358.5px,#ffb1a0 379.5px,#ffaea2 380.5px,#ffa9aa 381.5px,#ffacb1 383.5px,#ffb2bd 385.5px,#ffc4e3 388.5px,#ffc8ec 389.5px,#ffcbf1 391.5px,#ffcbf1 685.5px)"></i><i style="background:linear-gradient(90deg,#6b7aff 0,#6b7bff 23.5px,#6c74ff 31.5px,#6c76ff 66.5px,#69a9ff 143.5px,#67c7ff 163.5px,#66e0ff 168.5px,#66f5ff 174.5px,#66ffe8 178.5px,#66ffb5 182.5px,#66ffa9 184.5px,#66ffa2 271.5px,#67ff9d 273.5px,#68ff8a 274.5px,#74ff6c 275.5px,#a4ff62 276.5px,#d0ff60 277.5px,#fcec93 278.5px,#fedb9b 279.5px,#ffcfa0 280.5px,#ffcba0 282.5px,#ffc6a0 359.5px,#ffb1a0 380.5px,#ffa8a8 381.5px,#ffadb3 384.5px,#ffb4c4 386.5px,#ffc6e8 389.5px,#ffcbf1 391.5px,#ffcbf1 685.5px)"></i><i style="background:linear-gradient(90deg,#6b7aff 0,#6b7bff 22.5px,#6c74ff 30.5px,#6c76ff 67.5px,#69a9ff 143.5px,#67c7ff 163.5px,#66e0ff 168.5px,#66f5ff 174.5px,#66ffe8 178.5px,#66ffb5 182.5px,#66ffa9 184.5px,#66ffa2 271.5px,#66ff9f 273.5px,#67ff90 274.5px,#6bff6d 275.5px,#9aff63 276.5px,#c8ff60 277.5px,#f9f18d 278.5px,#fede99 279.5px,#ffd1a0 280.5px,#ffcca0 281.5px,#ffcba0 283.5px,#ffc7a0 359.5px,#ffb1a0 380.5px,#ffa9aa 382.5px,#ffacb1 384.5px,#ffb2be 386.5px,#ffc4e4 389.5px,#ffc9ec 390.5px,#ffcbf1 392.5px,#ffcbf1 685.5px)"></i><i style="background:linear-gradient(90deg,#6b7aff 0,#6b7aff 22.5px,#6c74ff 30.5px,#6c76ff 67.5px,#69a9ff 143.5px,#67c7ff 163.5px,#66e0ff 168.5px,#66f5ff 174.5px,#66ffe8 178.5px,#66ffb5 182.5px,#66ffa9 184.5px,#66ffa2 271.5px,#66ffa0 273.5px,#67ff93 274.5px,#69ff74 275.5px,#90ff65 276.5px,#bfff60 277.5px,#ecf77a 278.5px,#fde298 279.5px,#ffd39e 280.5px,#ffcda0 281.5px,#ffcba0 283.5px,#ffc6a0 360.5px,#ffb0a0 381.5px,#ffa8a9 382.5px,#ffadb4 385.5px,#ffb5c5 387.5px,#ffc7e9 390.5px,#ffcbf1 392.5px,#ffcbf1 685.5px)"></i><i style="background:linear-gradient(90deg,#6b7aff 0,#6b7aff 21.5px,#6c74ff 29.5px,#6c76ff 67.5px,#69a9ff 143.5px,#67c7ff 163.5px,#66e0ff 168.5px,#66f5ff 174.5px,#66ffe9 178.5px,#66ffb5 182.5px,#66ffa9 184.5px,#66ffa2 272.5px,#66ffa1 273.5px,#67ff97 274.5px,#68ff7c 275.5px,#86ff68 276.5px,#b5ff61 277.5px,#dffd67 278.5px,#fde596 279.5px,#fed69d 280.5px,#ffcea0 281.5px,#ffcba0 283.5px,#ffc7a0 360.5px,#ffb1a0 381.5px,#ffa9aa 383.5px,#ffacb2 385.5px,#ffb2bf 387.5px,#ffc5e5 390.5px,#ffc9ed 391.5px,#ffcbf1 393.5px,#ffcbf1 685.5px)"></i><i style="background:linear-gradient(90deg,#6b7aff 0,#6b7aff 20.5px,#6c74ff 28.5px,#6c76ff 67.5px,#69a9ff 143.5px,#67c7ff 163.5px,#66e0ff 168.5px,#66f5ff 174.5px,#66ffe9 178.5px,#66ffb5 182.5px,#66ffa9 184.5px,#66ffa2 272.5px,#66ffa1 273.5px,#67ff9a 274.5px,#68ff84 275.5px,#7cff6a 276.5px,#acff61 277.5px,#d6ff5f 278.5px,#fde994 279.5px,#fed89c 280.5px,#ffcea0 281.5px,#ffcba0 283.5px,#ffc6a0 361.5px,#ffb0a0 382.5px,#ffa8a9 383.5px,#ffadb4 386.5px,#ffb0bb 387.5px,#ffc7ea 391.5px,#ffcbf1 393.5px,#ffcbf1 685.5px)"></i><i style="background:linear-gradient(90deg,#6b7aff 0,#6b7aff 20.5px,#6c74ff 28.5px,#6c76ff 67.5px,#69a9ff 143.5px,#67c7ff 163.5px,#66e0ff 168.5px,#66f5ff 174.5px,#66ffe9 178.5px,#66ffb5 182.5px,#66ffa9 184.5px,#66ffa2 272.5px,#67ff9e 274.5px,#67ff8b 275.5px,#73ff6c 276.5px,#a2ff62 277.5px,#cfff60 278.5px,#fced92 279.5px,#fedb9b 280.5px,#ffcfa0 281.5px,#ffcba0 283.5px,#ffc7a0 361.5px,#ffb1a0 382.5px,#ffa9ab 384.5px,#ffadb2 386.5px,#ffb3c0 388.5px,#ffc5e6 391.5px,#ffc9ed 392.5px,#ffcbf1 394.5px,#ffcbf1 685.5px)"></i><i style="background:linear-gradient(90deg,#6b7aff 0,#6b7aff 19.5px,#6c74ff 27.5px,#6c76ff 67.5px,#69a9ff 143.5px,#67c7ff 163.5px,#66dfff 168.5px,#66f5ff 174.5px,#66ffe9 178.5px,#66ffb5 182.5px,#66ffa9 184.5px,#66ffa2 272.5px,#66ff9f 274.5px,#67ff90 275.5px,#6aff6e 276.5px,#98ff64 277.5px,#c7ff60 278.5px,#f7f28a 279.5px,#fede99 280.5px,#ffd19f 281.5px,#ffcca0 282.5px,#ffcba0 284.5px,#ffcba0 332.5px,#ffc6a0 362.5px,#ffb0a0 383.5px,#ffa8a9 384.5px,#ffaeb5 387.5px,#ffb1bb 388.5px,#ffc8ea 392.5px,#ffcbf1 394.5px,#ffcbf1 685.5px)"></i><i style="background:linear-gradient(90deg,#6b7aff 0,#6b7aff 18.5px,#6c74ff 26.5px,#6c76ff 67.5px,#69a8ff 142.5px,#67c7ff 163.5px,#66dfff 168.5px,#66f5ff 174.5px,#66ffe9 178.5px,#66ffb5 182.5px,#66ffa9 184.5px,#66ffa2 272.5px,#66ffa0 274.5px,#67ff94 275.5px,#69ff75 276.5px,#8fff66 277.5px,#bdff60 278.5px,#eaf877 279.5px,#fde297 280.5px,#ffd49e 281.5px,#ffcda0 282.5px,#ffcba0 284.5px,#ffc6a0 362.5px,#ffb1a0 383.5px,#ffaaa6 384.5px,#ffadb2 387.5px,#ffb3c1 389.5px,#ffc6e6 392.5px,#ffc9ee 393.5px,#ffcbf1 395.5px,#ffcbf1 685.5px)"></i><i style="background:linear-gradient(90deg,#6b7aff 0,#6b7aff 18.5px,#6c73ff 26.5px,#6c76ff 67.5px,#69a8ff 142.5px,#67c7ff 163.5px,#66dfff 168.5px,#66f5ff 174.5px,#66ffe9 178.5px,#66ffb5 182.5px,#66ffac 183.5px,#66ffa9 184.5px,#66ffa2 273.5px,#66ffa1 274.5px,#67ff97 275.5px,#68ff7d 276.5px,#85ff68 277.5px,#b4ff61 278.5px,#ddfe64 279.5px,#fde696 280.5px,#fed69d 281.5px,#ffcea0 282.5px,#ffcba0 284.5px,#ffcba0 332.5px,#ffc6a0 363.5px,#ffb2a0 383.5px,#ffafa1 384.5px,#ffa9a9 385.5px,#ffaeb5 388.5px,#ffb1bc 389.5px,#ffc8eb 393.5px,#ffcbf1 395.5px,#ffcbf1 685.5px)"></i><i style="background:linear-gradient(90deg,#6b7aff 0,#6b7aff 17.5px,#6c73ff 25.5px,#6c76ff 67.5px,#69a8ff 142.5px,#67c7ff 163.5px,#66dfff 168.5px,#66f5ff 174.5px,#66ffe9 178.5px,#66ffb5 182.5px,#66ffac 183.5px,#66ffa9 184.5px,#66ffa2 273.5px,#66ffa1 274.5px,#67ff9b 275.5px,#68ff85 276.5px,#7bff6a 277.5px,#aaff61 278.5px,#d5ff5f 279.5px,#fdea94 280.5px,#fed99c 281.5px,#ffcea0 282.5px,#ffcba0 284.5px,#ffc6a0 363.5px,#ffb1a0 384.5px,#ffa9a7 385.5px,#ffadb3 388.5px,#ffb4c2 390.5px,#ffc6e7 393.5px,#ffc9ee 394.5px,#ffcbf1 396.5px,#ffcbf1 685.5px)"></i><i style="background:linear-gradient(90deg,#6b7aff 0,#6b7aff 16.5px,#6c73ff 24.5px,#6c76ff 67.5px,#69a8ff 142.5px,#67c7ff 163.5px,#66dfff 168.5px,#66f5ff 174.5px,#66ffe9 178.5px,#66ffb5 182.5px,#66ffac 183.5px,#66ffa9 184.5px,#66ffa2 273.5px,#67ff9e 275.5px,#67ff8c 276.5px,#71ff6c 277.5px,#a1ff62 278.5px,#ceff60 279.5px,#fcee92 280.5px,#fedc9b 281.5px,#ffcfa0 282.5px,#ffcba0 284.5px,#ffc7a0 363.5px,#ffb1a0 384.5px,#ffafa1 385.5px,#ffa9aa 386.5px,#ffaeb6 389.5px,#ffb1bd 390.5px,#ffc8ec 394.5px,#ffcbf1 396.5px,#ffcbf1 685.5px)"></i><i style="background:linear-gradient(90deg,#6b7aff 0,#6b7aff 16.5px,#6c73ff 24.5px,#6c76ff 68.5px,#69a8ff 142.5px,#67c7ff 163.5px,#66dfff 168.5px,#66f5ff 174.5px,#66fee9 178.5px,#66ffb5 182.5px,#66ffac 183.5px,#66ffa9 184.5px,#66ffa2 273.5px,#66ff9f 275.5px,#67ff91 276.5px,#6aff6f 277.5px,#97ff64 278.5px,#c5ff60 279.5px,#f5f387 280.5px,#fedf99 281.5px,#ffd29f 282.5px,#ffcca0 283.5px,#ffc6a0 364.5px,#ffb1a0 385.5px,#ffa8a8 386.5px,#ffadb3 389.5px,#ffb4c3 391.5px,#ffc6e8 394.5px,#ffcaee 395.5px,#ffcbf1 397.5px,#ffcbf1 685.5px)"></i><i style="background:linear-gradient(90deg,#6b7aff 0,#6b7aff 15.5px,#6c73ff 23.5px,#6c76ff 68.5px,#69a8ff 142.5px,#67c7ff 163.5px,#66dfff 168.5px,#66f5ff 174.5px,#66fee9 178.5px,#66ffb6 182.5px,#66ffac 183.5px,#66ffa9 184.5px,#66ffa2 273.5px,#66ffa0 275.5px,#67ff95 276.5px,#69ff76 277.5px,#8dff66 278.5px,#bcff61 279.5px,#e8f974 280.5px,#fde397 281.5px,#ffd49e 282.5px,#ffcda0 283.5px,#ffcba0 285.5px,#ffc7a0 364.5px,#ffb1a0 385.5px,#ffa9aa 387.5px,#ffacb1 389.5px,#ffb2be 391.5px,#ffc4e4 394.5px,#ffc9ec 395.5px,#ffcbf1 397.5px,#ffcbf1 685.5px)"></i><i style="background:linear-gradient(90deg,#6b7aff 0,#6b7aff 14.5px,#6c73ff 22.5px,#6c76ff 68.5px,#69a8ff 142.5px,#67c7ff 163.5px,#66dfff 168.5px,#66f5ff 174.5px,#66fee9 178.5px,#66ffb6 182.5px,#66ffad 183.5px,#66ffa9 184.5px,#66ffa2 274.5px,#66ffa1 275.5px,#67ff98 276.5px,#68ff7e 277.5px,#83ff68 278.5px,#b2ff61 279.5px,#dcfe62 280.5px,#fde795 281.5px,#fed79d 282.5px,#ffcea0 283.5px,#ffcba0 285.5px,#ffc6a0 365.5px,#ffb0a0 386.5px,#ffa8a8 387.5px,#ffadb4 390.5px,#ffb5c4 392.5px,#ffc7e9 395.5px,#ffcbf1 397.5px,#ffcbf1 685.5px)"></i><i style="background:linear-gradient(90deg,#6b7aff 0,#6b7aff 14.5px,#6c73ff 22.5px,#6c76ff 68.5px,#69a8ff 142.5px,#67c7ff 163.5px,#66dfff 168.5px,#66f5ff 174.5px,#66fee9 178.5px,#66ffb6 182.5px,#66ffad 183.5px,#66ffa9 184.5px,#66ffa2 274.5px,#67ff9b 276.5px,#68ff86 277.5px,#79ff6a 278.5px,#a9ff62 279.5px,#d4ff5f 280.5px,#fdea94 281.5px,#fed99c 282.5px,#ffcfa0 283.5px,#ffcba0 285.5px,#ffc7a0 365.5px,#ffb1a0 386.5px,#ffa9aa 388.5px,#ffacb2 390.5px,#ffb2bf 392.5px,#ffc4e4 395.5px,#ffc9ed 396.5px,#ffcbf1 398.5px,#ffcbf1 685.5px)"></i><i style="background:linear-gradient(90deg,#6b7aff 0,#6b7aff 13.5px,#6c73ff 21.5px,#6c76ff 68.5px,#69a8ff 142.5px,#67c7ff 163.5px,#66dfff 168.5px,#66f5ff 174.5px,#66fee9 178.5px,#66ffb6 182.5px,#66ffad 183.5px,#66ffa9 184.5px,#66ffa2 274.5px,#67ff9e 276.5px,#67ff8d 277.5px,#70ff6d 278.5px,#9fff62 279.5px,#cdff60 280.5px,#fcee92 281.5px,#fedc9a 282.5px,#ffd0a0 283.5px,#ffcba0 285.5px,#ffc6a0 366.5px,#ffb0a0 387.5px,#ffa8a9 388.5px,#ffadb4 391.5px,#ffb5c5 393.5px,#ffc7e9 396.5px,#ffcbf1 398.5px,#ffcbf1 685.5px)"></i><i style="background:linear-gradient(90deg,#6b7aff 0,#6b7aff 13.5px,#6c73ff 20.5px,#6c76ff 68.5px,#69a8ff 142.5px,#67c7ff 163.5px,#66dfff 168.5px,#66f5ff 174.5px,#66feea 178.5px,#66ffb6 182.5px,#66ffad 183.5px,#66ffa9 184.5px,#66ffa2 274.5px,#66ff9f 276.5px,#67ff92 277.5px,#69ff70 278.5px,#95ff64 279.5px,#c4ff60 280.5px,#f3f484 281.5px,#fee099 282.5px,#ffd29f 283.5px,#ffcca0 284.5px,#ffc7a0 366.5px,#ffb1a0 387.5px,#ffa9aa 389.5px,#ffacb2 391.5px,#ffb3c0 393.5px,#ffc5e5 396.5px,#ffc9ed 397.5px,#ffcbf1 399.5px,#ffcbf1 685.5px)"></i><i style="background:linear-gradient(90deg,#6b7aff 0,#6b7aff 12.5px,#6c73ff 20.5px,#6c76ff 68.5px,#69a8ff 142.5px,#67c7ff 163.5px,#66dfff 168.5px,#66f5ff 174.5px,#66feea 178.5px,#66ffb6 182.5px,#66ffad 183.5px,#66ffa9 184.5px,#66ffa2 275.5px,#66ffa0 276.5px,#67ff95 277.5px,#69ff77 278.5px,#8bff66 279.5px,#baff61 280.5px,#e6fa71 281.5px,#fde397 282.5px,#ffd49e 283.5px,#ffcda0 284.5px,#ffcba0 286.5px,#ffcba0 336.5px,#ffc6a0 367.5px,#ffb0a0 388.5px,#ffa8a9 389.5px,#ffaeb4 392.5px,#ffb1bb 393.5px,#ffc7ea 397.5px,#ffcbf1 399.5px,#ffcbf1 685.5px)"></i><i style="background:linear-gradient(90deg,#6b7aff 0,#6b7aff 11.5px,#6c73ff 19.5px,#6c76ff 68.5px,#69a8ff 142.5px,#67c7ff 163.5px,#66dfff 168.5px,#66f5ff 174.5px,#66feea 178.5px,#66ffb6 182.5px,#66ffad 183.5px,#66ffa9 184.5px,#66ffa1 276.5px,#67ff99 277.5px,#68ff80 278.5px,#81ff69 279.5px,#b1ff61 280.5px,#dafe61 281.5px,#fde795 282.5px,#fed79d 283.5px,#ffcea0 284.5px,#ffcba0 286.5px,#ffc6a0 367.5px,#ffb1a0 388.5px,#ffaaa6 389.5px,#ffadb2 392.5px,#ffb3c1 394.5px,#ffc5e6 397.5px,#ffc9ed 398.5px,#ffcbf1 400.5px,#ffcbf1 685.5px)"></i><i style="background:linear-gradient(90deg,#6c79ff 0,#6c79ff 11.5px,#6c73ff 18.5px,#6c76ff 68.5px,#69a8ff 142.5px,#67c7ff 163.5px,#66dfff 168.5px,#66f5ff 174.5px,#66feea 178.5px,#66ffb6 182.5px,#66ffad 183.5px,#66ffa9 184.5px,#66ffa2 275.5px,#67ff9c 277.5px,#68ff88 278.5px,#78ff6b 279.5px,#a7ff62 280.5px,#d3ff5f 281.5px,#fceb93 282.5px,#feda9b 283.5px,#ffcfa0 284.5px,#ffcba0 286.5px,#ffc7a0 367.5px,#ffb0a1 389.5px,#ffa9a9 390.5px,#ffaeb5 393.5px,#ffb1bc 394.5px,#ffc8eb 398.5px,#ffcbf1 400.5px,#ffcbf1 685.5px)"></i><i style="background:linear-gradient(90deg,#6c78ff 0,#6c78ff 10.5px,#6c73ff 18.5px,#6c76ff 69.5px,#69a9ff 143.5px,#67c7ff 163.5px,#66dfff 168.5px,#66f5ff 174.5px,#66feea 178.5px,#66ffb6 182.5px,#66ffad 183.5px,#66ffa9 184.5px,#66ffa2 275.5px,#66ff9f 277.5px,#67ff8e 278.5px,#6eff6d 279.5px,#9eff63 280.5px,#cbff60 281.5px,#fcef91 282.5px,#fedd9a 283.5px,#ffd0a0 284.5px,#ffcba0 286.5px,#ffc6a0 368.5px,#ffb1a0 389.5px,#ffa9a7 390.5px,#ffadb3 393.5px,#ffb4c2 395.5px,#ffc6e7 398.5px,#ffc9ee 399.5px,#ffcbf1 401.5px,#ffcbf1 685.5px)"></i><i style="background:linear-gradient(90deg,#6c75ff 0,#6c76ff 69.5px,#69a9ff 143.5px,#67c6ff 163.5px,#66dfff 168.5px,#66f5ff 174.5px,#66feea 178.5px,#66ffb6 182.5px,#66ffad 183.5px,#66ffa9 184.5px,#66ffa2 275.5px,#66ffa0 277.5px,#67ff92 278.5px,#69ff71 279.5px,#94ff65 280.5px,#c2ff60 281.5px,#f1f581 282.5px,#fde098 283.5px,#ffd29f 284.5px,#ffcca0 285.5px,#ffc7a0 368.5px,#ffafa1 390.5px,#ffa9aa 391.5px,#ffaeb5 394.5px,#ffb1bd 395.5px,#ffc8eb 399.5px,#ffcbf1 401.5px,#ffcbf1 685.5px)"></i><i style="background:linear-gradient(90deg,#6c73ff 0,#6c76ff 69.5px,#69a9ff 143.5px,#67c6ff 163.5px,#66dfff 168.5px,#66f5ff 174.5px,#66feea 178.5px,#66ffb6 182.5px,#66ffad 183.5px,#66ffa9 184.5px,#66ffa2 276.5px,#66ffa0 277.5px,#67ff96 278.5px,#68ff79 279.5px,#8aff67 280.5px,#b9ff61 281.5px,#e4fa6e 282.5px,#fde497 283.5px,#ffd59e 284.5px,#ffcda0 285.5px,#ffcba0 287.5px,#ffc6a0 369.5px,#ffb1a0 390.5px,#ffa9a8 391.5px,#ffadb3 394.5px,#ffb4c3 396.5px,#ffc6e8 399.5px,#ffcaee 400.5px,#ffcbf1 402.5px,#ffcbf1 685.5px)"></i><i style="background:linear-gradient(90deg,#6c72ff 0,#6c76ff 69.5px,#69a9ff 143.5px,#67c6ff 163.5px,#66dfff 168.5px,#66f5ff 174.5px,#66feea 178.5px,#66ffb6 182.5px,#66ffad 183.5px,#66ffa9 184.5px,#66ffa1 277.5px,#67ff99 278.5px,#68ff81 279.5px,#80ff69 280.5px,#afff61 281.5px,#d9ff5f 282.5px,#fde895 283.5px,#fed79d 284.5px,#ffcea0 285.5px,#ffcba0 287.5px,#ffc7a0 369.5px,#ffb1a0 390.5px,#ffaea2 391.5px,#ffa9aa 392.5px,#ffacb1 394.5px,#ffb2be 396.5px,#ffc4e3 399.5px,#ffc8ec 400.5px,#ffcbf1 402.5px,#ffcbf1 685.5px)"></i><i style="background:linear-gradient(90deg,#6c72ff 0,#6c76ff 69.5px,#69a9ff 143.5px,#67c6ff 163.5px,#66dfff 168.5px,#66f5ff 174.5px,#66feea 178.5px,#66ffb6 182.5px,#66ffad 183.5px,#66ffa9 184.5px,#66ffa2 276.5px,#67ff9c 278.5px,#68ff89 279.5px,#76ff6b 280.5px,#a6ff62 281.5px,#d2ff5f 282.5px,#fcec93 283.5px,#feda9b 284.5px,#ffcfa0 285.5px,#ffcba0 287.5px,#ffc6a0 370.5px,#ffb1a0 391.5px,#ffa8a8 392.5px,#ffadb3 395.5px,#ffb4c4 397.5px,#ffc7e8 400.5px,#ffcbf1 402.5px,#ffcbf1 685.5px)"></i><i style="background:linear-gradient(90deg,#6c72ff 0,#6c76ff 69.5px,#69a9ff 143.5px,#67c6ff 163.5px,#66dfff 168.5px,#66f5ff 174.5px,#66feea 178.5px,#66ffb7 182.5px,#66ffad 183.5px,#66ffa9 184.5px,#66ffa2 276.5px,#66ff9f 278.5px,#67ff8f 279.5px,#6dff6d 280.5px,#9cff63 281.5px,#caff60 282.5px,#fbf08f 283.5px,#fedd9a 284.5px,#ffd0a0 285.5px,#ffcba0 288.5px,#ffc7a0 370.5px,#ffb1a0 391.5px,#ffa9aa 393.5px,#ffacb1 395.5px,#ffb2be 397.5px,#ffc4e4 400.5px,#ffc9ec 401.5px,#ffcbf1 403.5px,#ffcbf1 685.5px)"></i><i style="background:linear-gradient(90deg,#6c72ff 0,#6c76ff 69.5px,#69a9ff 143.5px,#67c6ff 163.5px,#66dfff 168.5px,#66f5ff 174.5px,#66feea 178.5px,#66ffb7 182.5px,#66ffad 183.5px,#66ffa9 184.5px,#66ffa2 276.5px,#66ffa0 278.5px,#67ff93 279.5px,#69ff72 280.5px,#92ff65 281.5px,#c1ff60 282.5px,#eff67e 283.5px,#fde198 284.5px,#ffd39f 285.5px,#ffcda0 286.5px,#ffc6a0 371.5px,#ffb0a0 392.5px,#ffa8a9 393.5px,#ffadb4 396.5px,#ffb5c5 398.5px,#ffc7e9 401.5px,#ffcbf1 403.5px,#ffcbf1 685.5px)"></i><i style="background:linear-gradient(90deg,#6c72ff 0,#6c76ff 69.5px,#69a9ff 143.5px,#67c6ff 163.5px,#66dfff 168.5px,#66f5ff 174.5px,#66feea 178.5px,#66ffb7 182.5px,#66ffad 183.5px,#66ffa9 184.5px,#66ffa2 277.5px,#66ffa0 278.5px,#67ff96 279.5px,#68ff7a 280.5px,#88ff67 281.5px,#b7ff61 282.5px,#e2fb6b 283.5px,#fde596 284.5px,#ffd59e 285.5px,#ffcda0 286.5px,#ffcba0 288.5px,#ffc7a0 371.5px,#ffb1a0 392.5px,#ffa9aa 394.5px,#ffacb2 396.5px,#ffb3bf 398.5px,#ffc5e5 401.5px,#ffc9ed 402.5px,#ffcbf1 404.5px,#ffcbf1 685.5px)"></i><i style="background:linear-gradient(90deg,#6c72ff 0,#6c76ff 69.5px,#69a9ff 143.5px,#67c6ff 163.5px,#66deff 168.5px,#66f5ff 174.5px,#66feeb 178.5px,#66ffb7 182.5px,#66ffad 183.5px,#66ffa9 184.5px,#66ffa1 278.5px,#67ff99 279.5px,#68ff81 280.5px,#80ff69 281.5px,#afff61 282.5px,#d9ff5f 283.5px,#fde895 284.5px,#fed79d 285.5px,#ffcea0 286.5px,#ffcba0 288.5px,#ffc7a0 371.5px,#ffb0a0 393.5px,#ffa8a9 394.5px,#ffaeb5 397.5px,#ffb1bb 398.5px,#ffc8eb 402.5px,#ffcbf1 404.5px,#ffcbf1 685.5px)"></i><i style="background:linear-gradient(90deg,#6c72ff 0,#6c76ff 69.5px,#69a9ff 143.5px,#67c6ff 163.5px,#66deff 168.5px,#66f4ff 174.5px,#66feeb 178.5px,#66ffb7 182.5px,#66ffad 183.5px,#66ffa9 184.5px,#66ffa2 277.5px,#66ffa1 278.5px,#67ff9b 279.5px,#68ff85 280.5px,#7bff6a 281.5px,#abff61 282.5px,#d5ff5f 283.5px,#fdea94 284.5px,#fed99c 285.5px,#ffcea0 286.5px,#ffcba0 288.5px,#ffc6a0 372.5px,#ffb1a0 393.5px,#ffa8a8 394.5px,#ffadb4 397.5px,#ffb5c4 399.5px,#ffc7e9 402.5px,#ffcbf1 404.5px,#ffcbf1 685.5px)"></i><i style="background:linear-gradient(90deg,#6c72ff 0,#6c76ff 69.5px,#69a9ff 143.5px,#67c6ff 163.5px,#66deff 168.5px,#66f4ff 174.5px,#66feeb 178.5px,#66ffb7 182.5px,#66ffad 183.5px,#66ffa9 184.5px,#66ffa2 277.5px,#67ff9c 279.5px,#68ff87 280.5px,#78ff6b 281.5px,#a8ff62 282.5px,#d3ff5f 283.5px,#fceb93 284.5px,#feda9c 285.5px,#ffcfa0 286.5px,#ffcba0 288.5px,#ffc6a0 372.5px,#ffb1a0 393.5px,#ffa8a8 394.5px,#ffadb3 397.5px,#ffb4c2 399.5px,#ffc6e7 402.5px,#ffc9ee 403.5px,#ffcbf1 405.5px,#ffcbf1 685.5px)"></i><i style="background:linear-gradient(90deg,#6c72ff 0,#6c76ff 69.5px,#69a9ff 143.5px,#67c6ff 163.5px,#66dfff 168.5px,#66f5ff 174.5px,#66feea 178.5px,#66ffb7 182.5px,#66ffad 183.5px,#66ffa9 184.5px,#66ffa2 277.5px,#67ff9d 279.5px,#68ff8a 280.5px,#75ff6b 281.5px,#a5ff62 282.5px,#d1ff5f 283.5px,#fcec93 284.5px,#feda9b 285.5px,#ffcfa0 286.5px,#ffcba0 288.5px,#ffc6a0 372.5px,#ffb1a0 393.5px,#ffaaa6 394.5px,#ffadb2 397.5px,#ffb3c1 399.5px,#ffc5e6 402.5px,#ffc9ed 403.5px,#ffcbf1 405.5px,#ffcbf1 685.5px)"></i><i style="background:linear-gradient(90deg,#6c72ff 0,#6c76ff 68.5px,#69a9ff 143.5px,#67c7ff 163.5px,#66dfff 168.5px,#66f5ff 174.5px,#66fee9 178.5px,#66ffb6 182.5px,#66ffad 183.5px,#66ffa9 184.5px,#66ffa2 277.5px,#67ff9e 279.5px,#67ff8c 280.5px,#72ff6c 281.5px,#a2ff62 282.5px,#cfff60 283.5px,#fced92 284.5px,#fedb9b 285.5px,#ffcfa0 286.5px,#ffcba0 288.5px,#ffc7a0 372.5px,#ffb1a0 393.5px,#ffa9aa 395.5px,#ffacb2 397.5px,#ffb2bf 399.5px,#ffc5e5 402.5px,#ffc9ed 403.5px,#ffcbf1 405.5px,#ffcbf1 685.5px)"></i><i style="background:linear-gradient(90deg,#6c72ff 0,#6c76ff 68.5px,#69a9ff 143.5px,#67c7ff 163.5px,#66e0ff 168.5px,#66f5ff 174.5px,#66ffe9 178.5px,#66ffb5 182.5px,#66ffa9 184.5px,#66ffa2 277.5px,#66ff9f 279.5px,#67ff8e 280.5px,#6fff6d 281.5px,#9eff62 282.5px,#ccff60 283.5px,#fcef92 284.5px,#fedc9a 285.5px,#ffd0a0 286.5px,#ffcba0 288.5px,#ffc7a0 372.5px,#ffb1a0 393.5px,#ffafa1 394.5px,#ffa9aa 395.5px,#ffaeb6 398.5px,#ffb1bd 399.5px,#ffc4e3 402.5px,#ffc9ec 403.5px,#ffcbf1 405.5px,#ffcbf1 685.5px)"></i><i style="background:linear-gradient(90deg,#6c72ff 0,#6c76ff 68.5px,#69a9ff 143.5px,#67c7ff 163.5px,#66e0ff 168.5px,#66f5ff 174.5px,#66ffe8 178.5px,#66ffb4 182.5px,#66ffa9 184.5px,#66ffa2 277.5px,#66ff9f 279.5px,#67ff90 280.5px,#6cff6d 281.5px,#9bff63 282.5px,#c9ff60 283.5px,#fbf090 284.5px,#fedd9a 285.5px,#ffd0a0 286.5px,#ffcca0 287.5px,#ffcba0 289.5px,#ffcba0 340.5px,#ffc6a0 373.5px,#ffb0a0 394.5px,#ffa9a9 395.5px,#ffaeb5 398.5px,#ffb1bc 399.5px,#ffc8eb 403.5px,#ffcbf1 405.5px,#ffcbf1 685.5px)"></i><i style="background:linear-gradient(90deg,#6c72ff 0,#6c76ff 68.5px,#69a9ff 143.5px,#67c7ff 163.5px,#66e0ff 168.5px,#66f2ff 173.5px,#66f5fe 174.5px,#66fcef 177.5px,#66ffe7 178.5px,#66ffb3 182.5px,#66ffa9 184.5px,#66ffa2 277.5px,#66ff9f 279.5px,#67ff91 280.5px,#6aff6e 281.5px,#98ff64 282.5px,#c6ff60 283.5px,#f7f289 284.5px,#fedf99 285.5px,#ffd19f 286.5px,#ffcca0 287.5px,#ffcba0 289.5px,#ffc6a0 373.5px,#ffb0a0 394.5px,#ffa8a9 395.5px,#ffadb4 398.5px,#ffb0bb 399.5px,#ffc7ea 403.5px,#ffcbf1 405.5px,#ffcbf1 685.5px)"></i><i style="background:linear-gradient(90deg,#6c72ff 0,#6c76ff 67.5px,#69a9ff 143.5px,#67c8ff 163.5px,#66e1ff 168.5px,#66f3ff 173.5px,#66f6fe 174.5px,#66fcef 177.5px,#66ffe6 178.5px,#66ffb3 182.5px,#66ffa8 184.5px,#66ffa2 277.5px,#66ff9f 279.5px,#67ff92 280.5px,#69ff70 281.5px,#95ff64 282.5px,#c3ff60 283.5px,#f3f483 284.5px,#fee099 285.5px,#ffd29f 286.5px,#ffcca0 287.5px,#ffc6a0 373.5px,#ffb1a0 394.5px,#ffa8a8 395.5px,#ffadb3 398.5px,#ffb4c4 400.5px,#ffc7e8 403.5px,#ffcbf1 405.5px,#ffcbf1 685.5px)"></i><i style="background:linear-gradient(90deg,#6c72ff 0,#6c76ff 67.5px,#69a9ff 143.5px,#67c8ff 163.5px,#66e1ff 168.5px,#66f3ff 173.5px,#66f6fd 174.5px,#66fcee 177.5px,#66ffe5 178.5px,#66ffb2 182.5px,#66ffa8 184.5px,#66ffa2 277.5px,#66ffa0 279.5px,#67ff93 280.5px,#69ff72 281.5px,#92ff65 282.5px,#c0ff60 283.5px,#eef67d 284.5px,#fde198 285.5px,#ffd39f 286.5px,#ffcda0 287.5px,#ffc6a0 373.5px,#ffb1a0 394.5px,#ffa9a7 395.5px,#ffadb3 398.5px,#ffb4c2 400.5px,#ffc6e7 403.5px,#ffc9ee 404.5px,#ffcbf1 406.5px,#ffcbf1 685.5px)"></i><i style="background:linear-gradient(90deg,#6c72ff 0,#6c76ff 67.5px,#69a9ff 143.5px,#67c8ff 163.5px,#66e1ff 168.5px,#66f3ff 173.5px,#66fded 177.5px,#66ffe4 178.5px,#66ffb1 182.5px,#66ffa8 184.5px,#66ffa2 277.5px,#66ffa0 279.5px,#67ff94 280.5px,#69ff75 281.5px,#8eff66 282.5px,#bdff60 283.5px,#eaf877 284.5px,#fde297 285.5px,#ffd49e 286.5px,#ffcda0 287.5px,#ffcba0 289.5px,#ffc6a0 373.5px,#ffb1a0 394.5px,#ffa9ab 396.5px,#ffadb2 398.5px,#ffb3c0 400.5px,#ffc5e6 403.5px,#ffc9ed 404.5px,#ffcbf1 406.5px,#ffcbf1 685.5px)"></i><i style="background:linear-gradient(90deg,#6c72ff 0,#6c76ff 66.5px,#69a9ff 143.5px,#67c8ff 163.5px,#66e1ff 168.5px,#66f3ff 173.5px,#66fded 177.5px,#66ffb0 182.5px,#66ffa8 184.5px,#66ffa2 277.5px,#66ffa0 279.5px,#67ff95 280.5px,#68ff78 281.5px,#8bff67 282.5px,#baff61 283.5px,#e6fa71 284.5px,#fde397 285.5px,#ffd59e 286.5px,#ffcda0 287.5px,#ffcba0 289.5px,#ffc7a0 373.5px,#ffb1a0 394.5px,#ffa9aa 396.5px,#ffacb1 398.5px,#ffb2be 400.5px,#ffc4e4 403.5px,#ffc9ed 404.5px,#ffcbf1 406.5px,#ffcbf1 685.5px)"></i><i style="background:linear-gradient(90deg,#6c72ff 0,#6c76ff 66.5px,#69a9ff 143.5px,#67c6ff 162.5px,#67ccff 164.5px,#66e2ff 168.5px,#66f4ff 173.5px,#66fdec 177.5px,#66ffaf 182.5px,#66ffa8 184.5px,#66ffa2 277.5px,#66ffa0 279.5px,#67ff96 280.5px,#68ff7a 281.5px,#88ff67 282.5px,#b7ff61 283.5px,#e2fc6a 284.5px,#fde596 285.5px,#fed59d 286.5px,#ffcda0 287.5px,#ffcba0 289.5px,#ffcba0 341.5px,#ffc6a0 374.5px,#ffb2a0 394.5px,#ffafa1 395.5px,#ffa9aa 396.5px,#ffaeb5 399.5px,#ffb1bd 400.5px,#ffc4e3 403.5px,#ffc8ec 404.5px,#ffcbf1 406.5px,#ffcbf1 685.5px)"></i><i style="background:linear-gradient(90deg,#6c72ff 0,#6c76ff 66.5px,#69a9ff 143.5px,#67c6ff 162.5px,#66e2ff 168.5px,#66f4ff 173.5px,#66fdec 177.5px,#66ffaf 182.5px,#66ffa8 184.5px,#66ffa2 277.5px,#66ffa1 279.5px,#67ff97 280.5px,#68ff7d 281.5px,#85ff68 282.5px,#b4ff61 283.5px,#defd64 284.5px,#fde696 285.5px,#fed69d 286.5px,#ffcea0 287.5px,#ffcba0 289.5px,#ffc6a0 374.5px,#ffb0a0 395.5px,#ffa8a9 396.5px,#ffaeb5 399.5px,#ffb1bb 400.5px,#ffc8eb 404.5px,#ffcbf1 406.5px,#ffcbf1 685.5px)"></i><i style="background:linear-gradient(90deg,#6c72ff 0,#6c76ff 66.5px,#69a9ff 143.5px,#67c6ff 162.5px,#66e2ff 168.5px,#66f4ff 173.5px,#66feeb 177.5px,#66ffae 182.5px,#66ffa8 184.5px,#66ffa1 279.5px,#67ff99 280.5px,#68ff7f 281.5px,#82ff69 282.5px,#b1ff61 283.5px,#daff5f 284.5px,#fde795 285.5px,#fed79d 286.5px,#ffcea0 287.5px,#ffcba0 289.5px,#ffc6a0 374.5px,#ffb0a0 395.5px,#ffa8a9 396.5px,#ffadb4 399.5px,#ffb5c5 401.5px,#ffc7ea 404.5px,#ffcbf1 406.5px,#ffcbf1 685.5px)"></i><i style="background:linear-gradient(90deg,#6c72ff 0,#6c76ff 65.5px,#69a9ff 143.5px,#67c6ff 162.5px,#66deff 167.5px,#66f4ff 173.5px,#66feeb 177.5px,#66ffad 182.5px,#66ffa8 184.5px,#66ffa1 279.5px,#67ff9a 280.5px,#68ff82 281.5px,#7eff69 282.5px,#aeff61 283.5px,#d7ff5f 284.5px,#fde895 285.5px,#fed89c 286.5px,#ffcea0 287.5px,#ffcba0 289.5px,#ffc6a0 374.5px,#ffb1a0 395.5px,#ffa8a8 396.5px,#ffadb3 399.5px,#ffb4c3 401.5px,#ffc6e8 404.5px,#ffcbf1 406.5px,#ffcbf1 685.5px)"></i><i style="background:linear-gradient(90deg,#6c72ff 0,#6c76ff 65.5px,#69a9ff 143.5px,#67c7ff 162.5px,#66dfff 167.5px,#66f5ff 173.5px,#66feea 177.5px,#66ffb6 181.5px,#66ffad 182.5px,#66ffa9 183.5px,#66ffa2 278.5px,#66ffa1 279.5px,#67ff9b 280.5px,#68ff85 281.5px,#7bff6a 282.5px,#abff61 283.5px,#d5ff5f 284.5px,#fdea94 285.5px,#fed99c 286.5px,#ffcea0 287.5px,#ffcba0 289.5px,#ffc6a0 374.5px,#ffb1a0 395.5px,#ffa9a7 396.5px,#ffadb3 399.5px,#ffb3c2 401.5px,#ffc6e7 404.5px,#ffc9ee 405.5px,#ffcbf1 407.5px,#ffcbf1 685.5px)"></i><i style="background:linear-gradient(90deg,#6c72ff 0,#6c76ff 65.5px,#69a9ff 142.5px,#67c7ff 162.5px,#66dfff 167.5px,#66f5ff 173.5px,#66ffe9 177.5px,#66ffb5 181.5px,#66ffac 182.5px,#66ffa9 183.5px,#66ffa2 278.5px,#67ff9c 280.5px,#68ff87 281.5px,#78ff6b 282.5px,#a8ff62 283.5px,#d3ff5f 284.5px,#fceb93 285.5px,#feda9c 286.5px,#ffcfa0 287.5px,#ffcba0 289.5px,#ffc7a0 374.5px,#ffb1a0 395.5px,#ffa9aa 397.5px,#ffacb2 399.5px,#ffb3c0 401.5px,#ffc5e5 404.5px,#ffc9ed 405.5px,#ffcbf1 407.5px,#ffcbf1 685.5px)"></i><i style="background:linear-gradient(90deg,#6c72ff 0,#6c76ff 64.5px,#69a9ff 142.5px,#67c7ff 162.5px,#66e0ff 167.5px,#66f5ff 173.5px,#66ffe8 177.5px,#66ffb5 181.5px,#66ffa9 183.5px,#66ffa2 278.5px,#67ff9d 280.5px,#68ff8a 281.5px,#75ff6b 282.5px,#a5ff62 283.5px,#d1ff5f 284.5px,#fcec93 285.5px,#feda9b 286.5px,#ffcfa0 287.5px,#ffcba0 289.5px,#ffc7a0 374.5px,#ffb1a0 395.5px,#ffa9aa 397.5px,#ffacb1 399.5px,#ffb2be 401.5px,#ffc4e4 404.5px,#ffc9ed 405.5px,#ffcbf1 407.5px,#ffcbf1 685.5px)"></i><i style="background:linear-gradient(90deg,#6c72ff 0,#6c76ff 64.5px,#69a9ff 142.5px,#67c7ff 162.5px,#66e0ff 167.5px,#66f2ff 172.5px,#66f5fe 173.5px,#66fcef 176.5px,#66ffe7 177.5px,#66ffb4 181.5px,#66ffa9 183.5px,#66ffa2 278.5px,#67ff9e 280.5px,#67ff8c 281.5px,#72ff6c 282.5px,#a2ff62 283.5px,#cfff60 284.5px,#fced92 285.5px,#fedb9b 286.5px,#ffcfa0 287.5px,#ffcba0 289.5px,#ffc7a0 374.5px,#ffafa1 396.5px,#ffa9a9 397.5px,#ffaeb5 400.5px,#ffb1bc 401.5px,#ffc8ec 405.5px,#ffcbf1 407.5px,#ffcbf1 685.5px)"></i><i style="background:linear-gradient(90deg,#6c72ff 0,#6c76ff 64.5px,#69a9ff 142.5px,#67c7ff 162.5px,#66e0ff 167.5px,#66f2ff 172.5px,#66f5fe 173.5px,#66fcef 176.5px,#66ffe6 177.5px,#66ffb3 181.5px,#66ffa8 183.5px,#66ffa2 278.5px,#66ff9f 280.5px,#67ff8e 281.5px,#6fff6d 282.5px,#9eff62 283.5px,#ccff60 284.5px,#fcef92 285.5px,#fedc9a 286.5px,#ffd0a0 287.5px,#ffcba0 289.5px,#ffc6a0 375.5px,#ffb0a0 396.5px,#ffa8a9 397.5px,#ffaeb4 400.5px,#ffb1bb 401.5px,#ffc8eb 405.5px,#ffcbf1 407.5px,#ffcbf1 685.5px)"></i><i style="background:linear-gradient(90deg,#6c72ff 0,#6c76ff 63.5px,#69a9ff 142.5px,#67c8ff 162.5px,#66e1ff 167.5px,#66f3ff 172.5px,#66f6fe 173.5px,#66fcee 176.5px,#66ffe6 177.5px,#66ffb2 181.5px,#66ffa8 183.5px,#66ffa2 278.5px,#66ff9f 280.5px,#67ff90 281.5px,#6cff6d 282.5px,#9bff63 283.5px,#c9ff60 284.5px,#fbf090 285.5px,#fedd9a 286.5px,#ffd0a0 287.5px,#ffcca0 288.5px,#ffcba0 290.5px,#ffc6a0 375.5px,#ffb0a0 396.5px,#ffa8a9 397.5px,#ffadb4 400.5px,#ffb5c5 402.5px,#ffc7e9 405.5px,#ffcbf1 407.5px,#ffcbf1 685.5px)"></i><i style="background:linear-gradient(90deg,#6c72ff 0,#6c76ff 63.5px,#69a9ff 142.5px,#67c8ff 162.5px,#66e1ff 167.5px,#66f3ff 172.5px,#66fdee 176.5px,#66ffe5 177.5px,#66ffb1 181.5px,#66ffa8 183.5px,#66ffa2 278.5px,#66ff9f 280.5px,#67ff91 281.5px,#6aff6e 282.5px,#98ff64 283.5px,#c6ff60 284.5px,#f7f289 285.5px,#fedf99 286.5px,#ffd19f 287.5px,#ffcca0 288.5px,#ffc6a0 375.5px,#ffb1a0 396.5px,#ffa8a8 397.5px,#ffadb3 400.5px,#ffb4c3 402.5px,#ffc6e8 405.5px,#ffcaee 406.5px,#ffcbf1 408.5px,#ffcbf1 685.5px)"></i><i style="background:linear-gradient(90deg,#6c72ff 0,#6c76ff 63.5px,#69a9ff 142.5px,#67c8ff 162.5px,#66e1ff 167.5px,#66f3ff 172.5px,#66fded 176.5px,#66ffe4 177.5px,#66ffb1 181.5px,#66ffa8 183.5px,#66ffa2 278.5px,#66ff9f 280.5px,#67ff92 281.5px,#69ff70 282.5px,#95ff64 283.5px,#c3ff60 284.5px,#f2f483 285.5px,#fde098 286.5px,#ffd29f 287.5px,#ffcda0 288.5px,#ffc6a0 375.5px,#ffb1a0 396.5px,#ffa9a7 397.5px,#ffadb3 400.5px,#ffb3c1 402.5px,#ffc6e6 405.5px,#ffc9ee 406.5px,#ffcbf1 408.5px,#ffcbf1 685.5px)"></i><i style="background:linear-gradient(90deg,#6c72ff 0,#6c76ff 63.5px,#69a9ff 142.5px,#67c6ff 161.5px,#67ccff 163.5px,#66e2ff 167.5px,#66f4ff 172.5px,#66fded 176.5px,#66ffb0 181.5px,#66ffa8 183.5px,#66ffa2 278.5px,#66ffa0 280.5px,#67ff93 281.5px,#69ff72 282.5px,#92ff65 283.5px,#c0ff60 284.5px,#eef67c 285.5px,#fde198 286.5px,#ffd39e 287.5px,#ffcda0 288.5px,#ffc6a0 375.5px,#ffb1a0 396.5px,#ffa9aa 398.5px,#ffacb2 400.5px,#ffb3bf 402.5px,#ffc5e5 405.5px,#ffc9ed 406.5px,#ffcbf1 408.5px,#ffcbf1 685.5px)"></i><i style="background:linear-gradient(90deg,#6c72ff 0,#6c76ff 62.5px,#69a9ff 142.5px,#67c6ff 161.5px,#66e2ff 167.5px,#66f4ff 172.5px,#66fdec 176.5px,#66ffaf 181.5px,#66ffa8 183.5px,#66ffa2 278.5px,#66ffa0 280.5px,#67ff94 281.5px,#69ff75 282.5px,#8eff66 283.5px,#bdff61 284.5px,#e9f876 285.5px,#fde397 286.5px,#ffd59e 287.5px,#ffcea0 288.5px,#ffcca0 290.5px,#ffcca0 335.5px,#ffc6a0 375.5px,#ffb1a0 396.5px,#ffaea2 397.5px,#ffa9aa 398.5px,#ffaeb6 401.5px,#ffb2be 402.5px,#ffc4e4 405.5px,#ffc9ec 406.5px,#ffcbf1 408.5px,#ffcbf1 685.5px)"></i><i style="background:linear-gradient(90deg,#6c72ff 0,#6c76ff 62.5px,#69a9ff 142.5px,#67c6ff 161.5px,#66e2ff 167.5px,#66f4ff 172.5px,#66fdec 176.5px,#66ffae 181.5px,#66ffa8 183.5px,#66ffa2 278.5px,#66ffa0 280.5px,#67ff95 281.5px,#69ff78 282.5px,#8bff67 283.5px,#baff61 284.5px,#e5fa6f 285.5px,#fde496 286.5px,#fed69d 287.5px,#ffcea0 288.5px,#ffcca0 290.5px,#ffcca0 335.5px,#ffc5a0 376.5px,#ffb0a0 397.5px,#ffa9a9 398.5px,#ffaeb5 401.5px,#ffb1bc 402.5px,#ffc8ec 406.5px,#ffcbf1 408.5px,#ffcbf1 685.5px)"></i><i style="background:linear-gradient(90deg,#6c72ff 0,#6c76ff 62.5px,#69a9ff 142.5px,#67c6ff 161.5px,#66e2ff 167.5px,#66f4ff 172.5px,#66feeb 176.5px,#66ffad 181.5px,#66ffa8 183.5px,#66ffa2 278.5px,#66ffa0 280.5px,#67ff95 281.5px,#69ff77 282.5px,#8cff66 283.5px,#baff61 284.5px,#e5fa6f 285.5px,#fde596 286.5px,#fed69d 287.5px,#ffcfa0 288.5px,#ffcca0 290.5px,#ffcca0 334.5px,#ffc5a0 376.5px,#ffb0a0 397.5px,#ffa8a9 398.5px,#ffaeb4 401.5px,#ffb1bb 402.5px,#ffc8ea 406.5px,#ffcbf1 408.5px,#ffcbf1 685.5px)"></i><i style="background:linear-gradient(90deg,#6c72ff 0,#6c76ff 61.5px,#69a9ff 142.5px,#67c6ff 161.5px,#66dfff 166.5px,#66f5ff 172.5px,#66feea 176.5px,#66ffb7 180.5px,#66ffad 181.5px,#66ffa9 182.5px,#66ffa2 278.5px,#66ff9f 280.5px,#67ff92 281.5px,#69ff70 282.5px,#95ff64 283.5px,#c3ff60 284.5px,#f0f580 285.5px,#fde298 286.5px,#ffd49e 287.5px,#ffcea0 288.5px,#ffcda0 334.5px,#ffc5a0 360.5px,#ffc4a0 376.5px,#ffb0a0 397.5px,#ffa8a9 398.5px,#ffadb4 401.5px,#ffb5c4 403.5px,#ffc7e9 406.5px,#ffcbf1 408.5px,#ffcbf1 685.5px)"></i><i style="background:linear-gradient(90deg,#6c72ff 0,#6c76ff 61.5px,#69aaff 142.5px,#67c7ff 161.5px,#66dfff 166.5px,#66f5ff 172.5px,#66fee9 176.5px,#66ffb6 180.5px,#66ffad 181.5px,#66ffa9 182.5px,#66ffa2 278.5px,#67ff9e 280.5px,#67ff8c 281.5px,#72ff6c 282.5px,#a1ff62 283.5px,#cdff60 284.5px,#fcef91 285.5px,#fede9a 286.5px,#ffd29f 287.5px,#ffcea0 288.5px,#ffcda0 334.5px,#ffc5a0 359.5px,#ffc4a0 376.5px,#ffb1a0 397.5px,#ffa8a8 398.5px,#ffadb3 401.5px,#ffb4c3 403.5px,#ffc6e8 406.5px,#ffcaee 407.5px,#ffcbf1 409.5px,#ffcbf1 685.5px)"></i><i style="background:linear-gradient(90deg,#6c72ff 0,#6c76ff 61.5px,#69aaff 142.5px,#67c7ff 161.5px,#66e0ff 166.5px,#66f5ff 172.5px,#66ffe9 176.5px,#66ffb5 180.5px,#66ffa9 182.5px,#66ffa1 279.5px,#67ff9a 280.5px,#68ff82 281.5px,#7eff69 282.5px,#adff61 283.5px,#d6ff5f 284.5px,#fdea94 285.5px,#fedb9b 286.5px,#ffd19f 287.5px,#ffcea0 289.5px,#ffcda0 333.5px,#ffc4a0 359.5px,#ffc4a0 376.5px,#ffb1a0 397.5px,#ffaaa6 398.5px,#ffadb2 401.5px,#ffb3c1 403.5px,#ffc5e6 406.5px,#ffc9ee 407.5px,#ffcbf1 409.5px,#ffcbf1 685.5px)"></i><i style="background:linear-gradient(90deg,#6c72ff 0,#6c76ff 61.5px,#69a9ff 141.5px,#67c7ff 161.5px,#66e0ff 166.5px,#66f5ff 172.5px,#66ffe8 176.5px,#66ffb4 180.5px,#66ffa9 182.5px,#66ffa2 277.5px,#66ffa0 279.5px,#67ff95 280.5px,#68ff78 281.5px,#8bff67 282.5px,#b9ff61 283.5px,#e2fb6b 284.5px,#fde696 285.5px,#fed89c 286.5px,#ffd0a0 287.5px,#ffcea0 333.5px,#ffc4a0 358.5px,#ffc3a0 376.5px,#ffb1a0 397.5px,#ffa9aa 399.5px,#ffacb2 401.5px,#ffb2bf 403.5px,#ffc5e5 406.5px,#ffc9ed 407.5px,#ffcbf1 409.5px,#ffcbf1 685.5px)"></i><i style="background:linear-gradient(90deg,#6c72ff 0,#6c76ff 60.5px,#69a9ff 141.5px,#67c7ff 161.5px,#66e0ff 166.5px,#66f2ff 171.5px,#66f5fe 172.5px,#66fcef 175.5px,#66ffe7 176.5px,#66ffb3 180.5px,#66ffa9 182.5px,#66ffa2 277.5px,#66ff9f 279.5px,#67ff91 280.5px,#6aff6f 281.5px,#97ff64 282.5px,#c5ff60 283.5px,#f2f482 284.5px,#fde298 285.5px,#fed69d 286.5px,#ffd0a0 287.5px,#ffcea0 333.5px,#ffc3a0 358.5px,#ffc3a0 376.5px,#ffb1a0 397.5px,#ffaea2 398.5px,#ffa9aa 399.5px,#ffaeb6 402.5px,#ffb2bd 403.5px,#ffc4e3 406.5px,#ffc9ec 407.5px,#ffcbf1 409.5px,#ffcbf1 685.5px)"></i><i style="background:linear-gradient(90deg,#6c72ff 0,#6c76ff 60.5px,#69a9ff 141.5px,#67c8ff 161.5px,#66e1ff 166.5px,#66f3ff 171.5px,#66f6fe 172.5px,#66fcef 175.5px,#66ffe6 176.5px,#66ffb3 180.5px,#66ffa8 182.5px,#66ffa2 277.5px,#67ff9d 279.5px,#68ff8a 280.5px,#74ff6c 281.5px,#a3ff62 282.5px,#cfff60 283.5px,#fcef92 284.5px,#fede99 285.5px,#ffd49e 286.5px,#ffcfa0 287.5px,#ffcfa0 332.5px,#ffc3a0 357.5px,#ffc3a0 377.5px,#ffb0a0 398.5px,#ffa9a9 399.5px,#ffaeb5 402.5px,#ffb1bc 403.5px,#ffc8eb 407.5px,#ffcbf1 409.5px,#ffcbf1 685.5px)"></i><i style="background:linear-gradient(90deg,#6c72ff 0,#6c76ff 60.5px,#69a9ff 141.5px,#67c8ff 161.5px,#66e1ff 166.5px,#66f3ff 171.5px,#66fcee 175.5px,#66ffe5 176.5px,#66ffb2 180.5px,#66ffa8 182.5px,#66ffa1 278.5px,#67ff99 279.5px,#68ff80 280.5px,#80ff69 281.5px,#afff61 282.5px,#d7ff5f 283.5px,#fdea94 284.5px,#fedc9b 285.5px,#ffd39f 286.5px,#ffd0a0 287.5px,#ffcfa0 332.5px,#ffc3a0 356.5px,#ffc2a0 377.5px,#ffb0a0 398.5px,#ffa8a9 399.5px,#ffadb4 402.5px,#ffb0bb 403.5px,#ffc7ea 407.5px,#ffcbf1 409.5px,#ffcbf1 685.5px)"></i><i style="background:linear-gradient(90deg,#6c72ff 0,#6c76ff 59.5px,#69a9ff 141.5px,#67c8ff 161.5px,#66e1ff 166.5px,#66f3ff 171.5px,#66fded 175.5px,#66ffe4 176.5px,#66ffb1 180.5px,#66ffa8 182.5px,#66ffa2 276.5px,#66ffa0 278.5px,#67ff94 279.5px,#69ff76 280.5px,#8dff66 281.5px,#bbff61 282.5px,#e4fa6e 283.5px,#fde696 284.5px,#fed99c 285.5px,#ffd29f 286.5px,#ffcfa0 332.5px,#ffc2a0 356.5px,#ffc2a0 377.5px,#ffb0a0 398.5px,#ffa8a8 399.5px,#ffadb4 402.5px,#ffb5c4 404.5px,#ffc7e9 407.5px,#ffcbf1 409.5px,#ffcbf1 685.5px)"></i><i style="background:linear-gradient(90deg,#6c72ff 0,#6c76ff 59.5px,#69a9ff 141.5px,#67c6ff 160.5px,#67ccff 162.5px,#66e2ff 166.5px,#66f4ff 171.5px,#66fded 175.5px,#66ffb0 180.5px,#66ffa8 182.5px,#66ffa2 276.5px,#66ff9f 278.5px,#67ff90 279.5px,#6bff6e 280.5px,#9aff63 281.5px,#c7ff60 282.5px,#f3f484 283.5px,#fde297 284.5px,#fed79d 285.5px,#ffd0a0 287.5px,#ffcfa0 332.5px,#ffc2a0 355.5px,#ffc1a0 378.5px,#ffb1a0 398.5px,#ffa8a8 399.5px,#ffadb3 402.5px,#ffb4c2 404.5px,#ffc6e7 407.5px,#ffc9ee 408.5px,#ffcbf1 410.5px,#ffcbf1 685.5px)"></i><i style="background:linear-gradient(90deg,#6c72ff 0,#6c76ff 59.5px,#69a9ff 141.5px,#67c6ff 160.5px,#66e2ff 166.5px,#66f4ff 171.5px,#66feeb 175.5px,#66ffae 180.5px,#66ffa8 182.5px,#66ffa2 276.5px,#67ff9c 278.5px,#68ff88 279.5px,#77ff6b 280.5px,#a6ff62 281.5px,#d1ff5f 282.5px,#fcee92 283.5px,#fedf99 284.5px,#ffd59e 285.5px,#ffd19f 286.5px,#ffd0a0 331.5px,#ffc2a0 354.5px,#ffc1a0 378.5px,#ffb1a0 398.5px,#ffa9a7 399.5px,#ffadb3 402.5px,#ffb4c2 404.5px,#ffc6e7 407.5px,#ffc9ee 408.5px,#ffcbf1 410.5px,#ffcbf1 685.5px)"></i><i style="background:linear-gradient(90deg,#6c72ff 0,#6c76ff 59.5px,#69aaff 141.5px,#67c7ff 160.5px,#66e0ff 165.5px,#66f5ff 171.5px,#66ffe8 175.5px,#66ffb5 179.5px,#66ffa9 181.5px,#66ffa1 277.5px,#67ff98 278.5px,#68ff7e 279.5px,#83ff68 280.5px,#b2ff61 281.5px,#d9ff60 282.5px,#fdea94 283.5px,#fedd9a 284.5px,#ffd19f 286.5px,#ffd1a0 330.5px,#ffc1a0 354.5px,#ffc1a0 378.5px,#ffb1a0 398.5px,#ffa9a7 399.5px,#ffadb2 402.5px,#ffb3c1 404.5px,#ffc5e6 407.5px,#ffc9ee 408.5px,#ffcbf1 410.5px,#ffcbf1 685.5px)"></i><i style="background:linear-gradient(90deg,#6c72ff 0,#6c76ff 58.5px,#69a9ff 140.5px,#67c8ff 160.5px,#66e1ff 165.5px,#66f3ff 170.5px,#66fcee 174.5px,#66ffe5 175.5px,#66ffb2 179.5px,#66ffa8 181.5px,#66ffa2 275.5px,#66ffa0 277.5px,#67ff93 278.5px,#69ff74 279.5px,#90ff66 280.5px,#bdff60 281.5px,#e6fa71 282.5px,#fde695 283.5px,#feda9b 284.5px,#ffd49e 285.5px,#ffd19f 330.5px,#ffc1a0 353.5px,#ffc0a0 378.5px,#ffb1a0 398.5px,#ffaaa6 399.5px,#ffadb2 402.5px,#ffb3c0 404.5px,#ffc5e6 407.5px,#ffc9ed 408.5px,#ffcbf1 410.5px,#ffcbf1 685.5px)"></i><i style="background:linear-gradient(90deg,#6c72ff 0,#6c76ff 58.5px,#69a9ff 140.5px,#67c6ff 159.5px,#66e2ff 165.5px,#66f4ff 170.5px,#66fdec 174.5px,#66ffaf 179.5px,#66ffa8 181.5px,#66ffa2 275.5px,#66ff9f 277.5px,#67ff8e 278.5px,#6eff6d 279.5px,#9cff63 280.5px,#c9ff60 281.5px,#f5f386 282.5px,#fde397 283.5px,#fed89c 284.5px,#ffd29f 286.5px,#ffd29f 329.5px,#ffc1a0 352.5px,#ffc0a0 378.5px,#ffb1a0 398.5px,#ffa9aa 400.5px,#ffacb2 402.5px,#ffb3c0 404.5px,#ffc5e5 407.5px,#ffc9ed 408.5px,#ffcbf1 410.5px,#ffcbf1 685.5px)"></i><i style="background:linear-gradient(90deg,#6c72ff 0,#6c76ff 58.5px,#69aaff 140.5px,#67c7ff 159.5px,#66dfff 164.5px,#66f5ff 170.5px,#66fee9 174.5px,#66ffb6 178.5px,#66ffad 179.5px,#66ffa9 180.5px,#66ffa2 275.5px,#67ff9b 277.5px,#68ff86 278.5px,#79ff6a 279.5px,#a8ff62 280.5px,#d2ff5f 281.5px,#fcee92 282.5px,#fee099 283.5px,#fed79d 284.5px,#ffd39f 285.5px,#ffd29f 329.5px,#ffc0a0 351.5px,#ffc0a0 378.5px,#ffb1a0 398.5px,#ffa9aa 400.5px,#ffacb2 402.5px,#ffb2bf 404.5px,#ffc5e5 407.5px,#ffc9ed 408.5px,#ffcbf1 410.5px,#ffcbf1 685.5px)"></i><i style="background:linear-gradient(90deg,#6c72ff 0,#6c76ff 57.5px,#69a9ff 139.5px,#67c7ff 159.5px,#66e1ff 164.5px,#66f3ff 169.5px,#66f6fe 170.5px,#66fcef 173.5px,#66ffe6 174.5px,#66ffb3 178.5px,#66ffa8 180.5px,#66ffa2 275.5px,#66ffa1 276.5px,#67ff97 277.5px,#68ff7c 278.5px,#86ff68 279.5px,#b4ff61 280.5px,#dafe61 281.5px,#fdea94 282.5px,#fede9a 283.5px,#fed69d 284.5px,#ffd39f 286.5px,#ffd39f 329.5px,#ffc0a0 350.5px,#ffbfa0 378.5px,#ffb1a0 398.5px,#ffa9aa 400.5px,#ffacb1 402.5px,#ffb2be 404.5px,#ffc4e4 407.5px,#ffc9ed 408.5px,#ffcbf1 410.5px,#ffcbf1 685.5px)"></i><i style="background:linear-gradient(90deg,#6c72ff 0,#6c76ff 57.5px,#69a9ff 139.5px,#67c6ff 158.5px,#67ccff 160.5px,#66e2ff 164.5px,#66f4ff 169.5px,#66fded 173.5px,#66ffb0 178.5px,#66ffa8 180.5px,#66ffa2 274.5px,#66ffa0 276.5px,#67ff93 277.5px,#69ff72 278.5px,#92ff65 279.5px,#c0ff60 280.5px,#e8f974 281.5px,#fde795 282.5px,#fedb9b 283.5px,#fed59d 284.5px,#ffd39e 328.5px,#ffc0a0 350.5px,#ffbfa0 378.5px,#ffb1a0 398.5px,#ffa9aa 400.5px,#ffaeb6 403.5px,#ffb2be 404.5px,#ffc4e4 407.5px,#ffc9ec 408.5px,#ffcbf1 410.5px,#ffcbf1 685.5px)"></i><i style="background:linear-gradient(90deg,#6c72ff 0,#6c76ff 57.5px,#69a9ff 139.5px,#67c6ff 158.5px,#66dfff 163.5px,#66f4ff 169.5px,#66feea 173.5px,#66ffad 178.5px,#66ffa8 180.5px,#66ffa2 274.5px,#67ff9e 276.5px,#67ff8d 277.5px,#70ff6d 278.5px,#9fff62 279.5px,#caff60 280.5px,#f6f388 281.5px,#fde397 282.5px,#fed99c 283.5px,#ffd59e 284.5px,#ffd49e 328.5px,#ffbfa0 349.5px,#ffbfa0 378.5px,#ffb1a0 398.5px,#ffaea2 399.5px,#ffa9aa 400.5px,#ffaeb6 403.5px,#ffb1bd 404.5px,#ffc4e3 407.5px,#ffc9ec 408.5px,#ffcbf1 410.5px,#ffcbf1 685.5px)"></i><i style="background:linear-gradient(90deg,#6c72ff 0,#6c76ff 57.5px,#69a9ff 138.5px,#67c7ff 158.5px,#66e0ff 163.5px,#66f2ff 168.5px,#66f5fe 169.5px,#66fcef 172.5px,#66ffe7 173.5px,#66ffb4 177.5px,#66ffa9 179.5px,#66ffa2 274.5px,#66ffa1 275.5px,#67ff9b 276.5px,#68ff84 277.5px,#7cff6a 278.5px,#abff61 279.5px,#d3ff5f 280.5px,#fcee92 281.5px,#fde198 282.5px,#ffd59e 284.5px,#ffd49e 327.5px,#ffbfa0 348.5px,#ffbea0 378.5px,#ffb1a0 398.5px,#ffafa1 399.5px,#ffa9a9 400.5px,#ffaeb5 403.5px,#ffb1bc 404.5px,#ffc8ec 408.5px,#ffcbf1 410.5px,#ffcbf1 685.5px)"></i><i style="background:linear-gradient(90deg,#6c72ff 0,#6c76ff 56.5px,#69a9ff 138.5px,#67c8ff 158.5px,#66e1ff 163.5px,#66f3ff 168.5px,#66fded 172.5px,#66ffe4 173.5px,#66ffb1 177.5px,#66ffa8 179.5px,#66ffa2 273.5px,#66ffa0 275.5px,#67ff96 276.5px,#68ff7a 277.5px,#88ff67 278.5px,#b6ff61 279.5px,#dcfe63 280.5px,#fceb93 281.5px,#fedf99 282.5px,#fed89c 283.5px,#ffd59e 285.5px,#ffd59e 327.5px,#ffbea0 348.5px,#ffbea0 378.5px,#ffb1a0 398.5px,#ffafa1 399.5px,#ffa9a9 400.5px,#ffaeb5 403.5px,#ffb1bc 404.5px,#ffc8ec 408.5px,#ffcbf1 410.5px,#ffcbf1 685.5px)"></i><i style="background:linear-gradient(90deg,#6c72ff 0,#6c76ff 56.5px,#69a9ff 138.5px,#67c6ff 157.5px,#66e2ff 163.5px,#66f4ff 168.5px,#66feeb 172.5px,#66ffae 177.5px,#66ffa8 179.5px,#66ffa2 273.5px,#66ff9f 275.5px,#67ff92 276.5px,#69ff70 277.5px,#95ff64 278.5px,#c2ff60 279.5px,#eaf876 280.5px,#fde795 281.5px,#fedd9a 282.5px,#fed79d 283.5px,#fed69d 285.5px,#fed59d 326.5px,#ffbea0 347.5px,#ffbea0 378.5px,#ffb0a0 399.5px,#ffa9a9 400.5px,#ffaeb5 403.5px,#ffb1bc 404.5px,#ffc8eb 408.5px,#ffcbf1 410.5px,#ffcbf1 685.5px)"></i><i style="background:linear-gradient(90deg,#6c72ff 0,#6c76ff 56.5px,#69aaff 138.5px,#67c7ff 157.5px,#66e0ff 162.5px,#66f5ff 168.5px,#66ffe8 172.5px,#66ffb5 176.5px,#66ffa9 178.5px,#66ffa2 273.5px,#67ff9d 275.5px,#67ff8b 276.5px,#72ff6c 277.5px,#a1ff62 278.5px,#ccff60 279.5px,#f6f389 280.5px,#fde497 281.5px,#fedb9b 282.5px,#fed79d 283.5px,#fed69d 326.5px,#ffbea0 346.5px,#ffbda0 378.5px,#ffb0a0 399.5px,#ffa8a9 400.5px,#ffaeb4 403.5px,#ffb1bb 404.5px,#ffc8eb 408.5px,#ffcbf1 410.5px,#ffcbf1 685.5px)"></i><i style="background:linear-gradient(90deg,#6c72ff 0,#6c76ff 55.5px,#69a9ff 137.5px,#67c8ff 157.5px,#66e1ff 162.5px,#66f3ff 167.5px,#66f6fd 168.5px,#66fcee 171.5px,#66ffe5 172.5px,#66ffb2 176.5px,#66ffa8 178.5px,#66ffa1 274.5px,#67ff9a 275.5px,#68ff82 276.5px,#7eff69 277.5px,#adff61 278.5px,#d4ff5f 279.5px,#fcee92 280.5px,#fde298 281.5px,#fed79d 283.5px,#fed69d 325.5px,#ffbda0 346.5px,#ffbda0 378.5px,#ffb0a0 399.5px,#ffa8a9 400.5px,#ffadb4 403.5px,#ffb0bb 404.5px,#ffc7ea 408.5px,#ffcbf1 410.5px,#ffcbf1 685.5px)"></i><i style="background:linear-gradient(90deg,#6c72ff 0,#6c76ff 55.5px,#69a9ff 137.5px,#67c6ff 156.5px,#66e2ff 162.5px,#66f4ff 167.5px,#66fdec 171.5px,#66ffaf 176.5px,#66ffa8 178.5px,#66ffa2 272.5px,#66ffa0 274.5px,#67ff95 275.5px,#68ff78 276.5px,#8bff67 277.5px,#b9ff61 278.5px,#ddfe64 279.5px,#fceb93 280.5px,#fee099 281.5px,#feda9c 282.5px,#fed79d 284.5px,#fed79d 325.5px,#ffbda0 345.5px,#ffbda0 378.5px,#ffb0a0 399.5px,#ffa8a9 400.5px,#ffadb4 403.5px,#ffb5c5 405.5px,#ffc7e9 408.5px,#ffcbf1 410.5px,#ffcbf1 685.5px)"></i><i style="background:linear-gradient(90deg,#6c72ff 0,#6c76ff 54.5px,#69aaff 137.5px,#67c7ff 156.5px,#66dfff 161.5px,#66f5ff 167.5px,#66fee9 171.5px,#66ffb6 175.5px,#66ffad 176.5px,#66ffa9 177.5px,#66ffa2 272.5px,#66ff9f 274.5px,#67ff90 275.5px,#6bff6f 276.5px,#97ff64 277.5px,#c4ff60 278.5px,#ebf878 279.5px,#fde895 280.5px,#fede9a 281.5px,#fed89c 283.5px,#fed79d 325.5px,#ffbda0 344.5px,#ffbca0 378.5px,#ffb0a0 399.5px,#ffa8a9 400.5px,#ffadb4 403.5px,#ffb5c4 405.5px,#ffc7e9 408.5px,#ffcbf1 410.5px,#ffcbf1 685.5px)"></i><i style="background:linear-gradient(90deg,#6c72ff 0,#6c76ff 54.5px,#69a9ff 136.5px,#67c7ff 156.5px,#66e0ff 161.5px,#66f3ff 166.5px,#66f5fe 167.5px,#66fcef 170.5px,#66ffe6 171.5px,#66ffb3 175.5px,#66ffa8 177.5px,#66ffa2 272.5px,#67ff9d 274.5px,#68ff8a 275.5px,#75ff6b 276.5px,#a4ff62 277.5px,#ceff60 278.5px,#f7f289 279.5px,#fde596 280.5px,#fed99c 282.5px,#fed89c 324.5px,#ffbda0 343.5px,#ffbca0 378.5px,#ffb0a0 399.5px,#ffa8a8 400.5px,#ffadb3 403.5px,#ffb4c4 405.5px,#ffc7e8 408.5px,#ffcbf1 410.5px,#ffcbf1 685.5px)"></i><i style="background:linear-gradient(90deg,#6c72ff 0,#6c76ff 53.5px,#69a9ff 136.5px,#67c6ff 155.5px,#67ccff 157.5px,#66e2ff 161.5px,#66f4ff 166.5px,#66fded 170.5px,#66ffb0 175.5px,#66ffa8 177.5px,#66ffa1 273.5px,#67ff99 274.5px,#68ff80 275.5px,#81ff69 276.5px,#afff61 277.5px,#d5ff5f 278.5px,#fcef92 279.5px,#fde397 280.5px,#fed99c 282.5px,#fed89c 324.5px,#ffd0a0 329.5px,#ffbca0 343.5px,#ffbca0 378.5px,#ffb0a0 399.5px,#ffa8a8 400.5px,#ffadb3 403.5px,#ffb4c3 405.5px,#ffc6e8 408.5px,#ffcaee 409.5px,#ffcbf1 411.5px,#ffcbf1 685.5px)"></i><i style="background:linear-gradient(90deg,#6c72ff 0,#6c76ff 53.5px,#69a9ff 136.5px,#67c6ff 155.5px,#66deff 160.5px,#66f4ff 166.5px,#66feea 170.5px,#66ffad 175.5px,#66ffa8 177.5px,#66ffa2 271.5px,#66ffa0 273.5px,#67ff94 274.5px,#69ff75 275.5px,#8eff66 276.5px,#bbff61 277.5px,#dffd67 278.5px,#fceb93 279.5px,#fde198 280.5px,#fedb9b 281.5px,#fed99c 283.5px,#fed99c 324.5px,#ffcfa0 329.5px,#ffbca0 342.5px,#ffbba0 378.5px,#ffb0a0 399.5px,#ffa8a8 400.5px,#ffadb3 403.5px,#ffb4c2 405.5px,#ffc6e7 408.5px,#ffc9ee 409.5px,#ffcbf1 411.5px,#ffcbf1 685.5px)"></i><i style="background:linear-gradient(90deg,#6c72ff 0,#6c76ff 52.5px,#69aaff 136.5px,#67c7ff 155.5px,#66e0ff 160.5px,#66f2ff 165.5px,#66f5fe 166.5px,#66fcef 169.5px,#66ffe8 170.5px,#66ffb4 174.5px,#66ffa9 176.5px,#66ffa2 271.5px,#67ff9e 273.5px,#67ff8c 274.5px,#70ff6c 275.5px,#9eff63 276.5px,#c9ff60 277.5px,#f0f57f 278.5px,#fde795 279.5px,#fedb9b 281.5px,#fed99c 323.5px,#ffd0a0 328.5px,#ffbba0 341.5px,#ffbba0 378.5px,#ffb0a0 399.5px,#ffa8a8 400.5px,#ffadb3 403.5px,#ffb4c2 405.5px,#ffc6e7 408.5px,#ffc9ee 409.5px,#ffcbf1 411.5px,#ffcbf1 685.5px)"></i><i style="background:linear-gradient(90deg,#6c72ff 0,#6c76ff 52.5px,#69a9ff 135.5px,#67c8ff 155.5px,#66e1ff 160.5px,#66f3ff 165.5px,#66fded 169.5px,#66ffe4 170.5px,#66ffb1 174.5px,#66ffa8 176.5px,#66ffa1 272.5px,#67ff98 273.5px,#68ff7f 274.5px,#82ff68 275.5px,#b0ff61 276.5px,#d6ff5f 277.5px,#fcef91 278.5px,#fde497 279.5px,#fedb9b 281.5px,#feda9b 322.5px,#ffd0a0 328.5px,#ffbba0 341.5px,#ffbaa0 378.5px,#ffb0a0 399.5px,#ffa9a7 400.5px,#ffadb2 403.5px,#ffb3c1 405.5px,#ffc6e6 408.5px,#ffc9ee 409.5px,#ffcbf1 411.5px,#ffcbf1 685.5px)"></i><i style="background:linear-gradient(90deg,#6c72ff 0,#6c76ff 51.5px,#69a9ff 135.5px,#67c6ff 154.5px,#66e2ff 160.5px,#66f4ff 165.5px,#66feeb 169.5px,#66ffae 174.5px,#66ffa8 176.5px,#66ffa2 270.5px,#66ff9f 272.5px,#67ff91 273.5px,#6aff70 274.5px,#95ff64 275.5px,#c1ff60 276.5px,#e6fa71 277.5px,#fdea94 278.5px,#fde198 279.5px,#fedb9b 282.5px,#feda9b 322.5px,#ffcfa0 328.5px,#ffbaa0 340.5px,#ffbaa0 378.5px,#ffb1a0 399.5px,#ffaaa6 400.5px,#ffadb2 403.5px,#ffb3c0 405.5px,#ffc5e6 408.5px,#ffc9ed 409.5px,#ffcbf1 411.5px,#ffcbf1 685.5px)"></i><i style="background:linear-gradient(90deg,#6c72ff 0,#6c76ff 51.5px,#69aaff 135.5px,#67c7ff 154.5px,#66e0ff 159.5px,#66f5ff 165.5px,#66ffe9 169.5px,#66ffb5 173.5px,#66ffa9 175.5px,#66ffa2 270.5px,#66ffa1 271.5px,#67ff9b 272.5px,#68ff86 273.5px,#79ff6a 274.5px,#a8ff62 275.5px,#d0ff60 276.5px,#f7f28a 277.5px,#fde696 278.5px,#fedc9b 280.5px,#fedb9b 321.5px,#ffd0a0 327.5px,#ffbaa0 339.5px,#ffbaa0 378.5px,#ffb1a0 399.5px,#ffaaa6 400.5px,#ffa9ab 401.5px,#ffacb2 403.5px,#ffb3c0 405.5px,#ffc5e5 408.5px,#ffc9ed 409.5px,#ffcbf1 411.5px,#ffcbf1 685.5px)"></i><i style="background:linear-gradient(90deg,#6c72ff 0,#6c76ff 51.5px,#69a9ff 134.5px,#67c8ff 154.5px,#66e1ff 159.5px,#66f3ff 164.5px,#66f6fd 165.5px,#66fcee 168.5px,#66ffe5 169.5px,#66ffb2 173.5px,#66ffa8 175.5px,#66ffa2 269.5px,#66ffa0 271.5px,#67ff95 272.5px,#69ff77 273.5px,#8cff66 274.5px,#b9ff61 275.5px,#ddfd64 276.5px,#fced93 277.5px,#fde397 278.5px,#fedd9a 279.5px,#fedb9b 281.5px,#fedb9b 321.5px,#ffcfa0 327.5px,#ffbaa0 339.5px,#ffbaa0 378.5px,#ffb1a0 399.5px,#ffa9aa 401.5px,#ffacb2 403.5px,#ffb2bf 405.5px,#ffc5e5 408.5px,#ffc9ed 409.5px,#ffcbf1 411.5px,#ffcbf1 685.5px)"></i><i style="background:linear-gradient(90deg,#6c72ff 0,#6c76ff 50.5px,#69a9ff 134.5px,#67c6ff 153.5px,#66e2ff 159.5px,#66f4ff 164.5px,#66fdec 168.5px,#66ffaf 173.5px,#66ffa8 175.5px,#66ffa2 269.5px,#67ff9d 271.5px,#67ff8c 272.5px,#71ff6c 273.5px,#9fff63 274.5px,#c9ff60 275.5px,#eff67f 276.5px,#fde895 277.5px,#fedc9a 279.5px,#fedb9b 320.5px,#ffcfa0 326.5px,#ffbaa0 338.5px,#ffbaa0 378.5px,#ffb1a0 399.5px,#ffa9aa 401.5px,#ffacb2 403.5px,#ffb2be 405.5px,#ffc4e4 408.5px,#ffc9ed 409.5px,#ffcbf1 411.5px,#ffcbf1 685.5px)"></i><i style="background:linear-gradient(90deg,#6c72ff 0,#6c76ff 50.5px,#69aaff 134.5px,#67c7ff 153.5px,#66dfff 158.5px,#66f5ff 164.5px,#66feea 168.5px,#66ffb6 172.5px,#66ffad 173.5px,#66ffa9 174.5px,#66ffa1 270.5px,#67ff98 271.5px,#68ff7e 272.5px,#83ff68 273.5px,#b1ff61 274.5px,#d6ff5f 275.5px,#fcef91 276.5px,#fde497 277.5px,#fedb9b 279.5px,#fedb9b 320.5px,#ffd0a0 325.5px,#ffbba0 337.5px,#ffbaa0 379.5px,#ffb1a0 399.5px,#ffa9aa 401.5px,#ffaeb6 404.5px,#ffb2be 405.5px,#ffc4e4 408.5px,#ffc9ed 409.5px,#ffcbf1 411.5px,#ffcbf1 685.5px)"></i><i style="background:linear-gradient(90deg,#6c72ff 0,#6c76ff 49.5px,#69aaff 134.5px,#67c7ff 153.5px,#66e0ff 158.5px,#66f2ff 163.5px,#66f5fe 164.5px,#66fcef 167.5px,#66ffe7 168.5px,#66ffb3 172.5px,#66ffa8 174.5px,#66ffa2 268.5px,#66ff9f 270.5px,#67ff91 271.5px,#6bff70 272.5px,#96ff64 273.5px,#c2ff60 274.5px,#e7f972 275.5px,#fdea94 276.5px,#fde198 277.5px,#fedb9b 280.5px,#feda9b 320.5px,#ffcfa0 325.5px,#ffbaa0 337.5px,#ffbaa0 379.5px,#ffb1a0 399.5px,#ffa9aa 401.5px,#ffaeb6 404.5px,#ffb2bd 405.5px,#ffc4e3 408.5px,#ffc8ec 409.5px,#ffcbf1 411.5px,#ffcbf1 685.5px)"></i><i style="background:linear-gradient(90deg,#6c72ff 0,#6c76ff 49.5px,#69a9ff 133.5px,#67c6ff 152.5px,#67ccff 154.5px,#66e1ff 158.5px,#66f3ff 163.5px,#66fded 167.5px,#66ffb0 172.5px,#66ffa8 174.5px,#66ffa2 268.5px,#66ffa1 269.5px,#67ff9b 270.5px,#68ff85 271.5px,#7aff6a 272.5px,#a8ff62 273.5px,#d0ff60 274.5px,#f8f28b 275.5px,#fde696 276.5px,#fedc9b 278.5px,#fedb9b 319.5px,#ffcfa0 325.5px,#ffbaa0 337.5px,#ffbaa0 379.5px,#ffb1a0 399.5px,#ffaea2 400.5px,#ffa9aa 401.5px,#ffaeb5 404.5px,#ffb1bd 405.5px,#ffc4e3 408.5px,#ffc8ec 409.5px,#ffcaf0 411.5px,#ffcbf1 685.5px)"></i><i style="background:linear-gradient(90deg,#6c72ff 0,#6c76ff 48.5px,#69a9ff 133.5px,#67c6ff 152.5px,#66deff 157.5px,#66f4ff 163.5px,#66feeb 167.5px,#66ffae 172.5px,#66ffa8 174.5px,#66ffa2 267.5px,#66ffa0 269.5px,#67ff94 270.5px,#69ff76 271.5px,#8dff66 272.5px,#baff61 273.5px,#ddfd65 274.5px,#fcec93 275.5px,#fde297 276.5px,#fedd9a 277.5px,#fedb9b 279.5px,#fedb9b 320.5px,#ffd0a0 325.5px,#ffbaa0 338.5px,#ffbaa0 379.5px,#ffb1a0 399.5px,#ffafa1 400.5px,#ffa9a9 401.5px,#ffaeb5 404.5px,#ffb1bc 405.5px,#ffc3e2 408.5px,#ffc8eb 409.5px,#ffcaef 411.5px,#ffcbf1 685.5px)"></i><i style="background:linear-gradient(90deg,#6c72ff 0,#6c76ff 48.5px,#69aaff 133.5px,#67c7ff 152.5px,#66e0ff 157.5px,#66f2ff 162.5px,#66f5ff 163.5px,#66ffe8 167.5px,#66ffb4 171.5px,#66ffa9 173.5px,#66ffa2 267.5px,#67ff9d 269.5px,#67ff8b 270.5px,#72ff6c 271.5px,#a0ff62 272.5px,#caff60 273.5px,#f0f580 274.5px,#fde895 275.5px,#fedc9a 277.5px,#fedb9b 320.5px,#ffcfa0 326.5px,#ffbaa0 338.5px,#ffbaa0 379.5px,#ffb1a0 399.5px,#ffafa1 400.5px,#ffa9a9 401.5px,#ffaeb5 404.5px,#ffb1bc 405.5px,#ffc3e1 408.5px,#ffc7ea 409.5px,#ffcaef 411.5px,#ffcbf1 685.5px)"></i><i style="background:linear-gradient(90deg,#6c72ff 0,#6c76ff 47.5px,#69a9ff 132.5px,#67c8ff 152.5px,#66e1ff 157.5px,#66f3ff 162.5px,#66fdee 166.5px,#66ffe4 167.5px,#66ffb1 171.5px,#66ffa8 173.5px,#66ffa1 268.5px,#67ff98 269.5px,#68ff7d 270.5px,#84ff68 271.5px,#b2ff61 272.5px,#d6ff5f 273.5px,#fcef91 274.5px,#fde497 275.5px,#fedb9b 277.5px,#fedb9b 321.5px,#ffcfa0 327.5px,#ffbaa0 339.5px,#ffbaa0 379.5px,#ffafa1 400.5px,#ffa8a9 401.5px,#ffaeb4 404.5px,#ffb1bb 405.5px,#ffc7e9 409.5px,#ffc9ee 411.5px,#ffcbf1 430.5px,#ffcbf1 685.5px)"></i><i style="background:linear-gradient(90deg,#6c72ff 0,#6c76ff 47.5px,#69a9ff 132.5px,#67c6ff 151.5px,#66e2ff 157.5px,#66f4ff 162.5px,#66feeb 166.5px,#66ffae 171.5px,#66ffa8 173.5px,#66ffa2 266.5px,#66ff9f 268.5px,#67ff90 269.5px,#6bff6f 270.5px,#97ff64 271.5px,#c3ff60 272.5px,#e7f973 273.5px,#fdea94 274.5px,#fde198 275.5px,#fedb9b 278.5px,#fedb9b 322.5px,#ffd0a0 327.5px,#ffbaa0 340.5px,#ffbaa0 379.5px,#ffb0a0 400.5px,#ffa8a9 401.5px,#ffadb4 404.5px,#ffb0bb 405.5px,#ffc7e9 409.5px,#ffc9ed 411.5px,#ffcbf1 432.5px,#ffcbf1 685.5px)"></i><i style="background:linear-gradient(90deg,#6c72ff 0,#6c76ff 46.5px,#69aaff 132.5px,#67c7ff 151.5px,#66dfff 156.5px,#66f5ff 162.5px,#66ffe9 166.5px,#66ffb5 170.5px,#66ffa9 172.5px,#66ffa2 266.5px,#66ffa1 267.5px,#67ff9b 268.5px,#68ff85 269.5px,#7bff6a 270.5px,#a9ff62 271.5px,#d1ff5f 272.5px,#f8f28b 273.5px,#fde696 274.5px,#fedc9b 276.5px,#fedb9b 322.5px,#ffcfa0 328.5px,#ffbaa0 340.5px,#ffbaa0 379.5px,#ffb0a0 400.5px,#ffa8a9 401.5px,#ffadb4 404.5px,#ffb0ba 405.5px,#ffc6e8 409.5px,#ffc8ec 411.5px,#ffcbf1 433.5px,#ffcbf1 685.5px)"></i><i style="background:linear-gradient(90deg,#6c72ff 0,#6c76ff 46.5px,#69aaff 132.5px,#67c8ff 151.5px,#66e1ff 156.5px,#66f3ff 161.5px,#66f6fe 162.5px,#66fcee 165.5px,#66ffe6 166.5px,#66ffb2 170.5px,#66ffa8 172.5px,#66ffa2 265.5px,#66ffa0 267.5px,#67ff94 268.5px,#69ff75 269.5px,#8eff66 270.5px,#bbff61 271.5px,#defd66 272.5px,#fcec93 273.5px,#fedd9a 275.5px,#fedb9b 323.5px,#ffd0a0 328.5px,#ffbba0 340.5px,#ffbaa0 379.5px,#ffb0a0 400.5px,#ffa8a9 401.5px,#ffadb4 404.5px,#ffb0ba 405.5px,#ffc6e7 409.5px,#ffc8eb 411.5px,#ffcbf1 435.5px,#ffcbf1 685.5px)"></i><i style="background:linear-gradient(90deg,#6c72ff 0,#6c76ff 45.5px,#69a9ff 131.5px,#67c6ff 150.5px,#67cdff 152.5px,#66e2ff 156.5px,#66f4ff 161.5px,#66fdec 165.5px,#66ffaf 170.5px,#66ffa8 172.5px,#66ffa2 265.5px,#67ff9d 267.5px,#68ff8b 268.5px,#72ff6c 269.5px,#a1ff62 270.5px,#cbff60 271.5px,#f1f581 272.5px,#fde895 273.5px,#fedc9a 275.5px,#fedb9b 323.5px,#ffcfa0 329.5px,#ffbaa0 341.5px,#ffbaa0 379.5px,#ffb0a0 400.5px,#ffa8a8 401.5px,#ffadb3 404.5px,#ffb0ba 405.5px,#ffc5e6 409.5px,#ffc8ea 411.5px,#ffcbf1 437.5px,#ffcbf1 685.5px)"></i><i style="background:linear-gradient(90deg,#6c72ff 0,#6c76ff 45.5px,#69aaff 131.5px,#67c7ff 150.5px,#66dfff 155.5px,#66f5ff 161.5px,#66feea 165.5px,#66ffb6 169.5px,#66ffad 170.5px,#66ffa9 171.5px,#66ffa1 266.5px,#67ff97 267.5px,#68ff7d 268.5px,#85ff68 269.5px,#b2ff61 270.5px,#d7ff5f 271.5px,#fcef92 272.5px,#fde497 273.5px,#fedb9b 275.5px,#fedb9b 324.5px,#ffcfa0 330.5px,#ffbaa0 342.5px,#ffbaa0 379.5px,#ffb0a0 400.5px,#ffa8a8 401.5px,#ffadb3 404.5px,#ffb4c3 406.5px,#ffc5e5 409.5px,#ffc7ea 411.5px,#ffcbf1 439.5px,#ffcbf1 685.5px)"></i><i style="background:linear-gradient(90deg,#6c72ff 0,#6c76ff 45.5px,#69aaff 131.5px,#67c7ff 150.5px,#66e0ff 155.5px,#66f2ff 160.5px,#66f5fe 161.5px,#66fcef 164.5px,#66ffe7 165.5px,#66ffb3 169.5px,#66ffa8 171.5px,#66ffa2 264.5px,#66ff9f 266.5px,#67ff8f 267.5px,#6cff6f 268.5px,#98ff64 269.5px,#c4ff60 270.5px,#e9f875 271.5px,#fde994 272.5px,#fde198 273.5px,#fedb9b 275.5px,#fedb9b 324.5px,#ffd0a0 330.5px,#ffbaa0 342.5px,#ffbaa0 379.5px,#ffb0a0 400.5px,#ffa8a8 401.5px,#ffadb3 404.5px,#ffb4c3 406.5px,#ffc5e5 409.5px,#ffc7e9 411.5px,#ffcbf1 440.5px,#ffcbf1 685.5px)"></i><i style="background:linear-gradient(90deg,#6c72ff 0,#6c76ff 44.5px,#69a9ff 130.5px,#67c6ff 149.5px,#66e2ff 155.5px,#66f4ff 160.5px,#66fdec 164.5px,#66ffaf 169.5px,#66ffa8 171.5px,#66ffa1 265.5px,#67ff98 266.5px,#68ff7e 267.5px,#83ff68 268.5px,#b0ff61 269.5px,#d5ff5f 270.5px,#faef8f 271.5px,#fde496 272.5px,#fedb9b 274.5px,#fedb9b 325.5px,#ffcfa0 331.5px,#ffbaa0 343.5px,#ffbaa0 379.5px,#ffb0a0 400.5px,#ffa8a8 401.5px,#ffadb3 404.5px,#ffb0ba 405.5px,#ffc0dd 408.5px,#ffc5e5 409.5px,#ffc6e8 411.5px,#ffcbf1 442.5px,#ffcbf1 685.5px)"></i><i style="background:linear-gradient(90deg,#6c72ff 0,#6c76ff 44.5px,#69aaff 130.5px,#67c7ff 149.5px,#66e0ff 154.5px,#66f2ff 159.5px,#66f5fe 160.5px,#66fcef 163.5px,#66ffe7 164.5px,#66ffb4 168.5px,#66ffa9 170.5px,#66ffa2 263.5px,#67ff9d 265.5px,#68ff8a 266.5px,#72ff6c 267.5px,#a0ff63 268.5px,#c9ff60 269.5px,#eff67e 270.5px,#fde895 271.5px,#fedc9a 273.5px,#fedb9b 325.5px,#ffcfa0 331.5px,#ffbaa0 343.5px,#ffbaa0 379.5px,#ffb0a0 400.5px,#ffa8a9 401.5px,#ffaeb4 404.5px,#ffb1bb 405.5px,#ffc1de 408.5px,#ffc6e7 410.5px,#ffcbf1 444.5px,#ffcbf1 685.5px)"></i><i style="background:linear-gradient(90deg,#6c72ff 0,#6c76ff 43.5px,#69a9ff 129.5px,#67c6ff 148.5px,#66e2ff 154.5px,#66f4ff 159.5px,#66fdec 163.5px,#66ffaf 168.5px,#66ffa8 170.5px,#66ffa2 262.5px,#66ff9f 264.5px,#67ff93 265.5px,#69ff74 266.5px,#8fff66 267.5px,#bbff61 268.5px,#dffc68 269.5px,#fcec93 270.5px,#fedd9a 272.5px,#fedb9b 326.5px,#ffd0a0 331.5px,#ffbba0 343.5px,#ffbaa0 379.5px,#ffb1a0 399.5px,#ffaea2 400.5px,#ffa9aa 401.5px,#ffacb1 403.5px,#ffb1bd 405.5px,#ffc2e0 408.5px,#ffc6e7 410.5px,#ffcbf1 446.5px,#ffcbf1 685.5px)"></i><i style="background:linear-gradient(90deg,#6c72ff 0,#6c76ff 43.5px,#69aaff 129.5px,#67c7ff 148.5px,#66e0ff 153.5px,#66f2ff 158.5px,#66f5fe 159.5px,#66fcef 162.5px,#66ffe7 163.5px,#66ffb4 167.5px,#66ffa9 169.5px,#66ffa1 263.5px,#67ff99 264.5px,#68ff82 265.5px,#7eff69 266.5px,#acff61 267.5px,#d2ff5f 268.5px,#f8f18b 269.5px,#fde596 270.5px,#fedc9b 272.5px,#fedb9b 326.5px,#ffcfa0 332.5px,#ffbaa0 344.5px,#ffbaa0 379.5px,#ffb1a0 399.5px,#ffa9aa 401.5px,#ffacb2 403.5px,#ffb2bf 405.5px,#ffc3e2 408.5px,#ffc6e7 410.5px,#ffc6e7 421.5px,#ffcbf1 448.5px,#ffcbf1 685.5px)"></i><i style="background:linear-gradient(90deg,#6c72ff 0,#6c76ff 42.5px,#69a9ff 128.5px,#67c6ff 147.5px,#66e2ff 153.5px,#66f4ff 158.5px,#66fdec 162.5px,#66ffaf 167.5px,#66ffa8 169.5px,#66ffa2 261.5px,#67ff9e 263.5px,#67ff8d 264.5px,#6fff6d 265.5px,#9bff63 266.5px,#c6ff60 267.5px,#ebf778 268.5px,#fde994 269.5px,#fde098 270.5px,#fedb9b 272.5px,#fedb9b 326.5px,#ffcfa0 332.5px,#ffbaa0 344.5px,#ffbaa0 378.5px,#ffb0a0 399.5px,#ffa9a7 400.5px,#ffadb3 403.5px,#ffb3c1 405.5px,#ffbfda 407.5px,#ffc4e3 408.5px,#ffc6e6 410.5px,#ffc5e6 421.5px,#ffcbf1 450.5px,#ffcbf1 685.5px)"></i><i style="background:linear-gradient(90deg,#6c72ff 0,#6c76ff 42.5px,#69aaff 128.5px,#67c7ff 147.5px,#66e0ff 152.5px,#66f2ff 157.5px,#66f5fe 158.5px,#66fcef 161.5px,#66ffe7 162.5px,#66ffb4 166.5px,#66ffa9 168.5px,#66ffa2 260.5px,#66ffa0 262.5px,#67ff95 263.5px,#68ff78 264.5px,#8aff67 265.5px,#b7ff61 266.5px,#dcfd65 267.5px,#fced92 268.5px,#fedd9a 270.5px,#fedb9b 327.5px,#ffd0a0 332.5px,#ffbba0 344.5px,#ffbaa0 378.5px,#ffb0a0 399.5px,#ffa8a8 400.5px,#ffadb3 403.5px,#ffb4c4 405.5px,#ffc0dc 407.5px,#ffc5e6 409.5px,#ffc5e6 422.5px,#ffcbf1 452.5px,#ffcbf1 685.5px)"></i><i style="background:linear-gradient(90deg,#6c72ff 0,#6c76ff 41.5px,#69a9ff 127.5px,#67c6ff 146.5px,#66e2ff 152.5px,#66f4ff 157.5px,#66fdec 161.5px,#66ffaf 166.5px,#66ffa8 168.5px,#66ffa2 260.5px,#66ffa1 261.5px,#67ff9b 262.5px,#68ff85 263.5px,#7aff6a 264.5px,#a8ff62 265.5px,#cfff60 266.5px,#f6f388 267.5px,#fde696 268.5px,#fedc9a 270.5px,#fedb9b 327.5px,#ffcfa0 333.5px,#ffbaa0 345.5px,#ffbaa0 378.5px,#ffafa1 399.5px,#ffa8a9 400.5px,#ffaeb4 403.5px,#ffb1bb 404.5px,#ffc1de 407.5px,#ffc5e6 409.5px,#ffc5e5 423.5px,#ffcbf1 454.5px,#ffcbf1 685.5px)"></i><i style="background:linear-gradient(90deg,#6c72ff 0,#6c76ff 41.5px,#69aaff 127.5px,#67c7ff 146.5px,#66e0ff 151.5px,#66f2ff 156.5px,#66f5fe 157.5px,#66fcef 160.5px,#66ffe7 161.5px,#66ffb4 165.5px,#66ffa9 167.5px,#66ffa2 259.5px,#66ff9e 261.5px,#67ff8f 262.5px,#6dff70 263.5px,#97ff64 264.5px,#c2ff60 265.5px,#e7f972 266.5px,#fdea94 267.5px,#fde198 268.5px,#fedb9b 271.5px,#fedb9b 327.5px,#ffcfa0 333.5px,#ffbaa0 345.5px,#ffbaa0 378.5px,#ffb1a0 398.5px,#ffa9aa 400.5px,#ffacb1 402.5px,#ffb1bd 404.5px,#ffc2e0 407.5px,#ffc5e6 409.5px,#ffc5e5 424.5px,#ffcbf1 456.5px,#ffcbf1 685.5px)"></i><i style="background:linear-gradient(90deg,#6c72ff 0,#6c76ff 40.5px,#69a9ff 126.5px,#67c6ff 145.5px,#66e2ff 151.5px,#66f4ff 156.5px,#66fdec 160.5px,#66ffaf 165.5px,#66ffa8 167.5px,#66ffa2 258.5px,#66ffa0 260.5px,#67ff97 261.5px,#68ff7b 262.5px,#86ff68 263.5px,#b3ff61 264.5px,#d8fe61 265.5px,#fbee91 266.5px,#fede9a 268.5px,#fedb9b 328.5px,#ffd0a0 333.5px,#ffbba0 345.5px,#ffbaa0 378.5px,#ffb1a0 398.5px,#ffa9aa 400.5px,#ffacb2 402.5px,#ffb2bf 404.5px,#ffc3e1 407.5px,#ffc5e6 409.5px,#ffc5e5 425.5px,#ffcbf1 458.5px,#ffcbf1 685.5px)"></i><i style="background:linear-gradient(90deg,#6c72ff 0,#6c76ff 40.5px,#69aaff 126.5px,#67c7ff 145.5px,#66e0ff 150.5px,#66f2ff 155.5px,#66f5fe 156.5px,#66fcef 159.5px,#66ffe7 160.5px,#66ffb4 164.5px,#66ffa9 166.5px,#66ffa2 258.5px,#67ff9c 260.5px,#68ff88 261.5px,#76ff6b 262.5px,#a3ff62 263.5px,#ccff60 264.5px,#f3f483 265.5px,#fde795 266.5px,#fedc9a 268.5px,#fedb9b 328.5px,#ffcfa0 334.5px,#ffbaa0 346.5px,#ffbaa0 377.5px,#ffb0a0 398.5px,#ffa8a8 399.5px,#ffadb3 402.5px,#ffb4c2 404.5px,#ffbfda 406.5px,#ffc5e5 408.5px,#ffc5e4 426.5px,#ffcbf1 460.5px,#ffcbf1 685.5px)"></i><i style="background:linear-gradient(90deg,#6c72ff 0,#6c76ff 40.5px,#69a9ff 125.5px,#67c6ff 144.5px,#66e2ff 150.5px,#66f4ff 155.5px,#66fdec 159.5px,#66ffaf 164.5px,#66ffa8 166.5px,#66ffa2 257.5px,#66ff9f 259.5px,#67ff91 260.5px,#6bff72 261.5px,#93ff65 262.5px,#bfff60 263.5px,#e2fb6b 264.5px,#fceb93 265.5px,#fedd9a 267.5px,#fedb9b 328.5px,#ffd0a0 334.5px,#ffbaa0 346.5px,#ffbaa0 377.5px,#ffb0a0 398.5px,#ffa8a9 399.5px,#ffadb4 402.5px,#ffb0ba 403.5px,#ffc0dc 406.5px,#ffc5e5 408.5px,#ffc4e4 427.5px,#ffcbf1 461.5px,#ffcbf1 685.5px)"></i><i style="background:linear-gradient(90deg,#6c72ff 0,#6c76ff 39.5px,#69aaff 125.5px,#67c7ff 144.5px,#66e0ff 149.5px,#66f2ff 154.5px,#66f5fe 155.5px,#66fcef 158.5px,#66ffe7 159.5px,#66ffb4 163.5px,#66ffa9 165.5px,#66ffa1 258.5px,#67ff98 259.5px,#68ff7f 260.5px,#82ff69 261.5px,#afff61 262.5px,#d4ff5f 263.5px,#faf08e 264.5px,#fde596 265.5px,#fedc9b 267.5px,#fedb9b 329.5px,#ffd0a0 334.5px,#ffbba0 346.5px,#ffbaa0 377.5px,#ffafa1 398.5px,#ffa9a9 399.5px,#ffaeb4 402.5px,#ffb1bb 403.5px,#ffc1de 406.5px,#ffc5e5 408.5px,#ffc4e4 428.5px,#ffcbf1 463.5px,#ffcbf1 685.5px)"></i><i style="background:linear-gradient(90deg,#6c72ff 0,#6c76ff 39.5px,#69a9ff 124.5px,#67c6ff 143.5px,#66e2ff 149.5px,#66f4ff 154.5px,#66fdec 158.5px,#66ffaf 163.5px,#66ffa8 165.5px,#66ffa2 256.5px,#67ff9d 258.5px,#68ff8a 259.5px,#72ff6c 260.5px,#9fff63 261.5px,#c9ff60 262.5px,#eff67d 263.5px,#fde895 264.5px,#fedc9a 266.5px,#fedb9b 329.5px,#ffcfa0 335.5px,#ffbaa0 347.5px,#ffbaa0 377.5px,#ffb1a0 397.5px,#ffa9aa 399.5px,#ffacb1 401.5px,#ffb2bd 403.5px,#ffc2e0 406.5px,#ffc5e5 408.5px,#ffc4e4 429.5px,#ffcbf1 465.5px,#ffcbf1 685.5px)"></i><i style="background:linear-gradient(90deg,#6c72ff 0,#6c76ff 38.5px,#69aaff 124.5px,#67c7ff 143.5px,#66e0ff 148.5px,#66f2ff 153.5px,#66f5fe 154.5px,#66fcef 157.5px,#66ffe7 158.5px,#66ffb4 162.5px,#66ffa9 164.5px,#66ffa2 255.5px,#66ff9f 257.5px,#67ff93 258.5px,#69ff74 259.5px,#8eff66 260.5px,#bbff61 261.5px,#dffc68 262.5px,#fcec93 263.5px,#fedd9a 265.5px,#fedb9b 329.5px,#ffd0a0 335.5px,#ffbaa0 347.5px,#ffbaa0 377.5px,#ffb1a0 397.5px,#ffa9aa 399.5px,#ffacb2 401.5px,#ffb3c0 403.5px,#ffc3e1 406.5px,#ffc5e5 408.5px,#ffc4e4 431.5px,#ffcbf1 467.5px,#ffcbf1 685.5px)"></i><i style="background:linear-gradient(90deg,#6c72ff 0,#6c76ff 38.5px,#69a9ff 123.5px,#67c6ff 142.5px,#66e2ff 148.5px,#66f4ff 153.5px,#66fdec 157.5px,#66ffaf 162.5px,#66ffa8 164.5px,#66ffa1 256.5px,#67ff99 257.5px,#68ff82 258.5px,#7eff6a 259.5px,#abff61 260.5px,#d2ff5f 261.5px,#f8f18b 262.5px,#fde596 263.5px,#fedc9b 265.5px,#fedb9b 330.5px,#ffd0a0 335.5px,#ffbba0 347.5px,#ffbaa0 376.5px,#ffb0a0 397.5px,#ffa8a8 398.5px,#ffadb3 401.5px,#ffb4c2 403.5px,#ffbfdb 405.5px,#ffc5e5 407.5px,#ffc4e4 433.5px,#ffcbf1 469.5px,#ffcbf1 685.5px)"></i><i style="background:linear-gradient(90deg,#6c72ff 0,#6c76ff 37.5px,#69aaff 123.5px,#67c7ff 142.5px,#66e0ff 147.5px,#66f2ff 152.5px,#66f5fe 153.5px,#66fcef 156.5px,#66ffe7 157.5px,#66ffb4 161.5px,#66ffa9 163.5px,#66ffa2 254.5px,#67ff9e 256.5px,#67ff8d 257.5px,#6fff6e 258.5px,#9bff63 259.5px,#c5ff60 260.5px,#ebf877 261.5px,#fde994 262.5px,#fde098 263.5px,#fedb9b 265.5px,#fedb9b 330.5px,#ffcfa0 336.5px,#ffbaa0 348.5px,#ffbaa0 376.5px,#ffb0a0 397.5px,#ffa8a9 398.5px,#ffadb4 401.5px,#ffb0ba 402.5px,#ffc0dc 405.5px,#ffc5e5 407.5px,#ffc4e4 434.5px,#ffcbf1 471.5px,#ffcbf1 685.5px)"></i><i style="background:linear-gradient(90deg,#6c72ff 0,#6c76ff 37.5px,#69a9ff 122.5px,#67c6ff 141.5px,#66e2ff 147.5px,#66f4ff 152.5px,#66fdec 156.5px,#66ffaf 161.5px,#66ffa8 163.5px,#66ffa2 253.5px,#66ffa0 255.5px,#67ff95 256.5px,#68ff78 257.5px,#8aff67 258.5px,#b7ff61 259.5px,#dbfd64 260.5px,#fced92 261.5px,#fedd9a 263.5px,#fedb9b 330.5px,#ffd0a0 336.5px,#ffbaa0 348.5px,#ffbaa0 376.5px,#ffb1a0 396.5px,#ffafa1 397.5px,#ffa9a9 398.5px,#ffacb0 400.5px,#ffb1bc 402.5px,#ffc1de 405.5px,#ffc5e5 407.5px,#ffc4e4 436.5px,#ffcbf1 473.5px,#ffcbf1 685.5px)"></i><i style="background:linear-gradient(90deg,#6c72ff 0,#6c76ff 36.5px,#69aaff 122.5px,#67c7ff 141.5px,#66e0ff 146.5px,#66f2ff 151.5px,#66f5fe 152.5px,#66fcef 155.5px,#66ffe7 156.5px,#66ffb3 160.5px,#66ffa9 162.5px,#66ffa2 253.5px,#66ffa1 254.5px,#67ff9b 255.5px,#68ff85 256.5px,#79ff6a 257.5px,#a7ff62 258.5px,#cfff60 259.5px,#f6f388 260.5px,#fde696 261.5px,#fedc9a 263.5px,#fedb9b 331.5px,#ffd0a0 336.5px,#ffbba0 348.5px,#ffbaa0 376.5px,#ffb1a0 396.5px,#ffa9aa 398.5px,#ffacb1 400.5px,#ffb2be 402.5px,#ffc2e0 405.5px,#ffc5e5 407.5px,#ffc4e3 437.5px,#ffcbf1 474.5px,#ffcbf1 685.5px)"></i><i style="background:linear-gradient(90deg,#6c72ff 0,#6c76ff 36.5px,#69a9ff 121.5px,#67c6ff 140.5px,#66e2ff 146.5px,#66f4ff 151.5px,#66feea 155.5px,#66ffae 160.5px,#66ffa8 162.5px,#66ffa2 252.5px,#67ff9e 254.5px,#67ff8e 255.5px,#6eff6f 256.5px,#99ff64 257.5px,#c4ff60 258.5px,#e8f974 259.5px,#fdea94 260.5px,#fde198 261.5px,#fedb9b 264.5px,#fedb9b 331.5px,#ffd0a0 336.5px,#ffbba0 348.5px,#ffbaa0 375.5px,#ffafa1 396.5px,#ffa8a9 397.5px,#ffadb4 400.5px,#ffb0ba 401.5px,#ffc0dc 404.5px,#ffc5e5 406.5px,#ffc4e3 439.5px,#ffcbf1 476.5px,#ffcbf1 685.5px)"></i><i style="background:linear-gradient(90deg,#6c72ff 0,#6c76ff 35.5px,#69aaff 121.5px,#67c8ff 140.5px,#66e1ff 145.5px,#66f3ff 150.5px,#66fded 154.5px,#66ffb1 159.5px,#66ffa8 161.5px,#66ffa2 251.5px,#66ffa0 253.5px,#67ff94 254.5px,#69ff76 255.5px,#8cff66 256.5px,#b8ff61 257.5px,#ddfd66 258.5px,#fced92 259.5px,#fedd9a 261.5px,#fedb9b 330.5px,#ffcfa0 336.5px,#ffbaa0 348.5px,#ffbaa0 374.5px,#ffb0a0 395.5px,#ffa9a8 396.5px,#ffadb3 399.5px,#ffb4c3 401.5px,#ffc0db 403.5px,#ffc5e5 405.5px,#ffc4e3 441.5px,#ffcbf1 477.5px,#ffcbf1 685.5px)"></i><i style="background:linear-gradient(90deg,#6c72ff 0,#6c76ff 35.5px,#69aaff 120.5px,#67c7ff 139.5px,#66e0ff 144.5px,#66f2ff 149.5px,#66f5fe 150.5px,#66fcef 153.5px,#66ffe6 154.5px,#66ffb3 158.5px,#66ffa9 160.5px,#66ffa1 252.5px,#67ff99 253.5px,#68ff81 254.5px,#7fff69 255.5px,#acff61 256.5px,#d2ff5f 257.5px,#f8f18b 258.5px,#fde596 259.5px,#fedc9b 261.5px,#fedb9b 330.5px,#ffcfa0 336.5px,#ffbba0 347.5px,#ffbaa0 374.5px,#ffb0a0 394.5px,#ffa9a7 395.5px,#ffadb3 398.5px,#ffb4c2 400.5px,#ffbfda 402.5px,#ffc3e2 403.5px,#ffc5e6 405.5px,#ffc4e3 442.5px,#ffcbf1 478.5px,#ffcbf1 685.5px)"></i><i style="background:linear-gradient(90deg,#6c72ff 0,#6c76ff 35.5px,#69aaff 119.5px,#67c7ff 138.5px,#66dfff 143.5px,#66f5ff 149.5px,#66fee9 153.5px,#66ffb6 157.5px,#66ffad 158.5px,#66ffa8 160.5px,#66ffa2 250.5px,#67ff9c 252.5px,#68ff89 253.5px,#73ff6c 254.5px,#a0ff63 255.5px,#c9ff60 256.5px,#eff67e 257.5px,#fde895 258.5px,#fedc9a 260.5px,#fedb9b 330.5px,#ffd0a0 335.5px,#ffbba0 347.5px,#ffbaa0 373.5px,#ffb0a0 393.5px,#ffaaa6 394.5px,#ffadb2 397.5px,#ffb3c1 399.5px,#ffc3e2 402.5px,#ffc5e6 404.5px,#ffc4e3 418.5px,#ffc4e3 443.5px,#ffcbf1 479.5px,#ffcbf1 685.5px)"></i><i style="background:linear-gradient(90deg,#6c72ff 0,#6c76ff 35.5px,#69a9ff 118.5px,#67c6ff 137.5px,#66e2ff 143.5px,#66f4ff 148.5px,#66fdec 152.5px,#66ffaf 157.5px,#66ffa8 159.5px,#66ffa2 249.5px,#66ff9f 251.5px,#67ff91 252.5px,#6bff72 253.5px,#93ff65 254.5px,#bfff60 255.5px,#e3fb6c 256.5px,#fceb93 257.5px,#fedd9a 259.5px,#fedb9b 329.5px,#ffcfa0 335.5px,#ffbaa0 347.5px,#ffbaa0 372.5px,#ffb1a0 392.5px,#ffa9ab 394.5px,#ffacb2 396.5px,#ffb3c0 398.5px,#ffc3e1 401.5px,#ffc6e7 403.5px,#ffc4e3 417.5px,#ffc4e3 444.5px,#ffcbf1 480.5px,#ffcbf1 685.5px)"></i><i style="background:linear-gradient(90deg,#6c72ff 0,#6c76ff 35.5px,#69aaff 118.5px,#67c8ff 137.5px,#66e1ff 142.5px,#66f3ff 147.5px,#66fdee 151.5px,#66ffe5 152.5px,#66ffb2 156.5px,#66ffa8 158.5px,#66ffa2 248.5px,#66ffa0 250.5px,#67ff96 251.5px,#68ff7b 252.5px,#87ff68 253.5px,#b4ff61 254.5px,#d8fe62 255.5px,#fbef90 256.5px,#fede9a 258.5px,#fedb9b 261.5px,#fedb9b 329.5px,#ffcfa0 335.5px,#ffbba0 346.5px,#ffbaa0 371.5px,#ffb1a0 391.5px,#ffa9aa 393.5px,#ffacb2 395.5px,#ffb2bf 397.5px,#ffc3e1 400.5px,#ffc6e7 402.5px,#ffc4e3 417.5px,#ffc4e3 445.5px,#ffcbf1 481.5px,#ffcbf1 685.5px)"></i><i style="background:linear-gradient(90deg,#6c72ff 0,#6c76ff 35.5px,#69aaff 117.5px,#67c7ff 136.5px,#66e0ff 141.5px,#66f2ff 146.5px,#66f5fe 147.5px,#66fcf0 150.5px,#66ffdc 152.5px,#66ffb5 155.5px,#66ffa9 157.5px,#66ffa2 248.5px,#66ffa1 249.5px,#67ff9a 250.5px,#68ff85 251.5px,#7aff6a 252.5px,#a7ff62 253.5px,#cfff60 254.5px,#f6f388 255.5px,#fde696 256.5px,#fedc9a 258.5px,#fedb9b 328.5px,#ffd0a0 334.5px,#ffbaa0 346.5px,#ffbaa0 370.5px,#ffb1a0 390.5px,#ffa9aa 392.5px,#ffacb1 394.5px,#ffb2be 396.5px,#ffc2e0 399.5px,#ffc6e7 401.5px,#ffc4e3 416.5px,#ffc4e3 446.5px,#ffcbf1 481.5px,#ffcbf1 685.5px)"></i><i style="background:linear-gradient(90deg,#6c72ff 0,#6c76ff 35.5px,#69a9ff 116.5px,#67c6ff 135.5px,#66e2ff 141.5px,#66f4ff 146.5px,#66feea 150.5px,#66ffae 155.5px,#66ffa8 157.5px,#66ffa2 247.5px,#67ff9d 249.5px,#67ff8c 250.5px,#6fff6e 251.5px,#9bff63 252.5px,#c5ff60 253.5px,#eaf877 254.5px,#fde994 255.5px,#fde098 256.5px,#fedb9b 258.5px,#fedb9b 328.5px,#ffd1a0 333.5px,#ffbba0 345.5px,#ffbaa0 369.5px,#ffb1a0 389.5px,#ffa9aa 391.5px,#ffacb1 393.5px,#ffb2bd 395.5px,#ffc2e0 398.5px,#ffc6e8 400.5px,#ffc4e3 416.5px,#ffc4e3 447.5px,#ffcbf1 481.5px,#ffcbf1 685.5px)"></i><i style="background:linear-gradient(90deg,#6c72ff 0,#6c76ff 35.5px,#69aaff 116.5px,#67c8ff 135.5px,#66e1ff 140.5px,#66f3ff 145.5px,#66fded 149.5px,#66ffb0 154.5px,#66ffa8 156.5px,#66ffa2 246.5px,#66ff9f 248.5px,#67ff93 249.5px,#69ff75 250.5px,#8eff66 251.5px,#baff61 252.5px,#dffc68 253.5px,#fcec93 254.5px,#fedd9a 256.5px,#fedb9b 327.5px,#ffd1a0 332.5px,#ffbba0 344.5px,#ffbaa0 368.5px,#ffb1a0 388.5px,#ffa9a9 390.5px,#ffacb0 392.5px,#ffb1bc 394.5px,#ffc2df 397.5px,#ffc6e8 399.5px,#ffc4e3 414.5px,#ffc3e2 440.5px,#ffc5e5 456.5px,#ffcbf1 481.5px,#ffcbf1 685.5px)"></i><i style="background:linear-gradient(90deg,#6c72ff 0,#6c76ff 35.5px,#69aaff 115.5px,#67c7ff 134.5px,#66e0ff 139.5px,#66f2ff 144.5px,#66faf4 147.5px,#66ffe6 149.5px,#66ffb3 153.5px,#66ffa9 155.5px,#66ffa1 247.5px,#67ff98 248.5px,#68ff7f 249.5px,#82ff69 250.5px,#afff61 251.5px,#d4ff5f 252.5px,#f9f08d 253.5px,#fde596 254.5px,#fedc9b 256.5px,#fedb9b 326.5px,#ffcfa0 332.5px,#ffbba0 343.5px,#ffbaa0 367.5px,#ffb1a0 387.5px,#ffafa2 388.5px,#ffa8a9 389.5px,#ffacb0 391.5px,#ffb1bb 393.5px,#ffc1de 396.5px,#ffc6e8 398.5px,#ffc4e3 414.5px,#ffc3e2 441.5px,#ffc5e5 457.5px,#ffcbf1 481.5px,#ffcbf1 685.5px)"></i><i style="background:linear-gradient(90deg,#6c72ff 0,#6c76ff 34.5px,#69aaff 114.5px,#67c7ff 133.5px,#66dfff 138.5px,#66f5ff 144.5px,#66fee9 148.5px,#66ffb6 152.5px,#66ffad 153.5px,#66ffa8 155.5px,#66ffa2 245.5px,#67ff9c 247.5px,#68ff88 248.5px,#75ff6b 249.5px,#a2ff62 250.5px,#cbff60 251.5px,#f1f581 252.5px,#fde795 253.5px,#fedc9a 255.5px,#fedb9b 325.5px,#ffcfa0 331.5px,#ffbba0 342.5px,#ffbaa0 366.5px,#ffb1a0 386.5px,#ffafa1 387.5px,#ffa8a9 388.5px,#ffabb0 390.5px,#ffb0bb 392.5px,#ffc1dd 395.5px,#ffc7e8 397.5px,#ffc4e3 413.5px,#ffc3e2 441.5px,#ffc5e5 457.5px,#ffcbf1 481.5px,#ffcbf1 685.5px)"></i><i style="background:linear-gradient(90deg,#6c72ff 0,#6c76ff 34.5px,#69a9ff 113.5px,#67c6ff 132.5px,#66e2ff 138.5px,#66f4ff 143.5px,#66fdec 147.5px,#66ffaf 152.5px,#66ffa8 154.5px,#66ffa2 244.5px,#66ff9e 246.5px,#67ff8f 247.5px,#6dff71 248.5px,#96ff64 249.5px,#c1ff60 250.5px,#e5fa70 251.5px,#fdea94 252.5px,#fde198 253.5px,#fedb9b 256.5px,#fedb9b 324.5px,#ffcfa0 330.5px,#ffbba0 341.5px,#ffbaa0 366.5px,#ffb0a1 386.5px,#ffa9a8 387.5px,#ffadb4 390.5px,#ffb0ba 391.5px,#ffc5e5 395.5px,#ffc7e9 397.5px,#ffc4e3 412.5px,#ffc3e2 440.5px,#ffc5e5 456.5px,#ffcbf1 481.5px,#ffcbf1 685.5px)"></i><i style="background:linear-gradient(90deg,#6c72ff 0,#6c76ff 34.5px,#69aaff 113.5px,#67c8ff 132.5px,#66e1ff 137.5px,#66f3ff 142.5px,#66fdee 146.5px,#66ffe5 147.5px,#66ffb2 151.5px,#66ffa8 153.5px,#66ffa2 243.5px,#66ffa0 245.5px,#67ff95 246.5px,#68ff79 247.5px,#89ff67 248.5px,#b6ff61 249.5px,#dafd64 250.5px,#fcee92 251.5px,#fedd9a 253.5px,#fedb9b 323.5px,#ffcfa0 329.5px,#ffbba0 340.5px,#ffbaa0 365.5px,#ffb0a0 385.5px,#ffa9a8 386.5px,#ffadb3 389.5px,#ffb4c3 391.5px,#ffc5e5 394.5px,#ffc7ea 396.5px,#ffc4e3 412.5px,#ffc3e2 439.5px,#ffc5e5 456.5px,#ffcbf1 480.5px,#ffcbf1 685.5px)"></i><i style="background:linear-gradient(90deg,#6c72ff 0,#6c76ff 34.5px,#69aaff 112.5px,#67c7ff 131.5px,#66e0ff 136.5px,#66f2ff 141.5px,#66f5fe 142.5px,#66fcf0 145.5px,#66ffdc 147.5px,#66ffb4 150.5px,#66ffa9 152.5px,#66ffa2 243.5px,#66ffa1 244.5px,#67ff99 245.5px,#68ff83 246.5px,#7cff6a 247.5px,#aaff61 248.5px,#d1ff5f 249.5px,#f7f289 250.5px,#fde696 251.5px,#fedc9b 253.5px,#fedb9b 322.5px,#ffcfa0 328.5px,#ffbba0 339.5px,#ffbaa0 364.5px,#ffb0a0 384.5px,#ffaaa7 385.5px,#ffadb3 388.5px,#ffb4c2 390.5px,#ffc4e4 393.5px,#ffc7ea 395.5px,#ffc4e3 411.5px,#ffc3e2 439.5px,#ffc5e5 455.5px,#ffcbf1 480.5px,#ffcbf1 685.5px)"></i><i style="background:linear-gradient(90deg,#6c72ff 0,#6c76ff 34.5px,#69a9ff 111.5px,#67c6ff 130.5px,#66deff 135.5px,#66f4ff 141.5px,#66feea 145.5px,#66ffae 150.5px,#66ffa8 152.5px,#66ffa2 242.5px,#67ff9d 244.5px,#68ff8b 245.5px,#71ff6c 246.5px,#9dff63 247.5px,#c7ff60 248.5px,#edf77b 249.5px,#fde995 250.5px,#fde098 251.5px,#fedb9b 253.5px,#fedb9b 321.5px,#ffcfa0 327.5px,#ffbba0 338.5px,#ffbaa0 363.5px,#ffb0a0 383.5px,#ffaaa6 384.5px,#ffadb2 387.5px,#ffb3c1 389.5px,#ffc4e4 392.5px,#ffc8ea 394.5px,#ffc4e3 411.5px,#ffc3e2 438.5px,#ffc5e5 454.5px,#ffcbf1 479.5px,#ffcbf1 685.5px)"></i><i style="background:linear-gradient(90deg,#6c72ff 0,#6c76ff 34.5px,#69aaff 111.5px,#67c6ff 129.5px,#67ccff 131.5px,#66e1ff 135.5px,#66f3ff 140.5px,#66fded 144.5px,#66ffb0 149.5px,#66ffa8 151.5px,#66ffa2 241.5px,#66ff9f 243.5px,#67ff92 244.5px,#6aff73 245.5px,#91ff65 246.5px,#bdff61 247.5px,#e1fc6a 248.5px,#fcec93 249.5px,#fde298 250.5px,#fedd9a 251.5px,#fedb9b 253.5px,#fedb9b 320.5px,#ffcfa0 326.5px,#ffbba0 337.5px,#ffbaa0 362.5px,#ffb1a0 382.5px,#ffa9aa 384.5px,#ffacb2 386.5px,#ffb3c0 388.5px,#ffc4e3 391.5px,#ffc8eb 393.5px,#ffc4e3 410.5px,#ffc3e2 437.5px,#ffc5e5 454.5px,#ffcbf1 478.5px,#ffcbf1 685.5px)"></i><i style="background:linear-gradient(90deg,#6c72ff 0,#6c76ff 34.5px,#69aaff 110.5px,#67c8ff 129.5px,#66e0ff 134.5px,#66f3ff 139.5px,#66faf4 142.5px,#66ffe6 144.5px,#66ffb3 148.5px,#66ffa9 150.5px,#66ffa0 242.5px,#67ff97 243.5px,#68ff7d 244.5px,#84ff68 245.5px,#b1ff61 246.5px,#d6ff60 247.5px,#faef8f 248.5px,#fde497 249.5px,#fedc9b 251.5px,#fedb9b 319.5px,#ffcfa0 325.5px,#ffbba0 336.5px,#ffbaa0 361.5px,#ffb1a0 381.5px,#ffa9aa 383.5px,#ffacb1 385.5px,#ffb2bf 387.5px,#ffc3e2 390.5px,#ffc8eb 392.5px,#ffc4e3 409.5px,#ffc3e2 435.5px,#ffc5e4 452.5px,#ffcbf1 478.5px,#ffcbf1 685.5px)"></i><i style="background:linear-gradient(90deg,#6c72ff 0,#6c76ff 34.5px,#69aaff 109.5px,#67c7ff 128.5px,#66dfff 133.5px,#66f5ff 139.5px,#66fee9 143.5px,#66ffb6 147.5px,#66ffad 148.5px,#66ffa8 150.5px,#66ffa2 239.5px,#66ffa1 241.5px,#67ff9a 242.5px,#68ff85 243.5px,#78ff6b 244.5px,#a6ff62 245.5px,#ceff60 246.5px,#f4f386 247.5px,#fde795 248.5px,#fedc9a 250.5px,#fedb9b 318.5px,#ffcfa0 324.5px,#ffbba0 335.5px,#ffbaa0 360.5px,#ffb1a0 380.5px,#ffa9aa 382.5px,#ffacb1 384.5px,#ffb2be 386.5px,#ffc3e1 389.5px,#ffc8eb 391.5px,#ffc4e3 409.5px,#ffc3e2 434.5px,#ffc5e4 451.5px,#ffcbf1 477.5px,#ffcbf1 685.5px)"></i><i style="background:linear-gradient(90deg,#6c72ff 0,#6c76ff 34.5px,#69aaff 108.5px,#67c7ff 127.5px,#66dfff 132.5px,#66f5ff 138.5px,#66fbf0 141.5px,#66ffde 143.5px,#66ffb7 146.5px,#66ffae 147.5px,#66ffa8 149.5px,#66ffa2 238.5px,#66ffa1 240.5px,#67ff9b 241.5px,#68ff87 242.5px,#74ff6c 243.5px,#a0ff63 244.5px,#c9ff60 245.5px,#eef67d 246.5px,#fde895 247.5px,#fde098 248.5px,#fedb9b 250.5px,#fedb9b 316.5px,#ffd0a0 322.5px,#ffbba0 334.5px,#ffbaa0 359.5px,#ffb0a0 379.5px,#ffa9aa 381.5px,#ffadb2 383.5px,#ffb3c0 385.5px,#ffc4e3 388.5px,#ffc8eb 390.5px,#ffc4e3 408.5px,#ffc3e2 433.5px,#ffc5e5 451.5px,#ffcbf1 476.5px,#ffcbf1 685.5px)"></i><i style="background:linear-gradient(90deg,#6c72ff 0,#6c76ff 34.5px,#69aaff 107.5px,#67c7ff 126.5px,#66e0ff 131.5px,#66f2ff 136.5px,#66f7fa 138.5px,#66ffe7 141.5px,#66ffb5 145.5px,#66ffad 146.5px,#66ffa8 148.5px,#66ffa2 237.5px,#66ffa1 239.5px,#67ff9a 240.5px,#68ff86 241.5px,#76ff6b 242.5px,#a2ff63 243.5px,#caff60 244.5px,#eff67e 245.5px,#fde895 246.5px,#fee099 247.5px,#fedb9b 249.5px,#fedb9b 315.5px,#ffcfa0 321.5px,#ffbaa0 333.5px,#ffbaa0 357.5px,#ffb1a0 377.5px,#ffa9a8 379.5px,#ffabaf 381.5px,#ffb0ba 383.5px,#ffc5e6 387.5px,#ffc8ec 389.5px,#ffc4e4 407.5px,#ffc3e2 432.5px,#ffc5e5 450.5px,#ffcbf1 475.5px,#ffcbf1 685.5px)"></i><i style="background:linear-gradient(90deg,#6c72ff 0,#6c76ff 34.5px,#69aaff 106.5px,#67c8ff 125.5px,#66e0ff 130.5px,#66f3ff 135.5px,#66faf4 138.5px,#66ffe5 140.5px,#66ffb3 144.5px,#66ffac 145.5px,#66ffa8 147.5px,#66ffa2 236.5px,#66ffa1 238.5px,#67ff9a 239.5px,#68ff84 240.5px,#78ff6b 241.5px,#a4ff62 242.5px,#cbff60 243.5px,#f1f581 244.5px,#fde795 245.5px,#fedc9a 247.5px,#fedb9b 313.5px,#ffd0a0 319.5px,#ffbba0 331.5px,#ffbaa0 356.5px,#ffb1a0 376.5px,#ffa9aa 378.5px,#ffacb1 380.5px,#ffb2be 382.5px,#ffc3e1 385.5px,#ffc7e8 386.5px,#ffc9ed 388.5px,#ffc4e4 406.5px,#ffc3e2 431.5px,#ffc5e5 449.5px,#ffcbf1 474.5px,#ffcbf1 685.5px)"></i><i style="background:linear-gradient(90deg,#6c72ff 0,#6c76ff 34.5px,#69aaff 105.5px,#67c6ff 123.5px,#67ccff 125.5px,#66e1ff 129.5px,#66f3ff 134.5px,#66faf3 137.5px,#66ffe3 139.5px,#66ffb2 143.5px,#66ffa9 145.5px,#66ffa2 235.5px,#66ffa1 237.5px,#67ff99 238.5px,#68ff83 239.5px,#7aff6a 240.5px,#a6ff62 241.5px,#cdff60 242.5px,#f3f484 243.5px,#fde795 244.5px,#fedc9a 246.5px,#fedb9b 312.5px,#ffcfa0 318.5px,#ffbaa0 330.5px,#ffbaa0 355.5px,#ffb0a1 375.5px,#ffaaa7 376.5px,#ffadb3 379.5px,#ffb4c2 381.5px,#ffc5e4 384.5px,#ffc9ed 386.5px,#ffc4e4 406.5px,#ffc3e2 430.5px,#ffc5e5 448.5px,#ffcbf1 473.5px,#ffcbf1 685.5px)"></i><i style="background:linear-gradient(90deg,#6c72ff 0,#6c76ff 34.5px,#69aaff 104.5px,#67c6ff 122.5px,#66e2ff 128.5px,#66f4ff 133.5px,#66fbf2 136.5px,#66ffe1 138.5px,#66ffb0 142.5px,#66ffa8 144.5px,#66ffa1 236.5px,#67ff99 237.5px,#68ff81 238.5px,#7cff6a 239.5px,#a9ff62 240.5px,#cfff60 241.5px,#f4f386 242.5px,#fde696 243.5px,#fedc9a 245.5px,#fedb9b 310.5px,#ffd0a0 316.5px,#ffbba0 328.5px,#ffbaa0 353.5px,#ffb1a0 373.5px,#ffa9a9 375.5px,#ffacb0 377.5px,#ffb1bc 379.5px,#ffc6e7 383.5px,#ffc9ed 385.5px,#ffc4e4 405.5px,#ffc3e2 428.5px,#ffc4e4 446.5px,#ffcbf1 473.5px,#ffcbf1 685.5px)"></i><i style="background:linear-gradient(90deg,#6c72ff 0,#6c76ff 33.5px,#69a9ff 102.5px,#67c7ff 121.5px,#66e3ff 127.5px,#66f4ff 132.5px,#66fbf1 135.5px,#66ffdf 137.5px,#66ffb8 140.5px,#66ffaf 141.5px,#66ffa8 143.5px,#66ffa0 235.5px,#67ff98 236.5px,#68ff80 237.5px,#7fff69 238.5px,#abff61 239.5px,#d1ff5f 240.5px,#f5f287 241.5px,#fde696 242.5px,#fedc9a 244.5px,#fedb9b 309.5px,#ffcfa0 315.5px,#ffbaa0 327.5px,#ffbaa0 352.5px,#ffb0a0 372.5px,#ffa9aa 374.5px,#ffadb2 376.5px,#ffb3c0 378.5px,#ffc4e3 381.5px,#ffc7ea 382.5px,#ffc9ed 384.5px,#ffc4e4 404.5px,#ffc3e2 427.5px,#ffc5e5 446.5px,#ffcbf1 472.5px,#ffcbf1 685.5px)"></i><i style="background:linear-gradient(90deg,#6c72ff 0,#6c76ff 33.5px,#69a9ff 101.5px,#67c7ff 120.5px,#66dfff 125.5px,#66f5fe 131.5px,#66fcf0 134.5px,#6fd 136.5px,#66ffb6 139.5px,#66ffae 140.5px,#66ffa8 142.5px,#66ffa0 234.5px,#67ff97 235.5px,#68ff7e 236.5px,#81ff69 237.5px,#adff61 238.5px,#d2ff60 239.5px,#f6f189 240.5px,#fde596 241.5px,#fedc9a 243.5px,#fedb9b 307.5px,#ffcea0 314.5px,#ffbba0 325.5px,#ffbaa0 350.5px,#ffb1a0 370.5px,#ffa9a8 372.5px,#ffabb0 374.5px,#ffb0bb 376.5px,#ffc5e6 380.5px,#ffc9ed 382.5px,#ffc4e4 403.5px,#ffc3e2 426.5px,#ffc5e5 445.5px,#ffcbf1 471.5px,#ffcbf1 685.5px)"></i><i style="background:linear-gradient(90deg,#6c72ff 0,#6c76ff 33.5px,#69aaff 100.5px,#67c8ff 119.5px,#66e0ff 124.5px,#66f2ff 129.5px,#66f5fe 130.5px,#66fcef 133.5px,#66ffe6 134.5px,#66ffb4 138.5px,#66ffa9 140.5px,#66ffa2 231.5px,#66ffa0 233.5px,#67ff96 234.5px,#68ff7c 235.5px,#83ff68 236.5px,#afff61 237.5px,#d4fe61 238.5px,#f7f08b 239.5px,#fde596 240.5px,#fede99 241.5px,#fedb9b 244.5px,#fedb9b 306.5px,#ffcfa0 312.5px,#ffbaa0 324.5px,#ffbaa0 349.5px,#ffb1a0 369.5px,#ffa9aa 371.5px,#ffacb1 373.5px,#ffb2be 375.5px,#ffc3e1 378.5px,#ffc7e9 379.5px,#ffc9ee 381.5px,#ffc4e4 402.5px,#ffc3e2 425.5px,#ffc5e5 444.5px,#ffcbf1 470.5px,#ffcbf1 685.5px)"></i><i style="background:linear-gradient(90deg,#6c72ff 0,#6c76ff 33.5px,#69aaff 99.5px,#67c8ff 118.5px,#66e1ff 123.5px,#66f3ff 128.5px,#66f6fd 129.5px,#66fded 132.5px,#66ffe4 133.5px,#66ffb2 137.5px,#66ffa9 139.5px,#66ffa2 230.5px,#66ffa0 232.5px,#67ff95 233.5px,#68ff7a 234.5px,#86ff68 235.5px,#b1ff61 236.5px,#d6fe63 237.5px,#f8f08c 238.5px,#fde496 239.5px,#fede99 240.5px,#fedb9b 243.5px,#fedb9b 304.5px,#ffcea0 311.5px,#ffbba0 322.5px,#ffbaa0 348.5px,#ffb1a0 367.5px,#ffafa1 368.5px,#ffaaa7 369.5px,#ffadb3 372.5px,#ffb4c3 374.5px,#ffc5e5 377.5px,#ffc9ed 379.5px,#ffc4e4 401.5px,#ffc3e2 424.5px,#ffc5e5 443.5px,#ffcbf1 469.5px,#ffcbf1 685.5px)"></i><i style="background:linear-gradient(90deg,#6c72ff 0,#6c76ff 33.5px,#69a9ff 97.5px,#67c6ff 116.5px,#67cdff 118.5px,#66e2ff 122.5px,#66f3ff 127.5px,#66fdec 131.5px,#66ffb1 136.5px,#66ffa8 138.5px,#66ffa2 229.5px,#66ffa0 231.5px,#67ff95 232.5px,#68ff79 233.5px,#87ff68 234.5px,#b3ff61 235.5px,#d7fe64 236.5px,#f9ef8d 237.5px,#fde497 238.5px,#fede99 239.5px,#fedb9b 242.5px,#fedb9b 303.5px,#ffcfa0 309.5px,#ffbaa0 321.5px,#ffbaa0 346.5px,#ffb1a0 366.5px,#ffa9a9 368.5px,#ffacb0 370.5px,#ffb1bd 372.5px,#ffc6e8 376.5px,#ffc9ee 378.5px,#ffc4e4 400.5px,#ffc3e2 422.5px,#ffc5e5 442.5px,#ffcbf1 468.5px,#ffcbf1 685.5px)"></i><i style="background:linear-gradient(90deg,#6c72ff 0,#6c76ff 33.5px,#69a9ff 96.5px,#67c6ff 115.5px,#66e2ff 121.5px,#66f4ff 126.5px,#66feeb 130.5px,#66ffaf 135.5px,#66ffa8 137.5px,#66ffa2 228.5px,#66ffa0 230.5px,#67ff96 231.5px,#68ff7c 232.5px,#84ff68 233.5px,#b1ff61 234.5px,#d6fe62 235.5px,#f9f08d 236.5px,#fde496 237.5px,#fede99 238.5px,#fedb9b 241.5px,#fedb9b 301.5px,#ffcea0 308.5px,#ffbba0 319.5px,#ffbaa0 345.5px,#ffb0a0 365.5px,#ffa9ab 367.5px,#ffadb2 369.5px,#ffb3c1 371.5px,#ffc4e3 374.5px,#ffc8ea 375.5px,#ffc9ee 377.5px,#ffc4e4 398.5px,#ffc3e2 421.5px,#ffc5e5 441.5px,#ffcbf1 467.5px,#ffcbf1 685.5px)"></i><i style="background:linear-gradient(90deg,#6c72ff 0,#6c76ff 33.5px,#69a9ff 95.5px,#67c7ff 114.5px,#66dfff 119.5px,#66f5ff 125.5px,#66fbf0 128.5px,#66ffde 130.5px,#66ffb7 133.5px,#66ffae 134.5px,#66ffa8 136.5px,#66ffa0 229.5px,#67ff97 230.5px,#68ff7f 231.5px,#81ff69 232.5px,#adff61 233.5px,#d3ff5f 234.5px,#f7f18a 235.5px,#fde596 236.5px,#fedc9b 238.5px,#fedb9b 300.5px,#ffcfa0 306.5px,#ffbba0 318.5px,#ffbaa0 343.5px,#ffb1a0 363.5px,#ffa9a8 365.5px,#ffabb0 367.5px,#ffb1bb 369.5px,#ffc6e7 373.5px,#ffc9ee 375.5px,#ffc4e4 397.5px,#ffc3e2 420.5px,#ffc5e5 440.5px,#ffcbf1 466.5px,#ffcbf1 685.5px)"></i><i style="background:linear-gradient(90deg,#6c72ff 0,#6c76ff 33.5px,#69aaff 94.5px,#67c7ff 113.5px,#66e0ff 118.5px,#66f2ff 123.5px,#66f7fa 125.5px,#66ffe7 128.5px,#66ffb5 132.5px,#66ffad 133.5px,#66ffa8 135.5px,#66ffa2 226.5px,#66ffa1 228.5px,#67ff99 229.5px,#68ff82 230.5px,#7dff6a 231.5px,#aaff62 232.5px,#d0ff60 233.5px,#f6f288 234.5px,#fde696 235.5px,#fedc9a 237.5px,#fedb9b 299.5px,#ffcfa0 305.5px,#ffbaa0 317.5px,#ffbaa0 342.5px,#ffb1a0 362.5px,#ffa9aa 364.5px,#ffacb1 366.5px,#ffb2bf 368.5px,#ffc3e2 371.5px,#ffc7e9 372.5px,#ffc9ee 374.5px,#ffc4e4 396.5px,#ffc3e2 418.5px,#ffc5e4 438.5px,#ffcbf1 465.5px,#ffcbf1 685.5px)"></i><i style="background:linear-gradient(90deg,#6c72ff 0,#6c76ff 33.5px,#69aaff 93.5px,#67c8ff 112.5px,#66e0ff 117.5px,#66f3ff 122.5px,#66faf4 125.5px,#66ffe5 127.5px,#66ffb3 131.5px,#66ffac 132.5px,#66ffa8 134.5px,#66ffa2 225.5px,#66ffa1 227.5px,#67ff9a 228.5px,#68ff84 229.5px,#7aff6a 230.5px,#a6ff62 231.5px,#ceff60 232.5px,#f4f385 233.5px,#fde795 234.5px,#fedc9a 236.5px,#fedb9b 299.5px,#ffd0a0 304.5px,#ffbba0 316.5px,#ffbaa0 341.5px,#ffafa1 361.5px,#ffaaa7 362.5px,#ffadb3 365.5px,#ffb4c3 367.5px,#ffc5e5 370.5px,#ffc9ee 372.5px,#ffc4e4 395.5px,#ffc3e2 416.5px,#ffc5e5 437.5px,#ffcbf1 464.5px,#ffcbf1 685.5px)"></i><i style="background:linear-gradient(90deg,#6c72ff 0,#6c76ff 33.5px,#69aaff 92.5px,#67c6ff 110.5px,#67ccff 112.5px,#66e1ff 116.5px,#66f3ff 121.5px,#66faf3 124.5px,#66ffe3 126.5px,#66ffb2 130.5px,#66ffa9 132.5px,#66ffa2 224.5px,#66ffa1 226.5px,#67ff9b 227.5px,#68ff86 228.5px,#76ff6b 229.5px,#a3ff62 230.5px,#cbff60 231.5px,#f1f581 232.5px,#fde795 233.5px,#fedc9a 235.5px,#fedb9b 298.5px,#ffcfa0 304.5px,#ffbaa0 316.5px,#ffbaa0 339.5px,#ffb1a0 359.5px,#ffa9a9 361.5px,#ffacb1 363.5px,#ffb1bd 365.5px,#ffc6e8 369.5px,#ffc9ee 371.5px,#ffc4e4 393.5px,#ffc3e2 415.5px,#ffc5e5 436.5px,#ffcbf1 463.5px,#ffcbf1 685.5px)"></i><i style="background:linear-gradient(90deg,#6c72ff 0,#6c77ff 33.5px,#69aaff 91.5px,#67c6ff 109.5px,#66e2ff 115.5px,#66f4ff 120.5px,#66fbf2 123.5px,#66ffe1 125.5px,#66ffb0 129.5px,#66ffa8 131.5px,#66ffa2 223.5px,#66ffa1 225.5px,#67ff9b 226.5px,#68ff88 227.5px,#73ff6c 228.5px,#9fff63 229.5px,#c8ff60 230.5px,#edf67c 231.5px,#fde895 232.5px,#fde098 233.5px,#fedb9b 235.5px,#fedb9b 298.5px,#ffd0a0 303.5px,#ffbba0 315.5px,#ffbaa0 338.5px,#ffb0a0 358.5px,#ffa9ab 360.5px,#ffadb2 362.5px,#ffb3c1 364.5px,#ffc4e4 367.5px,#ffc8ea 368.5px,#ffc9ee 370.5px,#ffc4e4 391.5px,#ffc3e2 413.5px,#ffc5e5 434.5px,#ffcbf1 462.5px,#ffcbf1 685.5px)"></i><i style="background:linear-gradient(90deg,#6c72ff 0,#6c76ff 32.5px,#69a9ff 89.5px,#67c7ff 108.5px,#66e3ff 114.5px,#66f4ff 119.5px,#66fbf1 122.5px,#66ffdf 124.5px,#66ffb8 127.5px,#66ffaf 128.5px,#66ffa8 130.5px,#66ffa2 223.5px,#67ff9c 225.5px,#68ff8b 226.5px,#71ff6e 227.5px,#9cff63 228.5px,#c5ff60 229.5px,#eaf877 230.5px,#fde994 231.5px,#fde198 232.5px,#fedb9b 234.5px,#fedb9b 297.5px,#ffcfa0 303.5px,#ffbaa0 315.5px,#ffbaa0 336.5px,#ffb1a0 356.5px,#ffa9a9 358.5px,#ffabb0 360.5px,#ffb1bb 362.5px,#ffc6e7 366.5px,#ffc9ee 368.5px,#ffc4e4 390.5px,#ffc3e2 411.5px,#ffc5e5 433.5px,#ffcbf1 461.5px,#ffcbf1 685.5px)"></i><i style="background:linear-gradient(90deg,#6c72ff 0,#6c76ff 32.5px,#69a9ff 88.5px,#67c7ff 107.5px,#66dfff 112.5px,#66f5fe 118.5px,#66fcf0 121.5px,#6fd 123.5px,#66ffb6 126.5px,#66ffae 127.5px,#66ffa8 129.5px,#66ffa2 221.5px,#66ffa2 223.5px,#67ff9d 224.5px,#67ff8d 225.5px,#6fff70 226.5px,#98ff64 227.5px,#c2ff60 228.5px,#e7f972 229.5px,#fdea94 230.5px,#fde198 231.5px,#fedb9b 234.5px,#fedb9b 297.5px,#ffd0a0 302.5px,#ffbba0 314.5px,#ffbaa0 335.5px,#ffb1a0 355.5px,#ffa9aa 357.5px,#ffacb2 359.5px,#ffb2bf 361.5px,#ffc3e2 364.5px,#ffc7e9 365.5px,#ffc9ee 367.5px,#ffc4e4 388.5px,#ffc3e2 409.5px,#ffc5e5 431.5px,#ffcbf1 460.5px,#ffcbf1 685.5px)"></i><i style="background:linear-gradient(90deg,#6c72ff 0,#6c76ff 32.5px,#69aaff 87.5px,#67c8ff 106.5px,#66e0ff 111.5px,#66f2ff 116.5px,#66faf4 119.5px,#66ffe6 121.5px,#66ffb4 125.5px,#66ffac 126.5px,#66ffa8 128.5px,#66ffa2 220.5px,#66ffa1 222.5px,#67ff9c 223.5px,#67ff8b 224.5px,#71ff70 225.5px,#98ff64 226.5px,#c2ff60 227.5px,#e6fa71 228.5px,#fdea94 229.5px,#fde198 230.5px,#fedb9b 233.5px,#fedb9b 296.5px,#ffcfa0 302.5px,#ffbaa0 314.5px,#ffbaa0 333.5px,#ffb1a0 353.5px,#ffa9a9 355.5px,#ffacb0 357.5px,#ffb1bc 359.5px,#ffc6e6 363.5px,#ffc9ee 365.5px,#ffc4e4 387.5px,#ffc3e2 408.5px,#ffc5e5 429.5px,#ffcbf1 459.5px,#ffcbf1 685.5px)"></i><i style="background:linear-gradient(90deg,#6c72ff 0,#6c76ff 32.5px,#69aaff 86.5px,#67c8ff 105.5px,#66e1ff 110.5px,#66f3ff 115.5px,#66faf3 118.5px,#66ffe4 120.5px,#66ffb2 124.5px,#66ffac 125.5px,#66ffa8 127.5px,#66ffa2 219.5px,#66ffa1 221.5px,#67ff9b 222.5px,#68ff87 223.5px,#74ff6c 224.5px,#9eff63 225.5px,#c7ff60 226.5px,#ebf779 227.5px,#fde994 228.5px,#fde198 229.5px,#fedb9b 231.5px,#fedb9b 295.5px,#ffcfa0 301.5px,#ffbaa0 313.5px,#ffbaa0 332.5px,#ffb1a0 351.5px,#ffaaa7 353.5px,#ffabaf 355.5px,#ffb0ba 357.5px,#ffc5e5 361.5px,#ffc8eb 362.5px,#ffc9ee 364.5px,#ffc4e4 385.5px,#ffc3e2 406.5px,#ffc5e5 427.5px,#ffcbf1 457.5px,#ffcbf1 685.5px)"></i><i style="background:linear-gradient(90deg,#6c72ff 0,#6c76ff 32.5px,#69aaff 85.5px,#67c6ff 103.5px,#66e2ff 109.5px,#66f4ff 114.5px,#66fbf2 117.5px,#66ffe2 119.5px,#66ffb1 123.5px,#66ffa8 125.5px,#66ffa2 218.5px,#66ffa1 220.5px,#67ff99 221.5px,#68ff83 222.5px,#7aff6a 223.5px,#a5ff62 224.5px,#ccff60 225.5px,#f1f482 226.5px,#fde795 227.5px,#fedc9a 229.5px,#fedb9b 294.5px,#ffd0a0 300.5px,#ffbaa0 312.5px,#ffbaa0 330.5px,#ffb0a1 350.5px,#ffa9ab 352.5px,#ffadb3 354.5px,#ffb3c1 356.5px,#ffc4e3 359.5px,#ffc7ea 360.5px,#ffcaee 362.5px,#ffc4e4 384.5px,#ffc3e2 404.5px,#ffc5e5 425.5px,#ffcbf1 456.5px,#ffcbf1 685.5px)"></i><i style="background:linear-gradient(90deg,#6c72ff 0,#6c76ff 32.5px,#69a9ff 83.5px,#67c6ff 102.5px,#66e2ff 108.5px,#66f4ff 113.5px,#66fbf1 116.5px,#66ffe0 118.5px,#66ffb9 121.5px,#66ffaf 122.5px,#66ffa8 124.5px,#66ffa0 219.5px,#67ff96 220.5px,#68ff7e 221.5px,#81ff69 222.5px,#acff61 223.5px,#d1ff60 224.5px,#f5f287 225.5px,#fde696 226.5px,#fedc9a 228.5px,#fedb9b 293.5px,#ffd0a0 299.5px,#ffbba0 311.5px,#ffbaa0 328.5px,#ffb0a0 348.5px,#ffa9aa 350.5px,#ffacb2 352.5px,#ffb3bf 354.5px,#ffc7e9 358.5px,#ffcaee 360.5px,#ffc5e4 382.5px,#ffc3e2 402.5px,#ffc5e5 423.5px,#ffcbf1 454.5px,#ffcbf1 685.5px)"></i><i style="background:linear-gradient(90deg,#6c72ff 0,#6c76ff 32.5px,#69a9ff 82.5px,#67c7ff 101.5px,#66dfff 106.5px,#66f5fe 112.5px,#66fee8 116.5px,#66ffb6 120.5px,#66ffae 121.5px,#66ffa8 123.5px,#66ffa2 216.5px,#66ff9f 218.5px,#67ff93 219.5px,#69ff78 220.5px,#88ff67 221.5px,#b3ff61 222.5px,#d8fd65 223.5px,#f8ef8c 224.5px,#fde497 225.5px,#fede99 226.5px,#fedb9b 229.5px,#fedb9b 293.5px,#ffd0a0 298.5px,#ffbba0 310.5px,#ffbaa0 327.5px,#ffb1a0 346.5px,#ffa9aa 348.5px,#ffacb1 350.5px,#ffb2bd 352.5px,#ffc6e8 356.5px,#ffcaee 358.5px,#ffc4e4 381.5px,#ffc3e2 400.5px,#ffc5e5 421.5px,#ffcbf1 453.5px,#ffcbf1 685.5px)"></i><i style="background:linear-gradient(90deg,#6c72ff 0,#6c76ff 32.5px,#69a9ff 81.5px,#67c7ff 100.5px,#66e0ff 105.5px,#66f2ff 110.5px,#66faf4 113.5px,#66ffe6 115.5px,#66ffb4 119.5px,#66ffac 120.5px,#66ffa8 122.5px,#66ffa2 215.5px,#67ff9e 217.5px,#67ff90 218.5px,#6cff75 219.5px,#8fff66 220.5px,#b9ff61 221.5px,#defc6b 222.5px,#fbed91 223.5px,#fde397 224.5px,#fede9a 225.5px,#fedb9b 227.5px,#fedb9b 292.5px,#ffd0a0 297.5px,#ffbba0 309.5px,#ffbaa0 325.5px,#ffb1a0 344.5px,#ffa9a8 346.5px,#ffabb0 348.5px,#ffb1bb 350.5px,#ffc5e6 354.5px,#ffc8ec 355.5px,#ffcaef 357.5px,#ffc5e5 379.5px,#ffc3e2 399.5px,#ffc5e5 419.5px,#ffcbf1 451.5px,#ffcbf1 685.5px)"></i><i style="background:linear-gradient(90deg,#6c72ff 0,#6c76ff 32.5px,#69aaff 80.5px,#67c8ff 99.5px,#66e1ff 104.5px,#66f3ff 109.5px,#66faf3 112.5px,#66ffe4 114.5px,#66ffb2 118.5px,#66ffac 119.5px,#66ffa8 121.5px,#66ffa2 213.5px,#66ffa1 215.5px,#67ff9d 216.5px,#67ff8d 217.5px,#70ff71 218.5px,#96ff64 219.5px,#c0ff60 220.5px,#e4fa70 221.5px,#fceb93 222.5px,#fde298 223.5px,#fedb9b 226.5px,#fedb9b 291.5px,#ffcfa0 297.5px,#ffbba0 308.5px,#ffbaa0 323.5px,#ffb1a0 342.5px,#ffaaa7 344.5px,#ffabaf 346.5px,#ffb0ba 348.5px,#ffc5e5 352.5px,#ffc8eb 353.5px,#ffcaef 355.5px,#ffc4e4 378.5px,#ffc3e2 397.5px,#ffc5e5 417.5px,#ffcbf1 449.5px,#ffcbf1 685.5px)"></i><i style="background:linear-gradient(90deg,#6c72ff 0,#6c76ff 32.5px,#69a9ff 78.5px,#67c6ff 97.5px,#66e2ff 103.5px,#66f4ff 108.5px,#66faf2 111.5px,#66ffe2 113.5px,#66ffb1 117.5px,#66ffa8 119.5px,#66ffa2 212.5px,#66ffa1 214.5px,#67ff9b 215.5px,#68ff88 216.5px,#73ff6d 217.5px,#9dff64 218.5px,#c5ff60 219.5px,#eaf876 220.5px,#fde994 221.5px,#fde198 222.5px,#fedb9b 224.5px,#fedb9b 290.5px,#ffcfa0 296.5px,#ffbba0 307.5px,#ffb9a0 322.5px,#ffb0a1 341.5px,#ffa9ab 343.5px,#ffadb2 345.5px,#ffb3c1 347.5px,#ffc4e3 350.5px,#ffc7ea 351.5px,#ffcaef 353.5px,#ffc5e5 376.5px,#ffc3e2 395.5px,#ffc5e5 415.5px,#ffcbf1 447.5px,#ffcbf1 685.5px)"></i><i style="background:linear-gradient(90deg,#6c72ff 0,#6c77ff 32.5px,#69a9ff 77.5px,#67c6ff 96.5px,#66e2ff 102.5px,#66f4ff 107.5px,#66fbf1 110.5px,#66ffe0 112.5px,#66ffb9 115.5px,#66ffaf 116.5px,#66ffa8 118.5px,#66ffa2 211.5px,#66ffa1 213.5px,#67ff99 214.5px,#68ff84 215.5px,#78ff6b 216.5px,#a4ff63 217.5px,#cbff60 218.5px,#f0f580 219.5px,#fde795 220.5px,#fedc9a 222.5px,#fedb9b 289.5px,#ffd0a0 295.5px,#ffbaa0 307.5px,#ffb9a0 320.5px,#ffb1a0 339.5px,#ffa9aa 341.5px,#ffacb1 343.5px,#ffb2bf 345.5px,#ffc7e9 349.5px,#ffcaef 351.5px,#ffc5e4 375.5px,#ffc3e2 393.5px,#ffc5e5 413.5px,#ffcbf1 446.5px,#ffcbf1 685.5px)"></i><i style="background:linear-gradient(90deg,#6c72ff 0,#6c77ff 32.5px,#69a9ff 76.5px,#67c7ff 95.5px,#66dfff 100.5px,#66f5fe 106.5px,#66fcf0 109.5px,#6fd 111.5px,#66ffb6 114.5px,#66ffae 115.5px,#66ffa8 117.5px,#66ffa0 212.5px,#67ff97 213.5px,#68ff7f 214.5px,#7fff69 215.5px,#abff62 216.5px,#d0ff60 217.5px,#f4f286 218.5px,#fde696 219.5px,#fedc9a 221.5px,#fedb9b 289.5px,#ffd0a0 294.5px,#ffbba0 306.5px,#ffbaa0 318.5px,#ffb1a0 337.5px,#ffa9a9 339.5px,#ffacb0 341.5px,#ffb1bd 343.5px,#ffc6e8 347.5px,#ffc9ed 348.5px,#ffcaf0 350.5px,#ffc5e5 373.5px,#ffc3e2 391.5px,#ffc5e5 411.5px,#ffcbf1 444.5px,#ffcbf1 685.5px)"></i><i style="background:linear-gradient(90deg,#6c72ff 0,#6c76ff 31.5px,#69a8ff 74.5px,#67c7ff 94.5px,#66e0ff 99.5px,#66f2ff 104.5px,#66f5fe 105.5px,#66fcef 108.5px,#66ffe6 109.5px,#66ffb4 113.5px,#66ffa9 115.5px,#66ffa2 209.5px,#66ff9f 211.5px,#67ff94 212.5px,#68ff79 213.5px,#86ff68 214.5px,#b1ff61 215.5px,#d6fe64 216.5px,#f8f08b 217.5px,#fde596 218.5px,#fede99 219.5px,#fedb9b 222.5px,#fedb9b 288.5px,#ffcfa0 294.5px,#ffbba0 305.5px,#ffb1a0 335.5px,#ffa9a8 337.5px,#ffacb0 339.5px,#ffb1bc 341.5px,#ffc6e6 345.5px,#ffc9ed 346.5px,#ffcaf0 348.5px,#ffc5e5 371.5px,#ffc3e2 389.5px,#ffc5e5 409.5px,#ffcbf1 442.5px,#ffcbf1 685.5px)"></i><i style="background:linear-gradient(90deg,#6c72ff 0,#6c76ff 31.5px,#69a8ff 73.5px,#67c8ff 93.5px,#66e1ff 98.5px,#66f3ff 103.5px,#66faf3 106.5px,#66ffe4 108.5px,#66ffb2 112.5px,#66ffac 113.5px,#66ffa8 115.5px,#66ffa2 208.5px,#67ff9e 210.5px,#67ff91 211.5px,#6bff76 212.5px,#8dff66 213.5px,#b8ff61 214.5px,#ddfc69 215.5px,#fbee90 216.5px,#fde397 217.5px,#fede9a 218.5px,#fedb9b 220.5px,#fedb9b 286.5px,#ffd0a0 292.5px,#ffbba0 304.5px,#ffb1a0 332.5px,#ffa9ab 335.5px,#ffabae 336.5px,#ffb3c1 339.5px,#ffc6e7 343.5px,#ffcaf0 346.5px,#ffc5e5 370.5px,#ffc4e2 388.5px,#ffc5e5 407.5px,#ffcbf1 440.5px,#ffcbf1 685.5px)"></i><i style="background:linear-gradient(90deg,#6c72ff 0,#6c76ff 31.5px,#69a8ff 72.5px,#67c6ff 91.5px,#66e2ff 97.5px,#66f4ff 102.5px,#66faf2 105.5px,#66ffe2 107.5px,#66ffb1 111.5px,#66ffa8 113.5px,#66ffa2 206.5px,#66ffa2 208.5px,#67ff9d 209.5px,#67ff8e 210.5px,#6fff72 211.5px,#94ff65 212.5px,#beff60 213.5px,#e3fa6e 214.5px,#fceb93 215.5px,#fde298 216.5px,#fedb9b 219.5px,#fedb9b 284.5px,#ffcea0 291.5px,#ffbba0 302.5px,#ffb1a0 329.5px,#ffa9aa 332.5px,#ffaaae 333.5px,#ffb3c0 336.5px,#ffc5e6 340.5px,#ffcaef 342.5px,#ffcbf0 344.5px,#ffc5e5 369.5px,#ffc4e3 386.5px,#ffc5e5 406.5px,#ffcbf1 438.5px,#ffcbf1 685.5px)"></i><i style="background:linear-gradient(90deg,#6c72ff 0,#6c76ff 31.5px,#69a7ff 70.5px,#67c6ff 90.5px,#66e2ff 96.5px,#66f4ff 101.5px,#66fbf1 104.5px,#66ffe0 106.5px,#66ffb9 109.5px,#66ffaf 110.5px,#66ffa8 112.5px,#66ffa2 205.5px,#66ffa1 207.5px,#67ff9b 208.5px,#68ff89 209.5px,#72ff6e 210.5px,#9bff64 211.5px,#c4ff60 212.5px,#e8f974 213.5px,#fdea94 214.5px,#fde198 215.5px,#fedb9b 218.5px,#feda9b 283.5px,#ffcfa0 289.5px,#ffbba0 300.5px,#ffb1a0 326.5px,#ffa9aa 329.5px,#ffaaad 330.5px,#ffb2bf 333.5px,#ffc5e5 337.5px,#ffcaef 339.5px,#ffcbf1 341.5px,#ffc5e5 368.5px,#ffc4e3 384.5px,#ffc5e5 404.5px,#ffcbf1 436.5px,#ffcbf1 685.5px)"></i><i style="background:linear-gradient(90deg,#6c72ff 0,#6c76ff 31.5px,#6a96ff 56.5px,#67c7ff 89.5px,#66dfff 94.5px,#66f5fe 100.5px,#66fcf0 103.5px,#6fd 105.5px,#66ffb6 108.5px,#66ffae 109.5px,#66ffa8 111.5px,#66ffa2 204.5px,#66ffa1 206.5px,#67ff9a 207.5px,#68ff85 208.5px,#77ff6b 209.5px,#a2ff63 210.5px,#c9ff60 211.5px,#eff67e 212.5px,#fde895 213.5px,#fedc9a 215.5px,#feda9b 281.5px,#ffcfa0 287.5px,#ffbba0 298.5px,#ffb0a1 324.5px,#ffa9aa 326.5px,#ffacb1 328.5px,#ffb2bf 330.5px,#ffc1dd 333.5px,#ffc8eb 335.5px,#ffcbf1 338.5px,#ffc5e5 367.5px,#ffc4e3 382.5px,#ffc5e5 402.5px,#ffcbf1 434.5px,#ffcbf1 685.5px)"></i><i style="background:linear-gradient(90deg,#6c72ff 0,#6c76ff 31.5px,#6a96ff 55.5px,#67c5ff 87.5px,#67cbff 89.5px,#66e0ff 93.5px,#66f5fe 99.5px,#66ffe6 103.5px,#66ffb4 107.5px,#66ffad 108.5px,#66ffa8 110.5px,#66ffa2 203.5px,#66ffa0 205.5px,#67ff98 206.5px,#68ff80 207.5px,#7dff6a 208.5px,#a9ff62 209.5px,#cfff60 210.5px,#f3f385 211.5px,#fde696 212.5px,#fedc9a 214.5px,#fedb9b 279.5px,#ffcfa0 285.5px,#ffbba0 296.5px,#ffb0a1 321.5px,#ffaaa9 323.5px,#ffacb1 325.5px,#ffb2be 327.5px,#ffc5e4 331.5px,#ffcaee 333.5px,#ffcbf1 335.5px,#ffc4e3 381.5px,#ffc5e5 400.5px,#ffcbf1 432.5px,#ffcbf1 685.5px)"></i><i style="background:linear-gradient(90deg,#6c72ff 0,#6c79ff 33.5px,#67c6ff 86.5px,#66f3ff 97.5px,#66f6fd 98.5px,#66fded 101.5px,#66ffe4 102.5px,#66ffb2 106.5px,#66ffa9 108.5px,#66ffa2 202.5px,#66ff9f 204.5px,#67ff95 205.5px,#68ff7b 206.5px,#84ff68 207.5px,#b0ff61 208.5px,#d5fe62 209.5px,#f7f08a 210.5px,#fde596 211.5px,#fede99 212.5px,#fedb9b 214.5px,#fedb9b 277.5px,#ffcfa0 283.5px,#ffbba0 294.5px,#ffb1a0 318.5px,#ffaaa8 320.5px,#ffacb0 322.5px,#ffb1bc 324.5px,#ffc4e4 328.5px,#ffc9ee 330.5px,#ffcbf1 332.5px,#ffcbf1 342.5px,#ffc5e5 364.5px,#ffc4e3 379.5px,#ffc5e5 398.5px,#ffcbf1 430.5px,#ffcbf1 685.5px)"></i><i style="background:linear-gradient(90deg,#6c72ff 0,#6c79ff 33.5px,#67c6ff 85.5px,#67cdff 87.5px,#66e2ff 91.5px,#66f3ff 96.5px,#66faf3 99.5px,#66ffe2 101.5px,#66ffb1 105.5px,#66ffa8 107.5px,#66ffa2 200.5px,#67ff9e 203.5px,#67ff91 204.5px,#6bff76 205.5px,#8cff66 206.5px,#b6ff61 207.5px,#dbfc68 208.5px,#faee8f 209.5px,#fde497 210.5px,#fede9a 211.5px,#fedb9b 213.5px,#feda9b 276.5px,#ffd0a0 281.5px,#ffbba0 293.5px,#ffb1a0 315.5px,#ffa9ab 318.5px,#ffabaf 319.5px,#ffb0ba 321.5px,#ffc7e9 326.5px,#ffcbf1 329.5px,#ffcbf1 342.5px,#ffc5e5 364.5px,#ffc4e3 378.5px,#ffcbf1 428.5px,#ffcbf1 685.5px)"></i><i style="background:linear-gradient(90deg,#6c72ff 0,#6c76ff 29.5px,#6c79ff 33.5px,#67c6ff 84.5px,#66e2ff 90.5px,#66f4ff 95.5px,#66faf2 98.5px,#66ffe2 100.5px,#66ffb0 104.5px,#66ffa8 106.5px,#66ffa2 199.5px,#66ffa0 201.5px,#67ff98 202.5px,#68ff85 203.5px,#76ff6e 204.5px,#9bff64 205.5px,#c2ff60 206.5px,#e7f974 207.5px,#fdea94 208.5px,#fde298 209.5px,#fedb9b 212.5px,#fedb9b 274.5px,#ffcfa0 280.5px,#ffbba0 291.5px,#ffb1a0 312.5px,#ffa9aa 315.5px,#ffaaad 316.5px,#ffb3c0 319.5px,#ffc6e7 323.5px,#ffcaef 325.5px,#ffcbf1 327.5px,#ffcbf1 342.5px,#ffc5e5 364.5px,#ffc4e3 377.5px,#ffcbf1 426.5px,#ffcbf1 685.5px)"></i><i style="background:linear-gradient(90deg,#6c72ff 0,#6c78ff 32.5px,#67c6ff 83.5px,#67ccff 85.5px,#66e1ff 89.5px,#66f3ff 94.5px,#66faf4 97.5px,#66ffe5 99.5px,#66ffb2 103.5px,#66ffa8 105.5px,#66ffa2 197.5px,#66ffa0 199.5px,#67ff99 200.5px,#68ff88 201.5px,#73ff72 202.5px,#93ff65 203.5px,#baff61 204.5px,#defa70 205.5px,#f8ee8c 206.5px,#fde497 207.5px,#fedc9a 209.5px,#fedb9b 211.5px,#feda9b 273.5px,#ffd0a0 278.5px,#ffbba0 290.5px,#ffb1a0 310.5px,#ffaaa8 312.5px,#ffacb0 314.5px,#ffb1bd 316.5px,#ffc4e4 320.5px,#ffcaee 322.5px,#ffcbf1 324.5px,#ffcbf1 342.5px,#ffc5e6 364.5px,#ffc4e3 377.5px,#ffcbf1 424.5px,#ffcbf1 685.5px)"></i><i style="background:linear-gradient(90deg,#6c72ff 0,#6c78ff 32.5px,#67c5ff 82.5px,#67caff 84.5px,#66e0ff 88.5px,#66f5fe 94.5px,#66ffe8 98.5px,#66ffb4 102.5px,#66ffac 103.5px,#66ffa8 105.5px,#66ffa2 195.5px,#66ffa1 197.5px,#67ff9b 198.5px,#67ff8c 199.5px,#70ff75 200.5px,#8eff66 201.5px,#b6ff61 202.5px,#dafb6c 203.5px,#f5f088 204.5px,#fde596 205.5px,#fedc9a 207.5px,#fedb9b 209.5px,#fedb9b 271.5px,#ffcfa0 277.5px,#ffbba0 288.5px,#ffb1a0 307.5px,#ffa9ab 310.5px,#ffabaf 311.5px,#ffb0ba 313.5px,#ffc7e9 318.5px,#ffcbf1 321.5px,#ffcbf1 342.5px,#ffc4e4 376.5px,#ffcbf1 422.5px,#ffcbf1 685.5px)"></i><i style="background:linear-gradient(90deg,#6c72ff 0,#6c78ff 32.5px,#67c6ff 82.5px,#66deff 87.5px,#66f4ff 93.5px,#66feea 97.5px,#66ffae 102.5px,#66ffa8 104.5px,#66ffa2 193.5px,#66ffa1 195.5px,#67ff9c 196.5px,#67ff8f 197.5px,#6eff78 198.5px,#89ff67 199.5px,#b1ff61 200.5px,#d6fc69 201.5px,#f3f185 202.5px,#fde596 203.5px,#fedc9a 205.5px,#fedb9b 207.5px,#fedb9b 269.5px,#ffd0a0 275.5px,#ffbaa0 287.5px,#ffb1a0 304.5px,#ffa9ab 307.5px,#ffabae 308.5px,#ffb3c1 311.5px,#ffc6e7 315.5px,#ffcaef 317.5px,#ffcbf1 319.5px,#ffcbf1 343.5px,#ffc4e4 376.5px,#ffcbf1 419.5px,#ffcbf1 685.5px)"></i><i style="background:linear-gradient(90deg,#6c72ff 0,#6c78ff 32.5px,#67c6ff 81.5px,#67ccff 83.5px,#66e1ff 87.5px,#66f3ff 92.5px,#66fdec 96.5px,#66ffb0 101.5px,#66ffa8 103.5px,#66ffa2 192.5px,#67ff9d 194.5px,#67ff91 195.5px,#6cff7a 196.5px,#84ff68 197.5px,#acff62 198.5px,#d1fe64 199.5px,#f0f380 200.5px,#fde795 201.5px,#fedc9a 203.5px,#fedb9b 205.5px,#feda9b 267.5px,#ffcfa0 273.5px,#ffbba0 284.5px,#ffb2a0 300.5px,#ffaaad 304.5px,#ffb2bd 307.5px,#ffc6e7 312.5px,#ffcaef 314.5px,#ffcbf1 316.5px,#ffcbf1 343.5px,#ffc5e5 375.5px,#ffcbf1 417.5px,#ffcbf1 685.5px)"></i><i style="background:linear-gradient(90deg,#6c72ff 0,#6c79ff 32.5px,#67c5ff 80.5px,#67cbff 82.5px,#66e0ff 86.5px,#66f5fe 92.5px,#66ffe6 96.5px,#66ffb3 100.5px,#66ffa9 102.5px,#66ffa2 189.5px,#67ff9e 192.5px,#67ff92 193.5px,#69ff7b 194.5px,#80ff69 195.5px,#cbff60 197.5px,#edf67b 198.5px,#fde895 199.5px,#fedd9a 201.5px,#feda9b 264.5px,#ffcea0 271.5px,#ffbca0 281.5px,#ffb2a0 296.5px,#ffaaad 300.5px,#ffb2be 303.5px,#ffc5e6 308.5px,#ffc9ee 310.5px,#ffcbf1 313.5px,#ffcbf1 344.5px,#ffc5e5 375.5px,#ffcbf1 415.5px,#ffcbf1 685.5px)"></i><i style="background:linear-gradient(90deg,#6c72ff 0,#6c79ff 32.5px,#67c7ff 80.5px,#66dfff 85.5px,#66f5ff 91.5px,#66fee9 95.5px,#66ffb6 99.5px,#66ffad 100.5px,#66ffa8 102.5px,#66ffa2 187.5px,#67ff9e 190.5px,#67ff94 191.5px,#68ff7e 192.5px,#7bff6a 193.5px,#c7ff60 195.5px,#eaf778 196.5px,#fde994 197.5px,#fde198 198.5px,#fedc9b 200.5px,#feda9b 261.5px,#ffcea0 268.5px,#ffbca0 278.5px,#ffb2a0 292.5px,#ffaaad 296.5px,#ffb2be 299.5px,#ffc6e6 304.5px,#ffc9ee 306.5px,#ffcbf1 309.5px,#ffcbf1 345.5px,#ffc5e6 375.5px,#ffcbf1 413.5px,#ffcbf1 685.5px)"></i><i style="background:linear-gradient(90deg,#6c72ff 0,#6c77ff 31.5px,#67c6ff 79.5px,#66e2ff 85.5px,#66f4ff 90.5px,#66fbf2 93.5px,#66ffe1 95.5px,#66ffaf 99.5px,#66ffa8 101.5px,#66ffa3 185.5px,#66ff9f 188.5px,#67ff96 189.5px,#68ff81 190.5px,#79ff6c 191.5px,#c3ff60 193.5px,#e7f876 194.5px,#fceb93 195.5px,#fde298 196.5px,#fedb9b 199.5px,#fedb9b 258.5px,#ffcea0 265.5px,#ffbca0 275.5px,#ffb2a0 288.5px,#ffaaad 292.5px,#ffb2be 295.5px,#ffc6e7 300.5px,#ffc9ee 302.5px,#ffcbf1 305.5px,#ffcbf1 346.5px,#ffc6e7 375.5px,#ffcbf1 410.5px,#ffcbf1 685.5px)"></i><i style="background:linear-gradient(90deg,#6c72ff 0,#6c77ff 31.5px,#67c6ff 78.5px,#67ccff 80.5px,#66e1ff 84.5px,#66f3ff 89.5px,#66faf4 92.5px,#66ffe4 94.5px,#66ffb2 98.5px,#66ffa8 100.5px,#66ffa2 183.5px,#67ff9e 186.5px,#67ff96 187.5px,#68ff83 188.5px,#77ff6f 189.5px,#99ff65 190.5px,#bfff60 191.5px,#e3f974 192.5px,#faec90 193.5px,#fde397 194.5px,#fedb9b 197.5px,#feda9b 255.5px,#ffcea0 262.5px,#ffbca0 272.5px,#ffb2a0 283.5px,#ffabae 288.5px,#ffb2bf 291.5px,#ffc6e7 296.5px,#ffc9ee 298.5px,#ffcbf1 301.5px,#ffcbf1 347.5px,#ffc6e8 375.5px,#ffcbf1 408.5px,#ffcbf1 685.5px)"></i><i style="background:linear-gradient(90deg,#6c72ff 0,#6c78ff 31.5px,#67c7ff 78.5px,#66e0ff 83.5px,#66f5fe 89.5px,#66ffe7 93.5px,#66ffb4 97.5px,#66ffa9 99.5px,#66ffa2 174.5px,#67ff9a 182.5px,#67ff8d 184.5px,#6aff80 185.5px,#77ff75 186.5px,#88ff68 187.5px,#a7ff63 188.5px,#c8fe64 189.5px,#e7f679 190.5px,#fbeb91 191.5px,#fde397 192.5px,#fedb9b 195.5px,#fed79d 248.5px,#ffd09f 255.5px,#ffb4a0 272.5px,#ffafa5 274.5px,#ffb0ab 278.5px,#ffadb4 280.5px,#ffb1bc 283.5px,#ffc8eb 293.5px,#ffcbf1 297.5px,#ffcbf1 348.5px,#ffc7e9 375.5px,#ffcbf1 406.5px,#ffcbf1 685.5px)"></i><i style="background:linear-gradient(90deg,#6c72ff 0,#6c78ff 31.5px,#67c6ff 77.5px,#66deff 82.5px,#66f4ff 88.5px,#66feea 92.5px,#66ffb7 96.5px,#66ffa9 98.5px,#66ffa4 154.5px,#67ff9b 161.5px,#68ff84 165.5px,#6dff81 168.5px,#6dff81 173.5px,#73ff7c 175.5px,#8dff68 178.5px,#a0ff65 182.5px,#a9ff64 183.5px,#b7ff62 184.5px,#cff973 185.5px,#e1f57a 186.5px,#edf17c 187.5px,#fde895 188.5px,#fede99 190.5px,#fedb9b 192.5px,#feda9b 215.5px,#ffd39e 232.5px,#ffcba0 241.5px,#ffbda0 249.5px,#ffb7a6 251.5px,#ffb2b0 263.5px,#ffafb5 264.5px,#ffb6c7 268.5px,#ffbbd1 275.5px,#ffc4e4 280.5px,#ffcaef 287.5px,#ffcbf1 292.5px,#ffcbf1 350.5px,#ffc8ea 375.5px,#ffcbf1 403.5px,#ffcbf1 685.5px)"></i><i style="background:linear-gradient(90deg,#6c72ff 0,#6c78ff 31.5px,#69a9ff 58.5px,#67c6ff 76.5px,#67ccff 78.5px,#66e2ff 82.5px,#66f4ff 87.5px,#66fdec 91.5px,#66ffb0 96.5px,#66ffa8 98.5px,#66ffa2 153.5px,#66ff9f 154.5px,#67ff95 155.5px,#68ff80 156.5px,#85ff6b 158.5px,#9fff65 161.5px,#b8ff63 163.5px,#ccfa72 164.5px,#d8f67a 165.5px,#e1f27b 168.5px,#e2f27b 174.5px,#eaf07b 176.5px,#fde795 178.5px,#fedc9b 187.5px,#feda9b 208.5px,#ffcca0 218.5px,#ffb5a0 237.5px,#ffb1a4 238.5px,#ffb0ac 241.5px,#ffaeb5 242.5px,#ffb7c9 245.5px,#ffbcd3 249.5px,#ffc2e0 252.5px,#ffc6e7 264.5px,#ffcaef 270.5px,#ffcbf1 351.5px,#ffc8ec 375.5px,#ffcbf1 401.5px,#ffcbf1 685.5px)"></i><i style="background:linear-gradient(90deg,#6c72ff 0,#6c78ff 31.5px,#69abff 58.5px,#67c7ff 76.5px,#66e0ff 81.5px,#66f2ff 86.5px,#66faf4 89.5px,#66ffe6 91.5px,#66ffb3 95.5px,#66ffa9 97.5px,#66ffa2 152.5px,#67ff9c 154.5px,#68ff87 155.5px,#77ff6b 156.5px,#a5ff62 157.5px,#cbff60 158.5px,#ecf77a 159.5px,#fceb93 160.5px,#fee099 162.5px,#fedb9b 168.5px,#feda9b 207.5px,#ffd0a0 212.5px,#ffbca0 223.5px,#ffb1a0 235.5px,#ffaaa6 236.5px,#ffa9ab 237.5px,#ffafb8 240.5px,#ffc5e5 244.5px,#ffc8ec 245.5px,#ffcbf0 252.5px,#ffcbf1 353.5px,#ffc9ed 374.5px,#ffcbf1 398.5px,#ffcbf1 685.5px)"></i><i style="background:linear-gradient(90deg,#6c72ff 0,#6c78ff 31.5px,#69aaff 57.5px,#67c6ff 75.5px,#66e2ff 81.5px,#66f4ff 86.5px,#66faf2 89.5px,#66ffe2 91.5px,#66ffaf 95.5px,#66ffa8 97.5px,#66ffa2 152.5px,#67ff9b 154.5px,#68ff86 155.5px,#79ff6a 156.5px,#a8ff62 157.5px,#d0ff5f 158.5px,#f8f28b 159.5px,#fde696 160.5px,#fedc9b 162.5px,#fedb9b 207.5px,#ffd0a0 212.5px,#ffbca0 223.5px,#ffb1a0 235.5px,#ffa8a8 236.5px,#ffadb3 239.5px,#ffb4c2 241.5px,#ffc6e7 244.5px,#ffc9ee 245.5px,#ffcbf1 247.5px,#ffc9ee 374.5px,#ffcbf1 396.5px,#ffcbf1 685.5px)"></i><i style="background:linear-gradient(90deg,#6c72ff 0,#6c78ff 31.5px,#69aaff 57.5px,#67c6ff 75.5px,#66e2ff 81.5px,#66f4ff 86.5px,#66fbf2 89.5px,#66ffe0 91.5px,#66ffb8 94.5px,#66ffae 95.5px,#66ffa9 96.5px,#66ffa2 152.5px,#67ff9b 154.5px,#68ff86 155.5px,#79ff6a 156.5px,#a8ff62 157.5px,#d0ff5f 158.5px,#f8f28b 159.5px,#fde696 160.5px,#fedc9b 162.5px,#fedb9b 207.5px,#ffcfa0 213.5px,#ffbba0 224.5px,#ffb1a0 235.5px,#ffa8a8 236.5px,#ffadb3 239.5px,#ffb4c2 241.5px,#ffc6e7 244.5px,#ffc9ee 245.5px,#ffcbf1 247.5px,#ffcbf1 685.5px)"></i><i style="background:linear-gradient(90deg,#6c72ff 0,#6c77ff 30.5px,#69aaff 57.5px,#67c6ff 75.5px,#66dfff 80.5px,#66f5ff 86.5px,#66feea 90.5px,#66ffb6 94.5px,#66ffad 95.5px,#66ffa9 96.5px,#66ffa2 152.5px,#67ff9b 154.5px,#68ff86 155.5px,#79ff6a 156.5px,#a8ff62 157.5px,#d0ff5f 158.5px,#f8f28b 159.5px,#fde696 160.5px,#fedc9b 162.5px,#feda9b 208.5px,#ffcfa0 213.5px,#ffbba0 224.5px,#ffb1a0 235.5px,#ffa8a8 236.5px,#ffadb3 239.5px,#ffb4c2 241.5px,#ffc6e7 244.5px,#ffc9ee 245.5px,#ffcbf1 247.5px,#ffcbf1 685.5px)"></i><i style="background:linear-gradient(90deg,#6c72ff 0,#6c77ff 30.5px,#69aaff 57.5px,#67c7ff 75.5px,#66dfff 80.5px,#66f5ff 86.5px,#66ffe9 90.5px,#66ffb5 94.5px,#66ffa9 96.5px,#66ffa2 152.5px,#67ff9b 154.5px,#68ff86 155.5px,#79ff6a 156.5px,#a8ff62 157.5px,#d0ff5f 158.5px,#f8f28b 159.5px,#fde696 160.5px,#fedc9b 162.5px,#fedb9b 208.5px,#ffd0a0 213.5px,#ffbca0 224.5px,#ffb1a0 235.5px,#ffa8a8 236.5px,#ffadb3 239.5px,#ffb4c2 241.5px,#ffc6e7 244.5px,#ffc9ee 245.5px,#ffcbf1 247.5px,#ffcbf1 685.5px)"></i><i style="background:linear-gradient(90deg,#6c72ff 0,#6c77ff 30.5px,#69aaff 57.5px,#67c7ff 75.5px,#66e0ff 80.5px,#66f5ff 86.5px,#66ffe8 90.5px,#66ffb4 94.5px,#66ffa9 96.5px,#66ffa2 152.5px,#67ff9b 154.5px,#68ff86 155.5px,#79ff6a 156.5px,#a8ff62 157.5px,#d0ff5f 158.5px,#f8f28b 159.5px,#fde696 160.5px,#fedc9b 162.5px,#fedb9b 208.5px,#ffcfa0 214.5px,#ffbaa0 225.5px,#ffb1a0 235.5px,#ffa8a8 236.5px,#ffadb3 239.5px,#ffb4c2 241.5px,#ffc6e7 244.5px,#ffc9ee 245.5px,#ffcbf1 247.5px,#ffcbf1 685.5px)"></i><i style="background:linear-gradient(90deg,#6c72ff 0,#6c77ff 30.5px,#69abff 57.5px,#67c7ff 75.5px,#66e0ff 80.5px,#66f2ff 85.5px,#66faf4 88.5px,#66ffe7 90.5px,#66ffb3 94.5px,#66ffa8 96.5px,#66ffa2 152.5px,#67ff9b 154.5px,#68ff86 155.5px,#79ff6a 156.5px,#a8ff62 157.5px,#d0ff5f 158.5px,#f8f28b 159.5px,#fde696 160.5px,#fedc9b 162.5px,#feda9b 209.5px,#ffcfa0 214.5px,#ffbba0 225.5px,#ffb1a0 235.5px,#ffa8a8 236.5px,#ffadb3 239.5px,#ffb4c2 241.5px,#ffc6e7 244.5px,#ffc9ee 245.5px,#ffcbf1 247.5px,#ffcbf1 685.5px)"></i><i style="background:linear-gradient(90deg,#6c72ff 0,#6c77ff 30.5px,#69abff 57.5px,#67c5ff 74.5px,#66f3ff 85.5px,#66faf4 88.5px,#66ffe5 90.5px,#66ffb2 94.5px,#66ffa8 96.5px,#66ffa2 152.5px,#67ff9b 154.5px,#68ff86 155.5px,#79ff6a 156.5px,#a8ff62 157.5px,#d0ff5f 158.5px,#f8f28b 159.5px,#fde696 160.5px,#fedc9b 162.5px,#fedb9b 209.5px,#ffd0a0 214.5px,#ffbba0 225.5px,#ffb1a0 235.5px,#ffa8a8 236.5px,#ffadb3 239.5px,#ffb4c2 241.5px,#ffc6e7 244.5px,#ffc9ee 245.5px,#ffcbf1 247.5px,#ffcbf1 685.5px)"></i><i style="background:linear-gradient(90deg,#6c72ff 0,#6c78ff 30.5px,#69a9ff 56.5px,#67c6ff 74.5px,#67ccff 76.5px,#66e1ff 80.5px,#66f3ff 85.5px,#66faf3 88.5px,#66ffe4 90.5px,#66ffb1 94.5px,#66ffa8 96.5px,#66ffa2 152.5px,#67ff9b 154.5px,#68ff86 155.5px,#79ff6a 156.5px,#a8ff62 157.5px,#d0ff5f 158.5px,#f8f28b 159.5px,#fde696 160.5px,#fedc9b 162.5px,#fedb9b 209.5px,#ffd1a0 214.5px,#ffbca0 225.5px,#ffb1a0 235.5px,#ffa8a8 236.5px,#ffadb3 239.5px,#ffb4c2 241.5px,#ffc6e7 244.5px,#ffc9ee 245.5px,#ffcbf1 247.5px,#ffcbf1 685.5px)"></i><i style="background:linear-gradient(90deg,#6c72ff 0,#6c78ff 30.5px,#69a9ff 56.5px,#67c6ff 74.5px,#67ccff 76.5px,#66e1ff 80.5px,#66f3ff 85.5px,#66faf3 88.5px,#66ffe3 90.5px,#66ffb0 94.5px,#66ffa8 96.5px,#66ffa2 152.5px,#67ff9b 154.5px,#68ff86 155.5px,#79ff6a 156.5px,#a8ff62 157.5px,#d0ff5f 158.5px,#f8f28b 159.5px,#fde696 160.5px,#fedc9b 162.5px,#fedb9b 209.5px,#ffcfa0 215.5px,#ffbba0 226.5px,#ffb1a0 235.5px,#ffa8a8 236.5px,#ffadb3 239.5px,#ffb4c2 241.5px,#ffc6e7 244.5px,#ffc9ee 245.5px,#ffcbf1 247.5px,#ffcbf1 685.5px)"></i><i style="background:linear-gradient(90deg,#6c72ff 0,#6c78ff 30.5px,#69a9ff 56.5px,#67c6ff 74.5px,#66e2ff 80.5px,#66f4ff 85.5px,#66faf2 88.5px,#66ffe2 90.5px,#66ffaf 94.5px,#66ffa8 96.5px,#66ffa2 152.5px,#67ff9b 154.5px,#68ff86 155.5px,#79ff6a 156.5px,#a8ff62 157.5px,#d0ff5f 158.5px,#f8f28b 159.5px,#fde696 160.5px,#fedc9b 162.5px,#feda9b 210.5px,#ffd0a0 215.5px,#ffbba0 226.5px,#ffb1a0 235.5px,#ffa8a8 236.5px,#ffadb3 239.5px,#ffb4c2 241.5px,#ffc6e7 244.5px,#ffc9ee 245.5px,#ffcbf1 247.5px,#ffcbf1 685.5px)"></i><i style="background:linear-gradient(90deg,#6c72ff 0,#6c78ff 30.5px,#69aaff 56.5px,#67c6ff 74.5px,#66e2ff 80.5px,#66f4ff 85.5px,#66fbf2 88.5px,#66ffe1 90.5px,#66ffae 94.5px,#66ffa8 96.5px,#66ffa2 152.5px,#67ff9b 154.5px,#68ff86 155.5px,#79ff6a 156.5px,#a8ff62 157.5px,#d0ff5f 158.5px,#f8f28b 159.5px,#fde696 160.5px,#fedc9b 162.5px,#fedb9b 210.5px,#ffd0a0 215.5px,#ffbca0 226.5px,#ffb1a0 235.5px,#ffa8a8 236.5px,#ffadb3 239.5px,#ffb4c2 241.5px,#ffc6e7 244.5px,#ffc9ee 245.5px,#ffcbf1 247.5px,#ffcbf1 685.5px)"></i><i style="background:linear-gradient(90deg,#6c72ff 0,#6c78ff 30.5px,#69aaff 56.5px,#67c6ff 74.5px,#66deff 79.5px,#66f5ff 85.5px,#66fbf1 88.5px,#66ffdf 90.5px,#66ffb7 93.5px,#66ffad 94.5px,#66ffa9 95.5px,#66ffa2 152.5px,#67ff9b 154.5px,#68ff86 155.5px,#79ff6a 156.5px,#a8ff62 157.5px,#d0ff5f 158.5px,#f8f28b 159.5px,#fde696 160.5px,#fedc9b 162.5px,#fedb9b 210.5px,#ffcfa0 216.5px,#ffbba0 227.5px,#ffb1a0 235.5px,#ffa8a8 236.5px,#ffadb3 239.5px,#ffb4c2 241.5px,#ffc6e7 244.5px,#ffc9ee 245.5px,#ffcbf1 247.5px,#ffcbf1 685.5px)"></i><i style="background:linear-gradient(90deg,#6c72ff 0,#6c78ff 30.5px,#69aaff 56.5px,#67c7ff 74.5px,#66dfff 79.5px,#66f5ff 85.5px,#66fee9 89.5px,#66ffb6 93.5px,#66ffad 94.5px,#66ffa9 95.5px,#66ffa2 152.5px,#67ff9b 154.5px,#68ff86 155.5px,#79ff6a 156.5px,#a8ff62 157.5px,#d0ff5f 158.5px,#f8f28b 159.5px,#fde696 160.5px,#fedc9b 162.5px,#feda9b 211.5px,#ffcfa0 216.5px,#ffbba0 227.5px,#ffb1a0 235.5px,#ffa8a8 236.5px,#ffadb3 239.5px,#ffb4c2 241.5px,#ffc6e7 244.5px,#ffc9ee 245.5px,#ffcbf1 247.5px,#ffcbf1 685.5px)"></i><i style="background:linear-gradient(90deg,#6c72ff 0,#6c78ff 30.5px,#69aaff 56.5px,#67c7ff 74.5px,#66e0ff 79.5px,#66f5ff 85.5px,#66ffe8 89.5px,#66ffb5 93.5px,#66ffa9 95.5px,#66ffa2 152.5px,#67ff9b 154.5px,#68ff86 155.5px,#79ff6a 156.5px,#a8ff62 157.5px,#d0ff5f 158.5px,#f8f28b 159.5px,#fde696 160.5px,#fedc9b 162.5px,#fedb9b 211.5px,#ffd0a0 216.5px,#ffb1a0 235.5px,#ffa8a8 236.5px,#ffadb3 239.5px,#ffb4c2 241.5px,#ffc6e7 244.5px,#ffc9ee 245.5px,#ffcbf1 247.5px,#ffcbf1 685.5px)"></i><i style="background:linear-gradient(90deg,#6c72ff 0,#6c78ff 30.5px,#69aaff 56.5px,#67c7ff 74.5px,#66e0ff 79.5px,#66f2ff 84.5px,#66f5fe 85.5px,#66ffe7 89.5px,#66ffb4 93.5px,#66ffa8 95.5px,#66ffa2 152.5px,#67ff9b 154.5px,#68ff86 155.5px,#79ff6a 156.5px,#a8ff62 157.5px,#d0ff5f 158.5px,#f8f28b 159.5px,#fde696 160.5px,#fedc9b 162.5px,#fedb9b 211.5px,#ffcfa0 217.5px,#ffb1a0 235.5px,#ffa8a8 236.5px,#ffadb3 239.5px,#ffb4c2 241.5px,#ffc6e7 244.5px,#ffc9ee 245.5px,#ffcbf1 247.5px,#ffcbf1 685.5px)"></i><i style="background:linear-gradient(90deg,#6c72ff 0,#6c78ff 30.5px,#69abff 56.5px,#67c7ff 74.5px,#66e0ff 79.5px,#66f2ff 84.5px,#66faf4 87.5px,#66ffe6 89.5px,#66ffb3 93.5px,#66ffa8 95.5px,#66ffa2 152.5px,#67ff9b 154.5px,#68ff86 155.5px,#79ff6a 156.5px,#a8ff62 157.5px,#d0ff5f 158.5px,#f8f28b 159.5px,#fde696 160.5px,#fedc9b 162.5px,#fedb9b 211.5px,#ffcfa0 217.5px,#ffb1a0 235.5px,#ffa9a7 236.5px,#ffadb3 239.5px,#ffb4c2 241.5px,#ffc6e7 244.5px,#ffc9ee 245.5px,#ffcbf1 247.5px,#ffcbf1 685.5px)"></i></div>
<svg width="1770" height="953" viewBox="0 0 1770 953">
<polyline points="195.7,635.2 240.6,615.9 273.0,592.0 307.0,566.0 317.3,558.8 333.4,535.7 376.0,514.0 401.0,503.6 490.0,467.0 650.0,380.3 767.9,290.3 814.0,259.9" fill="none" stroke="#f5000a" stroke-width="4.6" stroke-linejoin="round"/>
<polyline points="195.7,652.5 400.7,533.2 425.5,513.5 667.2,380.5 740.6,290.3 814.0,245.2" fill="none" stroke="#0000fa" stroke-width="4.6" stroke-linejoin="round"/>
<rect x="235.6" y="583.2" width="76.0" height="15.5" fill="#f5000a" transform="rotate(-34.8 273.6 591.0)"/>
<rect x="319.0" y="549.0" width="80.0" height="14.5" fill="#0000fa" transform="rotate(-30.1 359.0 556.2)"/>
<g fill="#0000fa"><circle cx="171.8" cy="621.9" r="9.7"/><circle cx="291.5" cy="590.6" r="9.7"/><circle cx="521.7" cy="523.4" r="9.7"/><circle cx="597.9" cy="469.6" r="9.7"/><circle cx="643.7" cy="469.6" r="9.7"/><circle cx="726.7" cy="469.6" r="9.7"/><circle cx="736.1" cy="469.6" r="9.7"/></g>
<g fill="#f5000a"><circle cx="237.0" cy="533.0" r="9.7"/><circle cx="190.3" cy="559.4" r="9.7"/><circle cx="230.5" cy="554.9" r="9.7"/><circle cx="345.2" cy="545.6" r="9.7"/></g>
<g stroke="#1aa552" stroke-width="3.1" fill="#1aa552" stroke-linejoin="miter">
<path d="M340.5 652L272 604M340.5 652L351.6 576" fill="none"/>
<path d="M267.4 600.4L277.5 602.3L272.3 609.3Z"/>
<path d="M352.8 566.5L356.3 576.5L347.6 575.3Z"/>
</g>
<text x="412" y="146" class="lb">LwsEc</text>
<text x="566" y="270" class="lb">DryEc</text>
<text x="212" y="280" class="lb">LwsBS</text>
<text x="181" y="413" class="lb">BS</text>
<text x="451" y="472" class="lb">ZoEc</text>
<text x="346" y="500" class="lb">AmpEc</text>
<text x="310" y="616" class="lb">AMP</text>
<text x="655" y="557" class="lb">GR</text>
<rect x="141.5" y="22.0" width="673.5" height="671.6" fill="none" stroke="#000" stroke-width="3.8"/>
<text x="114.0" y="705.0" text-anchor="end" class="tk">0</text>
<text x="114.0" y="660.2" text-anchor="end" class="tk">10</text>
<text x="114.0" y="615.4" text-anchor="end" class="tk">20</text>
<text x="114.0" y="570.6" text-anchor="end" class="tk">30</text>
<text x="114.0" y="525.8" text-anchor="end" class="tk">40</text>
<text x="114.0" y="481.0" text-anchor="end" class="tk">50</text>
<text x="114.0" y="436.3" text-anchor="end" class="tk">60</text>
<text x="114.0" y="391.5" text-anchor="end" class="tk">70</text>
<text x="114.0" y="346.7" text-anchor="end" class="tk">80</text>
<text x="114.0" y="301.9" text-anchor="end" class="tk">90</text>
<text x="114.0" y="257.1" text-anchor="end" class="tk">100</text>
<text x="114.0" y="212.3" text-anchor="end" class="tk">110</text>
<text x="114.0" y="167.5" text-anchor="end" class="tk">120</text>
<text x="114.0" y="122.7" text-anchor="end" class="tk">130</text>
<text x="114.0" y="77.9" text-anchor="end" class="tk">140</text>
<text x="114.0" y="33.1" text-anchor="end" class="tk">150</text>
<text x="208.2" y="744.6" text-anchor="middle" class="tk">300</text>
<text x="410.5" y="744.6" text-anchor="middle" class="tk">600</text>
<text x="612.7" y="744.6" text-anchor="middle" class="tk">900</text>
<text x="815.0" y="744.6" text-anchor="middle" class="tk">1200</text>
<path d="M140.0 693.6h-13.5M816.5 693.6h13.5M140.0 648.8h-13.5M816.5 648.8h13.5M140.0 604.0h-13.5M816.5 604.0h13.5M140.0 559.2h-13.5M816.5 559.2h13.5M140.0 514.4h-13.5M816.5 514.4h13.5M140.0 469.6h-13.5M816.5 469.6h13.5M140.0 424.9h-13.5M816.5 424.9h13.5M140.0 380.1h-13.5M816.5 380.1h13.5M140.0 335.3h-13.5M816.5 335.3h13.5M140.0 290.5h-13.5M816.5 290.5h13.5M140.0 245.7h-13.5M816.5 245.7h13.5M140.0 200.9h-13.5M816.5 200.9h13.5M140.0 156.1h-13.5M816.5 156.1h13.5M140.0 111.3h-13.5M816.5 111.3h13.5M140.0 66.5h-13.5M816.5 66.5h13.5M140.0 21.8h-13.5M816.5 21.8h13.5M140.8 695.1v7.0M140.8 20.5v-7.0M208.2 695.1v13.5M208.2 20.5v-13.5M275.6 695.1v7.0M275.6 20.5v-7.0M343.0 695.1v7.0M343.0 20.5v-7.0M410.5 695.1v13.5M410.5 20.5v-13.5M477.9 695.1v7.0M477.9 20.5v-7.0M545.3 695.1v7.0M545.3 20.5v-7.0M612.7 695.1v13.5M612.7 20.5v-13.5M680.1 695.1v7.0M680.1 20.5v-7.0M747.6 695.1v7.0M747.6 20.5v-7.0M815.0 695.1v13.5M815.0 20.5v-13.5" stroke="#111" stroke-width="1.5" fill="none"/>
<g transform="rotate(-6.8 361.5 668.5)"><rect x="311.5" y="647.5" width="98.5" height="42" fill="#0d8512"/><text x="361.5" y="682" text-anchor="middle" fill="#fff" style="font:700 35px 'Noto Sans CJK JP','Liberation Sans',sans-serif">S-SSE</text></g>
<text x="-0.7" y="32.8" style="font:300 38px 'Noto Sans CJK JP','Liberation Sans',sans-serif;letter-spacing:2px">(a)</text>
<text x="480" y="797" text-anchor="middle" style="font:29px 'Liberation Sans','Noto Sans CJK JP',sans-serif">Temperature (<tspan dy="-9" font-size="20">o</tspan><tspan dy="9">C)</tspan></text>
<text transform="translate(27.5 357.5) rotate(-90)" text-anchor="middle" style="font:400 27.6px 'Noto Sans CJK JP','Liberation Sans',sans-serif">Depth (km)</text>
<text x="494.6" y="851.3" text-anchor="middle" style="font:700 32.4px 'Liberation Serif','Noto Serif CJK JP',serif">water content (wt%)</text>
<defs><linearGradient id="cb242" x1="0" x2="1" y1="0" y2="0"><stop offset="0.0000" stop-color="rgb(255,204,243)"/><stop offset="0.0833" stop-color="rgb(255,186,208)"/><stop offset="0.1667" stop-color="rgb(255,168,168)"/><stop offset="0.1700" stop-color="rgb(255,176,160)"/><stop offset="0.2500" stop-color="rgb(255,208,160)"/><stop offset="0.3083" stop-color="rgb(252,240,145)"/><stop offset="0.3333" stop-color="rgb(218,255,95)"/><stop offset="0.4167" stop-color="rgb(160,255,98)"/><stop offset="0.5000" stop-color="rgb(105,255,110)"/><stop offset="0.5833" stop-color="rgb(102,255,168)"/><stop offset="0.6667" stop-color="rgb(102,255,232)"/><stop offset="0.7000" stop-color="rgb(102,245,255)"/><stop offset="0.7583" stop-color="rgb(102,224,255)"/><stop offset="0.8333" stop-color="rgb(104,180,255)"/><stop offset="0.8833" stop-color="rgb(106,150,255)"/><stop offset="0.9500" stop-color="rgb(108,112,255)"/><stop offset="1.0000" stop-color="rgb(135,100,255)"/></linearGradient></defs>
<path d="M241.3 874.8L235.1 881.0L241.3 887.2Z" fill="#fff" stroke="#000" stroke-width="2.6" stroke-linejoin="miter"/>
<path d="M714.9 874.8L721.1 881.0L714.9 887.2Z" fill="#3a3468" stroke="#000" stroke-width="2.8" stroke-linejoin="miter"/>
<rect x="242.3" y="874.5" width="471.6" height="13.0" fill="url(#cb242)" stroke="#000" stroke-width="4"/>
<text x="242.3" y="938.0" text-anchor="middle" class="tk">0</text>
<text x="320.9" y="938.0" text-anchor="middle" class="tk">1</text>
<text x="399.5" y="938.0" text-anchor="middle" class="tk">2</text>
<text x="478.1" y="938.0" text-anchor="middle" class="tk">3</text>
<text x="556.7" y="938.0" text-anchor="middle" class="tk">4</text>
<text x="635.3" y="938.0" text-anchor="middle" class="tk">5</text>
<text x="713.9" y="938.0" text-anchor="middle" class="tk">6</text>
<path d="M242.3 875.5V902.0M320.9 875.5V902.0M399.5 875.5V902.0M478.1 875.5V902.0M556.7 875.5V902.0M635.3 875.5V902.0M713.9 875.5V902.0" stroke="#222" stroke-width="1.2" fill="none"/>
<polyline points="1130.7,563.5 1171.6,540.8 1287.8,518.0 1383.4,472.5 1523.4,381.5 1636.1,290.5 1711.2,199.5 1731.7,144.9" fill="none" stroke="#f5000a" stroke-width="4.6" stroke-linejoin="round"/>
<polyline points="1137.5,588.1 1211.3,543.0 1308.2,495.2 1362.9,472.5 1485.8,381.5 1554.1,290.5 1663.4,108.5" fill="none" stroke="#0000fa" stroke-width="4.6" stroke-linejoin="round"/>
<rect x="1122.9" y="559.6" width="95.7" height="15.7" fill="#0000fa" transform="rotate(-32.5 1170.7 567.5)"/>
<g transform="rotate(-26.6 1126.6 630.2)"><rect x="1060" y="603.8" width="132.4" height="54.6" fill="#0a970a"/><text x="1125.5" y="643.5" text-anchor="middle" fill="#fff" style="font:700 35.5px 'Noto Sans CJK JP','Liberation Sans',sans-serif">S-SSE</text></g>
<text transform="translate(1189 157) rotate(80.5)" text-anchor="middle" style="font:700 34px 'Liberation Sans','Noto Sans CJK JP',sans-serif">brucite</text>
<text transform="translate(1257 158) rotate(79)" text-anchor="middle" style="font:700 38px 'Liberation Sans','Noto Sans CJK JP',sans-serif">antigorite</text>
<text transform="translate(1351 152) rotate(68)" text-anchor="middle" style="font:700 33.5px 'Liberation Sans','Noto Sans CJK JP',sans-serif">chrolite</text>
<text transform="translate(1441 282) rotate(73)" text-anchor="middle" style="font:700 33.5px 'Liberation Sans','Noto Sans CJK JP',sans-serif">amphibole</text>
<rect x="1048.4" y="17.5" width="683.4" height="682.5" fill="none" stroke="#000" stroke-width="3.8"/>
<text x="1020.9" y="711.4" text-anchor="end" class="tk tb">0</text>
<text x="1020.9" y="665.9" text-anchor="end" class="tk tb">10</text>
<text x="1020.9" y="620.4" text-anchor="end" class="tk tb">20</text>
<text x="1020.9" y="574.9" text-anchor="end" class="tk tb">30</text>
<text x="1020.9" y="529.4" text-anchor="end" class="tk tb">40</text>
<text x="1020.9" y="483.9" text-anchor="end" class="tk tb">50</text>
<text x="1020.9" y="438.4" text-anchor="end" class="tk tb">60</text>
<text x="1020.9" y="392.9" text-anchor="end" class="tk tb">70</text>
<text x="1020.9" y="347.4" text-anchor="end" class="tk tb">80</text>
<text x="1020.9" y="301.9" text-anchor="end" class="tk tb">90</text>
<text x="1020.9" y="256.4" text-anchor="end" class="tk tb">100</text>
<text x="1020.9" y="210.9" text-anchor="end" class="tk tb">110</text>
<text x="1020.9" y="165.4" text-anchor="end" class="tk tb">120</text>
<text x="1020.9" y="119.9" text-anchor="end" class="tk tb">130</text>
<text x="1020.9" y="74.4" text-anchor="end" class="tk tb">140</text>
<text x="1020.9" y="28.9" text-anchor="end" class="tk tb">150</text>
<text x="1117.0" y="751.0" text-anchor="middle" class="tk tb">300</text>
<text x="1321.9" y="751.0" text-anchor="middle" class="tk tb">600</text>
<text x="1526.8" y="751.0" text-anchor="middle" class="tk tb">900</text>
<text x="1731.7" y="751.0" text-anchor="middle" class="tk tb">1200</text>
<path d="M1046.9 700.0h-13.5M1733.3 700.0h13.5M1046.9 654.5h-13.5M1733.3 654.5h13.5M1046.9 609.0h-13.5M1733.3 609.0h13.5M1046.9 563.5h-13.5M1733.3 563.5h13.5M1046.9 518.0h-13.5M1733.3 518.0h13.5M1046.9 472.5h-13.5M1733.3 472.5h13.5M1046.9 427.0h-13.5M1733.3 427.0h13.5M1046.9 381.5h-13.5M1733.3 381.5h13.5M1046.9 336.0h-13.5M1733.3 336.0h13.5M1046.9 290.5h-13.5M1733.3 290.5h13.5M1046.9 245.0h-13.5M1733.3 245.0h13.5M1046.9 199.5h-13.5M1733.3 199.5h13.5M1046.9 154.0h-13.5M1733.3 154.0h13.5M1046.9 108.5h-13.5M1733.3 108.5h13.5M1046.9 63.0h-13.5M1733.3 63.0h13.5M1046.9 17.5h-13.5M1733.3 17.5h13.5M1048.7 701.5v7.0M1048.7 16.0v-7.0M1117.0 701.5v13.5M1117.0 16.0v-13.5M1185.3 701.5v7.0M1185.3 16.0v-7.0M1253.6 701.5v7.0M1253.6 16.0v-7.0M1321.9 701.5v13.5M1321.9 16.0v-13.5M1390.2 701.5v7.0M1390.2 16.0v-7.0M1458.5 701.5v7.0M1458.5 16.0v-7.0M1526.8 701.5v13.5M1526.8 16.0v-13.5M1595.1 701.5v7.0M1595.1 16.0v-7.0M1663.4 701.5v7.0M1663.4 16.0v-7.0M1731.7 701.5v13.5M1731.7 16.0v-13.5" stroke="#111" stroke-width="1.5" fill="none"/>
<text x="901.5" y="33" style="font:300 38px 'Noto Sans CJK JP','Liberation Sans',sans-serif;letter-spacing:1.6px">(b)</text>
<text x="1390.5" y="804.5" text-anchor="middle" style="font:29.4px 'Liberation Sans','Noto Sans CJK JP',sans-serif">Temperature (<tspan dy="-9" font-size="20">o</tspan><tspan dy="9">C)</tspan></text>
<text transform="translate(931.5 358.5) rotate(-90)" text-anchor="middle" style="font:400 27.6px 'Noto Sans CJK JP','Liberation Sans',sans-serif">Depth (km)</text>
<text x="1371.5" y="857.5" text-anchor="middle" style="font:700 32.9px 'Liberation Serif','Noto Serif CJK JP',serif">water content (wt%)</text>
<defs><linearGradient id="cb1116" x1="0" x2="1" y1="0" y2="0"><stop offset="0.0000" stop-color="rgb(255,204,243)"/><stop offset="0.0833" stop-color="rgb(255,186,208)"/><stop offset="0.1667" stop-color="rgb(255,168,168)"/><stop offset="0.1700" stop-color="rgb(255,176,160)"/><stop offset="0.2500" stop-color="rgb(255,208,160)"/><stop offset="0.3083" stop-color="rgb(252,240,145)"/><stop offset="0.3333" stop-color="rgb(218,255,95)"/><stop offset="0.4167" stop-color="rgb(160,255,98)"/><stop offset="0.5000" stop-color="rgb(105,255,110)"/><stop offset="0.5833" stop-color="rgb(102,255,168)"/><stop offset="0.6667" stop-color="rgb(102,255,232)"/><stop offset="0.7000" stop-color="rgb(102,245,255)"/><stop offset="0.7583" stop-color="rgb(102,224,255)"/><stop offset="0.8333" stop-color="rgb(104,180,255)"/><stop offset="0.8833" stop-color="rgb(106,150,255)"/><stop offset="0.9500" stop-color="rgb(108,112,255)"/><stop offset="1.0000" stop-color="rgb(135,100,255)"/></linearGradient></defs>
<path d="M1115.5 883.8L1109.3 890.0L1115.5 896.2Z" fill="#fff" stroke="#000" stroke-width="2.6" stroke-linejoin="miter"/>
<path d="M1595.5 883.8L1601.7 890.0L1595.5 896.2Z" fill="#3a3468" stroke="#000" stroke-width="2.8" stroke-linejoin="miter"/>
<rect x="1116.5" y="883.5" width="478.0" height="13.0" fill="url(#cb1116)" stroke="#000" stroke-width="4"/>
<text x="1116.5" y="947.0" text-anchor="middle" class="tk">0</text>
<text x="1236.0" y="947.0" text-anchor="middle" class="tk">3</text>
<text x="1355.5" y="947.0" text-anchor="middle" class="tk">6</text>
<text x="1475.0" y="947.0" text-anchor="middle" class="tk">9</text>
<text x="1594.5" y="947.0" text-anchor="middle" class="tk">12</text>
<path d="M1116.5 884.5V911.0M1236.0 884.5V911.0M1355.5 884.5V911.0M1475.0 884.5V911.0M1594.5 884.5V911.0M1116.5 884.5V903.5M1156.3 884.5V903.5M1196.2 884.5V903.5M1236.0 884.5V903.5M1275.8 884.5V903.5M1315.7 884.5V903.5M1355.5 884.5V903.5M1395.3 884.5V903.5M1435.2 884.5V903.5M1475.0 884.5V903.5M1514.8 884.5V903.5M1554.7 884.5V903.5M1594.5 884.5V903.5" stroke="#222" stroke-width="1.2" fill="none"/>
</svg>
</div></body></html>
